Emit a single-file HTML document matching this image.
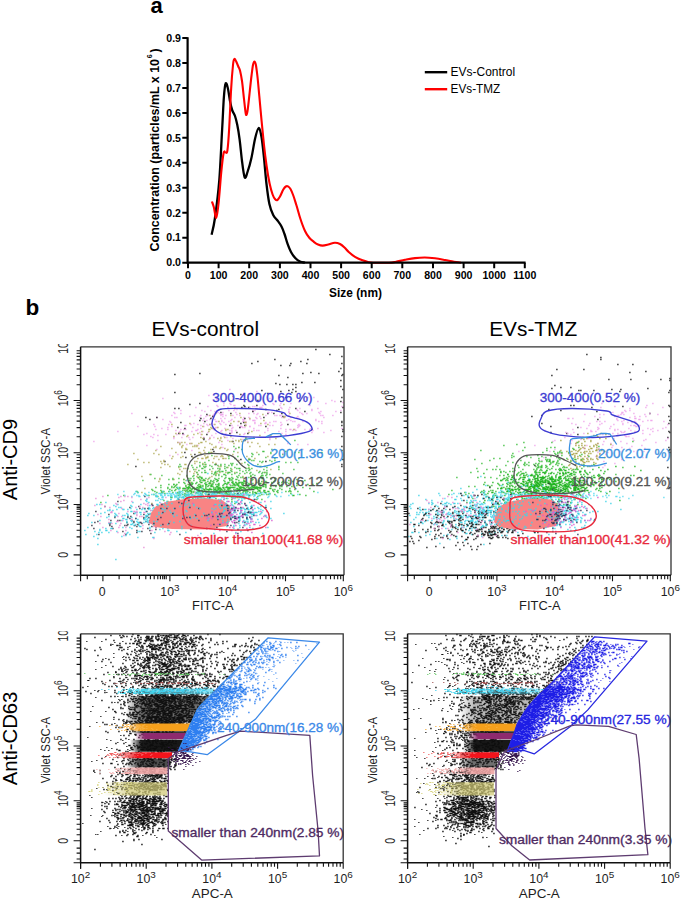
<!DOCTYPE html><html><head><meta charset="utf-8"><style>html,body{margin:0;padding:0;background:#fff;}svg{display:block;font-family:"Liberation Sans", sans-serif;}</style></head><body>
<svg width="685" height="905" viewBox="0 0 685 905">
<defs><clipPath id="ctop"><rect x="0" y="344.0" width="685" height="60"/></clipPath><clipPath id="cbot"><rect x="0" y="631.3" width="685" height="60"/></clipPath></defs>
<rect width="100%" height="100%" fill="#fff"/>
<path d="M211.6 234.7 C212.1 232.1 213.5 228.1 214.8 219.0 C216.1 209.9 218.1 194.8 219.3 180.0 C220.5 165.2 221.3 143.8 222.1 130.0 C222.9 116.2 223.3 104.8 223.9 97.0 C224.5 89.2 224.9 85.0 225.6 83.5 C226.2 82.0 227.0 84.9 227.8 88.0 C228.6 91.1 229.4 98.2 230.2 102.0 C230.9 105.8 231.5 108.2 232.3 110.5 C233.1 112.8 234.2 113.6 235.0 116.0 C235.8 118.4 236.5 121.1 237.3 125.0 C238.1 128.9 238.8 133.3 239.6 139.3 C240.4 145.3 241.2 154.6 242.0 161.0 C242.8 167.4 243.8 175.7 244.7 177.5 C245.6 179.3 246.4 175.2 247.5 172.0 C248.6 168.8 250.1 164.0 251.3 158.5 C252.6 153.0 253.8 144.1 255.0 139.0 C256.2 133.9 257.5 128.3 258.6 128.0 C259.7 127.7 260.6 132.0 261.5 137.0 C262.4 142.0 263.2 150.2 264.0 158.0 C264.8 165.8 265.6 176.3 266.5 184.0 C267.4 191.7 268.3 198.8 269.4 204.0 C270.5 209.2 271.8 212.2 273.2 215.0 C274.6 217.8 276.1 218.6 277.5 220.5 C278.9 222.4 280.3 224.2 281.5 226.5 C282.7 228.8 283.5 231.2 284.5 234.0 C285.5 236.8 286.4 240.6 287.5 243.6 C288.6 246.6 289.7 249.6 291.0 252.0 C292.3 254.4 294.0 256.7 295.5 258.3 C297.0 259.9 298.4 260.8 300.0 261.5 C301.6 262.2 304.2 262.5 305.0 262.7" fill="none" stroke="#000" stroke-width="2.3" stroke-linejoin="round"/>
<path d="M211.9 201.5 C212.2 202.4 213.1 204.3 213.8 207.0 C214.5 209.7 215.4 218.5 216.2 217.8 C217.0 217.1 217.8 210.5 218.6 203.0 C219.4 195.5 220.4 181.3 221.2 173.0 C222.0 164.7 222.9 156.4 223.6 153.0 C224.3 149.6 225.0 152.7 225.6 152.3 C226.2 151.9 226.8 154.6 227.4 150.5 C228.0 146.4 228.6 138.4 229.2 128.0 C229.8 117.6 230.5 98.7 231.2 88.0 C231.8 77.3 232.6 68.8 233.1 64.0 C233.6 59.2 233.9 59.4 234.4 59.0 C234.9 58.6 235.5 60.2 236.2 61.5 C236.8 62.8 237.7 65.0 238.3 66.5 C238.9 68.0 239.4 68.1 240.0 70.5 C240.6 72.9 241.3 76.2 242.0 81.0 C242.7 85.8 243.4 93.8 244.0 99.0 C244.6 104.2 245.1 109.4 245.5 112.0 C245.9 114.6 246.1 115.3 246.5 114.8 C246.9 114.3 247.3 112.6 247.8 109.0 C248.3 105.4 249.0 98.7 249.6 93.0 C250.2 87.3 251.0 79.8 251.6 75.0 C252.2 70.2 252.6 66.8 253.1 64.5 C253.6 62.2 253.9 61.5 254.4 61.5 C254.9 61.5 255.3 62.1 255.8 64.5 C256.3 66.9 256.8 70.8 257.4 76.0 C258.0 81.2 258.6 88.5 259.3 96.0 C260.0 103.5 260.8 112.8 261.6 121.0 C262.4 129.2 263.2 137.5 264.0 145.0 C264.8 152.5 265.7 159.6 266.6 166.0 C267.5 172.4 268.6 178.8 269.6 183.5 C270.6 188.2 271.7 191.9 272.6 194.5 C273.5 197.1 274.4 198.4 275.2 199.3 C276.0 200.2 276.6 200.5 277.4 200.0 C278.2 199.5 279.0 198.2 280.0 196.5 C281.0 194.8 282.3 191.2 283.3 189.5 C284.3 187.8 285.0 187.0 285.8 186.5 C286.6 186.0 287.2 186.0 288.0 186.4 C288.8 186.8 289.6 187.5 290.5 189.0 C291.4 190.5 292.3 192.8 293.3 195.5 C294.3 198.2 295.3 201.7 296.5 205.5 C297.7 209.3 298.9 214.2 300.3 218.5 C301.7 222.8 303.5 227.8 305.0 231.0 C306.5 234.2 308.0 236.2 309.5 238.0 C311.0 239.8 312.4 240.7 313.8 241.8 C315.2 242.9 316.5 243.9 318.0 244.5 C319.5 245.1 320.9 245.6 322.6 245.6 C324.3 245.6 326.3 245.0 328.3 244.5 C330.3 244.0 332.9 242.8 334.8 242.7 C336.8 242.6 338.4 243.2 340.0 244.0 C341.6 244.8 343.0 246.1 344.5 247.5 C346.0 248.9 347.2 250.8 349.0 252.3 C350.8 253.9 352.8 255.5 355.0 256.8 C357.2 258.1 360.3 259.5 362.5 260.3 C364.7 261.1 366.2 261.5 368.0 261.9 C369.8 262.3 369.5 262.6 373.0 262.7 C376.5 262.8 385.2 262.8 389.0 262.7 C392.8 262.6 393.3 262.3 396.0 261.8 C398.7 261.3 401.8 260.4 405.0 259.8 C408.2 259.2 411.7 258.5 415.0 258.1 C418.3 257.7 421.4 257.5 424.7 257.5 C428.0 257.5 431.6 257.9 435.0 258.3 C438.4 258.7 441.8 259.4 445.0 260.0 C448.2 260.6 451.3 261.4 454.0 261.8 C456.7 262.2 459.8 262.6 461.0 262.7" fill="none" stroke="#ff0000" stroke-width="2.1" stroke-linejoin="round"/>
<path d="M187.6 37.2 V262.7 H525.6" fill="none" stroke="#000" stroke-width="2.2"/>
<path d="M182.3 262.7H187.6M182.3 237.7H187.6M182.3 212.8H187.6M182.3 187.8H187.6M182.3 162.8H187.6M182.3 137.8H187.6M182.3 112.9H187.6M182.3 87.9H187.6M182.3 62.9H187.6M182.3 38.0H187.6M188.0 262.7V268.2M218.6 262.7V268.2M249.2 262.7V268.2M279.9 262.7V268.2M310.5 262.7V268.2M341.1 262.7V268.2M371.7 262.7V268.2M402.3 262.7V268.2M433.0 262.7V268.2M463.6 262.7V268.2M494.2 262.7V268.2M524.8 262.7V268.2" fill="none" stroke="#000" stroke-width="2"/>
<text x="181.0" y="266.4" font-size="10.60" text-anchor="end" font-weight="bold">0.0</text>
<text x="181.0" y="241.4" font-size="10.60" text-anchor="end" font-weight="bold">0.1</text>
<text x="181.0" y="216.5" font-size="10.60" text-anchor="end" font-weight="bold">0.2</text>
<text x="181.0" y="191.5" font-size="10.60" text-anchor="end" font-weight="bold">0.3</text>
<text x="181.0" y="166.5" font-size="10.60" text-anchor="end" font-weight="bold">0.4</text>
<text x="181.0" y="141.5" font-size="10.60" text-anchor="end" font-weight="bold">0.5</text>
<text x="181.0" y="116.6" font-size="10.60" text-anchor="end" font-weight="bold">0.6</text>
<text x="181.0" y="91.6" font-size="10.60" text-anchor="end" font-weight="bold">0.7</text>
<text x="181.0" y="66.6" font-size="10.60" text-anchor="end" font-weight="bold">0.8</text>
<text x="181.0" y="41.7" font-size="10.60" text-anchor="end" font-weight="bold">0.9</text>
<text x="188.0" y="279.2" font-size="10.60" text-anchor="middle" font-weight="bold">0</text>
<text x="218.6" y="279.2" font-size="10.60" text-anchor="middle" font-weight="bold">100</text>
<text x="249.2" y="279.2" font-size="10.60" text-anchor="middle" font-weight="bold">200</text>
<text x="279.9" y="279.2" font-size="10.60" text-anchor="middle" font-weight="bold">300</text>
<text x="310.5" y="279.2" font-size="10.60" text-anchor="middle" font-weight="bold">400</text>
<text x="341.1" y="279.2" font-size="10.60" text-anchor="middle" font-weight="bold">500</text>
<text x="371.7" y="279.2" font-size="10.60" text-anchor="middle" font-weight="bold">600</text>
<text x="402.3" y="279.2" font-size="10.60" text-anchor="middle" font-weight="bold">700</text>
<text x="433.0" y="279.2" font-size="10.60" text-anchor="middle" font-weight="bold">800</text>
<text x="463.6" y="279.2" font-size="10.60" text-anchor="middle" font-weight="bold">900</text>
<text x="494.2" y="279.2" font-size="10.60" text-anchor="middle" font-weight="bold">1000</text>
<text x="524.8" y="279.2" font-size="10.60" text-anchor="middle" font-weight="bold">1100</text>
<text x="355.5" y="296.6" font-size="11.90" text-anchor="middle" font-weight="bold">Size (nm)</text>
<text x="159.0" y="251.4" font-size="12" font-weight="bold" textLength="192.4" lengthAdjust="spacingAndGlyphs" transform="rotate(-90 159.0 251.4)">Concentration (particles/mL x 10</text>
<text x="151.6" y="58.3" font-size="7.2" font-weight="bold" transform="rotate(-90 151.6 58.3)">6</text>
<text x="159.0" y="52.4" font-size="12" font-weight="bold" transform="rotate(-90 159.0 52.4)">)</text>
<path d="M424.8 72.2H447.2" stroke="#000" stroke-width="2.4"/>
<path d="M424.8 89.2H447.2" stroke="#ff0000" stroke-width="2.4"/>
<text x="450.6" y="76.1" font-size="12.00" textLength="64.5" lengthAdjust="spacingAndGlyphs">EVs-Control</text>
<text x="450.6" y="93.2" font-size="12.00" textLength="49.6" lengthAdjust="spacingAndGlyphs">EVs-TMZ</text>
<text x="150.6" y="12.6" font-size="22.00" font-weight="bold">a</text>
<g transform="translate(0.25 0.5)" fill="none"><path stroke="#1a1a1a" stroke-width="1.3" d="M315 349h1.3M329 354h1.3M274 359h1.3m31.7 0h1.3M257 361h1.3m41.7 0h1.3M251 363h1.3m37.7 0h1.3m14.7 0h1.3M280 365h1.3m7.7 0h1.3M340 368h1.3M338 371h1.3M310 372h1.3M302 373h1.3m14.7 0h1.3M278 375h1.3M287 377h1.3M301 382h1.3m11.7 0h1.3M275 383h1.3M279 384h1.3m5.7 0h1.3m4.7 0h1.3m1.7 0h1.3M295 387h1.3M292 389h1.3M261 390h1.3m25.7 0h1.3M280 391h1.3m13.7 0h1.3M291 392h1.3M267 393h1.3M240 394h1.3M285 397h1.3M257 400h1.3m40.7 0h1.3M243 405h1.3m11.7 0h1.3M244 406h1.3M241 407h1.3m5.7 0h1.3M234 408h1.3m59.7 0h1.3M265 409h1.3m11.7 0h1.3M276 410h1.3M304 411h1.3M220 412h1.3M267 413h1.3m4.7 0h1.3m6.7 0h1.3M282 416h1.3M263 417h1.3M240 423h1.3M287 424h1.3M229 425h1.3M265 426h1.3M311 429h1.3M213 451h1.3"/>
<path stroke="#1a1a1a" stroke-width="1.3" d="M341 356h1.3M341 363h1.3M342 374h1.3M341 375h1.3M340 380h1.3M340 386h1.3M342 389h1.3M341 397h1.3M340 401h1.3M342 407h1.3M340 412h1.3M341 421h1.3M341 422h1.3M341 425h1.3M342 429h1.3M342 431h1.3M341 436h1.3M341 446h1.3M341 450h1.3M342 459h1.3M341 464h1.3M341 466h1.3"/>
<path stroke="#f0a8ec" stroke-width="1.3" d="M229 389h1.3M256 391h1.3M208 395h1.3m69.7 0h1.3M278 397h1.3m2.7 0h1.3M162 398h1.3M216 399h1.3m20.7 0h1.3M220 401h1.3m26.7 0h1.3M223 403h1.3m4.7 0h1.3m41.7 0h1.3m6.7 0h1.3M230 404h1.3m41.7 0h1.3M216 405h1.3m5.7 0h1.3m8.7 0h1.3m-0.3 0h1.3m26.7 0h1.3m15.7 0h1.3M207 406h1.3m8.7 0h1.3m33.7 0h1.3m0.7 0h1.3M195 407h1.3m30.7 0h1.3m20.7 0h1.3m8.7 0h1.3m-0.3 0h1.3m18.7 0h1.3M245 408h1.3m9.7 0h1.3m23.7 0h1.3M236 409h1.3m73.7 0h1.3M180 410h1.3m19.7 0h1.3m7.7 0h1.3m16.7 0h1.3m3.7 0h1.3m17.7 0h1.3m0.7 0h1.3M204 411h1.3m8.7 0h1.3m0.7 0h1.3m34.7 0h1.3M173 412h1.3m42.7 0h1.3m3.7 0h1.3m11.7 0h1.3m30.7 0h1.3m-0.3 0h1.3m29.7 0h1.3M131 413h1.3m41.7 0h1.3m4.7 0h1.3m32.7 0h1.3m3.7 0h1.3m36.7 0h1.3m25.7 0h1.3M213 414h1.3m5.7 0h1.3m-0.3 0h1.3m-0.3 0h1.3m12.7 0h1.3m18.7 0h1.3m44.7 0h1.3M171 415h1.3m21.7 0h1.3m4.7 0h1.3m5.7 0h1.3m3.7 0h1.3m-0.3 0h1.3m5.7 0h1.3m3.7 0h1.3m5.7 0h1.3m5.7 0h1.3m24.7 0h1.3m7.7 0h1.3m3.7 0h1.3M189 416h1.3m14.7 0h1.3m15.7 0h1.3m35.7 0h1.3m23.7 0h1.3M156 417h1.3m16.7 0h1.3m0.7 0h1.3m21.7 0h1.3m10.7 0h1.3m21.7 0h1.3m7.7 0h1.3m3.7 0h1.3m5.7 0h1.3m33.7 0h1.3m4.7 0h1.3m25.7 0h1.3M203 418h1.3m15.7 0h1.3m2.7 0h1.3m30.7 0h1.3m2.7 0h1.3M162 419h1.3m45.7 0h1.3m3.7 0h1.3m15.7 0h1.3m9.7 0h1.3m-0.3 0h1.3m4.7 0h1.3M202 420h1.3m2.7 0h1.3m13.7 0h1.3m7.7 0h1.3m11.7 0h1.3m7.7 0h1.3m-0.3 0h1.3M169 421h1.3m44.7 0h1.3m-0.3 0h1.3m3.7 0h1.3m5.7 0h1.3m7.7 0h1.3m3.7 0h1.3m29.7 0h1.3m0.7 0h1.3M170 422h1.3m51.7 0h1.3m20.7 0h1.3m7.7 0h1.3m9.7 0h1.3m2.7 0h1.3M193 423h1.3m8.7 0h1.3m6.7 0h1.3m6.7 0h1.3m43.7 0h1.3m-0.3 0h1.3M153 424h1.3m13.7 0h1.3m20.7 0h1.3m5.7 0h1.3m7.7 0h1.3m1.7 0h1.3m2.7 0h1.3m5.7 0h1.3m3.7 0h1.3m18.7 0h1.3M184 425h1.3m-0.3 0h1.3m13.7 0h1.3m5.7 0h1.3m22.7 0h1.3m25.7 0h1.3m0.7 0h1.3M137 426h1.3m15.7 0h1.3m15.7 0h1.3m30.7 0h1.3m35.7 0h1.3m7.7 0h1.3m47.7 0h1.3M167 427h1.3m23.7 0h1.3m21.7 0h1.3m-0.3 0h1.3m14.7 0h1.3m8.7 0h1.3m0.7 0h1.3M161 428h1.3m37.7 0h1.3m10.7 0h1.3m0.7 0h1.3m8.7 0h1.3m5.7 0h1.3M155 429h1.3m10.7 0h1.3m11.7 0h1.3m1.7 0h1.3m0.7 0h1.3m10.7 0h1.3m14.7 0h1.3m89.7 0h1.3M175 430h1.3m18.7 0h1.3m-0.3 0h1.3m23.7 0h1.3m6.7 0h1.3m0.7 0h1.3m2.7 0h1.3m11.7 0h1.3m6.7 0h1.3m0.7 0h1.3m7.7 0h1.3M117 431h1.3m60.7 0h1.3m10.7 0h1.3m9.7 0h1.3m16.7 0h1.3m9.7 0h1.3M178 432h1.3m19.7 0h1.3m6.7 0h1.3m22.7 0h1.3m31.7 0h1.3M146 433h1.3m67.7 0h1.3m8.7 0h1.3m3.7 0h1.3m12.7 0h1.3M143 434h1.3m8.7 0h1.3m10.7 0h1.3m9.7 0h1.3m4.7 0h1.3m-0.3 0h1.3m15.7 0h1.3m41.7 0h1.3m40.7 0h1.3M157 435h1.3m52.7 0h1.3M150 436h1.3m71.7 0h1.3M152 437h1.3m19.7 0h1.3m6.7 0h1.3m5.7 0h1.3m2.7 0h1.3m9.7 0h1.3m4.7 0h1.3m2.7 0h1.3m11.7 0h1.3M173 438h1.3M189 439h1.3m17.7 0h1.3m32.7 0h1.3m25.7 0h1.3M157 440h1.3m68.7 0h1.3M93 441h1.3m152.7 0h1.3M177 442h1.3m0.7 0h1.3m37.7 0h1.3M190 443h1.3M186 444h1.3m33.7 0h1.3M146 445h1.3m49.7 0h1.3M222 447h1.3M156 449h1.3m76.7 0h1.3M191 450h1.3M177 454h1.3M169 455h1.3"/>
<path stroke="#f0a8ec" stroke-width="1.3" d="M286 397h1.3m19.7 0h1.3m4.7 0h1.3M269 398h1.3M331 400h1.3M317 401h1.3m15.7 0h1.3M342 402h1.3M290 403h1.3m33.7 0h1.3M309 405h1.3M341 406h1.3M261 407h1.3m26.7 0h1.3M299 408h1.3m16.7 0h1.3M288 409h1.3m6.7 0h1.3M297 410h1.3m12.7 0h1.3m27.7 0h1.3M288 411h1.3m30.7 0h1.3m13.7 0h1.3M271 412h1.3m15.7 0h1.3m28.7 0h1.3M248 413h1.3m3.7 0h1.3m46.7 0h1.3m3.7 0h1.3m11.7 0h1.3M276 415h1.3m2.7 0h1.3m6.7 0h1.3m30.7 0h1.3m0.7 0h1.3m8.7 0h1.3M297 416h1.3M281 417h1.3m1.7 0h1.3M298 418h1.3M288 419h1.3m25.7 0h1.3M254 420h1.3m30.7 0h1.3m2.7 0h1.3m23.7 0h1.3M245 421h1.3m45.7 0h1.3m0.7 0h1.3m6.7 0h1.3m14.7 0h1.3m1.7 0h1.3M280 422h1.3M254 423h1.3m65.7 0h1.3M281 424h1.3m15.7 0h1.3M237 425h1.3m30.7 0h1.3m1.7 0h1.3m6.7 0h1.3m15.7 0h1.3m0.7 0h1.3M240 426h1.3m-0.3 0h1.3m6.7 0h1.3M239 427h1.3m56.7 0h1.3M253 428h1.3m12.7 0h1.3m11.7 0h1.3m28.7 0h1.3m5.7 0h1.3m22.7 0h1.3M285 429h1.3m2.7 0h1.3m-0.3 0h1.3m2.7 0h1.3m13.7 0h1.3M253 430h1.3m37.7 0h1.3m1.7 0h1.3m15.7 0h1.3m16.7 0h1.3M278 431h1.3m5.7 0h1.3M311 432h1.3m10.7 0h1.3M281 433h1.3M232 438h1.3m35.7 0h1.3M287 441h1.3M287 443h1.3M297 444h1.3m8.7 0h1.3M302 449h1.3M282 453h1.3"/>
<path stroke="#1a1a1a" stroke-width="1.3" d="M199 373h1.3M174 374h1.3M174 392h1.3M199 403h1.3M189 404h1.3M174 408h1.3m2.7 0h1.3M252 411h1.3M230 413h1.3M206 414h1.3M212 416h1.3M145 417h1.3m9.7 0h1.3M200 418h1.3m8.7 0h1.3m32.7 0h1.3M149 419h1.3M199 420h1.3M204 421h1.3M180 422h1.3m61.7 0h1.3M244 425h1.3M177 427h1.3m60.7 0h1.3M184 428h1.3M236 432h1.3M178 433h1.3m2.7 0h1.3m45.7 0h1.3m16.7 0h1.3M206 434h1.3M203 438h1.3M203 439h1.3M244 440h1.3M232 441h1.3M212 449h1.3M184 452h1.3M194 454h1.3M191 456h1.3M185 457h1.3M240 459h1.3M164 461h1.3m99.7 0h1.3M215 464h1.3M135 466h1.3"/>
<path stroke="#b4b060" stroke-width="1.3" d="M232 396h1.3M233 400h1.3M283 404h1.3M215 413h1.3m22.7 0h1.3m48.7 0h1.3M262 414h1.3M209 415h1.3m19.7 0h1.3M284 416h1.3M240 417h1.3m41.7 0h1.3M249 418h1.3M263 420h1.3M218 421h1.3m13.7 0h1.3m3.7 0h1.3M244 422h1.3m-0.3 0h1.3M189 423h1.3m39.7 0h1.3m28.7 0h1.3M171 424h1.3m36.7 0h1.3m3.7 0h1.3m51.7 0h1.3M245 425h1.3M202 426h1.3M210 427h1.3m5.7 0h1.3M211 428h1.3M208 429h1.3m-0.3 0h1.3m3.7 0h1.3m9.7 0h1.3m0.7 0h1.3m64.7 0h1.3M225 430h1.3M201 431h1.3m5.7 0h1.3m41.7 0h1.3M248 432h1.3M175 433h1.3m2.7 0h1.3m16.7 0h1.3m22.7 0h1.3M193 434h1.3m6.7 0h1.3m36.7 0h1.3M187 435h1.3m70.7 0h1.3m9.7 0h1.3m8.7 0h1.3M173 436h1.3m11.7 0h1.3m42.7 0h1.3m49.7 0h1.3M200 437h1.3m18.7 0h1.3m2.7 0h1.3m19.7 0h1.3m6.7 0h1.3M202 438h1.3m5.7 0h1.3m6.7 0h1.3m1.7 0h1.3m53.7 0h1.3M240 439h1.3m2.7 0h1.3m0.7 0h1.3M219 440h1.3m14.7 0h1.3m1.7 0h1.3m3.7 0h1.3M205 441h1.3m14.7 0h1.3m6.7 0h1.3m0.7 0h1.3m5.7 0h1.3m1.7 0h1.3M177 442h1.3m2.7 0h1.3m1.7 0h1.3m14.7 0h1.3m-0.3 0h1.3m44.7 0h1.3m2.7 0h1.3M179 443h1.3m8.7 0h1.3m0.7 0h1.3m5.7 0h1.3m9.7 0h1.3m22.7 0h1.3m22.7 0h1.3M179 444h1.3m30.7 0h1.3m55.7 0h1.3m4.7 0h1.3M182 445h1.3m10.7 0h1.3m0.7 0h1.3M160 446h1.3m19.7 0h1.3m9.7 0h1.3m0.7 0h1.3m0.7 0h1.3m17.7 0h1.3m32.7 0h1.3m8.7 0h1.3M181 447h1.3m21.7 0h1.3m7.7 0h1.3m0.7 0h1.3m3.7 0h1.3m16.7 0h1.3M171 448h1.3m12.7 0h1.3m11.7 0h1.3m19.7 0h1.3m3.7 0h1.3M185 449h1.3m-0.3 0h1.3m22.7 0h1.3m15.7 0h1.3M155 450h1.3m46.7 0h1.3m21.7 0h1.3M175 452h1.3m4.7 0h1.3m15.7 0h1.3m-0.3 0h1.3m3.7 0h1.3m4.7 0h1.3m-0.3 0h1.3m24.7 0h1.3m17.7 0h1.3M133 453h1.3m18.7 0h1.3m45.7 0h1.3m6.7 0h1.3M158 454h1.3m30.7 0h1.3m40.7 0h1.3M204 455h1.3m15.7 0h1.3m4.7 0h1.3M172 456h1.3m8.7 0h1.3m23.7 0h1.3m5.7 0h1.3m0.7 0h1.3m2.7 0h1.3m0.7 0h1.3m22.7 0h1.3m19.7 0h1.3M180 457h1.3m10.7 0h1.3m11.7 0h1.3m-0.3 0h1.3m-0.3 0h1.3M171 458h1.3m24.7 0h1.3m2.7 0h1.3m-0.3 0h1.3m1.7 0h1.3m6.7 0h1.3m7.7 0h1.3m-0.3 0h1.3m0.7 0h1.3m21.7 0h1.3m4.7 0h1.3M137 459h1.3m79.7 0h1.3m29.7 0h1.3M163 460h1.3m73.7 0h1.3m7.7 0h1.3M160 461h1.3m1.7 0h1.3m29.7 0h1.3m0.7 0h1.3M143 462h1.3m3.7 0h1.3m62.7 0h1.3M161 463h1.3m31.7 0h1.3m6.7 0h1.3m11.7 0h1.3m24.7 0h1.3M127 464h1.3m35.7 0h1.3m1.7 0h1.3m15.7 0h1.3m-0.3 0h1.3m17.7 0h1.3M169 466h1.3m47.7 0h1.3m0.7 0h1.3M160 467h1.3m16.7 0h1.3m47.7 0h1.3m19.7 0h1.3M183 468h1.3m0.7 0h1.3M179 469h1.3m14.7 0h1.3m34.7 0h1.3m37.7 0h1.3M218 470h1.3m36.7 0h1.3M181 471h1.3m6.7 0h1.3m3.7 0h1.3m15.7 0h1.3M196 472h1.3m21.7 0h1.3m4.7 0h1.3m7.7 0h1.3m28.7 0h1.3M177 473h1.3m14.7 0h1.3m21.7 0h1.3M149 474h1.3m28.7 0h1.3m16.7 0h1.3m16.7 0h1.3M141 476h1.3m43.7 0h1.3m8.7 0h1.3m13.7 0h1.3m29.7 0h1.3m6.7 0h1.3M209 477h1.3M159 478h1.3m37.7 0h1.3M159 479h1.3m12.7 0h1.3m8.7 0h1.3m22.7 0h1.3M185 480h1.3m2.7 0h1.3m13.7 0h1.3M158 481h1.3M190 482h1.3M210 483h1.3m25.7 0h1.3M187 484h1.3m10.7 0h1.3M144 488h1.3m83.7 0h1.3M216 491h1.3M141 492h1.3m19.7 0h1.3M155 495h1.3M203 499h1.3M151 503h1.3"/>
<path stroke="#48c048" stroke-width="1.3" d="M245 438h1.3M294 440h1.3M233 446h1.3M238 447h1.3M235 448h1.3M241 449h1.3m28.7 0h1.3M233 451h1.3m27.7 0h1.3m-0.3 0h1.3m20.7 0h1.3M208 452h1.3m60.7 0h1.3m22.7 0h1.3m2.7 0h1.3m21.7 0h1.3M251 453h1.3m17.7 0h1.3M252 454h1.3m4.7 0h1.3m22.7 0h1.3M211 455h1.3M228 456h1.3m7.7 0h1.3m12.7 0h1.3M265 457h1.3M228 458h1.3m4.7 0h1.3m38.7 0h1.3m22.7 0h1.3M248 459h1.3m-0.3 0h1.3M208 460h1.3m41.7 0h1.3m0.7 0h1.3m14.7 0h1.3m3.7 0h1.3M259 461h1.3m1.7 0h1.3m7.7 0h1.3M199 462h1.3m3.7 0h1.3m38.7 0h1.3m15.7 0h1.3m22.7 0h1.3m3.7 0h1.3m5.7 0h1.3M230 463h1.3m0.7 0h1.3M179 464h1.3m21.7 0h1.3m1.7 0h1.3m7.7 0h1.3m4.7 0h1.3m2.7 0h1.3m5.7 0h1.3m3.7 0h1.3m9.7 0h1.3m8.7 0h1.3M191 465h1.3m6.7 0h1.3m8.7 0h1.3m6.7 0h1.3m1.7 0h1.3m6.7 0h1.3m1.7 0h1.3m15.7 0h1.3M178 466h1.3m0.7 0h1.3m17.7 0h1.3m2.7 0h1.3m0.7 0h1.3m4.7 0h1.3m11.7 0h1.3m33.7 0h1.3m-0.3 0h1.3m2.7 0h1.3m12.7 0h1.3M192 467h1.3m2.7 0h1.3m6.7 0h1.3m20.7 0h1.3m6.7 0h1.3m30.7 0h1.3m10.7 0h1.3M187 468h1.3m12.7 0h1.3m-0.3 0h1.3m8.7 0h1.3m3.7 0h1.3m0.7 0h1.3m3.7 0h1.3m4.7 0h1.3m4.7 0h1.3m0.7 0h1.3m-0.3 0h1.3m5.7 0h1.3m0.7 0h1.3m1.7 0h1.3M193 469h1.3m14.7 0h1.3m8.7 0h1.3m28.7 0h1.3m12.7 0h1.3m13.7 0h1.3m13.7 0h1.3M198 470h1.3m4.7 0h1.3m19.7 0h1.3m3.7 0h1.3m7.7 0h1.3m4.7 0h1.3m1.7 0h1.3m16.7 0h1.3M215 471h1.3m0.7 0h1.3m0.7 0h1.3m0.7 0h1.3m-0.3 0h1.3m7.7 0h1.3m9.7 0h1.3m15.7 0h1.3M196 472h1.3m3.7 0h1.3m1.7 0h1.3m-0.3 0h1.3m7.7 0h1.3m-0.3 0h1.3m10.7 0h1.3m-0.3 0h1.3m-0.3 0h1.3m5.7 0h1.3m8.7 0h1.3m2.7 0h1.3m6.7 0h1.3m2.7 0h1.3m0.7 0h1.3m0.7 0h1.3M211 473h1.3m1.7 0h1.3m11.7 0h1.3m5.7 0h1.3m3.7 0h1.3m3.7 0h1.3m3.7 0h1.3m10.7 0h1.3m3.7 0h1.3m14.7 0h1.3M150 474h1.3m45.7 0h1.3m14.7 0h1.3m3.7 0h1.3m3.7 0h1.3m-0.3 0h1.3m5.7 0h1.3m19.7 0h1.3m12.7 0h1.3m1.7 0h1.3M161 475h1.3m23.7 0h1.3m5.7 0h1.3m20.7 0h1.3m1.7 0h1.3m5.7 0h1.3m11.7 0h1.3m10.7 0h1.3m2.7 0h1.3m6.7 0h1.3M192 476h1.3m5.7 0h1.3m20.7 0h1.3m13.7 0h1.3M197 477h1.3m-0.3 0h1.3m0.7 0h1.3m-0.3 0h1.3m22.7 0h1.3m4.7 0h1.3m4.7 0h1.3m1.7 0h1.3m0.7 0h1.3m4.7 0h1.3m12.7 0h1.3m2.7 0h1.3M154 478h1.3m16.7 0h1.3m4.7 0h1.3m8.7 0h1.3m0.7 0h1.3m1.7 0h1.3m6.7 0h1.3m2.7 0h1.3m1.7 0h1.3m4.7 0h1.3m2.7 0h1.3m4.7 0h1.3m24.7 0h1.3m23.7 0h1.3M168 479h1.3m2.7 0h1.3m9.7 0h1.3m18.7 0h1.3m10.7 0h1.3m-0.3 0h1.3m11.7 0h1.3m0.7 0h1.3m2.7 0h1.3m-0.3 0h1.3m58.7 0h1.3M142 480h1.3m45.7 0h1.3m2.7 0h1.3m5.7 0h1.3m0.7 0h1.3m9.7 0h1.3m2.7 0h1.3m4.7 0h1.3m6.7 0h1.3m18.7 0h1.3m5.7 0h1.3M199 481h1.3m9.7 0h1.3m31.7 0h1.3m-0.3 0h1.3M191 482h1.3m12.7 0h1.3m6.7 0h1.3m20.7 0h1.3m3.7 0h1.3m14.7 0h1.3m8.7 0h1.3m18.7 0h1.3M191 483h1.3m-0.3 0h1.3m14.7 0h1.3m-0.3 0h1.3m1.7 0h1.3m19.7 0h1.3m6.7 0h1.3m15.7 0h1.3M173 484h1.3m16.7 0h1.3m12.7 0h1.3m5.7 0h1.3m4.7 0h1.3m21.7 0h1.3m-0.3 0h1.3m19.7 0h1.3M197 485h1.3m36.7 0h1.3m8.7 0h1.3m28.7 0h1.3M185 486h1.3m25.7 0h1.3m2.7 0h1.3m38.7 0h1.3M160 487h1.3m31.7 0h1.3m5.7 0h1.3m11.7 0h1.3m2.7 0h1.3m-0.3 0h1.3m14.7 0h1.3m3.7 0h1.3m14.7 0h1.3m3.7 0h1.3M183 488h1.3m7.7 0h1.3m0.7 0h1.3m48.7 0h1.3M196 489h1.3m12.7 0h1.3m-0.3 0h1.3m15.7 0h1.3m5.7 0h1.3m15.7 0h1.3m18.7 0h1.3M189 490h1.3m10.7 0h1.3m33.7 0h1.3M161 491h1.3m25.7 0h1.3m16.7 0h1.3m11.7 0h1.3m36.7 0h1.3M245 493h1.3M186 494h1.3m11.7 0h1.3m12.7 0h1.3m13.7 0h1.3M202 495h1.3m33.7 0h1.3M157 496h1.3m26.7 0h1.3m15.7 0h1.3m25.7 0h1.3M170 497h1.3m9.7 0h1.3M177 498h1.3m9.7 0h1.3m14.7 0h1.3m20.7 0h1.3M201 499h1.3m8.7 0h1.3M163 500h1.3m30.7 0h1.3M167 501h1.3m62.7 0h1.3M177 502h1.3M162 504h1.3m26.7 0h1.3m34.7 0h1.3M168 507h1.3"/>
<path stroke="#34bc34" stroke-width="1.3" d="M261 475h1.3m2.7 0h1.3M250 476h1.3m8.7 0h1.3M201 478h1.3m25.7 0h1.3m-0.3 0h1.3m1.7 0h1.3m27.7 0h1.3m-0.3 0h1.3m6.7 0h1.3m2.7 0h1.3M199 479h1.3m51.7 0h1.3M188 480h1.3m13.7 0h1.3m-0.3 0h1.3m4.7 0h1.3m5.7 0h1.3m10.7 0h1.3m7.7 0h1.3m3.7 0h1.3m29.7 0h1.3m12.7 0h1.3m14.7 0h1.3m14.7 0h1.3M207 481h1.3m3.7 0h1.3m2.7 0h1.3m6.7 0h1.3m6.7 0h1.3m10.7 0h1.3m12.7 0h1.3m1.7 0h1.3m2.7 0h1.3m6.7 0h1.3m7.7 0h1.3m8.7 0h1.3m8.7 0h1.3M178 482h1.3m3.7 0h1.3m11.7 0h1.3m2.7 0h1.3m-0.3 0h1.3m6.7 0h1.3m16.7 0h1.3m-0.3 0h1.3m1.7 0h1.3m-0.3 0h1.3m1.7 0h1.3m1.7 0h1.3m-0.3 0h1.3m0.7 0h1.3m-0.3 0h1.3m2.7 0h1.3m16.7 0h1.3m5.7 0h1.3m5.7 0h1.3m1.7 0h1.3m1.7 0h1.3M184 483h1.3m3.7 0h1.3m4.7 0h1.3m7.7 0h1.3m3.7 0h1.3m7.7 0h1.3m4.7 0h1.3m-0.3 0h1.3m0.7 0h1.3m3.7 0h1.3m2.7 0h1.3m0.7 0h1.3m3.7 0h1.3m0.7 0h1.3m1.7 0h1.3m2.7 0h1.3m5.7 0h1.3m-0.3 0h1.3m9.7 0h1.3m4.7 0h1.3m9.7 0h1.3m6.7 0h1.3m18.7 0h1.3M168 484h1.3m3.7 0h1.3m1.7 0h1.3m10.7 0h1.3m-0.3 0h1.3m0.7 0h1.3m5.7 0h1.3m5.7 0h1.3m-0.3 0h1.3m3.7 0h1.3m2.7 0h1.3m0.7 0h1.3m4.7 0h1.3m1.7 0h1.3m5.7 0h1.3m-0.3 0h1.3m0.7 0h1.3m-0.3 0h1.3m3.7 0h1.3m2.7 0h1.3m0.7 0h1.3m-0.3 0h1.3m-0.3 0h1.3m6.7 0h1.3m2.7 0h1.3m-0.3 0h1.3m-0.3 0h1.3m-0.3 0h1.3m14.7 0h1.3m24.7 0h1.3m3.7 0h1.3M160 485h1.3m13.7 0h1.3m8.7 0h1.3m2.7 0h1.3m9.7 0h1.3m0.7 0h1.3m1.7 0h1.3m1.7 0h1.3m0.7 0h1.3m-0.3 0h1.3m5.7 0h1.3m2.7 0h1.3m6.7 0h1.3m0.7 0h1.3m0.7 0h1.3m1.7 0h1.3m-0.3 0h1.3m2.7 0h1.3m1.7 0h1.3m0.7 0h1.3m4.7 0h1.3m-0.3 0h1.3m3.7 0h1.3m4.7 0h1.3m6.7 0h1.3m4.7 0h1.3m15.7 0h1.3M171 486h1.3m1.7 0h1.3m12.7 0h1.3m8.7 0h1.3m-0.3 0h1.3m-0.3 0h1.3m0.7 0h1.3m1.7 0h1.3m0.7 0h1.3m1.7 0h1.3m-0.3 0h1.3m3.7 0h1.3m-0.3 0h1.3m7.7 0h1.3m10.7 0h1.3m0.7 0h1.3m5.7 0h1.3m2.7 0h1.3m-0.3 0h1.3m0.7 0h1.3m6.7 0h1.3m-0.3 0h1.3m0.7 0h1.3m3.7 0h1.3m3.7 0h1.3m2.7 0h1.3m0.7 0h1.3m3.7 0h1.3m3.7 0h1.3M155 487h1.3m10.7 0h1.3m2.7 0h1.3m0.7 0h1.3m1.7 0h1.3m1.7 0h1.3m5.7 0h1.3m-0.3 0h1.3m-0.3 0h1.3m-0.3 0h1.3m5.7 0h1.3m-0.3 0h1.3m0.7 0h1.3m-0.3 0h1.3m3.7 0h1.3m8.7 0h1.3m2.7 0h1.3m1.7 0h1.3m-0.3 0h1.3m0.7 0h1.3m-0.3 0h1.3m-0.3 0h1.3m-0.3 0h1.3m-0.3 0h1.3m-0.3 0h1.3m-0.3 0h1.3m-0.3 0h1.3m-0.3 0h1.3m4.7 0h1.3m-0.3 0h1.3m-0.3 0h1.3m-0.3 0h1.3m-0.3 0h1.3m1.7 0h1.3m0.7 0h1.3m0.7 0h1.3m0.7 0h1.3m-0.3 0h1.3m-0.3 0h1.3m-0.3 0h1.3m-0.3 0h1.3m-0.3 0h1.3m-0.3 0h1.3m-0.3 0h1.3m-0.3 0h1.3m3.7 0h1.3m35.7 0h1.3M167 488h1.3m8.7 0h1.3m0.7 0h1.3m1.7 0h1.3m-0.3 0h1.3m-0.3 0h1.3m-0.3 0h1.3m0.7 0h1.3m-0.3 0h1.3m0.7 0h1.3m0.7 0h1.3m0.7 0h1.3m0.7 0h1.3m0.7 0h1.3m2.7 0h1.3m1.7 0h1.3m2.7 0h1.3m2.7 0h1.3m0.7 0h1.3m0.7 0h1.3m-0.3 0h1.3m-0.3 0h1.3m-0.3 0h1.3m1.7 0h1.3m2.7 0h1.3m-0.3 0h1.3m-0.3 0h1.3m5.7 0h1.3m-0.3 0h1.3m0.7 0h1.3m-0.3 0h1.3m1.7 0h1.3m-0.3 0h1.3m2.7 0h1.3m-0.3 0h1.3m0.7 0h1.3m1.7 0h1.3m-0.3 0h1.3m-0.3 0h1.3m-0.3 0h1.3m0.7 0h1.3m-0.3 0h1.3m7.7 0h1.3m-0.3 0h1.3m7.7 0h1.3m8.7 0h1.3m18.7 0h1.3M151 489h1.3m16.7 0h1.3m4.7 0h1.3m8.7 0h1.3m0.7 0h1.3m2.7 0h1.3m1.7 0h1.3m0.7 0h1.3m0.7 0h1.3m3.7 0h1.3m-0.3 0h1.3m0.7 0h1.3m-0.3 0h1.3m-0.3 0h1.3m-0.3 0h1.3m-0.3 0h1.3m1.7 0h1.3m-0.3 0h1.3m-0.3 0h1.3m0.7 0h1.3m-0.3 0h1.3m0.7 0h1.3m-0.3 0h1.3m1.7 0h1.3m1.7 0h1.3m4.7 0h1.3m2.7 0h1.3m-0.3 0h1.3m-0.3 0h1.3m0.7 0h1.3m2.7 0h1.3m0.7 0h1.3m0.7 0h1.3m-0.3 0h1.3m1.7 0h1.3m2.7 0h1.3m15.7 0h1.3m5.7 0h1.3m11.7 0h1.3m36.7 0h1.3M152 490h1.3m6.7 0h1.3m9.7 0h1.3m1.7 0h1.3m6.7 0h1.3m0.7 0h1.3m0.7 0h1.3m1.7 0h1.3m-0.3 0h1.3m5.7 0h1.3m-0.3 0h1.3m-0.3 0h1.3m0.7 0h1.3m1.7 0h1.3m2.7 0h1.3m3.7 0h1.3m0.7 0h1.3m-0.3 0h1.3m-0.3 0h1.3m0.7 0h1.3m-0.3 0h1.3m0.7 0h1.3m0.7 0h1.3m0.7 0h1.3m0.7 0h1.3m0.7 0h1.3m2.7 0h1.3m0.7 0h1.3m-0.3 0h1.3m-0.3 0h1.3m2.7 0h1.3m-0.3 0h1.3m-0.3 0h1.3m-0.3 0h1.3m-0.3 0h1.3m10.7 0h1.3m-0.3 0h1.3m2.7 0h1.3m-0.3 0h1.3m6.7 0h1.3m3.7 0h1.3m10.7 0h1.3M136 491h1.3m16.7 0h1.3m7.7 0h1.3m3.7 0h1.3m9.7 0h1.3m4.7 0h1.3m0.7 0h1.3m1.7 0h1.3m-0.3 0h1.3m0.7 0h1.3m2.7 0h1.3m-0.3 0h1.3m-0.3 0h1.3m1.7 0h1.3m-0.3 0h1.3m-0.3 0h1.3m-0.3 0h1.3m-0.3 0h1.3m3.7 0h1.3m0.7 0h1.3m-0.3 0h1.3m-0.3 0h1.3m-0.3 0h1.3m1.7 0h1.3m-0.3 0h1.3m1.7 0h1.3m3.7 0h1.3m0.7 0h1.3m4.7 0h1.3m1.7 0h1.3m2.7 0h1.3m0.7 0h1.3m0.7 0h1.3m3.7 0h1.3m5.7 0h1.3m2.7 0h1.3m2.7 0h1.3m-0.3 0h1.3m3.7 0h1.3m1.7 0h1.3m7.7 0h1.3m1.7 0h1.3m0.7 0h1.3m5.7 0h1.3m14.7 0h1.3M137 492h1.3m17.7 0h1.3m3.7 0h1.3m9.7 0h1.3m3.7 0h1.3m0.7 0h1.3m6.7 0h1.3m2.7 0h1.3m0.7 0h1.3m0.7 0h1.3m-0.3 0h1.3m-0.3 0h1.3m3.7 0h1.3m1.7 0h1.3m-0.3 0h1.3m0.7 0h1.3m0.7 0h1.3m-0.3 0h1.3m0.7 0h1.3m2.7 0h1.3m-0.3 0h1.3m5.7 0h1.3m-0.3 0h1.3m-0.3 0h1.3m-0.3 0h1.3m0.7 0h1.3m10.7 0h1.3m1.7 0h1.3m-0.3 0h1.3m1.7 0h1.3m1.7 0h1.3m0.7 0h1.3m-0.3 0h1.3m3.7 0h1.3m2.7 0h1.3m-0.3 0h1.3m10.7 0h1.3M160 493h1.3m2.7 0h1.3m10.7 0h1.3m0.7 0h1.3m4.7 0h1.3m4.7 0h1.3m3.7 0h1.3m0.7 0h1.3m1.7 0h1.3m-0.3 0h1.3m9.7 0h1.3m-0.3 0h1.3m-0.3 0h1.3m0.7 0h1.3m-0.3 0h1.3m0.7 0h1.3m-0.3 0h1.3m-0.3 0h1.3m1.7 0h1.3m0.7 0h1.3m1.7 0h1.3m3.7 0h1.3m4.7 0h1.3m3.7 0h1.3m5.7 0h1.3m1.7 0h1.3m-0.3 0h1.3m11.7 0h1.3m19.7 0h1.3M153 494h1.3m24.7 0h1.3m1.7 0h1.3m0.7 0h1.3m-0.3 0h1.3m1.7 0h1.3m1.7 0h1.3m6.7 0h1.3m0.7 0h1.3m2.7 0h1.3m0.7 0h1.3m-0.3 0h1.3m1.7 0h1.3m0.7 0h1.3m-0.3 0h1.3m9.7 0h1.3m0.7 0h1.3m0.7 0h1.3m1.7 0h1.3m-0.3 0h1.3m1.7 0h1.3m0.7 0h1.3m7.7 0h1.3m3.7 0h1.3m7.7 0h1.3m3.7 0h1.3m0.7 0h1.3m4.7 0h1.3m23.7 0h1.3M107 495h1.3m14.7 0h1.3m23.7 0h1.3m27.7 0h1.3m-0.3 0h1.3m4.7 0h1.3m7.7 0h1.3m4.7 0h1.3m10.7 0h1.3m10.7 0h1.3m1.7 0h1.3m1.7 0h1.3m3.7 0h1.3m6.7 0h1.3m4.7 0h1.3m-0.3 0h1.3m8.7 0h1.3m31.7 0h1.3m-0.3 0h1.3m10.7 0h1.3M170 496h1.3m3.7 0h1.3m17.7 0h1.3m1.7 0h1.3m1.7 0h1.3m-0.3 0h1.3m-0.3 0h1.3m19.7 0h1.3m7.7 0h1.3m6.7 0h1.3m0.7 0h1.3m13.7 0h1.3M171 497h1.3m26.7 0h1.3m-0.3 0h1.3m5.7 0h1.3m22.7 0h1.3m-0.3 0h1.3m1.7 0h1.3m0.7 0h1.3m0.7 0h1.3M187 498h1.3m3.7 0h1.3m3.7 0h1.3m16.7 0h1.3m27.7 0h1.3M188 499h1.3m41.7 0h1.3m23.7 0h1.3m3.7 0h1.3M176 500h1.3m4.7 0h1.3m14.7 0h1.3m9.7 0h1.3M210 501h1.3M100 502h1.3M234 503h1.3"/>
<path stroke="#60dcf0" stroke-width="1.3" d="M196 490h1.3m37.7 0h1.3M123 491h1.3m53.7 0h1.3m0.7 0h1.3m-0.3 0h1.3m34.7 0h1.3M148 492h1.3m25.7 0h1.3m5.7 0h1.3m2.7 0h1.3m0.7 0h1.3m5.7 0h1.3m0.7 0h1.3m1.7 0h1.3m3.7 0h1.3m4.7 0h1.3m-0.3 0h1.3m1.7 0h1.3m10.7 0h1.3m1.7 0h1.3m1.7 0h1.3m3.7 0h1.3m6.7 0h1.3m14.7 0h1.3m17.7 0h1.3m34.7 0h1.3M155 493h1.3m1.7 0h1.3m-0.3 0h1.3m0.7 0h1.3m-0.3 0h1.3m2.7 0h1.3m-0.3 0h1.3m2.7 0h1.3m-0.3 0h1.3m1.7 0h1.3m-0.3 0h1.3m0.7 0h1.3m1.7 0h1.3m5.7 0h1.3m5.7 0h1.3m0.7 0h1.3m2.7 0h1.3m1.7 0h1.3m-0.3 0h1.3m2.7 0h1.3m0.7 0h1.3m0.7 0h1.3m1.7 0h1.3m2.7 0h1.3m-0.3 0h1.3m0.7 0h1.3m4.7 0h1.3m0.7 0h1.3m3.7 0h1.3m3.7 0h1.3m-0.3 0h1.3m-0.3 0h1.3m0.7 0h1.3m10.7 0h1.3m-0.3 0h1.3m-0.3 0h1.3m-0.3 0h1.3m6.7 0h1.3M117 494h1.3m14.7 0h1.3m18.7 0h1.3m5.7 0h1.3m2.7 0h1.3m4.7 0h1.3m1.7 0h1.3m4.7 0h1.3m-0.3 0h1.3m1.7 0h1.3m0.7 0h1.3m1.7 0h1.3m0.7 0h1.3m-0.3 0h1.3m5.7 0h1.3m-0.3 0h1.3m-0.3 0h1.3m3.7 0h1.3m1.7 0h1.3m-0.3 0h1.3m0.7 0h1.3m-0.3 0h1.3m-0.3 0h1.3m-0.3 0h1.3m-0.3 0h1.3m5.7 0h1.3m-0.3 0h1.3m0.7 0h1.3m3.7 0h1.3m-0.3 0h1.3m0.7 0h1.3m1.7 0h1.3m0.7 0h1.3m0.7 0h1.3m-0.3 0h1.3m3.7 0h1.3m-0.3 0h1.3m-0.3 0h1.3m0.7 0h1.3m0.7 0h1.3m9.7 0h1.3m4.7 0h1.3m20.7 0h1.3m4.7 0h1.3M124 495h1.3m10.7 0h1.3m0.7 0h1.3m6.7 0h1.3m-0.3 0h1.3m6.7 0h1.3m-0.3 0h1.3m3.7 0h1.3m4.7 0h1.3m-0.3 0h1.3m0.7 0h1.3m-0.3 0h1.3m1.7 0h1.3m0.7 0h1.3m-0.3 0h1.3m0.7 0h1.3m-0.3 0h1.3m3.7 0h1.3m-0.3 0h1.3m-0.3 0h1.3m2.7 0h1.3m-0.3 0h1.3m-0.3 0h1.3m0.7 0h1.3m0.7 0h1.3m-0.3 0h1.3m-0.3 0h1.3m-0.3 0h1.3m-0.3 0h1.3m-0.3 0h1.3m3.7 0h1.3m1.7 0h1.3m2.7 0h1.3m-0.3 0h1.3m-0.3 0h1.3m0.7 0h1.3m-0.3 0h1.3m0.7 0h1.3m1.7 0h1.3m0.7 0h1.3m-0.3 0h1.3m-0.3 0h1.3m0.7 0h1.3m2.7 0h1.3m-0.3 0h1.3m0.7 0h1.3m2.7 0h1.3m1.7 0h1.3m0.7 0h1.3m2.7 0h1.3m6.7 0h1.3m15.7 0h1.3m11.7 0h1.3M131 496h1.3m5.7 0h1.3m-0.3 0h1.3m15.7 0h1.3m4.7 0h1.3m6.7 0h1.3m-0.3 0h1.3m2.7 0h1.3m2.7 0h1.3m1.7 0h1.3m2.7 0h1.3m0.7 0h1.3m-0.3 0h1.3m-0.3 0h1.3m1.7 0h1.3m5.7 0h1.3m-0.3 0h1.3m4.7 0h1.3m1.7 0h1.3m-0.3 0h1.3m-0.3 0h1.3m-0.3 0h1.3m1.7 0h1.3m4.7 0h1.3m2.7 0h1.3m2.7 0h1.3m0.7 0h1.3m-0.3 0h1.3m-0.3 0h1.3m3.7 0h1.3m-0.3 0h1.3m-0.3 0h1.3m1.7 0h1.3m2.7 0h1.3m3.7 0h1.3m13.7 0h1.3m6.7 0h1.3m2.7 0h1.3M161 497h1.3m11.7 0h1.3m0.7 0h1.3m0.7 0h1.3m1.7 0h1.3m5.7 0h1.3m5.7 0h1.3m0.7 0h1.3m0.7 0h1.3m2.7 0h1.3m7.7 0h1.3m-0.3 0h1.3m-0.3 0h1.3m5.7 0h1.3m0.7 0h1.3m7.7 0h1.3m8.7 0h1.3m23.7 0h1.3M177 498h1.3m22.7 0h1.3m0.7 0h1.3m4.7 0h1.3m13.7 0h1.3m1.7 0h1.3M248 499h1.3"/>
<path stroke="#303040" stroke-width="1.3" d="M208 494h1.3M178 499h1.3M117 501h1.3M165 503h1.3m12.7 0h1.3M151 504h1.3M104 506h1.3m32.7 0h1.3m53.7 0h1.3M129 507h1.3M139 508h1.3m3.7 0h1.3m19.7 0h1.3m3.7 0h1.3M154 509h1.3m51.7 0h1.3M95 511h1.3m71.7 0h1.3M158 512h1.3M133 513h1.3M108 514h1.3m33.7 0h1.3m3.7 0h1.3m8.7 0h1.3m18.7 0h1.3M161 515h1.3M114 516h1.3m11.7 0h1.3m1.7 0h1.3m14.7 0h1.3M114 517h1.3m11.7 0h1.3m14.7 0h1.3m3.7 0h1.3m22.7 0h1.3M143 518h1.3M150 519h1.3m6.7 0h1.3m2.7 0h1.3M110 520h1.3m5.7 0h1.3m0.7 0h1.3m10.7 0h1.3m16.7 0h1.3m18.7 0h1.3M97 521h1.3m34.7 0h1.3m10.7 0h1.3m9.7 0h1.3m14.7 0h1.3m27.7 0h1.3M94 522h1.3m30.7 0h1.3m5.7 0h1.3m4.7 0h1.3m8.7 0h1.3m9.7 0h1.3M109 523h1.3m30.7 0h1.3m33.7 0h1.3M109 524h1.3m16.7 0h1.3m8.7 0h1.3m9.7 0h1.3m18.7 0h1.3M91 525h1.3m16.7 0h1.3m13.7 0h1.3m0.7 0h1.3m6.7 0h1.3M111 526h1.3m23.7 0h1.3m13.7 0h1.3M155 527h1.3M93 528h1.3m17.7 0h1.3m33.7 0h1.3M155 529h1.3M136 530h1.3m11.7 0h1.3M122 531h1.3m17.7 0h1.3M136 532h1.3M150 533h1.3M98 534h1.3m25.7 0h1.3m52.7 0h1.3"/>
<path stroke="#40d4e8" stroke-width="1.3" d="M207 473h1.3M186 480h1.3M177 487h1.3M201 488h1.3M135 491h1.3m25.7 0h1.3M137 492h1.3m40.7 0h1.3m18.7 0h1.3M134 493h1.3m8.7 0h1.3m23.7 0h1.3m50.7 0h1.3M145 494h1.3m4.7 0h1.3m34.7 0h1.3M143 495h1.3m15.7 0h1.3m24.7 0h1.3m12.7 0h1.3m-0.3 0h1.3m24.7 0h1.3m25.7 0h1.3M156 496h1.3m16.7 0h1.3m7.7 0h1.3m23.7 0h1.3M197 497h1.3m1.7 0h1.3m6.7 0h1.3m0.7 0h1.3m36.7 0h1.3M158 498h1.3m23.7 0h1.3m0.7 0h1.3m1.7 0h1.3m5.7 0h1.3m9.7 0h1.3m0.7 0h1.3M160 499h1.3m8.7 0h1.3m5.7 0h1.3m8.7 0h1.3m3.7 0h1.3m0.7 0h1.3m3.7 0h1.3m1.7 0h1.3m14.7 0h1.3m3.7 0h1.3m13.7 0h1.3M145 500h1.3m8.7 0h1.3m0.7 0h1.3m20.7 0h1.3m2.7 0h1.3m2.7 0h1.3m12.7 0h1.3m12.7 0h1.3m-0.3 0h1.3m2.7 0h1.3m19.7 0h1.3M146 501h1.3m39.7 0h1.3m20.7 0h1.3m15.7 0h1.3m8.7 0h1.3M105 502h1.3m25.7 0h1.3m25.7 0h1.3m38.7 0h1.3m59.7 0h1.3M174 503h1.3m-0.3 0h1.3m7.7 0h1.3m5.7 0h1.3m5.7 0h1.3m-0.3 0h1.3m4.7 0h1.3M96 504h1.3m1.7 0h1.3m16.7 0h1.3m21.7 0h1.3m14.7 0h1.3m-0.3 0h1.3m3.7 0h1.3m2.7 0h1.3m2.7 0h1.3m2.7 0h1.3m0.7 0h1.3m16.7 0h1.3m7.7 0h1.3m4.7 0h1.3m12.7 0h1.3M113 505h1.3m15.7 0h1.3m35.7 0h1.3m6.7 0h1.3m7.7 0h1.3m2.7 0h1.3m2.7 0h1.3m3.7 0h1.3m0.7 0h1.3m2.7 0h1.3m3.7 0h1.3m-0.3 0h1.3m3.7 0h1.3M115 506h1.3m14.7 0h1.3m41.7 0h1.3m26.7 0h1.3m8.7 0h1.3M118 507h1.3m0.7 0h1.3m26.7 0h1.3m3.7 0h1.3m6.7 0h1.3m0.7 0h1.3m15.7 0h1.3m3.7 0h1.3m6.7 0h1.3m0.7 0h1.3m3.7 0h1.3m7.7 0h1.3m22.7 0h1.3M100 508h1.3m28.7 0h1.3m10.7 0h1.3m4.7 0h1.3m-0.3 0h1.3m1.7 0h1.3m0.7 0h1.3m5.7 0h1.3m17.7 0h1.3m0.7 0h1.3m5.7 0h1.3m-0.3 0h1.3M109 509h1.3m5.7 0h1.3m4.7 0h1.3m3.7 0h1.3m7.7 0h1.3m3.7 0h1.3m1.7 0h1.3m9.7 0h1.3m5.7 0h1.3m-0.3 0h1.3m0.7 0h1.3m0.7 0h1.3m-0.3 0h1.3m3.7 0h1.3m3.7 0h1.3m0.7 0h1.3m7.7 0h1.3m-0.3 0h1.3m3.7 0h1.3m0.7 0h1.3m6.7 0h1.3m14.7 0h1.3m17.7 0h1.3M107 510h1.3m0.7 0h1.3m1.7 0h1.3m36.7 0h1.3m0.7 0h1.3m4.7 0h1.3m4.7 0h1.3m5.7 0h1.3m1.7 0h1.3m2.7 0h1.3m2.7 0h1.3m14.7 0h1.3m5.7 0h1.3m26.7 0h1.3M130 511h1.3m-0.3 0h1.3m12.7 0h1.3m6.7 0h1.3m-0.3 0h1.3m0.7 0h1.3m9.7 0h1.3m4.7 0h1.3m0.7 0h1.3m0.7 0h1.3m0.7 0h1.3m2.7 0h1.3m2.7 0h1.3m0.7 0h1.3m3.7 0h1.3m0.7 0h1.3m26.7 0h1.3M104 512h1.3m29.7 0h1.3m-0.3 0h1.3m1.7 0h1.3m-0.3 0h1.3m11.7 0h1.3m-0.3 0h1.3m0.7 0h1.3m-0.3 0h1.3m4.7 0h1.3m11.7 0h1.3m-0.3 0h1.3m-0.3 0h1.3m16.7 0h1.3m9.7 0h1.3m13.7 0h1.3m2.7 0h1.3m5.7 0h1.3m11.7 0h1.3M88 513h1.3m10.7 0h1.3m12.7 0h1.3m10.7 0h1.3m6.7 0h1.3m11.7 0h1.3m0.7 0h1.3m-0.3 0h1.3m8.7 0h1.3m7.7 0h1.3m16.7 0h1.3m8.7 0h1.3m40.7 0h1.3m1.7 0h1.3m9.7 0h1.3M115 514h1.3m10.7 0h1.3m11.7 0h1.3m8.7 0h1.3m-0.3 0h1.3m3.7 0h1.3m10.7 0h1.3m2.7 0h1.3m7.7 0h1.3m1.7 0h1.3m1.7 0h1.3m1.7 0h1.3m4.7 0h1.3m23.7 0h1.3m36.7 0h1.3M87 515h1.3m4.7 0h1.3m21.7 0h1.3m4.7 0h1.3m0.7 0h1.3m1.7 0h1.3m16.7 0h1.3m-0.3 0h1.3m11.7 0h1.3m5.7 0h1.3m12.7 0h1.3m5.7 0h1.3m8.7 0h1.3m4.7 0h1.3m2.7 0h1.3M108 516h1.3m4.7 0h1.3m29.7 0h1.3m7.7 0h1.3m3.7 0h1.3m2.7 0h1.3m-0.3 0h1.3m0.7 0h1.3m5.7 0h1.3m0.7 0h1.3m4.7 0h1.3m12.7 0h1.3m0.7 0h1.3m34.7 0h1.3m4.7 0h1.3M106 517h1.3m23.7 0h1.3m12.7 0h1.3m8.7 0h1.3m0.7 0h1.3m8.7 0h1.3m7.7 0h1.3m4.7 0h1.3m3.7 0h1.3m0.7 0h1.3m5.7 0h1.3m0.7 0h1.3M122 518h1.3m-0.3 0h1.3m22.7 0h1.3m0.7 0h1.3m13.7 0h1.3m5.7 0h1.3m10.7 0h1.3m4.7 0h1.3m14.7 0h1.3m44.7 0h1.3M125 519h1.3m-0.3 0h1.3m9.7 0h1.3m5.7 0h1.3m0.7 0h1.3m2.7 0h1.3m-0.3 0h1.3m-0.3 0h1.3m-0.3 0h1.3m-0.3 0h1.3m8.7 0h1.3m5.7 0h1.3m5.7 0h1.3m-0.3 0h1.3m-0.3 0h1.3m8.7 0h1.3m6.7 0h1.3m3.7 0h1.3m3.7 0h1.3m9.7 0h1.3m-0.3 0h1.3m1.7 0h1.3m32.7 0h1.3M99 520h1.3m20.7 0h1.3m7.7 0h1.3m-0.3 0h1.3m24.7 0h1.3m10.7 0h1.3m-0.3 0h1.3m0.7 0h1.3m6.7 0h1.3m2.7 0h1.3M126 521h1.3m3.7 0h1.3m3.7 0h1.3m7.7 0h1.3m0.7 0h1.3m3.7 0h1.3m8.7 0h1.3m5.7 0h1.3m1.7 0h1.3m2.7 0h1.3m1.7 0h1.3m42.7 0h1.3m3.7 0h1.3M91 522h1.3m17.7 0h1.3m14.7 0h1.3m9.7 0h1.3m-0.3 0h1.3m3.7 0h1.3m6.7 0h1.3m14.7 0h1.3m0.7 0h1.3m-0.3 0h1.3m-0.3 0h1.3m11.7 0h1.3m7.7 0h1.3m18.7 0h1.3m1.7 0h1.3m24.7 0h1.3M108 523h1.3m5.7 0h1.3m15.7 0h1.3m4.7 0h1.3m13.7 0h1.3m14.7 0h1.3m13.7 0h1.3m9.7 0h1.3m16.7 0h1.3m23.7 0h1.3M130 524h1.3m-0.3 0h1.3m2.7 0h1.3m16.7 0h1.3m2.7 0h1.3m2.7 0h1.3m13.7 0h1.3m1.7 0h1.3M133 525h1.3m3.7 0h1.3m28.7 0h1.3m22.7 0h1.3M139 526h1.3m-0.3 0h1.3m19.7 0h1.3m13.7 0h1.3m36.7 0h1.3M87 527h1.3m33.7 0h1.3m5.7 0h1.3m18.7 0h1.3m27.7 0h1.3M105 528h1.3m3.7 0h1.3m-0.3 0h1.3m18.7 0h1.3m16.7 0h1.3m11.7 0h1.3m3.7 0h1.3m20.7 0h1.3M99 529h1.3m58.7 0h1.3m53.7 0h1.3M84 530h1.3m13.7 0h1.3m4.7 0h1.3m-0.3 0h1.3m60.7 0h1.3M94 531h1.3m20.7 0h1.3m19.7 0h1.3m0.7 0h1.3M98 532h1.3m1.7 0h1.3m5.7 0h1.3m17.7 0h1.3m25.7 0h1.3m29.7 0h1.3M126 533h1.3m72.7 0h1.3M85 534h1.3m9.7 0h1.3m31.7 0h1.3M125 535h1.3m110.7 0h1.3M93 536h1.3m26.7 0h1.3M137 537h1.3m13.7 0h1.3m-0.3 0h1.3M97 538h1.3M97 544h1.3M115 559h1.3"/>
<path stroke="#e890d8" stroke-width="1.3" d="M185 489h1.3M194 492h1.3M102 496h1.3m16.7 0h1.3m2.7 0h1.3m1.7 0h1.3M118 497h1.3m11.7 0h1.3m15.7 0h1.3m15.7 0h1.3M95 498h1.3m49.7 0h1.3M140 499h1.3m48.7 0h1.3M123 500h1.3M120 501h1.3m9.7 0h1.3m45.7 0h1.3M164 502h1.3m19.7 0h1.3M115 503h1.3m26.7 0h1.3m2.7 0h1.3m11.7 0h1.3m57.7 0h1.3m9.7 0h1.3M101 504h1.3m13.7 0h1.3m27.7 0h1.3M94 505h1.3m51.7 0h1.3m2.7 0h1.3m14.7 0h1.3m33.7 0h1.3M104 506h1.3m33.7 0h1.3m16.7 0h1.3m8.7 0h1.3m6.7 0h1.3M109 507h1.3m24.7 0h1.3m5.7 0h1.3M121 508h1.3m49.7 0h1.3M160 509h1.3m15.7 0h1.3m1.7 0h1.3m9.7 0h1.3M150 510h1.3m1.7 0h1.3m14.7 0h1.3m22.7 0h1.3m-0.3 0h1.3m10.7 0h1.3M111 511h1.3m14.7 0h1.3m4.7 0h1.3m-0.3 0h1.3m0.7 0h1.3m20.7 0h1.3m5.7 0h1.3m7.7 0h1.3m4.7 0h1.3M110 512h1.3m-0.3 0h1.3m23.7 0h1.3m5.7 0h1.3m-0.3 0h1.3m14.7 0h1.3m41.7 0h1.3M118 513h1.3m41.7 0h1.3m6.7 0h1.3M97 514h1.3m37.7 0h1.3m15.7 0h1.3m15.7 0h1.3m6.7 0h1.3m39.7 0h1.3m6.7 0h1.3M136 515h1.3m55.7 0h1.3m-0.3 0h1.3m2.7 0h1.3m11.7 0h1.3M100 516h1.3m15.7 0h1.3m2.7 0h1.3m16.7 0h1.3m0.7 0h1.3m18.7 0h1.3m34.7 0h1.3m-0.3 0h1.3m10.7 0h1.3m-0.3 0h1.3M153 517h1.3m12.7 0h1.3m15.7 0h1.3m12.7 0h1.3M180 518h1.3M108 519h1.3m21.7 0h1.3m20.7 0h1.3m32.7 0h1.3M122 520h1.3m36.7 0h1.3m1.7 0h1.3m6.7 0h1.3m28.7 0h1.3M116 521h1.3m-0.3 0h1.3M108 522h1.3m38.7 0h1.3m9.7 0h1.3m8.7 0h1.3m2.7 0h1.3M99 523h1.3m10.7 0h1.3m7.7 0h1.3m28.7 0h1.3m3.7 0h1.3m11.7 0h1.3m39.7 0h1.3M162 524h1.3M119 525h1.3m21.7 0h1.3m38.7 0h1.3M153 526h1.3m54.7 0h1.3M102 527h1.3m14.7 0h1.3m5.7 0h1.3m28.7 0h1.3m17.7 0h1.3M142 528h1.3m62.7 0h1.3M110 530h1.3m13.7 0h1.3m24.7 0h1.3M164 531h1.3M117 532h1.3m51.7 0h1.3M124 533h1.3M169 534h1.3M123 535h1.3m72.7 0h1.3M153 538h1.3M143 547h1.3"/></g>
<path d="M149.0 522.0 L151.0 513.0 L156.0 506.0 L168.0 501.5 L185.0 499.0 L205.0 498.5 L222.0 500.0 L230.0 506.0 L232.0 516.0 L227.0 526.0 L205.0 529.5 L172.0 529.0 L155.0 527.0Z" fill="#f88484"/>
<g transform="translate(0.25 0.5)" fill="none"><path stroke="#40d4e8" stroke-width="1.3" d="M214 491h1.3M197 492h1.3m9.7 0h1.3M212 493h1.3m51.7 0h1.3M233 494h1.3m19.7 0h1.3M232 495h1.3m5.7 0h1.3M223 496h1.3m13.7 0h1.3m0.7 0h1.3M234 497h1.3m20.7 0h1.3M234 498h1.3m5.7 0h1.3m0.7 0h1.3m12.7 0h1.3M253 499h1.3M241 500h1.3m8.7 0h1.3m-0.3 0h1.3M219 501h1.3m13.7 0h1.3m34.7 0h1.3M231 502h1.3m2.7 0h1.3m-0.3 0h1.3m11.7 0h1.3M225 503h1.3m14.7 0h1.3M214 504h1.3m-0.3 0h1.3m2.7 0h1.3m0.7 0h1.3m8.7 0h1.3M218 505h1.3m6.7 0h1.3m1.7 0h1.3m1.7 0h1.3m12.7 0h1.3m3.7 0h1.3m12.7 0h1.3M225 506h1.3m23.7 0h1.3m-0.3 0h1.3m7.7 0h1.3M219 507h1.3m2.7 0h1.3m-0.3 0h1.3m0.7 0h1.3m3.7 0h1.3m1.7 0h1.3m11.7 0h1.3m8.7 0h1.3m5.7 0h1.3m-0.3 0h1.3M211 508h1.3m2.7 0h1.3m3.7 0h1.3m4.7 0h1.3m0.7 0h1.3m3.7 0h1.3m0.7 0h1.3m3.7 0h1.3m-0.3 0h1.3m0.7 0h1.3m2.7 0h1.3m5.7 0h1.3m2.7 0h1.3m10.7 0h1.3M213 509h1.3m17.7 0h1.3m0.7 0h1.3m8.7 0h1.3m-0.3 0h1.3m0.7 0h1.3m-0.3 0h1.3m10.7 0h1.3M223 510h1.3m-0.3 0h1.3m4.7 0h1.3m20.7 0h1.3m8.7 0h1.3M223 511h1.3m9.7 0h1.3m4.7 0h1.3m2.7 0h1.3m4.7 0h1.3m6.7 0h1.3M222 512h1.3m9.7 0h1.3m0.7 0h1.3m3.7 0h1.3m2.7 0h1.3m2.7 0h1.3m0.7 0h1.3m0.7 0h1.3m0.7 0h1.3m-0.3 0h1.3m-0.3 0h1.3m3.7 0h1.3M203 513h1.3m13.7 0h1.3m11.7 0h1.3m6.7 0h1.3m1.7 0h1.3m-0.3 0h1.3m-0.3 0h1.3m3.7 0h1.3m-0.3 0h1.3m8.7 0h1.3m21.7 0h1.3M228 514h1.3m13.7 0h1.3m0.7 0h1.3m-0.3 0h1.3m3.7 0h1.3m-0.3 0h1.3m-0.3 0h1.3M207 515h1.3m7.7 0h1.3m3.7 0h1.3m6.7 0h1.3m-0.3 0h1.3m13.7 0h1.3m0.7 0h1.3m7.7 0h1.3m6.7 0h1.3M223 516h1.3m-0.3 0h1.3m6.7 0h1.3m0.7 0h1.3m-0.3 0h1.3m1.7 0h1.3m0.7 0h1.3m9.7 0h1.3m12.7 0h1.3M221 517h1.3m0.7 0h1.3m5.7 0h1.3m2.7 0h1.3m1.7 0h1.3m-0.3 0h1.3m6.7 0h1.3m18.7 0h1.3M208 518h1.3m27.7 0h1.3m0.7 0h1.3m5.7 0h1.3m2.7 0h1.3m18.7 0h1.3M227 519h1.3m1.7 0h1.3m7.7 0h1.3m5.7 0h1.3m-0.3 0h1.3m1.7 0h1.3M222 520h1.3m14.7 0h1.3m-0.3 0h1.3m2.7 0h1.3M227 521h1.3m14.7 0h1.3m0.7 0h1.3m0.7 0h1.3M222 522h1.3m23.7 0h1.3m1.7 0h1.3m3.7 0h1.3m1.7 0h1.3M219 524h1.3m23.7 0h1.3m0.7 0h1.3M233 525h1.3m4.7 0h1.3m3.7 0h1.3M226 526h1.3m5.7 0h1.3M239 527h1.3m8.7 0h1.3m10.7 0h1.3m4.7 0h1.3M233 528h1.3m17.7 0h1.3M238 529h1.3M240 531h1.3M235 532h1.3M213 533h1.3m47.7 0h1.3"/>
<path stroke="#d860d0" stroke-width="1.3" d="M229 484h1.3M243 494h1.3M232 498h1.3M223 499h1.3M237 500h1.3m14.7 0h1.3M227 501h1.3m-0.3 0h1.3m10.7 0h1.3m22.7 0h1.3M221 502h1.3m17.7 0h1.3m16.7 0h1.3M192 503h1.3M224 504h1.3m11.7 0h1.3m0.7 0h1.3m3.7 0h1.3M213 505h1.3m15.7 0h1.3m21.7 0h1.3M233 506h1.3M242 507h1.3M232 508h1.3m-0.3 0h1.3m0.7 0h1.3m0.7 0h1.3m-0.3 0h1.3M230 509h1.3m-0.3 0h1.3m19.7 0h1.3M227 510h1.3m3.7 0h1.3m6.7 0h1.3m-0.3 0h1.3M211 511h1.3m15.7 0h1.3m0.7 0h1.3m28.7 0h1.3m4.7 0h1.3M215 512h1.3m17.7 0h1.3m4.7 0h1.3m10.7 0h1.3M211 513h1.3m9.7 0h1.3m4.7 0h1.3m14.7 0h1.3M212 514h1.3m15.7 0h1.3m-0.3 0h1.3m0.7 0h1.3m2.7 0h1.3m4.7 0h1.3M225 515h1.3m3.7 0h1.3m-0.3 0h1.3m8.7 0h1.3m12.7 0h1.3m8.7 0h1.3M210 516h1.3m5.7 0h1.3m-0.3 0h1.3m0.7 0h1.3m6.7 0h1.3m4.7 0h1.3m4.7 0h1.3m0.7 0h1.3m5.7 0h1.3m12.7 0h1.3M207 517h1.3m7.7 0h1.3m16.7 0h1.3m0.7 0h1.3m-0.3 0h1.3M206 518h1.3m3.7 0h1.3m23.7 0h1.3m12.7 0h1.3m9.7 0h1.3M219 519h1.3m15.7 0h1.3m13.7 0h1.3M208 520h1.3m23.7 0h1.3m-0.3 0h1.3m35.7 0h1.3M231 521h1.3m9.7 0h1.3m6.7 0h1.3m0.7 0h1.3M224 522h1.3m6.7 0h1.3M221 523h1.3m4.7 0h1.3m5.7 0h1.3m10.7 0h1.3m0.7 0h1.3M217 524h1.3m34.7 0h1.3m-0.3 0h1.3M210 525h1.3m23.7 0h1.3m6.7 0h1.3m4.7 0h1.3m8.7 0h1.3M229 527h1.3m1.7 0h1.3m31.7 0h1.3M246 528h1.3M219 530h1.3m10.7 0h1.3M251 532h1.3M235 533h1.3"/>
<path stroke="#2c3458" stroke-width="1.3" d="M237 493h1.3M209 497h1.3M254 499h1.3M238 503h1.3m4.7 0h1.3M221 505h1.3m3.7 0h1.3m-0.3 0h1.3m16.7 0h1.3M235 507h1.3m3.7 0h1.3m9.7 0h1.3m12.7 0h1.3M198 508h1.3m27.7 0h1.3m2.7 0h1.3m13.7 0h1.3m2.7 0h1.3M227 510h1.3m5.7 0h1.3m1.7 0h1.3M248 511h1.3M229 512h1.3m16.7 0h1.3m-0.3 0h1.3m0.7 0h1.3M219 513h1.3m0.7 0h1.3m5.7 0h1.3M208 514h1.3m9.7 0h1.3m21.7 0h1.3m0.7 0h1.3M206 515h1.3m18.7 0h1.3m25.7 0h1.3M212 516h1.3m3.7 0h1.3m1.7 0h1.3m12.7 0h1.3M232 517h1.3m4.7 0h1.3m2.7 0h1.3m2.7 0h1.3m1.7 0h1.3M230 518h1.3m2.7 0h1.3m-0.3 0h1.3m9.7 0h1.3M217 519h1.3m11.7 0h1.3M238 521h1.3M234 522h1.3m0.7 0h1.3m6.7 0h1.3M213 524h1.3m4.7 0h1.3M227 525h1.3m1.7 0h1.3M216 527h1.3m24.7 0h1.3M206 528h1.3M237 529h1.3M247 530h1.3M226 531h1.3M237 533h1.3M258 539h1.3"/>
<path stroke="#40d4e8" stroke-width="1.3" d="M178 489h1.3M169 491h1.3M164 495h1.3m22.7 0h1.3M155 496h1.3M162 497h1.3m15.7 0h1.3m1.7 0h1.3m-0.3 0h1.3M146 499h1.3m14.7 0h1.3m6.7 0h1.3m48.7 0h1.3M166 501h1.3m17.7 0h1.3M148 502h1.3M166 503h1.3m3.7 0h1.3m8.7 0h1.3m1.7 0h1.3m2.7 0h1.3M163 504h1.3m21.7 0h1.3m5.7 0h1.3M149 505h1.3m6.7 0h1.3m25.7 0h1.3m3.7 0h1.3m2.7 0h1.3M164 506h1.3m1.7 0h1.3m10.7 0h1.3m1.7 0h1.3M188 507h1.3m6.7 0h1.3M161 508h1.3m10.7 0h1.3m24.7 0h1.3m22.7 0h1.3M123 509h1.3m23.7 0h1.3m12.7 0h1.3m0.7 0h1.3M169 510h1.3m14.7 0h1.3M164 511h1.3m20.7 0h1.3M158 512h1.3m10.7 0h1.3m1.7 0h1.3m8.7 0h1.3m26.7 0h1.3M161 513h1.3M158 514h1.3m12.7 0h1.3m20.7 0h1.3M147 515h1.3m27.7 0h1.3m6.7 0h1.3M156 516h1.3m15.7 0h1.3m7.7 0h1.3m-0.3 0h1.3m4.7 0h1.3m10.7 0h1.3M193 517h1.3M135 518h1.3m7.7 0h1.3m44.7 0h1.3m4.7 0h1.3m19.7 0h1.3M143 519h1.3M147 520h1.3m58.7 0h1.3M153 521h1.3m1.7 0h1.3m11.7 0h1.3m8.7 0h1.3M147 522h1.3m24.7 0h1.3m11.7 0h1.3m38.7 0h1.3M153 524h1.3m12.7 0h1.3M160 525h1.3m28.7 0h1.3M181 526h1.3M181 528h1.3M167 530h1.3M176 531h1.3"/>
<path stroke="#2c3458" stroke-width="1.3" d="M144 496h1.3M188 500h1.3M178 502h1.3M181 503h1.3M161 504h1.3M152 505h1.3M189 507h1.3M147 508h1.3m11.7 0h1.3m4.7 0h1.3m6.7 0h1.3M146 511h1.3M162 512h1.3M172 513h1.3M195 515h1.3m7.7 0h1.3M160 517h1.3m24.7 0h1.3m1.7 0h1.3M129 518h1.3m4.7 0h1.3m45.7 0h1.3M157 519h1.3M198 520h1.3M140 522h1.3M153 523h1.3m13.7 0h1.3M162 524h1.3M190 529h1.3M220 541h1.3"/></g>
<g transform="translate(0.25 0.5)" fill="none"><path stroke="#1a1a1a" stroke-width="1.3" d="M586 354h1.3M600 357h1.3M600 359h1.3M617 364h1.3m13.7 0h1.3M556 369h1.3m25.7 0h1.3M645 371h1.3M629 372h1.3M551 375h1.3M608 379h1.3m20.7 0h1.3m28.7 0h1.3M554 385h1.3M560 387h1.3m8.7 0h1.3M551 388h1.3m94.7 0h1.3M611 389h1.3m7.7 0h1.3M578 390h1.3m0.7 0h1.3m11.7 0h1.3M619 391h1.3M560 395h1.3M570 405h1.3m1.7 0h1.3M622 406h1.3M591 407h1.3M548 409h1.3M560 410h1.3M596 411h1.3M649 413h1.3M541 415h1.3M531 416h1.3M597 419h1.3M541 423h1.3M550 426h1.3M577 427h1.3M550 432h1.3M566 433h1.3M577 434h1.3M557 455h1.3M534 465h1.3"/>
<path stroke="#1a1a1a" stroke-width="1.3" d="M669 378h1.3M669 380h1.3M669 390h1.3M668 392h1.3M668 405h1.3M669 406h1.3M668 416h1.3M669 420h1.3M668 423h1.3M668 431h1.3M669 432h1.3M667 437h1.3M668 447h1.3M669 449h1.3M668 450h1.3M669 452h1.3M667 467h1.3M667 478h1.3m-0.3 0h1.3M669 487h1.3M668 488h1.3"/>
<path stroke="#f0a8ec" stroke-width="1.3" d="M608 400h1.3M601 403h1.3m49.7 0h1.3M646 405h1.3M614 406h1.3M600 407h1.3m43.7 0h1.3m15.7 0h1.3M629 408h1.3M624 410h1.3m3.7 0h1.3M625 411h1.3M609 412h1.3m1.7 0h1.3m7.7 0h1.3m-0.3 0h1.3M621 413h1.3m10.7 0h1.3m14.7 0h1.3M584 414h1.3m13.7 0h1.3m2.7 0h1.3m15.7 0h1.3m1.7 0h1.3m19.7 0h1.3m11.7 0h1.3M617 415h1.3m-0.3 0h1.3M594 416h1.3m18.7 0h1.3m18.7 0h1.3m3.7 0h1.3m4.7 0h1.3M599 417h1.3m28.7 0h1.3M567 418h1.3m-0.3 0h1.3m2.7 0h1.3m42.7 0h1.3m16.7 0h1.3m-0.3 0h1.3M616 419h1.3m20.7 0h1.3m-0.3 0h1.3M617 420h1.3m4.7 0h1.3m22.7 0h1.3m1.7 0h1.3m-0.3 0h1.3M583 421h1.3m11.7 0h1.3m1.7 0h1.3m3.7 0h1.3m15.7 0h1.3m11.7 0h1.3m6.7 0h1.3m19.7 0h1.3M627 422h1.3m2.7 0h1.3m2.7 0h1.3M571 423h1.3m16.7 0h1.3m10.7 0h1.3m19.7 0h1.3M575 424h1.3m22.7 0h1.3m12.7 0h1.3m7.7 0h1.3m43.7 0h1.3M588 425h1.3m40.7 0h1.3m1.7 0h1.3m-0.3 0h1.3m3.7 0h1.3M610 426h1.3m23.7 0h1.3m-0.3 0h1.3M580 427h1.3m15.7 0h1.3m66.7 0h1.3M586 428h1.3m10.7 0h1.3m9.7 0h1.3m17.7 0h1.3m17.7 0h1.3m3.7 0h1.3m8.7 0h1.3M572 429h1.3m23.7 0h1.3m15.7 0h1.3m1.7 0h1.3m31.7 0h1.3M544 430h1.3m44.7 0h1.3m22.7 0h1.3m14.7 0h1.3m10.7 0h1.3m13.7 0h1.3M590 431h1.3m-0.3 0h1.3m2.7 0h1.3m23.7 0h1.3m2.7 0h1.3m8.7 0h1.3m16.7 0h1.3M565 432h1.3m6.7 0h1.3m46.7 0h1.3m0.7 0h1.3M567 433h1.3m14.7 0h1.3m27.7 0h1.3m3.7 0h1.3m23.7 0h1.3M570 434h1.3m27.7 0h1.3m1.7 0h1.3m4.7 0h1.3m39.7 0h1.3M617 435h1.3m5.7 0h1.3M625 436h1.3m-0.3 0h1.3m0.7 0h1.3M564 437h1.3m20.7 0h1.3M587 438h1.3m-0.3 0h1.3m22.7 0h1.3m-0.3 0h1.3m17.7 0h1.3m33.7 0h1.3M580 439h1.3m30.7 0h1.3m31.7 0h1.3M554 440h1.3m15.7 0h1.3m40.7 0h1.3m18.7 0h1.3m8.7 0h1.3m20.7 0h1.3M552 441h1.3m49.7 0h1.3m15.7 0h1.3M655 442h1.3M570 443h1.3m3.7 0h1.3m20.7 0h1.3m11.7 0h1.3m14.7 0h1.3M602 444h1.3M534 445h1.3m50.7 0h1.3m24.7 0h1.3m27.7 0h1.3M631 446h1.3M583 447h1.3m26.7 0h1.3m8.7 0h1.3M583 448h1.3m13.7 0h1.3m29.7 0h1.3m13.7 0h1.3M554 449h1.3M518 451h1.3m29.7 0h1.3m68.7 0h1.3m12.7 0h1.3m8.7 0h1.3M597 452h1.3m8.7 0h1.3M559 453h1.3M605 454h1.3M547 455h1.3M595 456h1.3M543 457h1.3m42.7 0h1.3m53.7 0h1.3M621 459h1.3M541 460h1.3M603 461h1.3M614 463h1.3M604 465h1.3M602 467h1.3"/>
<path stroke="#a8a448" stroke-width="1.3" d="M587 433h1.3m11.7 0h1.3M605 434h1.3M593 435h1.3m1.7 0h1.3M597 436h1.3M582 437h1.3M581 438h1.3m3.7 0h1.3m11.7 0h1.3m4.7 0h1.3M583 439h1.3M560 440h1.3m28.7 0h1.3m21.7 0h1.3M578 441h1.3m4.7 0h1.3m4.7 0h1.3M576 442h1.3M575 443h1.3m4.7 0h1.3m14.7 0h1.3M595 444h1.3m13.7 0h1.3M575 445h1.3m1.7 0h1.3m1.7 0h1.3m1.7 0h1.3m7.7 0h1.3m1.7 0h1.3M589 446h1.3m2.7 0h1.3M582 447h1.3m12.7 0h1.3M580 448h1.3m2.7 0h1.3m4.7 0h1.3m-0.3 0h1.3M573 449h1.3m4.7 0h1.3m7.7 0h1.3m6.7 0h1.3m0.7 0h1.3M560 450h1.3m13.7 0h1.3m1.7 0h1.3m15.7 0h1.3m-0.3 0h1.3m3.7 0h1.3M566 451h1.3m1.7 0h1.3m0.7 0h1.3m4.7 0h1.3m5.7 0h1.3m0.7 0h1.3m1.7 0h1.3m1.7 0h1.3m10.7 0h1.3M569 452h1.3m9.7 0h1.3m1.7 0h1.3M561 453h1.3m5.7 0h1.3m3.7 0h1.3m0.7 0h1.3m-0.3 0h1.3m6.7 0h1.3m2.7 0h1.3m0.7 0h1.3m7.7 0h1.3M571 454h1.3m-0.3 0h1.3m25.7 0h1.3M569 455h1.3m3.7 0h1.3m11.7 0h1.3m7.7 0h1.3M574 456h1.3m1.7 0h1.3m1.7 0h1.3m2.7 0h1.3m10.7 0h1.3M574 457h1.3m28.7 0h1.3M577 458h1.3m3.7 0h1.3m2.7 0h1.3m2.7 0h1.3m4.7 0h1.3M563 459h1.3m2.7 0h1.3m11.7 0h1.3m1.7 0h1.3m2.7 0h1.3m1.7 0h1.3m0.7 0h1.3m3.7 0h1.3M570 460h1.3m0.7 0h1.3m6.7 0h1.3m-0.3 0h1.3M575 461h1.3m5.7 0h1.3m2.7 0h1.3m0.7 0h1.3M583 462h1.3m-0.3 0h1.3m7.7 0h1.3M595 463h1.3M569 464h1.3m4.7 0h1.3m4.7 0h1.3M568 465h1.3m24.7 0h1.3M576 466h1.3m1.7 0h1.3m8.7 0h1.3M576 467h1.3M570 468h1.3M572 469h1.3M559 473h1.3"/>
<path stroke="#3cbf3c" stroke-width="1.3" d="M632 441h1.3M523 442h1.3m26.7 0h1.3m24.7 0h1.3M516 444h1.3M503 445h1.3M598 446h1.3M524 447h1.3m24.7 0h1.3m2.7 0h1.3m22.7 0h1.3M546 448h1.3m24.7 0h1.3M573 449h1.3M480 450h1.3m40.7 0h1.3m22.7 0h1.3M553 451h1.3m4.7 0h1.3M542 452h1.3m13.7 0h1.3m0.7 0h1.3m0.7 0h1.3m5.7 0h1.3M512 453h1.3m40.7 0h1.3m1.7 0h1.3M555 454h1.3m24.7 0h1.3M511 455h1.3m24.7 0h1.3m22.7 0h1.3m16.7 0h1.3M513 456h1.3m11.7 0h1.3m13.7 0h1.3m7.7 0h1.3m36.7 0h1.3M511 457h1.3m17.7 0h1.3m13.7 0h1.3m9.7 0h1.3M493 458h1.3m4.7 0h1.3m37.7 0h1.3m18.7 0h1.3m6.7 0h1.3M474 459h1.3m69.7 0h1.3m0.7 0h1.3m0.7 0h1.3m8.7 0h1.3m13.7 0h1.3m-0.3 0h1.3m4.7 0h1.3M489 460h1.3m29.7 0h1.3m16.7 0h1.3m17.7 0h1.3M507 461h1.3m30.7 0h1.3m0.7 0h1.3m3.7 0h1.3m0.7 0h1.3m-0.3 0h1.3m1.7 0h1.3m-0.3 0h1.3m2.7 0h1.3m11.7 0h1.3M512 462h1.3m10.7 0h1.3m2.7 0h1.3m20.7 0h1.3m0.7 0h1.3m2.7 0h1.3M481 463h1.3m41.7 0h1.3m9.7 0h1.3m1.7 0h1.3m10.7 0h1.3m4.7 0h1.3m0.7 0h1.3m18.7 0h1.3M523 464h1.3m1.7 0h1.3m5.7 0h1.3m2.7 0h1.3m16.7 0h1.3m4.7 0h1.3m20.7 0h1.3M505 465h1.3m10.7 0h1.3m5.7 0h1.3m2.7 0h1.3m7.7 0h1.3m2.7 0h1.3m2.7 0h1.3m10.7 0h1.3m32.7 0h1.3M496 466h1.3m37.7 0h1.3m1.7 0h1.3m0.7 0h1.3m-0.3 0h1.3m9.7 0h1.3m9.7 0h1.3m18.7 0h1.3m2.7 0h1.3M518 467h1.3m18.7 0h1.3m0.7 0h1.3m-0.3 0h1.3m2.7 0h1.3m15.7 0h1.3m58.7 0h1.3M476 468h1.3m34.7 0h1.3m22.7 0h1.3m9.7 0h1.3m27.7 0h1.3m3.7 0h1.3M486 469h1.3m4.7 0h1.3m1.7 0h1.3m2.7 0h1.3m21.7 0h1.3m9.7 0h1.3m1.7 0h1.3m2.7 0h1.3m7.7 0h1.3m4.7 0h1.3m1.7 0h1.3m0.7 0h1.3m1.7 0h1.3m3.7 0h1.3m3.7 0h1.3M514 470h1.3m19.7 0h1.3m2.7 0h1.3m0.7 0h1.3m3.7 0h1.3m11.7 0h1.3m10.7 0h1.3M477 471h1.3m21.7 0h1.3m1.7 0h1.3m4.7 0h1.3m1.7 0h1.3m6.7 0h1.3m12.7 0h1.3m-0.3 0h1.3m8.7 0h1.3m32.7 0h1.3m3.7 0h1.3M470 472h1.3m33.7 0h1.3m11.7 0h1.3m5.7 0h1.3m7.7 0h1.3m-0.3 0h1.3m1.7 0h1.3m4.7 0h1.3m11.7 0h1.3m14.7 0h1.3m10.7 0h1.3M517 473h1.3m2.7 0h1.3m-0.3 0h1.3m11.7 0h1.3m7.7 0h1.3m2.7 0h1.3m0.7 0h1.3m7.7 0h1.3m4.7 0h1.3M507 474h1.3m11.7 0h1.3m4.7 0h1.3m7.7 0h1.3m19.7 0h1.3m12.7 0h1.3m1.7 0h1.3m40.7 0h1.3M499 475h1.3m10.7 0h1.3m3.7 0h1.3m1.7 0h1.3m2.7 0h1.3m0.7 0h1.3m3.7 0h1.3m0.7 0h1.3m0.7 0h1.3m1.7 0h1.3m16.7 0h1.3M508 476h1.3m17.7 0h1.3m4.7 0h1.3m2.7 0h1.3m8.7 0h1.3m26.7 0h1.3m14.7 0h1.3M456 477h1.3m26.7 0h1.3m4.7 0h1.3m14.7 0h1.3m14.7 0h1.3m0.7 0h1.3m23.7 0h1.3m0.7 0h1.3m5.7 0h1.3m13.7 0h1.3m26.7 0h1.3M496 478h1.3m5.7 0h1.3m2.7 0h1.3m33.7 0h1.3m7.7 0h1.3m5.7 0h1.3m0.7 0h1.3M506 479h1.3m32.7 0h1.3m15.7 0h1.3m15.7 0h1.3m25.7 0h1.3M500 480h1.3m-0.3 0h1.3m34.7 0h1.3m1.7 0h1.3m4.7 0h1.3m6.7 0h1.3M512 481h1.3m1.7 0h1.3m8.7 0h1.3m9.7 0h1.3m4.7 0h1.3m4.7 0h1.3m9.7 0h1.3M484 482h1.3m22.7 0h1.3m8.7 0h1.3m16.7 0h1.3m9.7 0h1.3m-0.3 0h1.3M509 483h1.3m15.7 0h1.3m9.7 0h1.3m18.7 0h1.3m13.7 0h1.3M498 484h1.3m71.7 0h1.3m20.7 0h1.3m6.7 0h1.3M491 485h1.3m6.7 0h1.3m8.7 0h1.3m12.7 0h1.3m14.7 0h1.3m18.7 0h1.3m5.7 0h1.3m25.7 0h1.3M468 486h1.3m4.7 0h1.3m39.7 0h1.3m2.7 0h1.3m14.7 0h1.3m16.7 0h1.3m3.7 0h1.3M501 487h1.3m41.7 0h1.3m4.7 0h1.3m-0.3 0h1.3m10.7 0h1.3M500 488h1.3m5.7 0h1.3M511 489h1.3m3.7 0h1.3m59.7 0h1.3m16.7 0h1.3M451 490h1.3m37.7 0h1.3m15.7 0h1.3m3.7 0h1.3m34.7 0h1.3M495 491h1.3m33.7 0h1.3m22.7 0h1.3M464 492h1.3m53.7 0h1.3m4.7 0h1.3M468 493h1.3m41.7 0h1.3m0.7 0h1.3m12.7 0h1.3m3.7 0h1.3m2.7 0h1.3m7.7 0h1.3M448 494h1.3m15.7 0h1.3m18.7 0h1.3m42.7 0h1.3m20.7 0h1.3M519 495h1.3m7.7 0h1.3M508 497h1.3M472 498h1.3m14.7 0h1.3m2.7 0h1.3m43.7 0h1.3M524 499h1.3m16.7 0h1.3M508 502h1.3m35.7 0h1.3M546 504h1.3M532 508h1.3"/>
<path stroke="#22b422" stroke-width="1.3" d="M572 458h1.3M546 460h1.3m1.7 0h1.3M549 464h1.3m42.7 0h1.3M546 466h1.3m67.7 0h1.3m17.7 0h1.3M537 467h1.3m25.7 0h1.3m0.7 0h1.3m30.7 0h1.3M551 468h1.3m6.7 0h1.3M560 469h1.3m13.7 0h1.3m0.7 0h1.3m13.7 0h1.3m13.7 0h1.3M546 470h1.3m11.7 0h1.3m0.7 0h1.3m1.7 0h1.3m-0.3 0h1.3m17.7 0h1.3m14.7 0h1.3m38.7 0h1.3M573 471h1.3m4.7 0h1.3m-0.3 0h1.3m22.7 0h1.3M500 472h1.3m34.7 0h1.3m1.7 0h1.3m1.7 0h1.3m-0.3 0h1.3m0.7 0h1.3m4.7 0h1.3m9.7 0h1.3m1.7 0h1.3m0.7 0h1.3m-0.3 0h1.3m5.7 0h1.3m2.7 0h1.3m8.7 0h1.3M483 473h1.3m38.7 0h1.3m19.7 0h1.3m4.7 0h1.3m1.7 0h1.3m4.7 0h1.3m1.7 0h1.3m-0.3 0h1.3m0.7 0h1.3m3.7 0h1.3m-0.3 0h1.3m13.7 0h1.3m15.7 0h1.3M507 474h1.3m7.7 0h1.3m13.7 0h1.3m3.7 0h1.3m1.7 0h1.3m22.7 0h1.3m4.7 0h1.3m3.7 0h1.3m4.7 0h1.3m1.7 0h1.3m2.7 0h1.3m9.7 0h1.3M503 475h1.3m8.7 0h1.3m8.7 0h1.3m5.7 0h1.3m-0.3 0h1.3m4.7 0h1.3m9.7 0h1.3m12.7 0h1.3m3.7 0h1.3m2.7 0h1.3m20.7 0h1.3m2.7 0h1.3m0.7 0h1.3m29.7 0h1.3m1.7 0h1.3M512 476h1.3m20.7 0h1.3m1.7 0h1.3m3.7 0h1.3m1.7 0h1.3m4.7 0h1.3m2.7 0h1.3m2.7 0h1.3m-0.3 0h1.3m3.7 0h1.3m0.7 0h1.3m0.7 0h1.3m10.7 0h1.3m1.7 0h1.3m12.7 0h1.3M477 477h1.3m32.7 0h1.3m-0.3 0h1.3m6.7 0h1.3m1.7 0h1.3m-0.3 0h1.3m7.7 0h1.3m2.7 0h1.3m0.7 0h1.3m-0.3 0h1.3m-0.3 0h1.3m-0.3 0h1.3m-0.3 0h1.3m-0.3 0h1.3m5.7 0h1.3m2.7 0h1.3m1.7 0h1.3m-0.3 0h1.3m3.7 0h1.3m8.7 0h1.3m10.7 0h1.3m-0.3 0h1.3m4.7 0h1.3m-0.3 0h1.3m4.7 0h1.3m-0.3 0h1.3M504 478h1.3m7.7 0h1.3m4.7 0h1.3m13.7 0h1.3m-0.3 0h1.3m-0.3 0h1.3m-0.3 0h1.3m2.7 0h1.3m-0.3 0h1.3m-0.3 0h1.3m2.7 0h1.3m0.7 0h1.3m-0.3 0h1.3m0.7 0h1.3m5.7 0h1.3m-0.3 0h1.3m1.7 0h1.3m0.7 0h1.3m1.7 0h1.3m0.7 0h1.3m2.7 0h1.3m-0.3 0h1.3m0.7 0h1.3m12.7 0h1.3m10.7 0h1.3m1.7 0h1.3m-0.3 0h1.3m4.7 0h1.3M502 479h1.3m6.7 0h1.3m-0.3 0h1.3m2.7 0h1.3m1.7 0h1.3m2.7 0h1.3m-0.3 0h1.3m3.7 0h1.3m-0.3 0h1.3m1.7 0h1.3m0.7 0h1.3m1.7 0h1.3m1.7 0h1.3m-0.3 0h1.3m2.7 0h1.3m2.7 0h1.3m-0.3 0h1.3m-0.3 0h1.3m-0.3 0h1.3m-0.3 0h1.3m0.7 0h1.3m2.7 0h1.3m4.7 0h1.3m0.7 0h1.3m2.7 0h1.3m0.7 0h1.3m-0.3 0h1.3m25.7 0h1.3m6.7 0h1.3m7.7 0h1.3M500 480h1.3m3.7 0h1.3m0.7 0h1.3m4.7 0h1.3m12.7 0h1.3m-0.3 0h1.3m-0.3 0h1.3m4.7 0h1.3m0.7 0h1.3m-0.3 0h1.3m2.7 0h1.3m0.7 0h1.3m-0.3 0h1.3m0.7 0h1.3m2.7 0h1.3m1.7 0h1.3m-0.3 0h1.3m0.7 0h1.3m-0.3 0h1.3m1.7 0h1.3m2.7 0h1.3m-0.3 0h1.3m-0.3 0h1.3m-0.3 0h1.3m2.7 0h1.3m2.7 0h1.3m1.7 0h1.3m-0.3 0h1.3m0.7 0h1.3m-0.3 0h1.3m7.7 0h1.3M514 481h1.3m6.7 0h1.3m-0.3 0h1.3m4.7 0h1.3m0.7 0h1.3m1.7 0h1.3m-0.3 0h1.3m2.7 0h1.3m-0.3 0h1.3m-0.3 0h1.3m-0.3 0h1.3m0.7 0h1.3m-0.3 0h1.3m0.7 0h1.3m-0.3 0h1.3m1.7 0h1.3m-0.3 0h1.3m-0.3 0h1.3m-0.3 0h1.3m-0.3 0h1.3m4.7 0h1.3m6.7 0h1.3m-0.3 0h1.3m-0.3 0h1.3m0.7 0h1.3m2.7 0h1.3m-0.3 0h1.3m-0.3 0h1.3m5.7 0h1.3m6.7 0h1.3m2.7 0h1.3m1.7 0h1.3m12.7 0h1.3M492 482h1.3m16.7 0h1.3m0.7 0h1.3m0.7 0h1.3m1.7 0h1.3m4.7 0h1.3m1.7 0h1.3m0.7 0h1.3m0.7 0h1.3m2.7 0h1.3m0.7 0h1.3m-0.3 0h1.3m0.7 0h1.3m-0.3 0h1.3m0.7 0h1.3m-0.3 0h1.3m-0.3 0h1.3m-0.3 0h1.3m2.7 0h1.3m1.7 0h1.3m4.7 0h1.3m-0.3 0h1.3m-0.3 0h1.3m2.7 0h1.3m2.7 0h1.3m-0.3 0h1.3m-0.3 0h1.3m0.7 0h1.3m0.7 0h1.3m2.7 0h1.3m-0.3 0h1.3m0.7 0h1.3m7.7 0h1.3m8.7 0h1.3M497 483h1.3m7.7 0h1.3m2.7 0h1.3m2.7 0h1.3m0.7 0h1.3m2.7 0h1.3m-0.3 0h1.3m2.7 0h1.3m0.7 0h1.3m2.7 0h1.3m2.7 0h1.3m0.7 0h1.3m-0.3 0h1.3m0.7 0h1.3m5.7 0h1.3m0.7 0h1.3m-0.3 0h1.3m0.7 0h1.3m-0.3 0h1.3m-0.3 0h1.3m0.7 0h1.3m0.7 0h1.3m2.7 0h1.3m2.7 0h1.3m0.7 0h1.3m3.7 0h1.3m0.7 0h1.3m6.7 0h1.3m5.7 0h1.3m3.7 0h1.3M483 484h1.3m17.7 0h1.3m3.7 0h1.3m13.7 0h1.3m-0.3 0h1.3m2.7 0h1.3m1.7 0h1.3m-0.3 0h1.3m0.7 0h1.3m0.7 0h1.3m-0.3 0h1.3m0.7 0h1.3m-0.3 0h1.3m0.7 0h1.3m-0.3 0h1.3m1.7 0h1.3m2.7 0h1.3m-0.3 0h1.3m-0.3 0h1.3m-0.3 0h1.3m-0.3 0h1.3m-0.3 0h1.3m-0.3 0h1.3m2.7 0h1.3m-0.3 0h1.3m2.7 0h1.3m-0.3 0h1.3m0.7 0h1.3m0.7 0h1.3m0.7 0h1.3m0.7 0h1.3m-0.3 0h1.3m0.7 0h1.3m-0.3 0h1.3m2.7 0h1.3m1.7 0h1.3m-0.3 0h1.3m0.7 0h1.3m3.7 0h1.3m10.7 0h1.3M487 485h1.3m22.7 0h1.3m4.7 0h1.3m-0.3 0h1.3m3.7 0h1.3m0.7 0h1.3m-0.3 0h1.3m-0.3 0h1.3m2.7 0h1.3m0.7 0h1.3m-0.3 0h1.3m-0.3 0h1.3m-0.3 0h1.3m-0.3 0h1.3m0.7 0h1.3m0.7 0h1.3m7.7 0h1.3m-0.3 0h1.3m2.7 0h1.3m-0.3 0h1.3m3.7 0h1.3m0.7 0h1.3m-0.3 0h1.3m-0.3 0h1.3m1.7 0h1.3m2.7 0h1.3m1.7 0h1.3m-0.3 0h1.3m-0.3 0h1.3m0.7 0h1.3m1.7 0h1.3m-0.3 0h1.3m23.7 0h1.3M489 486h1.3m15.7 0h1.3m1.7 0h1.3m1.7 0h1.3m6.7 0h1.3m3.7 0h1.3m0.7 0h1.3m0.7 0h1.3m-0.3 0h1.3m-0.3 0h1.3m-0.3 0h1.3m-0.3 0h1.3m-0.3 0h1.3m0.7 0h1.3m-0.3 0h1.3m-0.3 0h1.3m1.7 0h1.3m2.7 0h1.3m-0.3 0h1.3m0.7 0h1.3m0.7 0h1.3m-0.3 0h1.3m3.7 0h1.3m0.7 0h1.3m2.7 0h1.3m0.7 0h1.3m-0.3 0h1.3m-0.3 0h1.3m-0.3 0h1.3m-0.3 0h1.3m4.7 0h1.3m-0.3 0h1.3m1.7 0h1.3m0.7 0h1.3m8.7 0h1.3m7.7 0h1.3M503 487h1.3m9.7 0h1.3m2.7 0h1.3m8.7 0h1.3m-0.3 0h1.3m1.7 0h1.3m-0.3 0h1.3m-0.3 0h1.3m1.7 0h1.3m3.7 0h1.3m-0.3 0h1.3m1.7 0h1.3m-0.3 0h1.3m-0.3 0h1.3m2.7 0h1.3m-0.3 0h1.3m-0.3 0h1.3m-0.3 0h1.3m-0.3 0h1.3m2.7 0h1.3m3.7 0h1.3m0.7 0h1.3m0.7 0h1.3m2.7 0h1.3m-0.3 0h1.3m-0.3 0h1.3m-0.3 0h1.3m3.7 0h1.3m-0.3 0h1.3m-0.3 0h1.3m1.7 0h1.3m13.7 0h1.3M497 488h1.3m1.7 0h1.3m-0.3 0h1.3m2.7 0h1.3m1.7 0h1.3m-0.3 0h1.3m6.7 0h1.3m2.7 0h1.3m5.7 0h1.3m0.7 0h1.3m1.7 0h1.3m-0.3 0h1.3m2.7 0h1.3m-0.3 0h1.3m1.7 0h1.3m-0.3 0h1.3m-0.3 0h1.3m-0.3 0h1.3m0.7 0h1.3m0.7 0h1.3m-0.3 0h1.3m-0.3 0h1.3m-0.3 0h1.3m-0.3 0h1.3m-0.3 0h1.3m2.7 0h1.3m2.7 0h1.3m-0.3 0h1.3m0.7 0h1.3m-0.3 0h1.3m2.7 0h1.3m1.7 0h1.3m-0.3 0h1.3m-0.3 0h1.3m0.7 0h1.3m-0.3 0h1.3m0.7 0h1.3m2.7 0h1.3m-0.3 0h1.3m9.7 0h1.3m1.7 0h1.3m17.7 0h1.3M505 489h1.3m2.7 0h1.3m0.7 0h1.3m-0.3 0h1.3m0.7 0h1.3m-0.3 0h1.3m1.7 0h1.3m-0.3 0h1.3m3.7 0h1.3m-0.3 0h1.3m-0.3 0h1.3m-0.3 0h1.3m-0.3 0h1.3m-0.3 0h1.3m2.7 0h1.3m0.7 0h1.3m-0.3 0h1.3m2.7 0h1.3m0.7 0h1.3m-0.3 0h1.3m-0.3 0h1.3m-0.3 0h1.3m-0.3 0h1.3m-0.3 0h1.3m0.7 0h1.3m-0.3 0h1.3m-0.3 0h1.3m1.7 0h1.3m-0.3 0h1.3m-0.3 0h1.3m0.7 0h1.3m0.7 0h1.3m1.7 0h1.3m-0.3 0h1.3m-0.3 0h1.3m0.7 0h1.3m4.7 0h1.3m-0.3 0h1.3m-0.3 0h1.3m0.7 0h1.3m-0.3 0h1.3M483 490h1.3m7.7 0h1.3m16.7 0h1.3m0.7 0h1.3m4.7 0h1.3m4.7 0h1.3m-0.3 0h1.3m-0.3 0h1.3m-0.3 0h1.3m1.7 0h1.3m1.7 0h1.3m-0.3 0h1.3m0.7 0h1.3m-0.3 0h1.3m-0.3 0h1.3m5.7 0h1.3m1.7 0h1.3m0.7 0h1.3m0.7 0h1.3m-0.3 0h1.3m-0.3 0h1.3m1.7 0h1.3m-0.3 0h1.3m1.7 0h1.3m-0.3 0h1.3m1.7 0h1.3m0.7 0h1.3m4.7 0h1.3m-0.3 0h1.3m-0.3 0h1.3m2.7 0h1.3m0.7 0h1.3m-0.3 0h1.3m0.7 0h1.3m0.7 0h1.3m-0.3 0h1.3m9.7 0h1.3M481 491h1.3m5.7 0h1.3m11.7 0h1.3m3.7 0h1.3m-0.3 0h1.3m-0.3 0h1.3m-0.3 0h1.3m4.7 0h1.3m6.7 0h1.3m1.7 0h1.3m-0.3 0h1.3m1.7 0h1.3m1.7 0h1.3m0.7 0h1.3m-0.3 0h1.3m0.7 0h1.3m1.7 0h1.3m-0.3 0h1.3m-0.3 0h1.3m0.7 0h1.3m8.7 0h1.3m-0.3 0h1.3m-0.3 0h1.3m0.7 0h1.3m-0.3 0h1.3m2.7 0h1.3m-0.3 0h1.3m0.7 0h1.3m-0.3 0h1.3m1.7 0h1.3m11.7 0h1.3m14.7 0h1.3m7.7 0h1.3M480 492h1.3m1.7 0h1.3m6.7 0h1.3m-0.3 0h1.3m7.7 0h1.3m0.7 0h1.3m5.7 0h1.3m5.7 0h1.3m0.7 0h1.3m-0.3 0h1.3m0.7 0h1.3m2.7 0h1.3m6.7 0h1.3m8.7 0h1.3m-0.3 0h1.3m-0.3 0h1.3m-0.3 0h1.3m0.7 0h1.3m-0.3 0h1.3m2.7 0h1.3m2.7 0h1.3m-0.3 0h1.3m1.7 0h1.3m-0.3 0h1.3m3.7 0h1.3m0.7 0h1.3m0.7 0h1.3m-0.3 0h1.3m3.7 0h1.3m8.7 0h1.3M487 493h1.3m5.7 0h1.3m9.7 0h1.3m4.7 0h1.3m0.7 0h1.3m3.7 0h1.3m4.7 0h1.3m2.7 0h1.3m0.7 0h1.3m-0.3 0h1.3m1.7 0h1.3m-0.3 0h1.3m2.7 0h1.3m-0.3 0h1.3m2.7 0h1.3m2.7 0h1.3m2.7 0h1.3m0.7 0h1.3m1.7 0h1.3m-0.3 0h1.3m-0.3 0h1.3m0.7 0h1.3m0.7 0h1.3m1.7 0h1.3m3.7 0h1.3m5.7 0h1.3m26.7 0h1.3M510 494h1.3m8.7 0h1.3m2.7 0h1.3m2.7 0h1.3m-0.3 0h1.3m0.7 0h1.3m-0.3 0h1.3m1.7 0h1.3m2.7 0h1.3m-0.3 0h1.3m0.7 0h1.3m1.7 0h1.3m-0.3 0h1.3m0.7 0h1.3m-0.3 0h1.3m3.7 0h1.3m8.7 0h1.3m10.7 0h1.3m1.7 0h1.3M493 495h1.3m0.7 0h1.3m7.7 0h1.3m12.7 0h1.3m1.7 0h1.3m4.7 0h1.3m3.7 0h1.3m2.7 0h1.3m1.7 0h1.3m5.7 0h1.3m3.7 0h1.3m-0.3 0h1.3m2.7 0h1.3m3.7 0h1.3m3.7 0h1.3m12.7 0h1.3M486 496h1.3m4.7 0h1.3m20.7 0h1.3m19.7 0h1.3m0.7 0h1.3m-0.3 0h1.3m1.7 0h1.3m-0.3 0h1.3m5.7 0h1.3m2.7 0h1.3m2.7 0h1.3m16.7 0h1.3M492 497h1.3m27.7 0h1.3m7.7 0h1.3m1.7 0h1.3m4.7 0h1.3m-0.3 0h1.3m2.7 0h1.3m0.7 0h1.3m10.7 0h1.3m0.7 0h1.3m-0.3 0h1.3m11.7 0h1.3m6.7 0h1.3M488 498h1.3m21.7 0h1.3m9.7 0h1.3m0.7 0h1.3m0.7 0h1.3m2.7 0h1.3m0.7 0h1.3m0.7 0h1.3m-0.3 0h1.3m-0.3 0h1.3m-0.3 0h1.3m3.7 0h1.3m-0.3 0h1.3m1.7 0h1.3m22.7 0h1.3m13.7 0h1.3M507 499h1.3m7.7 0h1.3m3.7 0h1.3m8.7 0h1.3m0.7 0h1.3m0.7 0h1.3m14.7 0h1.3m5.7 0h1.3m14.7 0h1.3M484 500h1.3m6.7 0h1.3m9.7 0h1.3m2.7 0h1.3m8.7 0h1.3m27.7 0h1.3m1.7 0h1.3m68.7 0h1.3M520 501h1.3m10.7 0h1.3m6.7 0h1.3m-0.3 0h1.3m16.7 0h1.3M466 502h1.3m4.7 0h1.3m9.7 0h1.3m12.7 0h1.3m5.7 0h1.3m0.7 0h1.3m5.7 0h1.3m4.7 0h1.3m9.7 0h1.3m35.7 0h1.3m1.7 0h1.3M514 503h1.3m26.7 0h1.3m12.7 0h1.3M492 504h1.3m4.7 0h1.3m3.7 0h1.3m7.7 0h1.3m-0.3 0h1.3m48.7 0h1.3m12.7 0h1.3M503 505h1.3m64.7 0h1.3M493 506h1.3M471 507h1.3m25.7 0h1.3m13.7 0h1.3M520 508h1.3M508 512h1.3"/>
<path stroke="#60dcf0" stroke-width="1.3" d="M590 491h1.3M481 492h1.3m16.7 0h1.3m-0.3 0h1.3m10.7 0h1.3m30.7 0h1.3m4.7 0h1.3m1.7 0h1.3m18.7 0h1.3m30.7 0h1.3m11.7 0h1.3M458 493h1.3m0.7 0h1.3m33.7 0h1.3m7.7 0h1.3m1.7 0h1.3m10.7 0h1.3m13.7 0h1.3m4.7 0h1.3m1.7 0h1.3m8.7 0h1.3m3.7 0h1.3m4.7 0h1.3m17.7 0h1.3m3.7 0h1.3m3.7 0h1.3M451 494h1.3m40.7 0h1.3m5.7 0h1.3m3.7 0h1.3m4.7 0h1.3m-0.3 0h1.3m1.7 0h1.3m-0.3 0h1.3m3.7 0h1.3m3.7 0h1.3m-0.3 0h1.3m0.7 0h1.3m1.7 0h1.3m-0.3 0h1.3m0.7 0h1.3m4.7 0h1.3m2.7 0h1.3m10.7 0h1.3m1.7 0h1.3m1.7 0h1.3m5.7 0h1.3m-0.3 0h1.3m4.7 0h1.3m3.7 0h1.3M439 495h1.3m26.7 0h1.3m4.7 0h1.3m8.7 0h1.3m11.7 0h1.3m2.7 0h1.3m0.7 0h1.3m4.7 0h1.3m1.7 0h1.3m4.7 0h1.3m0.7 0h1.3m1.7 0h1.3m1.7 0h1.3m1.7 0h1.3m2.7 0h1.3m1.7 0h1.3m2.7 0h1.3m1.7 0h1.3m-0.3 0h1.3m-0.3 0h1.3m-0.3 0h1.3m0.7 0h1.3m1.7 0h1.3m3.7 0h1.3m3.7 0h1.3m-0.3 0h1.3m-0.3 0h1.3m-0.3 0h1.3m0.7 0h1.3m6.7 0h1.3m0.7 0h1.3m1.7 0h1.3m2.7 0h1.3m1.7 0h1.3m2.7 0h1.3m2.7 0h1.3m1.7 0h1.3m7.7 0h1.3m1.7 0h1.3m22.7 0h1.3M477 496h1.3m8.7 0h1.3m4.7 0h1.3m1.7 0h1.3m1.7 0h1.3m0.7 0h1.3m5.7 0h1.3m1.7 0h1.3m1.7 0h1.3m3.7 0h1.3m-0.3 0h1.3m1.7 0h1.3m-0.3 0h1.3m-0.3 0h1.3m3.7 0h1.3m2.7 0h1.3m0.7 0h1.3m-0.3 0h1.3m4.7 0h1.3m1.7 0h1.3m0.7 0h1.3m3.7 0h1.3m2.7 0h1.3m6.7 0h1.3m-0.3 0h1.3m3.7 0h1.3m1.7 0h1.3m-0.3 0h1.3m4.7 0h1.3m3.7 0h1.3m14.7 0h1.3m11.7 0h1.3m-0.3 0h1.3m4.7 0h1.3M467 497h1.3m16.7 0h1.3m5.7 0h1.3m5.7 0h1.3m6.7 0h1.3m-0.3 0h1.3m16.7 0h1.3m0.7 0h1.3m0.7 0h1.3m-0.3 0h1.3m-0.3 0h1.3m5.7 0h1.3m1.7 0h1.3m-0.3 0h1.3m4.7 0h1.3m-0.3 0h1.3m-0.3 0h1.3m2.7 0h1.3m0.7 0h1.3m-0.3 0h1.3m3.7 0h1.3m0.7 0h1.3m0.7 0h1.3m0.7 0h1.3m-0.3 0h1.3m5.7 0h1.3m1.7 0h1.3m0.7 0h1.3m0.7 0h1.3m1.7 0h1.3m17.7 0h1.3m11.7 0h1.3m42.7 0h1.3M444 498h1.3m36.7 0h1.3m22.7 0h1.3m19.7 0h1.3m1.7 0h1.3m3.7 0h1.3m1.7 0h1.3m4.7 0h1.3m0.7 0h1.3m-0.3 0h1.3m1.7 0h1.3m11.7 0h1.3m2.7 0h1.3m1.7 0h1.3m1.7 0h1.3m2.7 0h1.3m11.7 0h1.3m36.7 0h1.3M509 499h1.3m6.7 0h1.3m2.7 0h1.3m15.7 0h1.3"/>
<path stroke="#40d4e8" stroke-width="1.3" d="M528 475h1.3M480 476h1.3M528 478h1.3M513 479h1.3M485 485h1.3m14.7 0h1.3m22.7 0h1.3m5.7 0h1.3M521 486h1.3M536 488h1.3M476 489h1.3m29.7 0h1.3M500 490h1.3m6.7 0h1.3m14.7 0h1.3M484 491h1.3m16.7 0h1.3m4.7 0h1.3M465 492h1.3m5.7 0h1.3m24.7 0h1.3m23.7 0h1.3m20.7 0h1.3M438 493h1.3m13.7 0h1.3m28.7 0h1.3m60.7 0h1.3M484 494h1.3m22.7 0h1.3m11.7 0h1.3m1.7 0h1.3M418 495h1.3m43.7 0h1.3m5.7 0h1.3m20.7 0h1.3m29.7 0h1.3M456 496h1.3m9.7 0h1.3m2.7 0h1.3m24.7 0h1.3m11.7 0h1.3M471 497h1.3m3.7 0h1.3m15.7 0h1.3m2.7 0h1.3m29.7 0h1.3m5.7 0h1.3m10.7 0h1.3M460 498h1.3m20.7 0h1.3m5.7 0h1.3m0.7 0h1.3m15.7 0h1.3m19.7 0h1.3m2.7 0h1.3m6.7 0h1.3m1.7 0h1.3M425 499h1.3m27.7 0h1.3m-0.3 0h1.3m47.7 0h1.3m11.7 0h1.3m36.7 0h1.3m16.7 0h1.3M431 500h1.3m28.7 0h1.3m7.7 0h1.3m1.7 0h1.3m0.7 0h1.3m10.7 0h1.3m0.7 0h1.3m-0.3 0h1.3m0.7 0h1.3m27.7 0h1.3m2.7 0h1.3m14.7 0h1.3m15.7 0h1.3m11.7 0h1.3M441 501h1.3m28.7 0h1.3m26.7 0h1.3m16.7 0h1.3m2.7 0h1.3m3.7 0h1.3M431 502h1.3m13.7 0h1.3m21.7 0h1.3m-0.3 0h1.3m19.7 0h1.3m2.7 0h1.3m15.7 0h1.3m12.7 0h1.3m-0.3 0h1.3m16.7 0h1.3m0.7 0h1.3m9.7 0h1.3m1.7 0h1.3M412 503h1.3m14.7 0h1.3m2.7 0h1.3m10.7 0h1.3m-0.3 0h1.3m1.7 0h1.3m3.7 0h1.3m-0.3 0h1.3m1.7 0h1.3m10.7 0h1.3m6.7 0h1.3m2.7 0h1.3m8.7 0h1.3m0.7 0h1.3m0.7 0h1.3m0.7 0h1.3m1.7 0h1.3m2.7 0h1.3m1.7 0h1.3m-0.3 0h1.3m100.7 0h1.3M410 504h1.3m19.7 0h1.3m9.7 0h1.3m6.7 0h1.3m22.7 0h1.3m0.7 0h1.3m2.7 0h1.3m0.7 0h1.3m10.7 0h1.3m0.7 0h1.3m5.7 0h1.3m17.7 0h1.3m2.7 0h1.3m2.7 0h1.3M435 505h1.3m7.7 0h1.3m0.7 0h1.3m22.7 0h1.3m2.7 0h1.3m0.7 0h1.3m27.7 0h1.3m4.7 0h1.3m-0.3 0h1.3m15.7 0h1.3M409 506h1.3m26.7 0h1.3m5.7 0h1.3m17.7 0h1.3m0.7 0h1.3m2.7 0h1.3m-0.3 0h1.3m3.7 0h1.3m8.7 0h1.3m0.7 0h1.3m6.7 0h1.3m1.7 0h1.3m-0.3 0h1.3m9.7 0h1.3m4.7 0h1.3m3.7 0h1.3M419 507h1.3m32.7 0h1.3m2.7 0h1.3m5.7 0h1.3m11.7 0h1.3m0.7 0h1.3m-0.3 0h1.3m1.7 0h1.3m0.7 0h1.3m0.7 0h1.3m-0.3 0h1.3m0.7 0h1.3m-0.3 0h1.3m6.7 0h1.3m-0.3 0h1.3m4.7 0h1.3m3.7 0h1.3m1.7 0h1.3m3.7 0h1.3m-0.3 0h1.3m-0.3 0h1.3m1.7 0h1.3m1.7 0h1.3m14.7 0h1.3M410 508h1.3m21.7 0h1.3m23.7 0h1.3m8.7 0h1.3m1.7 0h1.3m0.7 0h1.3m-0.3 0h1.3m4.7 0h1.3m0.7 0h1.3m12.7 0h1.3m2.7 0h1.3m-0.3 0h1.3m2.7 0h1.3m-0.3 0h1.3m-0.3 0h1.3m20.7 0h1.3m34.7 0h1.3M419 509h1.3m3.7 0h1.3m-0.3 0h1.3m1.7 0h1.3m15.7 0h1.3m14.7 0h1.3m-0.3 0h1.3m-0.3 0h1.3m10.7 0h1.3m2.7 0h1.3m1.7 0h1.3m-0.3 0h1.3m13.7 0h1.3m17.7 0h1.3m5.7 0h1.3m5.7 0h1.3m87.7 0h1.3M420 510h1.3m8.7 0h1.3m5.7 0h1.3m3.7 0h1.3m10.7 0h1.3m12.7 0h1.3m-0.3 0h1.3m5.7 0h1.3m0.7 0h1.3m1.7 0h1.3m4.7 0h1.3m-0.3 0h1.3m-0.3 0h1.3m-0.3 0h1.3m3.7 0h1.3m0.7 0h1.3m7.7 0h1.3m0.7 0h1.3m5.7 0h1.3m-0.3 0h1.3m1.7 0h1.3m-0.3 0h1.3m1.7 0h1.3m5.7 0h1.3m0.7 0h1.3M428 511h1.3m5.7 0h1.3m2.7 0h1.3m1.7 0h1.3m-0.3 0h1.3m9.7 0h1.3m0.7 0h1.3m2.7 0h1.3m1.7 0h1.3m1.7 0h1.3m-0.3 0h1.3m1.7 0h1.3m2.7 0h1.3m4.7 0h1.3m0.7 0h1.3m0.7 0h1.3m15.7 0h1.3m-0.3 0h1.3m7.7 0h1.3m6.7 0h1.3m15.7 0h1.3m1.7 0h1.3m3.7 0h1.3m29.7 0h1.3M416 512h1.3m1.7 0h1.3m1.7 0h1.3m1.7 0h1.3m-0.3 0h1.3m9.7 0h1.3m3.7 0h1.3m-0.3 0h1.3m3.7 0h1.3m4.7 0h1.3m2.7 0h1.3m3.7 0h1.3m12.7 0h1.3m0.7 0h1.3m-0.3 0h1.3m0.7 0h1.3m1.7 0h1.3m-0.3 0h1.3m0.7 0h1.3m13.7 0h1.3m-0.3 0h1.3m5.7 0h1.3m-0.3 0h1.3m11.7 0h1.3m0.7 0h1.3m7.7 0h1.3m3.7 0h1.3m3.7 0h1.3m3.7 0h1.3M425 513h1.3m10.7 0h1.3m11.7 0h1.3m4.7 0h1.3m0.7 0h1.3m10.7 0h1.3m7.7 0h1.3m6.7 0h1.3m7.7 0h1.3m3.7 0h1.3m-0.3 0h1.3m1.7 0h1.3m0.7 0h1.3m7.7 0h1.3m8.7 0h1.3m-0.3 0h1.3m16.7 0h1.3m16.7 0h1.3M416 514h1.3m0.7 0h1.3m3.7 0h1.3m4.7 0h1.3m4.7 0h1.3m0.7 0h1.3m0.7 0h1.3m1.7 0h1.3m2.7 0h1.3m0.7 0h1.3m-0.3 0h1.3m7.7 0h1.3m15.7 0h1.3m1.7 0h1.3m-0.3 0h1.3m0.7 0h1.3m-0.3 0h1.3m9.7 0h1.3m6.7 0h1.3m9.7 0h1.3m7.7 0h1.3m6.7 0h1.3M409 515h1.3m15.7 0h1.3m0.7 0h1.3m21.7 0h1.3m0.7 0h1.3m5.7 0h1.3m1.7 0h1.3m0.7 0h1.3m1.7 0h1.3m3.7 0h1.3m-0.3 0h1.3m-0.3 0h1.3m1.7 0h1.3m12.7 0h1.3m9.7 0h1.3m0.7 0h1.3m4.7 0h1.3m3.7 0h1.3m4.7 0h1.3m20.7 0h1.3m7.7 0h1.3M433 516h1.3m17.7 0h1.3m4.7 0h1.3m0.7 0h1.3m-0.3 0h1.3m3.7 0h1.3m0.7 0h1.3m-0.3 0h1.3m4.7 0h1.3m0.7 0h1.3m-0.3 0h1.3m3.7 0h1.3m5.7 0h1.3m0.7 0h1.3m0.7 0h1.3m0.7 0h1.3m2.7 0h1.3m32.7 0h1.3m1.7 0h1.3m0.7 0h1.3M415 517h1.3m11.7 0h1.3m5.7 0h1.3m9.7 0h1.3m2.7 0h1.3m6.7 0h1.3m2.7 0h1.3m2.7 0h1.3m-0.3 0h1.3m1.7 0h1.3m3.7 0h1.3m3.7 0h1.3m0.7 0h1.3m0.7 0h1.3m5.7 0h1.3m0.7 0h1.3m12.7 0h1.3m3.7 0h1.3m2.7 0h1.3m10.7 0h1.3m4.7 0h1.3M433 518h1.3m3.7 0h1.3m13.7 0h1.3m5.7 0h1.3m9.7 0h1.3m2.7 0h1.3m16.7 0h1.3m23.7 0h1.3m4.7 0h1.3m28.7 0h1.3M413 519h1.3m21.7 0h1.3m18.7 0h1.3m14.7 0h1.3m5.7 0h1.3m12.7 0h1.3m1.7 0h1.3m2.7 0h1.3m0.7 0h1.3m15.7 0h1.3m54.7 0h1.3M427 520h1.3m2.7 0h1.3m10.7 0h1.3m2.7 0h1.3m5.7 0h1.3m9.7 0h1.3m0.7 0h1.3m1.7 0h1.3m-0.3 0h1.3m-0.3 0h1.3m3.7 0h1.3m11.7 0h1.3m-0.3 0h1.3m3.7 0h1.3m1.7 0h1.3m3.7 0h1.3m23.7 0h1.3m9.7 0h1.3m0.7 0h1.3m0.7 0h1.3M420 521h1.3m2.7 0h1.3m17.7 0h1.3m3.7 0h1.3m-0.3 0h1.3m8.7 0h1.3m3.7 0h1.3m3.7 0h1.3m-0.3 0h1.3m0.7 0h1.3m1.7 0h1.3m0.7 0h1.3m-0.3 0h1.3m4.7 0h1.3m10.7 0h1.3m2.7 0h1.3m15.7 0h1.3m4.7 0h1.3M410 522h1.3m9.7 0h1.3m19.7 0h1.3m16.7 0h1.3m-0.3 0h1.3m8.7 0h1.3m1.7 0h1.3m-0.3 0h1.3m7.7 0h1.3m18.7 0h1.3m42.7 0h1.3M418 523h1.3m2.7 0h1.3m10.7 0h1.3m6.7 0h1.3m20.7 0h1.3m3.7 0h1.3m5.7 0h1.3m7.7 0h1.3m4.7 0h1.3m11.7 0h1.3m20.7 0h1.3m10.7 0h1.3M433 524h1.3m1.7 0h1.3m7.7 0h1.3m8.7 0h1.3m10.7 0h1.3m3.7 0h1.3m-0.3 0h1.3m15.7 0h1.3m19.7 0h1.3M461 525h1.3m4.7 0h1.3m13.7 0h1.3m1.7 0h1.3m-0.3 0h1.3m29.7 0h1.3m16.7 0h1.3M413 526h1.3m28.7 0h1.3m10.7 0h1.3m9.7 0h1.3m4.7 0h1.3m7.7 0h1.3m0.7 0h1.3m22.7 0h1.3m51.7 0h1.3M457 527h1.3m2.7 0h1.3m0.7 0h1.3m10.7 0h1.3m3.7 0h1.3m0.7 0h1.3m17.7 0h1.3m18.7 0h1.3m5.7 0h1.3m44.7 0h1.3M445 528h1.3m22.7 0h1.3m0.7 0h1.3m1.7 0h1.3m5.7 0h1.3M451 529h1.3m12.7 0h1.3m9.7 0h1.3m19.7 0h1.3M468 530h1.3m1.7 0h1.3m3.7 0h1.3m10.7 0h1.3M425 531h1.3m3.7 0h1.3m30.7 0h1.3m35.7 0h1.3m20.7 0h1.3M411 532h1.3m-0.3 0h1.3m4.7 0h1.3m74.7 0h1.3m21.7 0h1.3m15.7 0h1.3M465 533h1.3m-0.3 0h1.3m13.7 0h1.3m6.7 0h1.3M429 534h1.3m16.7 0h1.3m22.7 0h1.3m18.7 0h1.3M425 535h1.3m16.7 0h1.3m56.7 0h1.3M408 536h1.3m46.7 0h1.3m23.7 0h1.3m44.7 0h1.3M436 538h1.3m18.7 0h1.3M449 539h1.3m78.7 0h1.3M464 540h1.3M439 543h1.3M483 544h1.3"/>
<path stroke="#1a1a1a" stroke-width="1.3" d="M548 483h1.3M489 487h1.3M460 493h1.3M481 494h1.3m27.7 0h1.3M461 495h1.3m10.7 0h1.3m-0.3 0h1.3m1.7 0h1.3M550 496h1.3M468 497h1.3m18.7 0h1.3m6.7 0h1.3m2.7 0h1.3M483 498h1.3m18.7 0h1.3m5.7 0h1.3M491 499h1.3m9.7 0h1.3M463 500h1.3M495 501h1.3M440 503h1.3m55.7 0h1.3M492 504h1.3M460 505h1.3m10.7 0h1.3m44.7 0h1.3M434 506h1.3m10.7 0h1.3m6.7 0h1.3m35.7 0h1.3M452 507h1.3m12.7 0h1.3m10.7 0h1.3m6.7 0h1.3m1.7 0h1.3m15.7 0h1.3M417 508h1.3m19.7 0h1.3m3.7 0h1.3m24.7 0h1.3m30.7 0h1.3m10.7 0h1.3M422 509h1.3m8.7 0h1.3m15.7 0h1.3m21.7 0h1.3m23.7 0h1.3m13.7 0h1.3M430 510h1.3m4.7 0h1.3m3.7 0h1.3m31.7 0h1.3m10.7 0h1.3m26.7 0h1.3M458 511h1.3m1.7 0h1.3m11.7 0h1.3m2.7 0h1.3m5.7 0h1.3m6.7 0h1.3m28.7 0h1.3M441 512h1.3m9.7 0h1.3m20.7 0h1.3m5.7 0h1.3m7.7 0h1.3m1.7 0h1.3m0.7 0h1.3m17.7 0h1.3M408 513h1.3m15.7 0h1.3m1.7 0h1.3m22.7 0h1.3m8.7 0h1.3m14.7 0h1.3m1.7 0h1.3m0.7 0h1.3m1.7 0h1.3m12.7 0h1.3m-0.3 0h1.3M424 514h1.3m9.7 0h1.3m4.7 0h1.3m42.7 0h1.3m9.7 0h1.3M423 515h1.3m12.7 0h1.3m2.7 0h1.3m13.7 0h1.3m-0.3 0h1.3m-0.3 0h1.3m-0.3 0h1.3m4.7 0h1.3m17.7 0h1.3m15.7 0h1.3m9.7 0h1.3m17.7 0h1.3M443 516h1.3m2.7 0h1.3m4.7 0h1.3m15.7 0h1.3m0.7 0h1.3m51.7 0h1.3M436 517h1.3m2.7 0h1.3m18.7 0h1.3m13.7 0h1.3m-0.3 0h1.3m0.7 0h1.3m2.7 0h1.3m0.7 0h1.3m-0.3 0h1.3m18.7 0h1.3M422 518h1.3m35.7 0h1.3m10.7 0h1.3m3.7 0h1.3m-0.3 0h1.3m78.7 0h1.3M421 519h1.3m35.7 0h1.3m2.7 0h1.3m35.7 0h1.3m-0.3 0h1.3m0.7 0h1.3m1.7 0h1.3m4.7 0h1.3m4.7 0h1.3M425 520h1.3m26.7 0h1.3m-0.3 0h1.3m2.7 0h1.3m0.7 0h1.3m19.7 0h1.3m6.7 0h1.3m56.7 0h1.3M436 521h1.3m9.7 0h1.3m0.7 0h1.3m0.7 0h1.3m15.7 0h1.3m8.7 0h1.3m4.7 0h1.3m3.7 0h1.3M420 522h1.3m8.7 0h1.3m3.7 0h1.3m0.7 0h1.3m-0.3 0h1.3m0.7 0h1.3m6.7 0h1.3m1.7 0h1.3m18.7 0h1.3m7.7 0h1.3m2.7 0h1.3m5.7 0h1.3M431 523h1.3m16.7 0h1.3m7.7 0h1.3m9.7 0h1.3m0.7 0h1.3m25.7 0h1.3M413 524h1.3m-0.3 0h1.3m26.7 0h1.3m7.7 0h1.3m6.7 0h1.3m0.7 0h1.3m3.7 0h1.3m4.7 0h1.3m1.7 0h1.3m-0.3 0h1.3m0.7 0h1.3m16.7 0h1.3m16.7 0h1.3m10.7 0h1.3M418 525h1.3m21.7 0h1.3m-0.3 0h1.3m7.7 0h1.3m5.7 0h1.3m3.7 0h1.3m2.7 0h1.3m2.7 0h1.3m38.7 0h1.3M430 526h1.3m5.7 0h1.3m-0.3 0h1.3m10.7 0h1.3m0.7 0h1.3m16.7 0h1.3m-0.3 0h1.3M430 527h1.3m20.7 0h1.3m0.7 0h1.3m17.7 0h1.3m19.7 0h1.3m5.7 0h1.3m23.7 0h1.3M434 528h1.3m19.7 0h1.3m3.7 0h1.3m7.7 0h1.3m10.7 0h1.3m9.7 0h1.3m22.7 0h1.3M414 529h1.3m6.7 0h1.3m3.7 0h1.3m9.7 0h1.3m17.7 0h1.3m1.7 0h1.3m3.7 0h1.3m12.7 0h1.3m0.7 0h1.3m20.7 0h1.3m9.7 0h1.3M434 530h1.3m1.7 0h1.3m9.7 0h1.3m11.7 0h1.3m-0.3 0h1.3m11.7 0h1.3m-0.3 0h1.3m-0.3 0h1.3m29.7 0h1.3M414 531h1.3m11.7 0h1.3m21.7 0h1.3m4.7 0h1.3m18.7 0h1.3m3.7 0h1.3m6.7 0h1.3m42.7 0h1.3M425 532h1.3m22.7 0h1.3m19.7 0h1.3m15.7 0h1.3m2.7 0h1.3m8.7 0h1.3m31.7 0h1.3m1.7 0h1.3M440 533h1.3m27.7 0h1.3m11.7 0h1.3M435 534h1.3m14.7 0h1.3m19.7 0h1.3M438 535h1.3m6.7 0h1.3m5.7 0h1.3m28.7 0h1.3M410 536h1.3m7.7 0h1.3m13.7 0h1.3m10.7 0h1.3m7.7 0h1.3m20.7 0h1.3M420 537h1.3m18.7 0h1.3m0.7 0h1.3m23.7 0h1.3m20.7 0h1.3m6.7 0h1.3m6.7 0h1.3M411 538h1.3m21.7 0h1.3m11.7 0h1.3M431 539h1.3M418 540h1.3M409 541h1.3m1.7 0h1.3M457 542h1.3m3.7 0h1.3M413 543h1.3m52.7 0h1.3M480 544h1.3M455 545h1.3M435 546h1.3m33.7 0h1.3m5.7 0h1.3M426 547h1.3m15.7 0h1.3M459 549h1.3m10.7 0h1.3m3.7 0h1.3"/>
<path stroke="#1a1a1a" stroke-width="1.3" d="M516 520h1.3m5.7 0h1.3M499 521h1.3M523 522h1.3M486 524h1.3m15.7 0h1.3m3.7 0h1.3m2.7 0h1.3M497 525h1.3m12.7 0h1.3m9.7 0h1.3m0.7 0h1.3M490 526h1.3m0.7 0h1.3m-0.3 0h1.3m0.7 0h1.3m6.7 0h1.3M475 527h1.3m6.7 0h1.3m0.7 0h1.3m4.7 0h1.3m0.7 0h1.3m4.7 0h1.3m13.7 0h1.3m1.7 0h1.3m0.7 0h1.3m14.7 0h1.3M490 528h1.3m2.7 0h1.3m0.7 0h1.3m0.7 0h1.3m1.7 0h1.3m3.7 0h1.3m-0.3 0h1.3m7.7 0h1.3m1.7 0h1.3M477 529h1.3m0.7 0h1.3m7.7 0h1.3m7.7 0h1.3m4.7 0h1.3m4.7 0h1.3m2.7 0h1.3M493 530h1.3m4.7 0h1.3m11.7 0h1.3m0.7 0h1.3M478 531h1.3m4.7 0h1.3m-0.3 0h1.3m1.7 0h1.3m-0.3 0h1.3m0.7 0h1.3m-0.3 0h1.3m0.7 0h1.3m5.7 0h1.3m-0.3 0h1.3m3.7 0h1.3m3.7 0h1.3M464 532h1.3m19.7 0h1.3m2.7 0h1.3m6.7 0h1.3m1.7 0h1.3m5.7 0h1.3m2.7 0h1.3m-0.3 0h1.3M474 533h1.3m11.7 0h1.3m5.7 0h1.3m26.7 0h1.3M481 534h1.3m0.7 0h1.3m-0.3 0h1.3m1.7 0h1.3m1.7 0h1.3m0.7 0h1.3m-0.3 0h1.3m-0.3 0h1.3m-0.3 0h1.3M477 535h1.3m8.7 0h1.3m-0.3 0h1.3m0.7 0h1.3m-0.3 0h1.3m4.7 0h1.3m5.7 0h1.3m11.7 0h1.3m-0.3 0h1.3M461 536h1.3m13.7 0h1.3m18.7 0h1.3M467 537h1.3m19.7 0h1.3m2.7 0h1.3m4.7 0h1.3m2.7 0h1.3M475 538h1.3m13.7 0h1.3m-0.3 0h1.3m14.7 0h1.3M465 539h1.3m-0.3 0h1.3m5.7 0h1.3M489 543h1.3M463 545h1.3"/>
<path stroke="#e890d8" stroke-width="1.3" d="M473 495h1.3m35.7 0h1.3M447 496h1.3M451 497h1.3M442 498h1.3m30.7 0h1.3m27.7 0h1.3M426 500h1.3M472 501h1.3m23.7 0h1.3M428 502h1.3m7.7 0h1.3m13.7 0h1.3m22.7 0h1.3M459 503h1.3m5.7 0h1.3m25.7 0h1.3m5.7 0h1.3m7.7 0h1.3M514 504h1.3M475 505h1.3M444 506h1.3m34.7 0h1.3m54.7 0h1.3M430 507h1.3m12.7 0h1.3m35.7 0h1.3m34.7 0h1.3M452 508h1.3m1.7 0h1.3m0.7 0h1.3m4.7 0h1.3m11.7 0h1.3m4.7 0h1.3m36.7 0h1.3M428 509h1.3m33.7 0h1.3m69.7 0h1.3M460 510h1.3m2.7 0h1.3M438 511h1.3m0.7 0h1.3m0.7 0h1.3m17.7 0h1.3m11.7 0h1.3m4.7 0h1.3m33.7 0h1.3m21.7 0h1.3M440 512h1.3m64.7 0h1.3M446 513h1.3m18.7 0h1.3m16.7 0h1.3m25.7 0h1.3M429 514h1.3m-0.3 0h1.3m10.7 0h1.3m1.7 0h1.3m28.7 0h1.3m70.7 0h1.3M450 515h1.3m3.7 0h1.3m11.7 0h1.3m0.7 0h1.3m35.7 0h1.3m2.7 0h1.3m27.7 0h1.3M453 516h1.3m38.7 0h1.3m13.7 0h1.3M443 517h1.3m20.7 0h1.3m10.7 0h1.3m19.7 0h1.3m6.7 0h1.3M431 518h1.3m11.7 0h1.3m9.7 0h1.3m16.7 0h1.3M436 519h1.3m1.7 0h1.3m107.7 0h1.3M420 520h1.3m0.7 0h1.3m17.7 0h1.3m35.7 0h1.3m14.7 0h1.3M438 521h1.3m41.7 0h1.3m1.7 0h1.3m3.7 0h1.3M492 522h1.3m25.7 0h1.3m39.7 0h1.3M489 523h1.3M409 524h1.3m23.7 0h1.3m14.7 0h1.3m28.7 0h1.3m20.7 0h1.3m6.7 0h1.3M491 525h1.3m13.7 0h1.3M438 526h1.3m10.7 0h1.3M462 527h1.3m56.7 0h1.3M433 528h1.3m6.7 0h1.3m4.7 0h1.3m33.7 0h1.3M476 529h1.3m18.7 0h1.3m15.7 0h1.3M522 530h1.3M515 531h1.3M457 532h1.3M450 535h1.3m25.7 0h1.3m16.7 0h1.3M482 537h1.3M442 538h1.3"/></g>
<path d="M494.0 522.0 L496.0 513.0 L500.0 506.0 L510.0 501.5 L525.0 499.0 L542.0 498.5 L553.0 500.0 L559.0 506.0 L561.0 516.0 L556.0 526.0 L538.0 529.5 L512.0 529.0 L499.0 527.0Z" fill="#f88484"/>
<g transform="translate(0.25 0.5)" fill="none"><path stroke="#40d4e8" stroke-width="1.3" d="M542 485h1.3m26.7 0h1.3M543 490h1.3M562 495h1.3M554 496h1.3M574 497h1.3M577 498h1.3M566 499h1.3M539 500h1.3m11.7 0h1.3m5.7 0h1.3m-0.3 0h1.3M605 501h1.3M554 502h1.3m9.7 0h1.3m4.7 0h1.3m4.7 0h1.3m2.7 0h1.3M544 503h1.3m24.7 0h1.3M565 504h1.3m14.7 0h1.3m5.7 0h1.3M557 505h1.3m1.7 0h1.3m-0.3 0h1.3m0.7 0h1.3m0.7 0h1.3m-0.3 0h1.3m0.7 0h1.3m4.7 0h1.3M552 506h1.3m4.7 0h1.3m2.7 0h1.3m3.7 0h1.3m15.7 0h1.3M558 507h1.3m9.7 0h1.3m5.7 0h1.3m1.7 0h1.3M570 508h1.3m1.7 0h1.3m-0.3 0h1.3m9.7 0h1.3M542 509h1.3m6.7 0h1.3m2.7 0h1.3m17.7 0h1.3m-0.3 0h1.3M549 510h1.3m-0.3 0h1.3m5.7 0h1.3m3.7 0h1.3m0.7 0h1.3m-0.3 0h1.3m0.7 0h1.3m1.7 0h1.3M532 511h1.3m12.7 0h1.3m11.7 0h1.3m1.7 0h1.3m0.7 0h1.3m0.7 0h1.3m0.7 0h1.3m0.7 0h1.3m5.7 0h1.3m13.7 0h1.3m3.7 0h1.3M541 512h1.3m7.7 0h1.3m0.7 0h1.3m0.7 0h1.3m-0.3 0h1.3m2.7 0h1.3m21.7 0h1.3m5.7 0h1.3M563 513h1.3m0.7 0h1.3m10.7 0h1.3m-0.3 0h1.3M548 514h1.3m10.7 0h1.3m1.7 0h1.3m0.7 0h1.3m3.7 0h1.3m0.7 0h1.3m4.7 0h1.3m4.7 0h1.3m-0.3 0h1.3M553 515h1.3m4.7 0h1.3m0.7 0h1.3m2.7 0h1.3m2.7 0h1.3m5.7 0h1.3M537 516h1.3m9.7 0h1.3m8.7 0h1.3m1.7 0h1.3m6.7 0h1.3m2.7 0h1.3m1.7 0h1.3M549 517h1.3m0.7 0h1.3m2.7 0h1.3m0.7 0h1.3m6.7 0h1.3m2.7 0h1.3m0.7 0h1.3m1.7 0h1.3m-0.3 0h1.3m-0.3 0h1.3m2.7 0h1.3M553 518h1.3m4.7 0h1.3m6.7 0h1.3m2.7 0h1.3m-0.3 0h1.3m7.7 0h1.3M536 519h1.3m17.7 0h1.3m0.7 0h1.3m4.7 0h1.3m-0.3 0h1.3m0.7 0h1.3m0.7 0h1.3m6.7 0h1.3m-0.3 0h1.3m11.7 0h1.3M546 520h1.3m10.7 0h1.3m11.7 0h1.3m2.7 0h1.3m3.7 0h1.3m2.7 0h1.3m7.7 0h1.3M561 521h1.3m0.7 0h1.3m3.7 0h1.3m1.7 0h1.3m-0.3 0h1.3m2.7 0h1.3m2.7 0h1.3M555 522h1.3m-0.3 0h1.3m1.7 0h1.3m-0.3 0h1.3m0.7 0h1.3m8.7 0h1.3m6.7 0h1.3m3.7 0h1.3M557 524h1.3m6.7 0h1.3m2.7 0h1.3M556 525h1.3m1.7 0h1.3m23.7 0h1.3M545 527h1.3m5.7 0h1.3m27.7 0h1.3m0.7 0h1.3M554 528h1.3m28.7 0h1.3M567 529h1.3m6.7 0h1.3M570 530h1.3M574 531h1.3M548 534h1.3M539 535h1.3"/>
<path stroke="#d860d0" stroke-width="1.3" d="M572 494h1.3m14.7 0h1.3M562 496h1.3m18.7 0h1.3M530 497h1.3m32.7 0h1.3m31.7 0h1.3M568 498h1.3M561 499h1.3m1.7 0h1.3M579 500h1.3M568 501h1.3m9.7 0h1.3M551 502h1.3m8.7 0h1.3m0.7 0h1.3m0.7 0h1.3M558 503h1.3M546 504h1.3M540 505h1.3m34.7 0h1.3M550 506h1.3m6.7 0h1.3m14.7 0h1.3m-0.3 0h1.3m4.7 0h1.3M554 507h1.3m4.7 0h1.3m1.7 0h1.3m-0.3 0h1.3m1.7 0h1.3m14.7 0h1.3M576 508h1.3m8.7 0h1.3M541 509h1.3m13.7 0h1.3m0.7 0h1.3m2.7 0h1.3m6.7 0h1.3m1.7 0h1.3M531 510h1.3m0.7 0h1.3m27.7 0h1.3m8.7 0h1.3m0.7 0h1.3m2.7 0h1.3M525 511h1.3m26.7 0h1.3m2.7 0h1.3m16.7 0h1.3M552 512h1.3m-0.3 0h1.3m4.7 0h1.3m4.7 0h1.3m2.7 0h1.3m-0.3 0h1.3M552 513h1.3m14.7 0h1.3M535 514h1.3m11.7 0h1.3m0.7 0h1.3m0.7 0h1.3m12.7 0h1.3M542 515h1.3m14.7 0h1.3m4.7 0h1.3m16.7 0h1.3m0.7 0h1.3M545 516h1.3m2.7 0h1.3m13.7 0h1.3m6.7 0h1.3M564 517h1.3m11.7 0h1.3M546 518h1.3m4.7 0h1.3m5.7 0h1.3m7.7 0h1.3m20.7 0h1.3M546 519h1.3m3.7 0h1.3m4.7 0h1.3m4.7 0h1.3m0.7 0h1.3m7.7 0h1.3M548 520h1.3m0.7 0h1.3m5.7 0h1.3m4.7 0h1.3m19.7 0h1.3m1.7 0h1.3m0.7 0h1.3M560 521h1.3m9.7 0h1.3M545 522h1.3m23.7 0h1.3M542 523h1.3m15.7 0h1.3M548 524h1.3m23.7 0h1.3M554 525h1.3m15.7 0h1.3M547 526h1.3M560 527h1.3m7.7 0h1.3M555 531h1.3M545 538h1.3"/>
<path stroke="#2c3458" stroke-width="1.3" d="M552 489h1.3M560 490h1.3M556 493h1.3M547 495h1.3M548 496h1.3M557 501h1.3m2.7 0h1.3m4.7 0h1.3M532 502h1.3m18.7 0h1.3m-0.3 0h1.3M552 504h1.3m5.7 0h1.3m5.7 0h1.3m-0.3 0h1.3M555 505h1.3m-0.3 0h1.3m0.7 0h1.3m6.7 0h1.3M562 507h1.3m3.7 0h1.3m-0.3 0h1.3m0.7 0h1.3M543 508h1.3m-0.3 0h1.3m7.7 0h1.3m12.7 0h1.3m6.7 0h1.3M545 509h1.3m3.7 0h1.3m6.7 0h1.3m0.7 0h1.3m7.7 0h1.3M550 510h1.3m14.7 0h1.3m3.7 0h1.3m7.7 0h1.3m4.7 0h1.3M539 511h1.3m4.7 0h1.3m13.7 0h1.3m-0.3 0h1.3M556 512h1.3m0.7 0h1.3M535 513h1.3m2.7 0h1.3m14.7 0h1.3m0.7 0h1.3m2.7 0h1.3M549 514h1.3m-0.3 0h1.3m2.7 0h1.3m0.7 0h1.3m2.7 0h1.3m3.7 0h1.3m4.7 0h1.3M547 515h1.3m8.7 0h1.3m-0.3 0h1.3m2.7 0h1.3m-0.3 0h1.3m-0.3 0h1.3m6.7 0h1.3M546 516h1.3m3.7 0h1.3m3.7 0h1.3m0.7 0h1.3m1.7 0h1.3M557 518h1.3m0.7 0h1.3m8.7 0h1.3M536 519h1.3m-0.3 0h1.3m6.7 0h1.3m4.7 0h1.3m2.7 0h1.3m-0.3 0h1.3m5.7 0h1.3m8.7 0h1.3m19.7 0h1.3M542 520h1.3m0.7 0h1.3m8.7 0h1.3m-0.3 0h1.3m8.7 0h1.3m3.7 0h1.3M551 522h1.3m0.7 0h1.3m1.7 0h1.3m18.7 0h1.3M552 523h1.3m-0.3 0h1.3m1.7 0h1.3M559 524h1.3M539 526h1.3M543 528h1.3m7.7 0h1.3M552 531h1.3M546 532h1.3M555 533h1.3M577 534h1.3"/>
<path stroke="#40d4e8" stroke-width="1.3" d="M507 482h1.3M460 488h1.3M522 492h1.3M538 493h1.3M514 494h1.3M518 495h1.3M485 496h1.3m24.7 0h1.3M515 497h1.3M488 498h1.3m15.7 0h1.3M496 499h1.3m-0.3 0h1.3m7.7 0h1.3m17.7 0h1.3M466 500h1.3m31.7 0h1.3m6.7 0h1.3m-0.3 0h1.3M479 501h1.3m24.7 0h1.3m6.7 0h1.3m7.7 0h1.3M505 502h1.3m12.7 0h1.3m7.7 0h1.3M484 503h1.3m9.7 0h1.3m4.7 0h1.3m1.7 0h1.3m-0.3 0h1.3M479 504h1.3m33.7 0h1.3m1.7 0h1.3m10.7 0h1.3m6.7 0h1.3M510 505h1.3m7.7 0h1.3m0.7 0h1.3M487 506h1.3m2.7 0h1.3m5.7 0h1.3m-0.3 0h1.3m-0.3 0h1.3m8.7 0h1.3M472 507h1.3m21.7 0h1.3m11.7 0h1.3m3.7 0h1.3m3.7 0h1.3M487 508h1.3m5.7 0h1.3m5.7 0h1.3m5.7 0h1.3m1.7 0h1.3m0.7 0h1.3m20.7 0h1.3M501 509h1.3m25.7 0h1.3m0.7 0h1.3M483 510h1.3m-0.3 0h1.3m1.7 0h1.3m2.7 0h1.3m2.7 0h1.3m8.7 0h1.3m1.7 0h1.3m24.7 0h1.3M479 511h1.3m2.7 0h1.3m5.7 0h1.3m13.7 0h1.3m5.7 0h1.3m1.7 0h1.3m1.7 0h1.3m3.7 0h1.3M483 512h1.3m5.7 0h1.3m1.7 0h1.3m-0.3 0h1.3m2.7 0h1.3m0.7 0h1.3m5.7 0h1.3m0.7 0h1.3m36.7 0h1.3M447 513h1.3m47.7 0h1.3m19.7 0h1.3m7.7 0h1.3m29.7 0h1.3M480 514h1.3m8.7 0h1.3m32.7 0h1.3m4.7 0h1.3M481 515h1.3m4.7 0h1.3m5.7 0h1.3m0.7 0h1.3m21.7 0h1.3m4.7 0h1.3m-0.3 0h1.3M499 516h1.3m2.7 0h1.3m10.7 0h1.3m5.7 0h1.3m15.7 0h1.3M509 517h1.3m-0.3 0h1.3M473 518h1.3m29.7 0h1.3m9.7 0h1.3m4.7 0h1.3M482 519h1.3m9.7 0h1.3m3.7 0h1.3m-0.3 0h1.3m12.7 0h1.3m4.7 0h1.3M488 520h1.3m13.7 0h1.3m1.7 0h1.3m-0.3 0h1.3m-0.3 0h1.3M484 521h1.3m11.7 0h1.3m6.7 0h1.3m4.7 0h1.3m-0.3 0h1.3M501 522h1.3m9.7 0h1.3m17.7 0h1.3m11.7 0h1.3M496 523h1.3m20.7 0h1.3M485 524h1.3m7.7 0h1.3m3.7 0h1.3M516 525h1.3m12.7 0h1.3M524 526h1.3M501 527h1.3m22.7 0h1.3M523 528h1.3M497 529h1.3m12.7 0h1.3M506 531h1.3M506 535h1.3"/></g>
<g transform="translate(0.25 0.5)" fill="none"><path stroke="#111" stroke-width="1.4" d="M132 634h1.4m23.6 0h1.4m-0.4 0h1.4m9.6 0h1.4m0.6 0h1.4m0.6 0h1.4m3.6 0h1.4m2.6 0h1.4m23.6 0h1.4M119 635h1.4m16.6 0h1.4m-0.4 0h1.4m17.6 0h1.4m1.6 0h1.4m0.6 0h1.4m-0.4 0h1.4m0.6 0h1.4m-0.4 0h1.4m0.6 0h1.4m0.6 0h1.4m2.6 0h1.4m0.6 0h1.4m-0.4 0h1.4m3.6 0h1.4m-0.4 0h1.4m-0.4 0h1.4m1.6 0h1.4m4.6 0h1.4M123 636h1.4m1.6 0h1.4m3.6 0h1.4m13.6 0h1.4m0.6 0h1.4m1.6 0h1.4m4.6 0h1.4m-0.4 0h1.4m5.6 0h1.4m0.6 0h1.4m-0.4 0h1.4m4.6 0h1.4m0.6 0h1.4m3.6 0h1.4m16.6 0h1.4M121 637h1.4m17.6 0h1.4m3.6 0h1.4m0.6 0h1.4m-0.4 0h1.4m1.6 0h1.4m2.6 0h1.4m4.6 0h1.4m1.6 0h1.4m0.6 0h1.4m1.6 0h1.4m0.6 0h1.4m0.6 0h1.4m-0.4 0h1.4m-0.4 0h1.4m-0.4 0h1.4m0.6 0h1.4m3.6 0h1.4m5.6 0h1.4m3.6 0h1.4m2.6 0h1.4M146 638h1.4m-0.4 0h1.4m-0.4 0h1.4m0.6 0h1.4m-0.4 0h1.4m2.6 0h1.4m1.6 0h1.4m3.6 0h1.4m-0.4 0h1.4m0.6 0h1.4m8.6 0h1.4m1.6 0h1.4m1.6 0h1.4m1.6 0h1.4m3.6 0h1.4m1.6 0h1.4m3.6 0h1.4m1.6 0h1.4m2.6 0h1.4m3.6 0h1.4M105 639h1.4m23.6 0h1.4m6.6 0h1.4m0.6 0h1.4m4.6 0h1.4m0.6 0h1.4m-0.4 0h1.4m5.6 0h1.4m-0.4 0h1.4m-0.4 0h1.4m3.6 0h1.4m1.6 0h1.4m0.6 0h1.4m3.6 0h1.4m-0.4 0h1.4m4.6 0h1.4m0.6 0h1.4m0.6 0h1.4m-0.4 0h1.4m2.6 0h1.4m8.6 0h1.4m1.6 0h1.4m6.6 0h1.4M113 640h1.4m20.6 0h1.4m1.6 0h1.4m4.6 0h1.4m2.6 0h1.4m1.6 0h1.4m-0.4 0h1.4m3.6 0h1.4m1.6 0h1.4m-0.4 0h1.4m0.6 0h1.4m2.6 0h1.4m1.6 0h1.4m14.6 0h1.4m2.6 0h1.4m0.6 0h1.4m16.6 0h1.4M137 641h1.4m6.6 0h1.4m3.6 0h1.4m0.6 0h1.4m10.6 0h1.4m-0.4 0h1.4m-0.4 0h1.4m0.6 0h1.4m2.6 0h1.4m3.6 0h1.4m1.6 0h1.4m0.6 0h1.4m7.6 0h1.4m2.6 0h1.4m25.6 0h1.4M139 642h1.4m-0.4 0h1.4m21.6 0h1.4m0.6 0h1.4m0.6 0h1.4m2.6 0h1.4m3.6 0h1.4m6.6 0h1.4m0.6 0h1.4m-0.4 0h1.4m-0.4 0h1.4m1.6 0h1.4m0.6 0h1.4m3.6 0h1.4m16.6 0h1.4M119 643h1.4m4.6 0h1.4m2.6 0h1.4m1.6 0h1.4m-0.4 0h1.4m2.6 0h1.4m0.6 0h1.4m2.6 0h1.4m-0.4 0h1.4m15.6 0h1.4m0.6 0h1.4m0.6 0h1.4m5.6 0h1.4m-0.4 0h1.4m0.6 0h1.4m-0.4 0h1.4m1.6 0h1.4m-0.4 0h1.4m2.6 0h1.4m-0.4 0h1.4m2.6 0h1.4m-0.4 0h1.4M136 644h1.4m12.6 0h1.4m1.6 0h1.4m2.6 0h1.4m1.6 0h1.4m-0.4 0h1.4m3.6 0h1.4m0.6 0h1.4m2.6 0h1.4m0.6 0h1.4m3.6 0h1.4m-0.4 0h1.4m1.6 0h1.4m0.6 0h1.4m2.6 0h1.4m1.6 0h1.4m-0.4 0h1.4m-0.4 0h1.4m6.6 0h1.4m10.6 0h1.4M116 645h1.4m-0.4 0h1.4m19.6 0h1.4m1.6 0h1.4m5.6 0h1.4m2.6 0h1.4m1.6 0h1.4m-0.4 0h1.4m0.6 0h1.4m-0.4 0h1.4m0.6 0h1.4m1.6 0h1.4m-0.4 0h1.4m10.6 0h1.4M142 646h1.4m5.6 0h1.4m-0.4 0h1.4m-0.4 0h1.4m1.6 0h1.4m9.6 0h1.4m1.6 0h1.4m-0.4 0h1.4m1.6 0h1.4m3.6 0h1.4m2.6 0h1.4m5.6 0h1.4m1.6 0h1.4m-0.4 0h1.4m0.6 0h1.4M119 647h1.4m0.6 0h1.4m4.6 0h1.4m11.6 0h1.4m7.6 0h1.4m-0.4 0h1.4m0.6 0h1.4m0.6 0h1.4m2.6 0h1.4m-0.4 0h1.4m-0.4 0h1.4m3.6 0h1.4m2.6 0h1.4m1.6 0h1.4m-0.4 0h1.4m0.6 0h1.4m-0.4 0h1.4m13.6 0h1.4m16.6 0h1.4M142 648h1.4m7.6 0h1.4m-0.4 0h1.4m-0.4 0h1.4m0.6 0h1.4m-0.4 0h1.4m1.6 0h1.4m2.6 0h1.4m0.6 0h1.4m5.6 0h1.4m-0.4 0h1.4m4.6 0h1.4m-0.4 0h1.4m2.6 0h1.4m9.6 0h1.4m5.6 0h1.4M100 649h1.4m16.6 0h1.4m3.6 0h1.4m9.6 0h1.4m4.6 0h1.4m4.6 0h1.4m3.6 0h1.4m-0.4 0h1.4m-0.4 0h1.4m-0.4 0h1.4m-0.4 0h1.4m0.6 0h1.4m-0.4 0h1.4m2.6 0h1.4m3.6 0h1.4m2.6 0h1.4m8.6 0h1.4m18.6 0h1.4M94 650h1.4m25.6 0h1.4m11.6 0h1.4m3.6 0h1.4m1.6 0h1.4m0.6 0h1.4m12.6 0h1.4m0.6 0h1.4m7.6 0h1.4m6.6 0h1.4m6.6 0h1.4m0.6 0h1.4m-0.4 0h1.4m-0.4 0h1.4m0.6 0h1.4m-0.4 0h1.4m0.6 0h1.4m2.6 0h1.4M131 651h1.4m3.6 0h1.4m2.6 0h1.4m0.6 0h1.4m3.6 0h1.4m-0.4 0h1.4m1.6 0h1.4m2.6 0h1.4m9.6 0h1.4m2.6 0h1.4m-0.4 0h1.4m0.6 0h1.4m-0.4 0h1.4m2.6 0h1.4m-0.4 0h1.4m2.6 0h1.4m1.6 0h1.4m0.6 0h1.4m8.6 0h1.4m2.6 0h1.4M149 652h1.4m4.6 0h1.4m4.6 0h1.4m-0.4 0h1.4m1.6 0h1.4m0.6 0h1.4m2.6 0h1.4m2.6 0h1.4m11.6 0h1.4m4.6 0h1.4m4.6 0h1.4m-0.4 0h1.4m3.6 0h1.4M126 653h1.4m12.6 0h1.4m4.6 0h1.4m3.6 0h1.4m12.6 0h1.4m3.6 0h1.4m6.6 0h1.4m3.6 0h1.4m2.6 0h1.4m-0.4 0h1.4m4.6 0h1.4m7.6 0h1.4m-0.4 0h1.4m2.6 0h1.4M127 654h1.4m1.6 0h1.4m14.6 0h1.4m1.6 0h1.4m0.6 0h1.4m0.6 0h1.4m4.6 0h1.4m-0.4 0h1.4m-0.4 0h1.4m0.6 0h1.4m2.6 0h1.4m2.6 0h1.4m1.6 0h1.4m-0.4 0h1.4m-0.4 0h1.4m-0.4 0h1.4m1.6 0h1.4m-0.4 0h1.4m0.6 0h1.4m3.6 0h1.4m3.6 0h1.4m8.6 0h1.4m6.6 0h1.4m1.6 0h1.4M135 655h1.4m12.6 0h1.4m0.6 0h1.4m0.6 0h1.4m1.6 0h1.4m-0.4 0h1.4m0.6 0h1.4m0.6 0h1.4m0.6 0h1.4m-0.4 0h1.4m10.6 0h1.4m5.6 0h1.4m0.6 0h1.4m2.6 0h1.4m6.6 0h1.4m5.6 0h1.4M152 656h1.4m-0.4 0h1.4m2.6 0h1.4m3.6 0h1.4m2.6 0h1.4m-0.4 0h1.4m0.6 0h1.4m3.6 0h1.4m-0.4 0h1.4m0.6 0h1.4m0.6 0h1.4m29.6 0h1.4M125 657h1.4m1.6 0h1.4m3.6 0h1.4m4.6 0h1.4m1.6 0h1.4m2.6 0h1.4m-0.4 0h1.4m-0.4 0h1.4m0.6 0h1.4m-0.4 0h1.4m-0.4 0h1.4m0.6 0h1.4m-0.4 0h1.4m0.6 0h1.4m1.6 0h1.4m4.6 0h1.4m-0.4 0h1.4m1.6 0h1.4m13.6 0h1.4m15.6 0h1.4m12.6 0h1.4M134 658h1.4m0.6 0h1.4m1.6 0h1.4m3.6 0h1.4m1.6 0h1.4m-0.4 0h1.4m-0.4 0h1.4m1.6 0h1.4m2.6 0h1.4m5.6 0h1.4m3.6 0h1.4m3.6 0h1.4m3.6 0h1.4m-0.4 0h1.4m2.6 0h1.4m0.6 0h1.4m1.6 0h1.4m0.6 0h1.4m3.6 0h1.4m3.6 0h1.4m-0.4 0h1.4m-0.4 0h1.4m5.6 0h1.4M102 659h1.4m4.6 0h1.4m19.6 0h1.4m13.6 0h1.4m1.6 0h1.4m-0.4 0h1.4m-0.4 0h1.4m7.6 0h1.4m1.6 0h1.4m1.6 0h1.4m2.6 0h1.4m0.6 0h1.4m0.6 0h1.4m0.6 0h1.4m7.6 0h1.4m-0.4 0h1.4m-0.4 0h1.4m1.6 0h1.4m2.6 0h1.4m1.6 0h1.4m2.6 0h1.4M125 660h1.4m5.6 0h1.4m-0.4 0h1.4m1.6 0h1.4m-0.4 0h1.4m4.6 0h1.4m0.6 0h1.4m-0.4 0h1.4m0.6 0h1.4m-0.4 0h1.4m4.6 0h1.4m4.6 0h1.4m9.6 0h1.4m3.6 0h1.4m2.6 0h1.4M101 661h1.4m41.6 0h1.4m1.6 0h1.4m6.6 0h1.4m0.6 0h1.4m8.6 0h1.4m0.6 0h1.4m2.6 0h1.4m0.6 0h1.4m1.6 0h1.4m-0.4 0h1.4m1.6 0h1.4m5.6 0h1.4m1.6 0h1.4m-0.4 0h1.4m15.6 0h1.4m3.6 0h1.4M110 662h1.4m22.6 0h1.4m6.6 0h1.4m-0.4 0h1.4m4.6 0h1.4m2.6 0h1.4m3.6 0h1.4m0.6 0h1.4m-0.4 0h1.4m1.6 0h1.4m3.6 0h1.4m-0.4 0h1.4m-0.4 0h1.4m0.6 0h1.4m1.6 0h1.4m24.6 0h1.4M122 663h1.4m8.6 0h1.4m3.6 0h1.4m1.6 0h1.4m4.6 0h1.4m-0.4 0h1.4m12.6 0h1.4m-0.4 0h1.4m-0.4 0h1.4m-0.4 0h1.4m1.6 0h1.4m1.6 0h1.4m2.6 0h1.4m0.6 0h1.4m0.6 0h1.4m0.6 0h1.4m10.6 0h1.4M137 664h1.4m1.6 0h1.4m3.6 0h1.4m10.6 0h1.4m2.6 0h1.4m-0.4 0h1.4m-0.4 0h1.4m-0.4 0h1.4m-0.4 0h1.4m-0.4 0h1.4m2.6 0h1.4m0.6 0h1.4m5.6 0h1.4m-0.4 0h1.4m12.6 0h1.4m27.6 0h1.4M130 665h1.4m7.6 0h1.4m0.6 0h1.4m3.6 0h1.4m0.6 0h1.4m2.6 0h1.4m4.6 0h1.4m-0.4 0h1.4m2.6 0h1.4m0.6 0h1.4m2.6 0h1.4m-0.4 0h1.4m1.6 0h1.4m3.6 0h1.4m-0.4 0h1.4m0.6 0h1.4m0.6 0h1.4m0.6 0h1.4m0.6 0h1.4m-0.4 0h1.4m8.6 0h1.4m0.6 0h1.4m14.6 0h1.4m12.6 0h1.4M124 666h1.4m7.6 0h1.4m8.6 0h1.4m2.6 0h1.4m10.6 0h1.4m1.6 0h1.4m-0.4 0h1.4m1.6 0h1.4m1.6 0h1.4m2.6 0h1.4m0.6 0h1.4m4.6 0h1.4m1.6 0h1.4m-0.4 0h1.4m0.6 0h1.4m-0.4 0h1.4M120 667h1.4m3.6 0h1.4m4.6 0h1.4m-0.4 0h1.4m8.6 0h1.4m-0.4 0h1.4m-0.4 0h1.4m2.6 0h1.4m-0.4 0h1.4m7.6 0h1.4m1.6 0h1.4m3.6 0h1.4m-0.4 0h1.4m8.6 0h1.4m-0.4 0h1.4m22.6 0h1.4M120 668h1.4m1.6 0h1.4m14.6 0h1.4m2.6 0h1.4m10.6 0h1.4m2.6 0h1.4m4.6 0h1.4m-0.4 0h1.4m3.6 0h1.4m-0.4 0h1.4m-0.4 0h1.4m-0.4 0h1.4m0.6 0h1.4m0.6 0h1.4m1.6 0h1.4m3.6 0h1.4m1.6 0h1.4m-0.4 0h1.4m2.6 0h1.4m10.6 0h1.4m16.6 0h1.4M118 669h1.4m1.6 0h1.4m4.6 0h1.4m5.6 0h1.4m19.6 0h1.4m-0.4 0h1.4m1.6 0h1.4m0.6 0h1.4m-0.4 0h1.4m-0.4 0h1.4m2.6 0h1.4m-0.4 0h1.4m-0.4 0h1.4m-0.4 0h1.4m0.6 0h1.4m-0.4 0h1.4m6.6 0h1.4m2.6 0h1.4m-0.4 0h1.4m-0.4 0h1.4m0.6 0h1.4m11.6 0h1.4M131 670h1.4m1.6 0h1.4m-0.4 0h1.4m6.6 0h1.4m0.6 0h1.4m8.6 0h1.4m9.6 0h1.4m1.6 0h1.4m-0.4 0h1.4m-0.4 0h1.4m9.6 0h1.4m-0.4 0h1.4m20.6 0h1.4M122 671h1.4m2.6 0h1.4m12.6 0h1.4m-0.4 0h1.4m0.6 0h1.4m3.6 0h1.4m-0.4 0h1.4m3.6 0h1.4m4.6 0h1.4m3.6 0h1.4m-0.4 0h1.4m-0.4 0h1.4m0.6 0h1.4m5.6 0h1.4m0.6 0h1.4m0.6 0h1.4m9.6 0h1.4m0.6 0h1.4m0.6 0h1.4m20.6 0h1.4M107 672h1.4m6.6 0h1.4m8.6 0h1.4m5.6 0h1.4m2.6 0h1.4m7.6 0h1.4m2.6 0h1.4m-0.4 0h1.4m0.6 0h1.4m-0.4 0h1.4m3.6 0h1.4m-0.4 0h1.4m0.6 0h1.4m-0.4 0h1.4m0.6 0h1.4m-0.4 0h1.4m1.6 0h1.4m2.6 0h1.4m2.6 0h1.4m-0.4 0h1.4m2.6 0h1.4m-0.4 0h1.4m4.6 0h1.4m0.6 0h1.4m5.6 0h1.4M136 673h1.4m6.6 0h1.4m8.6 0h1.4m4.6 0h1.4m1.6 0h1.4m3.6 0h1.4m-0.4 0h1.4m1.6 0h1.4m-0.4 0h1.4m2.6 0h1.4m1.6 0h1.4m2.6 0h1.4m0.6 0h1.4m-0.4 0h1.4m20.6 0h1.4M118 674h1.4m1.6 0h1.4m4.6 0h1.4m6.6 0h1.4m14.6 0h1.4m2.6 0h1.4m5.6 0h1.4m1.6 0h1.4m0.6 0h1.4m3.6 0h1.4m9.6 0h1.4m2.6 0h1.4m-0.4 0h1.4m7.6 0h1.4m2.6 0h1.4m1.6 0h1.4m0.6 0h1.4m1.6 0h1.4m0.6 0h1.4M129 675h1.4m3.6 0h1.4m-0.4 0h1.4m0.6 0h1.4m-0.4 0h1.4m-0.4 0h1.4m9.6 0h1.4m2.6 0h1.4m4.6 0h1.4m2.6 0h1.4m-0.4 0h1.4m-0.4 0h1.4m-0.4 0h1.4m7.6 0h1.4m7.6 0h1.4m0.6 0h1.4m10.6 0h1.4m5.6 0h1.4M134 676h1.4m5.6 0h1.4m1.6 0h1.4m-0.4 0h1.4m0.6 0h1.4m20.6 0h1.4m2.6 0h1.4m0.6 0h1.4m0.6 0h1.4m2.6 0h1.4m-0.4 0h1.4m-0.4 0h1.4m1.6 0h1.4m4.6 0h1.4M113 677h1.4m10.6 0h1.4m12.6 0h1.4m2.6 0h1.4m1.6 0h1.4m1.6 0h1.4m0.6 0h1.4m3.6 0h1.4m2.6 0h1.4m0.6 0h1.4m2.6 0h1.4m0.6 0h1.4m-0.4 0h1.4m-0.4 0h1.4m3.6 0h1.4m0.6 0h1.4m0.6 0h1.4m1.6 0h1.4m2.6 0h1.4m17.6 0h1.4M95 678h1.4m22.6 0h1.4m10.6 0h1.4m2.6 0h1.4m-0.4 0h1.4m9.6 0h1.4m3.6 0h1.4m9.6 0h1.4m1.6 0h1.4m2.6 0h1.4m0.6 0h1.4m1.6 0h1.4m14.6 0h1.4m29.6 0h1.4M123 679h1.4m2.6 0h1.4m13.6 0h1.4m2.6 0h1.4m2.6 0h1.4m6.6 0h1.4m0.6 0h1.4m-0.4 0h1.4m-0.4 0h1.4m-0.4 0h1.4m-0.4 0h1.4m0.6 0h1.4m0.6 0h1.4m0.6 0h1.4m0.6 0h1.4m-0.4 0h1.4m6.6 0h1.4m4.6 0h1.4m2.6 0h1.4m-0.4 0h1.4M134 680h1.4m4.6 0h1.4m12.6 0h1.4m0.6 0h1.4m1.6 0h1.4m-0.4 0h1.4m-0.4 0h1.4m0.6 0h1.4m0.6 0h1.4m0.6 0h1.4m4.6 0h1.4m0.6 0h1.4m2.6 0h1.4m3.6 0h1.4m6.6 0h1.4m-0.4 0h1.4m13.6 0h1.4m3.6 0h1.4M101 681h1.4m16.6 0h1.4m17.6 0h1.4m-0.4 0h1.4m5.6 0h1.4m0.6 0h1.4m4.6 0h1.4m2.6 0h1.4m-0.4 0h1.4m8.6 0h1.4m2.6 0h1.4m0.6 0h1.4m6.6 0h1.4m3.6 0h1.4m4.6 0h1.4m9.6 0h1.4m-0.4 0h1.4m2.6 0h1.4m5.6 0h1.4M122 682h1.4m11.6 0h1.4m0.6 0h1.4m17.6 0h1.4m0.6 0h1.4m-0.4 0h1.4m-0.4 0h1.4m1.6 0h1.4m3.6 0h1.4m1.6 0h1.4m0.6 0h1.4m3.6 0h1.4m2.6 0h1.4m0.6 0h1.4m-0.4 0h1.4m-0.4 0h1.4m0.6 0h1.4m1.6 0h1.4m3.6 0h1.4m1.6 0h1.4M113 683h1.4m10.6 0h1.4m3.6 0h1.4m8.6 0h1.4m1.6 0h1.4m5.6 0h1.4m-0.4 0h1.4m2.6 0h1.4m9.6 0h1.4m-0.4 0h1.4m5.6 0h1.4m2.6 0h1.4m0.6 0h1.4m9.6 0h1.4m1.6 0h1.4m-0.4 0h1.4m2.6 0h1.4m6.6 0h1.4M104 684h1.4m34.6 0h1.4m6.6 0h1.4m2.6 0h1.4m2.6 0h1.4m0.6 0h1.4m-0.4 0h1.4m1.6 0h1.4m8.6 0h1.4m6.6 0h1.4m2.6 0h1.4m0.6 0h1.4m2.6 0h1.4m4.6 0h1.4m9.6 0h1.4M138 685h1.4m3.6 0h1.4m0.6 0h1.4m8.6 0h1.4m7.6 0h1.4m-0.4 0h1.4m0.6 0h1.4m1.6 0h1.4m4.6 0h1.4m-0.4 0h1.4m3.6 0h1.4m2.6 0h1.4m17.6 0h1.4m-0.4 0h1.4m0.6 0h1.4m2.6 0h1.4M142 686h1.4m7.6 0h1.4m1.6 0h1.4m0.6 0h1.4m-0.4 0h1.4m-0.4 0h1.4m0.6 0h1.4m-0.4 0h1.4m-0.4 0h1.4m0.6 0h1.4m0.6 0h1.4m-0.4 0h1.4m0.6 0h1.4m-0.4 0h1.4m-0.4 0h1.4m3.6 0h1.4m10.6 0h1.4m1.6 0h1.4M123 687h1.4m7.6 0h1.4m7.6 0h1.4m0.6 0h1.4m-0.4 0h1.4m10.6 0h1.4m0.6 0h1.4m3.6 0h1.4m1.6 0h1.4m1.6 0h1.4m0.6 0h1.4m13.6 0h1.4m1.6 0h1.4m10.6 0h1.4M145 688h1.4m0.6 0h1.4m2.6 0h1.4m0.6 0h1.4m0.6 0h1.4m-0.4 0h1.4m-0.4 0h1.4m1.6 0h1.4m0.6 0h1.4m9.6 0h1.4m-0.4 0h1.4m-0.4 0h1.4m2.6 0h1.4m3.6 0h1.4m4.6 0h1.4m3.6 0h1.4m1.6 0h1.4m2.6 0h1.4m0.6 0h1.4m0.6 0h1.4M144 689h1.4m0.6 0h1.4m4.6 0h1.4m4.6 0h1.4m-0.4 0h1.4m-0.4 0h1.4m-0.4 0h1.4m6.6 0h1.4m1.6 0h1.4m-0.4 0h1.4m2.6 0h1.4m-0.4 0h1.4m4.6 0h1.4m-0.4 0h1.4m4.6 0h1.4m12.6 0h1.4M129 690h1.4m10.6 0h1.4m0.6 0h1.4m9.6 0h1.4m-0.4 0h1.4m3.6 0h1.4m0.6 0h1.4m-0.4 0h1.4m1.6 0h1.4m4.6 0h1.4m2.6 0h1.4m-0.4 0h1.4m0.6 0h1.4m3.6 0h1.4m1.6 0h1.4M85 691h1.4m41.6 0h1.4m0.6 0h1.4m4.6 0h1.4m4.6 0h1.4m5.6 0h1.4m-0.4 0h1.4m-0.4 0h1.4m12.6 0h1.4m2.6 0h1.4m0.6 0h1.4m-0.4 0h1.4m8.6 0h1.4m6.6 0h1.4m0.6 0h1.4M114 692h1.4m6.6 0h1.4m7.6 0h1.4m9.6 0h1.4m-0.4 0h1.4m0.6 0h1.4m1.6 0h1.4m10.6 0h1.4m-0.4 0h1.4m0.6 0h1.4m1.6 0h1.4m-0.4 0h1.4m2.6 0h1.4m1.6 0h1.4m0.6 0h1.4m5.6 0h1.4m-0.4 0h1.4m12.6 0h1.4m1.6 0h1.4m9.6 0h1.4M129 693h1.4m14.6 0h1.4m5.6 0h1.4m0.6 0h1.4m4.6 0h1.4m0.6 0h1.4m1.6 0h1.4m2.6 0h1.4m1.6 0h1.4m2.6 0h1.4m3.6 0h1.4m4.6 0h1.4m8.6 0h1.4m2.6 0h1.4m2.6 0h1.4"/>
<path stroke="#111" stroke-width="1.4" d="M219 634h1.4M110 635h1.4m10.6 0h1.4m13.6 0h1.4M146 636h1.4m-0.4 0h1.4m3.6 0h1.4m1.6 0h1.4m28.6 0h1.4m13.6 0h1.4M94 637h1.4m24.6 0h1.4m15.6 0h1.4m35.6 0h1.4m20.6 0h1.4m2.6 0h1.4M134 638h1.4m59.6 0h1.4M166 639h1.4m13.6 0h1.4m8.6 0h1.4M145 640h1.4m-0.4 0h1.4m2.6 0h1.4m8.6 0h1.4m17.6 0h1.4m4.6 0h1.4M134 641h1.4m2.6 0h1.4m51.6 0h1.4m33.6 0h1.4M165 642h1.4m-0.4 0h1.4m19.6 0h1.4m19.6 0h1.4M136 643h1.4m11.6 0h1.4m10.6 0h1.4m59.6 0h1.4M110 644h1.4m24.6 0h1.4m13.6 0h1.4m8.6 0h1.4m16.6 0h1.4m36.6 0h1.4M119 645h1.4m27.6 0h1.4m24.6 0h1.4m20.6 0h1.4m3.6 0h1.4M141 646h1.4m3.6 0h1.4m8.6 0h1.4m76.6 0h1.4M99 647h1.4m19.6 0h1.4M84 648h1.4m76.6 0h1.4M86 649h1.4m63.6 0h1.4m13.6 0h1.4m13.6 0h1.4m3.6 0h1.4M138 650h1.4M181 651h1.4m38.6 0h1.4m22.6 0h1.4m2.6 0h1.4M216 652h1.4m1.6 0h1.4M160 653h1.4m16.6 0h1.4M138 654h1.4m12.6 0h1.4m1.6 0h1.4m59.6 0h1.4M97 655h1.4m37.6 0h1.4m18.6 0h1.4m52.6 0h1.4M146 656h1.4m33.6 0h1.4M147 658h1.4m5.6 0h1.4m38.6 0h1.4m5.6 0h1.4m1.6 0h1.4m18.6 0h1.4m11.6 0h1.4M159 659h1.4m7.6 0h1.4m0.6 0h1.4m6.6 0h1.4m5.6 0h1.4m46.6 0h1.4M165 660h1.4m2.6 0h1.4m22.6 0h1.4m0.6 0h1.4m0.6 0h1.4m3.6 0h1.4M172 661h1.4m28.6 0h1.4m23.6 0h1.4M176 662h1.4m55.6 0h1.4M148 663h1.4m9.6 0h1.4m35.6 0h1.4m-0.4 0h1.4m12.6 0h1.4M155 664h1.4m8.6 0h1.4m17.6 0h1.4m6.6 0h1.4m12.6 0h1.4m14.6 0h1.4M144 665h1.4m8.6 0h1.4m8.6 0h1.4m2.6 0h1.4m27.6 0h1.4m37.6 0h1.4M112 666h1.4m26.6 0h1.4m6.6 0h1.4m15.6 0h1.4m0.6 0h1.4m-0.4 0h1.4m25.6 0h1.4m4.6 0h1.4m0.6 0h1.4m5.6 0h1.4m19.6 0h1.4M142 667h1.4m-0.4 0h1.4m1.6 0h1.4m0.6 0h1.4M148 668h1.4m2.6 0h1.4m18.6 0h1.4m0.6 0h1.4m19.6 0h1.4M125 669h1.4m8.6 0h1.4m24.6 0h1.4M121 670h1.4m68.6 0h1.4m9.6 0h1.4M155 671h1.4m3.6 0h1.4m4.6 0h1.4m12.6 0h1.4m1.6 0h1.4m17.6 0h1.4M218 672h1.4M168 673h1.4m15.6 0h1.4m17.6 0h1.4M103 674h1.4m12.6 0h1.4m79.6 0h1.4m0.6 0h1.4M136 676h1.4m8.6 0h1.4m35.6 0h1.4m19.6 0h1.4M170 677h1.4m11.6 0h1.4m7.6 0h1.4m25.6 0h1.4M89 678h1.4m42.6 0h1.4m4.6 0h1.4m10.6 0h1.4m9.6 0h1.4m38.6 0h1.4m3.6 0h1.4M151 679h1.4m7.6 0h1.4m1.6 0h1.4m5.6 0h1.4M109 680h1.4m11.6 0h1.4m36.6 0h1.4m45.6 0h1.4m3.6 0h1.4M120 681h1.4m17.6 0h1.4m19.6 0h1.4m1.6 0h1.4M166 682h1.4M102 683h1.4m10.6 0h1.4m4.6 0h1.4m13.6 0h1.4m30.6 0h1.4m22.6 0h1.4m1.6 0h1.4m15.6 0h1.4M180 684h1.4m1.6 0h1.4m10.6 0h1.4m0.6 0h1.4M125 685h1.4m42.6 0h1.4m7.6 0h1.4m12.6 0h1.4m0.6 0h1.4m3.6 0h1.4M108 686h1.4m1.6 0h1.4m3.6 0h1.4m3.6 0h1.4m9.6 0h1.4M82 687h1.4m68.6 0h1.4M172 689h1.4M114 690h1.4m14.6 0h1.4m53.6 0h1.4m26.6 0h1.4M97 691h1.4m40.6 0h1.4m3.6 0h1.4m4.6 0h1.4m10.6 0h1.4m20.6 0h1.4M127 692h1.4m2.6 0h1.4m4.6 0h1.4m0.6 0h1.4M90 693h1.4m63.6 0h1.4m35.6 0h1.4m13.6 0h1.4"/>
<path stroke="#111" stroke-width="1.4" d="M104 692h1.4m16.6 0h1.4m5.6 0h1.4m-0.4 0h1.4m7.6 0h1.4m2.6 0h1.4m-0.4 0h1.4m-0.4 0h1.4m-0.4 0h1.4m-0.4 0h1.4m-0.4 0h1.4m3.6 0h1.4m-0.4 0h1.4m1.6 0h1.4m-0.4 0h1.4m-0.4 0h1.4m2.6 0h1.4m-0.4 0h1.4m-0.4 0h1.4m-0.4 0h1.4m-0.4 0h1.4m-0.4 0h1.4m1.6 0h1.4m0.6 0h1.4m-0.4 0h1.4m0.6 0h1.4m-0.4 0h1.4m-0.4 0h1.4m-0.4 0h1.4m-0.4 0h1.4m-0.4 0h1.4m0.6 0h1.4m0.6 0h1.4m0.6 0h1.4m0.6 0h1.4m-0.4 0h1.4m0.6 0h1.4m1.6 0h1.4m1.6 0h1.4m7.6 0h1.4M116 693h1.4m11.6 0h1.4m4.6 0h1.4m1.6 0h1.4m-0.4 0h1.4m4.6 0h1.4m1.6 0h1.4m-0.4 0h1.4m-0.4 0h1.4m-0.4 0h1.4m-0.4 0h1.4m0.6 0h1.4m-0.4 0h1.4m-0.4 0h1.4m-0.4 0h1.4m-0.4 0h1.4m-0.4 0h1.4m-0.4 0h1.4m0.6 0h1.4m-0.4 0h1.4m-0.4 0h1.4m-0.4 0h1.4m0.6 0h1.4m1.6 0h1.4m0.6 0h1.4m-0.4 0h1.4m-0.4 0h1.4m1.6 0h1.4m0.6 0h1.4m1.6 0h1.4m0.6 0h1.4m-0.4 0h1.4m-0.4 0h1.4m1.6 0h1.4m4.6 0h1.4m-0.4 0h1.4m0.6 0h1.4m2.6 0h1.4M125 694h1.4m4.6 0h1.4m6.6 0h1.4m0.6 0h1.4m2.6 0h1.4m0.6 0h1.4m2.6 0h1.4m2.6 0h1.4m0.6 0h1.4m-0.4 0h1.4m0.6 0h1.4m-0.4 0h1.4m-0.4 0h1.4m0.6 0h1.4m-0.4 0h1.4m0.6 0h1.4m1.6 0h1.4m-0.4 0h1.4m-0.4 0h1.4m-0.4 0h1.4m-0.4 0h1.4m-0.4 0h1.4m0.6 0h1.4m-0.4 0h1.4m-0.4 0h1.4m0.6 0h1.4m0.6 0h1.4m0.6 0h1.4m3.6 0h1.4m-0.4 0h1.4m-0.4 0h1.4m-0.4 0h1.4m1.6 0h1.4M128 695h1.4m7.6 0h1.4m6.6 0h1.4m-0.4 0h1.4m2.6 0h1.4m-0.4 0h1.4m-0.4 0h1.4m0.6 0h1.4m-0.4 0h1.4m-0.4 0h1.4m-0.4 0h1.4m0.6 0h1.4m-0.4 0h1.4m0.6 0h1.4m-0.4 0h1.4m-0.4 0h1.4m-0.4 0h1.4m0.6 0h1.4m2.6 0h1.4m-0.4 0h1.4m-0.4 0h1.4m0.6 0h1.4m0.6 0h1.4m0.6 0h1.4m-0.4 0h1.4m4.6 0h1.4m0.6 0h1.4m-0.4 0h1.4m0.6 0h1.4m0.6 0h1.4m0.6 0h1.4m0.6 0h1.4M110 696h1.4m2.6 0h1.4m6.6 0h1.4m1.6 0h1.4m6.6 0h1.4m4.6 0h1.4m0.6 0h1.4m-0.4 0h1.4m2.6 0h1.4m0.6 0h1.4m-0.4 0h1.4m-0.4 0h1.4m-0.4 0h1.4m-0.4 0h1.4m-0.4 0h1.4m-0.4 0h1.4m0.6 0h1.4m-0.4 0h1.4m-0.4 0h1.4m1.6 0h1.4m-0.4 0h1.4m-0.4 0h1.4m-0.4 0h1.4m-0.4 0h1.4m0.6 0h1.4m1.6 0h1.4m-0.4 0h1.4m-0.4 0h1.4m0.6 0h1.4m1.6 0h1.4m1.6 0h1.4m1.6 0h1.4m-0.4 0h1.4m0.6 0h1.4m1.6 0h1.4m0.6 0h1.4m-0.4 0h1.4m0.6 0h1.4m0.6 0h1.4m1.6 0h1.4m-0.4 0h1.4M141 697h1.4m-0.4 0h1.4m-0.4 0h1.4m0.6 0h1.4m6.6 0h1.4m-0.4 0h1.4m0.6 0h1.4m-0.4 0h1.4m-0.4 0h1.4m-0.4 0h1.4m1.6 0h1.4m1.6 0h1.4m-0.4 0h1.4m-0.4 0h1.4m-0.4 0h1.4m-0.4 0h1.4m0.6 0h1.4m-0.4 0h1.4m-0.4 0h1.4m-0.4 0h1.4m-0.4 0h1.4m2.6 0h1.4m2.6 0h1.4m0.6 0h1.4m-0.4 0h1.4m-0.4 0h1.4m-0.4 0h1.4m-0.4 0h1.4m-0.4 0h1.4m1.6 0h1.4m-0.4 0h1.4m0.6 0h1.4M130 698h1.4m1.6 0h1.4m0.6 0h1.4m1.6 0h1.4m3.6 0h1.4m-0.4 0h1.4m-0.4 0h1.4m0.6 0h1.4m-0.4 0h1.4m0.6 0h1.4m2.6 0h1.4m-0.4 0h1.4m-0.4 0h1.4m0.6 0h1.4m-0.4 0h1.4m2.6 0h1.4m1.6 0h1.4m-0.4 0h1.4m-0.4 0h1.4m-0.4 0h1.4m-0.4 0h1.4m-0.4 0h1.4m-0.4 0h1.4m-0.4 0h1.4m-0.4 0h1.4m-0.4 0h1.4m-0.4 0h1.4m-0.4 0h1.4m0.6 0h1.4m2.6 0h1.4m0.6 0h1.4m0.6 0h1.4m0.6 0h1.4m2.6 0h1.4m-0.4 0h1.4m-0.4 0h1.4m1.6 0h1.4m2.6 0h1.4M127 699h1.4m2.6 0h1.4m-0.4 0h1.4m3.6 0h1.4m0.6 0h1.4m-0.4 0h1.4m0.6 0h1.4m-0.4 0h1.4m-0.4 0h1.4m1.6 0h1.4m0.6 0h1.4m1.6 0h1.4m1.6 0h1.4m-0.4 0h1.4m-0.4 0h1.4m1.6 0h1.4m-0.4 0h1.4m-0.4 0h1.4m-0.4 0h1.4m0.6 0h1.4m1.6 0h1.4m1.6 0h1.4m-0.4 0h1.4m-0.4 0h1.4m-0.4 0h1.4m1.6 0h1.4m-0.4 0h1.4m0.6 0h1.4m0.6 0h1.4m2.6 0h1.4m-0.4 0h1.4m-0.4 0h1.4m-0.4 0h1.4m1.6 0h1.4m-0.4 0h1.4m-0.4 0h1.4m0.6 0h1.4m1.6 0h1.4m3.6 0h1.4M101 700h1.4m16.6 0h1.4m6.6 0h1.4m6.6 0h1.4m-0.4 0h1.4m2.6 0h1.4m-0.4 0h1.4m2.6 0h1.4m1.6 0h1.4m-0.4 0h1.4m0.6 0h1.4m-0.4 0h1.4m0.6 0h1.4m0.6 0h1.4m-0.4 0h1.4m-0.4 0h1.4m-0.4 0h1.4m-0.4 0h1.4m-0.4 0h1.4m0.6 0h1.4m-0.4 0h1.4m-0.4 0h1.4m-0.4 0h1.4m-0.4 0h1.4m-0.4 0h1.4m-0.4 0h1.4m0.6 0h1.4m0.6 0h1.4m-0.4 0h1.4m3.6 0h1.4m-0.4 0h1.4m0.6 0h1.4m0.6 0h1.4m0.6 0h1.4m2.6 0h1.4m2.6 0h1.4m1.6 0h1.4m1.6 0h1.4m2.6 0h1.4M123 701h1.4m4.6 0h1.4m1.6 0h1.4m-0.4 0h1.4m3.6 0h1.4m0.6 0h1.4m1.6 0h1.4m1.6 0h1.4m0.6 0h1.4m-0.4 0h1.4m0.6 0h1.4m-0.4 0h1.4m0.6 0h1.4m0.6 0h1.4m-0.4 0h1.4m0.6 0h1.4m-0.4 0h1.4m-0.4 0h1.4m-0.4 0h1.4m-0.4 0h1.4m0.6 0h1.4m1.6 0h1.4m-0.4 0h1.4m-0.4 0h1.4m-0.4 0h1.4m-0.4 0h1.4m0.6 0h1.4m-0.4 0h1.4m0.6 0h1.4m0.6 0h1.4m0.6 0h1.4m-0.4 0h1.4m0.6 0h1.4m0.6 0h1.4m-0.4 0h1.4m-0.4 0h1.4m-0.4 0h1.4m1.6 0h1.4m0.6 0h1.4M111 702h1.4m4.6 0h1.4m5.6 0h1.4m1.6 0h1.4m5.6 0h1.4m1.6 0h1.4m3.6 0h1.4m-0.4 0h1.4m1.6 0h1.4m1.6 0h1.4m-0.4 0h1.4m0.6 0h1.4m-0.4 0h1.4m3.6 0h1.4m-0.4 0h1.4m-0.4 0h1.4m-0.4 0h1.4m-0.4 0h1.4m0.6 0h1.4m-0.4 0h1.4m-0.4 0h1.4m0.6 0h1.4m0.6 0h1.4m-0.4 0h1.4m1.6 0h1.4m-0.4 0h1.4m1.6 0h1.4m0.6 0h1.4m1.6 0h1.4m1.6 0h1.4m1.6 0h1.4m-0.4 0h1.4m-0.4 0h1.4m1.6 0h1.4m0.6 0h1.4m1.6 0h1.4m-0.4 0h1.4m0.6 0h1.4M123 703h1.4m11.6 0h1.4m1.6 0h1.4m0.6 0h1.4m-0.4 0h1.4m-0.4 0h1.4m-0.4 0h1.4m0.6 0h1.4m0.6 0h1.4m-0.4 0h1.4m3.6 0h1.4m-0.4 0h1.4m-0.4 0h1.4m3.6 0h1.4m-0.4 0h1.4m-0.4 0h1.4m-0.4 0h1.4m-0.4 0h1.4m1.6 0h1.4m0.6 0h1.4m1.6 0h1.4m-0.4 0h1.4m2.6 0h1.4m-0.4 0h1.4m0.6 0h1.4m5.6 0h1.4m0.6 0h1.4m0.6 0h1.4m0.6 0h1.4m0.6 0h1.4m0.6 0h1.4m0.6 0h1.4M120 704h1.4m1.6 0h1.4m9.6 0h1.4m5.6 0h1.4m1.6 0h1.4m-0.4 0h1.4m-0.4 0h1.4m-0.4 0h1.4m-0.4 0h1.4m1.6 0h1.4m0.6 0h1.4m-0.4 0h1.4m-0.4 0h1.4m-0.4 0h1.4m-0.4 0h1.4m0.6 0h1.4m-0.4 0h1.4m1.6 0h1.4m-0.4 0h1.4m-0.4 0h1.4m-0.4 0h1.4m1.6 0h1.4m3.6 0h1.4m-0.4 0h1.4m2.6 0h1.4m-0.4 0h1.4m2.6 0h1.4m-0.4 0h1.4m-0.4 0h1.4m1.6 0h1.4m0.6 0h1.4m-0.4 0h1.4m5.6 0h1.4M124 705h1.4m8.6 0h1.4m0.6 0h1.4m-0.4 0h1.4m5.6 0h1.4m-0.4 0h1.4m2.6 0h1.4m-0.4 0h1.4m-0.4 0h1.4m1.6 0h1.4m0.6 0h1.4m-0.4 0h1.4m-0.4 0h1.4m2.6 0h1.4m-0.4 0h1.4m0.6 0h1.4m-0.4 0h1.4m0.6 0h1.4m-0.4 0h1.4m-0.4 0h1.4m-0.4 0h1.4m-0.4 0h1.4m1.6 0h1.4m-0.4 0h1.4m-0.4 0h1.4m-0.4 0h1.4m-0.4 0h1.4m-0.4 0h1.4m-0.4 0h1.4m-0.4 0h1.4m-0.4 0h1.4m0.6 0h1.4m0.6 0h1.4m-0.4 0h1.4m1.6 0h1.4m-0.4 0h1.4M128 706h1.4m5.6 0h1.4m-0.4 0h1.4m0.6 0h1.4m0.6 0h1.4m3.6 0h1.4m0.6 0h1.4m0.6 0h1.4m0.6 0h1.4m2.6 0h1.4m-0.4 0h1.4m-0.4 0h1.4m-0.4 0h1.4m-0.4 0h1.4m-0.4 0h1.4m-0.4 0h1.4m-0.4 0h1.4m-0.4 0h1.4m-0.4 0h1.4m3.6 0h1.4m-0.4 0h1.4m-0.4 0h1.4m0.6 0h1.4m-0.4 0h1.4m-0.4 0h1.4m0.6 0h1.4m-0.4 0h1.4m-0.4 0h1.4m-0.4 0h1.4m2.6 0h1.4m-0.4 0h1.4m1.6 0h1.4m0.6 0h1.4m-0.4 0h1.4m0.6 0h1.4m2.6 0h1.4M108 707h1.4m10.6 0h1.4m8.6 0h1.4m0.6 0h1.4m0.6 0h1.4m0.6 0h1.4m2.6 0h1.4m5.6 0h1.4m0.6 0h1.4m6.6 0h1.4m-0.4 0h1.4m0.6 0h1.4m0.6 0h1.4m-0.4 0h1.4m1.6 0h1.4m-0.4 0h1.4m-0.4 0h1.4m1.6 0h1.4m-0.4 0h1.4m-0.4 0h1.4m0.6 0h1.4m-0.4 0h1.4m-0.4 0h1.4m1.6 0h1.4m3.6 0h1.4m2.6 0h1.4m0.6 0h1.4m-0.4 0h1.4m-0.4 0h1.4m2.6 0h1.4M120 708h1.4m0.6 0h1.4m4.6 0h1.4m4.6 0h1.4m5.6 0h1.4m-0.4 0h1.4m-0.4 0h1.4m-0.4 0h1.4m0.6 0h1.4m0.6 0h1.4m0.6 0h1.4m-0.4 0h1.4m0.6 0h1.4m-0.4 0h1.4m0.6 0h1.4m-0.4 0h1.4m-0.4 0h1.4m0.6 0h1.4m-0.4 0h1.4m-0.4 0h1.4m-0.4 0h1.4m0.6 0h1.4m-0.4 0h1.4m0.6 0h1.4m-0.4 0h1.4m-0.4 0h1.4m-0.4 0h1.4m-0.4 0h1.4m-0.4 0h1.4m1.6 0h1.4m-0.4 0h1.4m-0.4 0h1.4m-0.4 0h1.4m-0.4 0h1.4m-0.4 0h1.4m-0.4 0h1.4m-0.4 0h1.4m-0.4 0h1.4m-0.4 0h1.4m-0.4 0h1.4m-0.4 0h1.4M112 709h1.4m15.6 0h1.4m-0.4 0h1.4m-0.4 0h1.4m0.6 0h1.4m-0.4 0h1.4m7.6 0h1.4m3.6 0h1.4m0.6 0h1.4m0.6 0h1.4m-0.4 0h1.4m0.6 0h1.4m-0.4 0h1.4m0.6 0h1.4m0.6 0h1.4m0.6 0h1.4m-0.4 0h1.4m0.6 0h1.4m0.6 0h1.4m-0.4 0h1.4m2.6 0h1.4m0.6 0h1.4m-0.4 0h1.4m-0.4 0h1.4m0.6 0h1.4m2.6 0h1.4m0.6 0h1.4m3.6 0h1.4m0.6 0h1.4m0.6 0h1.4m-0.4 0h1.4m-0.4 0h1.4M134 710h1.4m5.6 0h1.4m-0.4 0h1.4m-0.4 0h1.4m-0.4 0h1.4m0.6 0h1.4m0.6 0h1.4m-0.4 0h1.4m-0.4 0h1.4m-0.4 0h1.4m-0.4 0h1.4m-0.4 0h1.4m-0.4 0h1.4m-0.4 0h1.4m-0.4 0h1.4m-0.4 0h1.4m2.6 0h1.4m-0.4 0h1.4m-0.4 0h1.4m-0.4 0h1.4m0.6 0h1.4m-0.4 0h1.4m-0.4 0h1.4m0.6 0h1.4m0.6 0h1.4m-0.4 0h1.4m-0.4 0h1.4m5.6 0h1.4m-0.4 0h1.4m-0.4 0h1.4m0.6 0h1.4m-0.4 0h1.4m0.6 0h1.4M114 711h1.4m19.6 0h1.4m2.6 0h1.4m1.6 0h1.4m-0.4 0h1.4m2.6 0h1.4m0.6 0h1.4m1.6 0h1.4m-0.4 0h1.4m-0.4 0h1.4m-0.4 0h1.4m0.6 0h1.4m-0.4 0h1.4m-0.4 0h1.4m-0.4 0h1.4m-0.4 0h1.4m-0.4 0h1.4m0.6 0h1.4m-0.4 0h1.4m1.6 0h1.4m-0.4 0h1.4m-0.4 0h1.4m-0.4 0h1.4m-0.4 0h1.4m1.6 0h1.4m0.6 0h1.4m-0.4 0h1.4m0.6 0h1.4m-0.4 0h1.4m-0.4 0h1.4m2.6 0h1.4m0.6 0h1.4m-0.4 0h1.4m0.6 0h1.4m-0.4 0h1.4m1.6 0h1.4M115 712h1.4m12.6 0h1.4m1.6 0h1.4m-0.4 0h1.4m1.6 0h1.4m-0.4 0h1.4m-0.4 0h1.4m1.6 0h1.4m2.6 0h1.4m-0.4 0h1.4m1.6 0h1.4m0.6 0h1.4m-0.4 0h1.4m0.6 0h1.4m0.6 0h1.4m-0.4 0h1.4m-0.4 0h1.4m-0.4 0h1.4m1.6 0h1.4m-0.4 0h1.4m-0.4 0h1.4m2.6 0h1.4m-0.4 0h1.4m-0.4 0h1.4m-0.4 0h1.4m0.6 0h1.4m-0.4 0h1.4m1.6 0h1.4m2.6 0h1.4m-0.4 0h1.4m1.6 0h1.4m1.6 0h1.4m4.6 0h1.4M121 713h1.4m6.6 0h1.4m1.6 0h1.4m3.6 0h1.4m6.6 0h1.4m-0.4 0h1.4m0.6 0h1.4m0.6 0h1.4m-0.4 0h1.4m0.6 0h1.4m-0.4 0h1.4m1.6 0h1.4m0.6 0h1.4m-0.4 0h1.4m0.6 0h1.4m-0.4 0h1.4m-0.4 0h1.4m-0.4 0h1.4m-0.4 0h1.4m-0.4 0h1.4m-0.4 0h1.4m-0.4 0h1.4m-0.4 0h1.4m-0.4 0h1.4m2.6 0h1.4m-0.4 0h1.4m1.6 0h1.4m2.6 0h1.4m0.6 0h1.4m0.6 0h1.4m-0.4 0h1.4m1.6 0h1.4m1.6 0h1.4M123 714h1.4m1.6 0h1.4m-0.4 0h1.4m0.6 0h1.4m0.6 0h1.4m-0.4 0h1.4m-0.4 0h1.4m0.6 0h1.4m-0.4 0h1.4m1.6 0h1.4m2.6 0h1.4m2.6 0h1.4m0.6 0h1.4m1.6 0h1.4m2.6 0h1.4m-0.4 0h1.4m-0.4 0h1.4m-0.4 0h1.4m1.6 0h1.4m-0.4 0h1.4m-0.4 0h1.4m-0.4 0h1.4m0.6 0h1.4m1.6 0h1.4m-0.4 0h1.4m1.6 0h1.4m-0.4 0h1.4m1.6 0h1.4m-0.4 0h1.4m-0.4 0h1.4m-0.4 0h1.4m3.6 0h1.4m-0.4 0h1.4m5.6 0h1.4M127 715h1.4m1.6 0h1.4m0.6 0h1.4m7.6 0h1.4m-0.4 0h1.4m3.6 0h1.4m-0.4 0h1.4m1.6 0h1.4m3.6 0h1.4m1.6 0h1.4m1.6 0h1.4m-0.4 0h1.4m1.6 0h1.4m-0.4 0h1.4m-0.4 0h1.4m-0.4 0h1.4m-0.4 0h1.4m-0.4 0h1.4m3.6 0h1.4m-0.4 0h1.4m-0.4 0h1.4m-0.4 0h1.4m0.6 0h1.4m0.6 0h1.4m-0.4 0h1.4m-0.4 0h1.4m-0.4 0h1.4m0.6 0h1.4m-0.4 0h1.4m-0.4 0h1.4M128 716h1.4m3.6 0h1.4m-0.4 0h1.4m-0.4 0h1.4m-0.4 0h1.4m3.6 0h1.4m-0.4 0h1.4m-0.4 0h1.4m-0.4 0h1.4m0.6 0h1.4m0.6 0h1.4m-0.4 0h1.4m0.6 0h1.4m-0.4 0h1.4m-0.4 0h1.4m-0.4 0h1.4m-0.4 0h1.4m-0.4 0h1.4m-0.4 0h1.4m-0.4 0h1.4m0.6 0h1.4m-0.4 0h1.4m0.6 0h1.4m0.6 0h1.4m1.6 0h1.4m-0.4 0h1.4m-0.4 0h1.4m2.6 0h1.4m2.6 0h1.4m0.6 0h1.4m0.6 0h1.4m-0.4 0h1.4m-0.4 0h1.4m-0.4 0h1.4m1.6 0h1.4m1.6 0h1.4m-0.4 0h1.4M113 717h1.4m15.6 0h1.4m6.6 0h1.4m-0.4 0h1.4m2.6 0h1.4m1.6 0h1.4m-0.4 0h1.4m-0.4 0h1.4m-0.4 0h1.4m-0.4 0h1.4m-0.4 0h1.4m-0.4 0h1.4m-0.4 0h1.4m-0.4 0h1.4m-0.4 0h1.4m-0.4 0h1.4m-0.4 0h1.4m-0.4 0h1.4m1.6 0h1.4m-0.4 0h1.4m-0.4 0h1.4m-0.4 0h1.4m-0.4 0h1.4m-0.4 0h1.4m0.6 0h1.4m-0.4 0h1.4m0.6 0h1.4m-0.4 0h1.4m-0.4 0h1.4m-0.4 0h1.4m0.6 0h1.4m-0.4 0h1.4m-0.4 0h1.4m-0.4 0h1.4m-0.4 0h1.4m-0.4 0h1.4m-0.4 0h1.4m2.6 0h1.4m-0.4 0h1.4m-0.4 0h1.4m-0.4 0h1.4m-0.4 0h1.4m-0.4 0h1.4m-0.4 0h1.4M132 718h1.4m0.6 0h1.4m-0.4 0h1.4m2.6 0h1.4m1.6 0h1.4m2.6 0h1.4m-0.4 0h1.4m-0.4 0h1.4m-0.4 0h1.4m-0.4 0h1.4m-0.4 0h1.4m1.6 0h1.4m-0.4 0h1.4m-0.4 0h1.4m0.6 0h1.4m-0.4 0h1.4m-0.4 0h1.4m-0.4 0h1.4m1.6 0h1.4m0.6 0h1.4m-0.4 0h1.4m0.6 0h1.4m-0.4 0h1.4m0.6 0h1.4m-0.4 0h1.4m-0.4 0h1.4m0.6 0h1.4m-0.4 0h1.4m-0.4 0h1.4m-0.4 0h1.4m-0.4 0h1.4m-0.4 0h1.4m-0.4 0h1.4m2.6 0h1.4M118 719h1.4m18.6 0h1.4m-0.4 0h1.4m4.6 0h1.4m0.6 0h1.4m1.6 0h1.4m-0.4 0h1.4m1.6 0h1.4m-0.4 0h1.4m-0.4 0h1.4m0.6 0h1.4m-0.4 0h1.4m-0.4 0h1.4m-0.4 0h1.4m0.6 0h1.4m-0.4 0h1.4m-0.4 0h1.4m-0.4 0h1.4m0.6 0h1.4m-0.4 0h1.4m-0.4 0h1.4m0.6 0h1.4m-0.4 0h1.4m0.6 0h1.4m-0.4 0h1.4m-0.4 0h1.4m-0.4 0h1.4m-0.4 0h1.4m0.6 0h1.4m-0.4 0h1.4m-0.4 0h1.4m3.6 0h1.4m0.6 0h1.4m-0.4 0h1.4m-0.4 0h1.4M122 720h1.4m2.6 0h1.4m9.6 0h1.4m2.6 0h1.4m1.6 0h1.4m-0.4 0h1.4m-0.4 0h1.4m-0.4 0h1.4m-0.4 0h1.4m0.6 0h1.4m-0.4 0h1.4m-0.4 0h1.4m-0.4 0h1.4m-0.4 0h1.4m-0.4 0h1.4m0.6 0h1.4m-0.4 0h1.4m-0.4 0h1.4m-0.4 0h1.4m-0.4 0h1.4m-0.4 0h1.4m1.6 0h1.4m-0.4 0h1.4m-0.4 0h1.4m-0.4 0h1.4m1.6 0h1.4m0.6 0h1.4m-0.4 0h1.4m-0.4 0h1.4m1.6 0h1.4m-0.4 0h1.4m0.6 0h1.4m-0.4 0h1.4m2.6 0h1.4m1.6 0h1.4m0.6 0h1.4M123 721h1.4m1.6 0h1.4m0.6 0h1.4m0.6 0h1.4m-0.4 0h1.4m1.6 0h1.4m2.6 0h1.4m2.6 0h1.4m1.6 0h1.4m-0.4 0h1.4m1.6 0h1.4m-0.4 0h1.4m-0.4 0h1.4m0.6 0h1.4m-0.4 0h1.4m-0.4 0h1.4m-0.4 0h1.4m-0.4 0h1.4m-0.4 0h1.4m-0.4 0h1.4m0.6 0h1.4m0.6 0h1.4m-0.4 0h1.4m-0.4 0h1.4m-0.4 0h1.4m0.6 0h1.4m-0.4 0h1.4m-0.4 0h1.4m-0.4 0h1.4m-0.4 0h1.4m-0.4 0h1.4m0.6 0h1.4m0.6 0h1.4m1.6 0h1.4m1.6 0h1.4m-0.4 0h1.4m-0.4 0h1.4m1.6 0h1.4m-0.4 0h1.4m-0.4 0h1.4M125 722h1.4m8.6 0h1.4m2.6 0h1.4m-0.4 0h1.4m4.6 0h1.4m-0.4 0h1.4m0.6 0h1.4m2.6 0h1.4m0.6 0h1.4m-0.4 0h1.4m0.6 0h1.4m2.6 0h1.4m0.6 0h1.4m-0.4 0h1.4m-0.4 0h1.4m-0.4 0h1.4m0.6 0h1.4m-0.4 0h1.4m-0.4 0h1.4m-0.4 0h1.4m-0.4 0h1.4m-0.4 0h1.4m0.6 0h1.4m0.6 0h1.4m-0.4 0h1.4m-0.4 0h1.4m-0.4 0h1.4m0.6 0h1.4m3.6 0h1.4M130 723h1.4m4.6 0h1.4m0.6 0h1.4m-0.4 0h1.4m-0.4 0h1.4m0.6 0h1.4m0.6 0h1.4m-0.4 0h1.4m-0.4 0h1.4m-0.4 0h1.4m-0.4 0h1.4m-0.4 0h1.4m-0.4 0h1.4m-0.4 0h1.4m-0.4 0h1.4m5.6 0h1.4m-0.4 0h1.4m-0.4 0h1.4m0.6 0h1.4m-0.4 0h1.4m-0.4 0h1.4m-0.4 0h1.4m-0.4 0h1.4m0.6 0h1.4m1.6 0h1.4m0.6 0h1.4m2.6 0h1.4m-0.4 0h1.4m-0.4 0h1.4m0.6 0h1.4m2.6 0h1.4m2.6 0h1.4"/>
<path stroke="#111" stroke-width="1.4" d="M102 722h1.4m22.6 0h1.4m1.6 0h1.4m5.6 0h1.4m3.6 0h1.4m2.6 0h1.4m1.6 0h1.4m0.6 0h1.4m3.6 0h1.4m-0.4 0h1.4m2.6 0h1.4m-0.4 0h1.4m2.6 0h1.4m0.6 0h1.4m1.6 0h1.4M123 723h1.4m0.6 0h1.4m5.6 0h1.4m-0.4 0h1.4m-0.4 0h1.4m1.6 0h1.4m0.6 0h1.4m0.6 0h1.4m-0.4 0h1.4m-0.4 0h1.4m2.6 0h1.4m0.6 0h1.4m0.6 0h1.4m0.6 0h1.4m0.6 0h1.4m3.6 0h1.4m0.6 0h1.4m4.6 0h1.4m0.6 0h1.4M104 724h1.4m0.6 0h1.4m3.6 0h1.4m18.6 0h1.4m11.6 0h1.4m5.6 0h1.4m1.6 0h1.4m1.6 0h1.4m7.6 0h1.4m1.6 0h1.4m-0.4 0h1.4m0.6 0h1.4M116 725h1.4m4.6 0h1.4m10.6 0h1.4m6.6 0h1.4m-0.4 0h1.4m0.6 0h1.4m-0.4 0h1.4m-0.4 0h1.4m-0.4 0h1.4m5.6 0h1.4m3.6 0h1.4m5.6 0h1.4m0.6 0h1.4m4.6 0h1.4M140 726h1.4m3.6 0h1.4m2.6 0h1.4m2.6 0h1.4m7.6 0h1.4m2.6 0h1.4m1.6 0h1.4m-0.4 0h1.4m2.6 0h1.4M115 727h1.4m1.6 0h1.4m-0.4 0h1.4m0.6 0h1.4m9.6 0h1.4m8.6 0h1.4m0.6 0h1.4m0.6 0h1.4m4.6 0h1.4m1.6 0h1.4m-0.4 0h1.4m-0.4 0h1.4m5.6 0h1.4m3.6 0h1.4m0.6 0h1.4M131 728h1.4m6.6 0h1.4m1.6 0h1.4m-0.4 0h1.4m0.6 0h1.4m0.6 0h1.4m3.6 0h1.4m-0.4 0h1.4m-0.4 0h1.4m1.6 0h1.4m-0.4 0h1.4m2.6 0h1.4m0.6 0h1.4m-0.4 0h1.4m3.6 0h1.4m0.6 0h1.4M126 729h1.4m-0.4 0h1.4m2.6 0h1.4m12.6 0h1.4m2.6 0h1.4m4.6 0h1.4m0.6 0h1.4m0.6 0h1.4m1.6 0h1.4m-0.4 0h1.4m-0.4 0h1.4m0.6 0h1.4m5.6 0h1.4M132 730h1.4m4.6 0h1.4m1.6 0h1.4m3.6 0h1.4m1.6 0h1.4m0.6 0h1.4m13.6 0h1.4m5.6 0h1.4M105 731h1.4m11.6 0h1.4m6.6 0h1.4m1.6 0h1.4m1.6 0h1.4m0.6 0h1.4m4.6 0h1.4m2.6 0h1.4m1.6 0h1.4m-0.4 0h1.4m6.6 0h1.4m-0.4 0h1.4m-0.4 0h1.4m2.6 0h1.4m1.6 0h1.4m2.6 0h1.4m1.6 0h1.4M107 732h1.4m33.6 0h1.4m3.6 0h1.4m2.6 0h1.4m1.6 0h1.4m0.6 0h1.4m0.6 0h1.4m2.6 0h1.4m2.6 0h1.4m3.6 0h1.4M129 733h1.4m-0.4 0h1.4m11.6 0h1.4m0.6 0h1.4m4.6 0h1.4m3.6 0h1.4m0.6 0h1.4m2.6 0h1.4m0.6 0h1.4m-0.4 0h1.4m1.6 0h1.4m-0.4 0h1.4m0.6 0h1.4M134 734h1.4m-0.4 0h1.4m4.6 0h1.4m0.6 0h1.4m0.6 0h1.4m-0.4 0h1.4m-0.4 0h1.4m3.6 0h1.4m5.6 0h1.4m-0.4 0h1.4m10.6 0h1.4M123 735h1.4m3.6 0h1.4m9.6 0h1.4m2.6 0h1.4m3.6 0h1.4m7.6 0h1.4m1.6 0h1.4m6.6 0h1.4m1.6 0h1.4m-0.4 0h1.4m0.6 0h1.4M145 736h1.4m1.6 0h1.4m0.6 0h1.4m5.6 0h1.4m2.6 0h1.4m0.6 0h1.4m-0.4 0h1.4m0.6 0h1.4m2.6 0h1.4M138 737h1.4m2.6 0h1.4m9.6 0h1.4m0.6 0h1.4m-0.4 0h1.4m2.6 0h1.4m0.6 0h1.4m2.6 0h1.4m-0.4 0h1.4m4.6 0h1.4M125 738h1.4m20.6 0h1.4m0.6 0h1.4m2.6 0h1.4m1.6 0h1.4m2.6 0h1.4m1.6 0h1.4m1.6 0h1.4m-0.4 0h1.4m2.6 0h1.4m1.6 0h1.4m-0.4 0h1.4M120 739h1.4m11.6 0h1.4m9.6 0h1.4m1.6 0h1.4m-0.4 0h1.4m5.6 0h1.4m0.6 0h1.4M140 740h1.4m4.6 0h1.4m0.6 0h1.4m2.6 0h1.4m-0.4 0h1.4m-0.4 0h1.4m1.6 0h1.4m1.6 0h1.4m-0.4 0h1.4m2.6 0h1.4m2.6 0h1.4m1.6 0h1.4M146 741h1.4m0.6 0h1.4m2.6 0h1.4m1.6 0h1.4m11.6 0h1.4m2.6 0h1.4m1.6 0h1.4M139 742h1.4m8.6 0h1.4m1.6 0h1.4m1.6 0h1.4m4.6 0h1.4m0.6 0h1.4m0.6 0h1.4m1.6 0h1.4m-0.4 0h1.4m0.6 0h1.4M115 743h1.4m6.6 0h1.4m8.6 0h1.4m6.6 0h1.4m1.6 0h1.4m0.6 0h1.4m4.6 0h1.4m2.6 0h1.4m1.6 0h1.4m0.6 0h1.4m-0.4 0h1.4m3.6 0h1.4m4.6 0h1.4m0.6 0h1.4M140 744h1.4m8.6 0h1.4m-0.4 0h1.4m7.6 0h1.4m-0.4 0h1.4m-0.4 0h1.4m1.6 0h1.4m-0.4 0h1.4m2.6 0h1.4M128 745h1.4m-0.4 0h1.4m5.6 0h1.4m3.6 0h1.4m6.6 0h1.4m-0.4 0h1.4m-0.4 0h1.4m-0.4 0h1.4m8.6 0h1.4m-0.4 0h1.4m1.6 0h1.4m0.6 0h1.4m1.6 0h1.4M134 746h1.4m1.6 0h1.4m0.6 0h1.4m6.6 0h1.4m0.6 0h1.4m4.6 0h1.4m-0.4 0h1.4m0.6 0h1.4m0.6 0h1.4m0.6 0h1.4m0.6 0h1.4M130 747h1.4m-0.4 0h1.4m4.6 0h1.4m-0.4 0h1.4m-0.4 0h1.4m2.6 0h1.4m-0.4 0h1.4m1.6 0h1.4m7.6 0h1.4m3.6 0h1.4M130 748h1.4m5.6 0h1.4m11.6 0h1.4m0.6 0h1.4m-0.4 0h1.4m-0.4 0h1.4m-0.4 0h1.4m7.6 0h1.4m0.6 0h1.4m-0.4 0h1.4m-0.4 0h1.4m1.6 0h1.4m-0.4 0h1.4m-0.4 0h1.4m-0.4 0h1.4M116 749h1.4m13.6 0h1.4m-0.4 0h1.4m6.6 0h1.4m-0.4 0h1.4m-0.4 0h1.4m4.6 0h1.4m-0.4 0h1.4m3.6 0h1.4m8.6 0h1.4m3.6 0h1.4m3.6 0h1.4M118 750h1.4m-0.4 0h1.4m26.6 0h1.4m1.6 0h1.4m1.6 0h1.4m2.6 0h1.4m0.6 0h1.4m-0.4 0h1.4m1.6 0h1.4m1.6 0h1.4m0.6 0h1.4m0.6 0h1.4M125 751h1.4m0.6 0h1.4m9.6 0h1.4m17.6 0h1.4m1.6 0h1.4m1.6 0h1.4M135 752h1.4m0.6 0h1.4m1.6 0h1.4m9.6 0h1.4m0.6 0h1.4m3.6 0h1.4m0.6 0h1.4m-0.4 0h1.4m8.6 0h1.4m2.6 0h1.4M123 753h1.4m5.6 0h1.4m-0.4 0h1.4m2.6 0h1.4m4.6 0h1.4m4.6 0h1.4m-0.4 0h1.4m1.6 0h1.4m-0.4 0h1.4m3.6 0h1.4m0.6 0h1.4m4.6 0h1.4m1.6 0h1.4m0.6 0h1.4m3.6 0h1.4M119 754h1.4m2.6 0h1.4m9.6 0h1.4m1.6 0h1.4m1.6 0h1.4m4.6 0h1.4m3.6 0h1.4m0.6 0h1.4m3.6 0h1.4m2.6 0h1.4m-0.4 0h1.4m1.6 0h1.4m0.6 0h1.4M121 755h1.4m17.6 0h1.4m0.6 0h1.4m0.6 0h1.4m0.6 0h1.4m14.6 0h1.4m4.6 0h1.4m-0.4 0h1.4m4.6 0h1.4M128 756h1.4m7.6 0h1.4m11.6 0h1.4m-0.4 0h1.4m-0.4 0h1.4m-0.4 0h1.4m1.6 0h1.4m-0.4 0h1.4m1.6 0h1.4m-0.4 0h1.4m-0.4 0h1.4m1.6 0h1.4m2.6 0h1.4m1.6 0h1.4m1.6 0h1.4M117 757h1.4m12.6 0h1.4m-0.4 0h1.4m14.6 0h1.4m3.6 0h1.4m-0.4 0h1.4m-0.4 0h1.4m6.6 0h1.4m2.6 0h1.4M101 758h1.4m20.6 0h1.4m4.6 0h1.4m6.6 0h1.4m4.6 0h1.4m-0.4 0h1.4m0.6 0h1.4m-0.4 0h1.4m-0.4 0h1.4m0.6 0h1.4m2.6 0h1.4m2.6 0h1.4m0.6 0h1.4m6.6 0h1.4m1.6 0h1.4m2.6 0h1.4M112 759h1.4m13.6 0h1.4m3.6 0h1.4m0.6 0h1.4m0.6 0h1.4m1.6 0h1.4m1.6 0h1.4m0.6 0h1.4m3.6 0h1.4m-0.4 0h1.4m-0.4 0h1.4m-0.4 0h1.4m4.6 0h1.4m0.6 0h1.4m8.6 0h1.4m-0.4 0h1.4m0.6 0h1.4m-0.4 0h1.4M123 760h1.4m7.6 0h1.4m10.6 0h1.4m1.6 0h1.4m2.6 0h1.4m9.6 0h1.4m-0.4 0h1.4m-0.4 0h1.4m5.6 0h1.4m2.6 0h1.4M121 761h1.4m7.6 0h1.4m0.6 0h1.4m7.6 0h1.4m0.6 0h1.4m1.6 0h1.4m0.6 0h1.4m3.6 0h1.4m8.6 0h1.4m4.6 0h1.4m2.6 0h1.4M129 762h1.4m9.6 0h1.4m0.6 0h1.4m7.6 0h1.4m-0.4 0h1.4m-0.4 0h1.4m0.6 0h1.4m2.6 0h1.4m6.6 0h1.4m0.6 0h1.4m-0.4 0h1.4M102 763h1.4m6.6 0h1.4m-0.4 0h1.4m9.6 0h1.4m2.6 0h1.4m0.6 0h1.4m0.6 0h1.4m2.6 0h1.4m1.6 0h1.4m3.6 0h1.4m1.6 0h1.4m2.6 0h1.4m1.6 0h1.4m1.6 0h1.4m12.6 0h1.4m4.6 0h1.4M117 764h1.4m6.6 0h1.4m1.6 0h1.4m1.6 0h1.4m4.6 0h1.4m1.6 0h1.4m0.6 0h1.4m2.6 0h1.4m2.6 0h1.4m6.6 0h1.4m2.6 0h1.4m-0.4 0h1.4m4.6 0h1.4m4.6 0h1.4M138 765h1.4m0.6 0h1.4m5.6 0h1.4m-0.4 0h1.4m1.6 0h1.4m-0.4 0h1.4m9.6 0h1.4m9.6 0h1.4m-0.4 0h1.4M123 766h1.4m14.6 0h1.4m2.6 0h1.4m0.6 0h1.4m0.6 0h1.4m0.6 0h1.4m-0.4 0h1.4m-0.4 0h1.4m4.6 0h1.4m0.6 0h1.4m-0.4 0h1.4m8.6 0h1.4m2.6 0h1.4M114 767h1.4m22.6 0h1.4m5.6 0h1.4m6.6 0h1.4m3.6 0h1.4m3.6 0h1.4m-0.4 0h1.4m7.6 0h1.4M120 768h1.4m14.6 0h1.4m2.6 0h1.4m2.6 0h1.4m0.6 0h1.4m1.6 0h1.4m-0.4 0h1.4m0.6 0h1.4m0.6 0h1.4m0.6 0h1.4m6.6 0h1.4m0.6 0h1.4m1.6 0h1.4M124 769h1.4m2.6 0h1.4m-0.4 0h1.4m5.6 0h1.4m0.6 0h1.4m0.6 0h1.4m0.6 0h1.4m1.6 0h1.4m2.6 0h1.4m-0.4 0h1.4m-0.4 0h1.4m-0.4 0h1.4m0.6 0h1.4m3.6 0h1.4m2.6 0h1.4m5.6 0h1.4m2.6 0h1.4"/>
<path stroke="#111" stroke-width="1.4" d="M126 773h1.4M142 775h1.4M132 778h1.4M135 780h1.4M144 781h1.4m0.6 0h1.4M147 782h1.4M145 783h1.4M116 784h1.4m6.6 0h1.4m14.6 0h1.4m11.6 0h1.4m0.6 0h1.4m4.6 0h1.4m0.6 0h1.4M107 785h1.4m20.6 0h1.4m0.6 0h1.4m5.6 0h1.4m0.6 0h1.4m0.6 0h1.4m13.6 0h1.4M117 786h1.4m20.6 0h1.4m3.6 0h1.4m11.6 0h1.4m6.6 0h1.4M125 787h1.4m7.6 0h1.4m2.6 0h1.4m3.6 0h1.4m-0.4 0h1.4m1.6 0h1.4m11.6 0h1.4M129 788h1.4m-0.4 0h1.4m2.6 0h1.4m0.6 0h1.4m2.6 0h1.4m13.6 0h1.4M125 789h1.4m11.6 0h1.4m2.6 0h1.4m2.6 0h1.4m0.6 0h1.4M112 790h1.4m13.6 0h1.4m7.6 0h1.4m0.6 0h1.4m9.6 0h1.4m-0.4 0h1.4m0.6 0h1.4m0.6 0h1.4m0.6 0h1.4m9.6 0h1.4M126 791h1.4m11.6 0h1.4m3.6 0h1.4m-0.4 0h1.4m1.6 0h1.4M126 792h1.4m3.6 0h1.4m-0.4 0h1.4m4.6 0h1.4m2.6 0h1.4m0.6 0h1.4m2.6 0h1.4m7.6 0h1.4m0.6 0h1.4M117 793h1.4m-0.4 0h1.4m5.6 0h1.4m1.6 0h1.4m1.6 0h1.4m1.6 0h1.4m0.6 0h1.4m7.6 0h1.4m6.6 0h1.4m0.6 0h1.4M122 794h1.4m5.6 0h1.4m1.6 0h1.4m-0.4 0h1.4m0.6 0h1.4m-0.4 0h1.4m4.6 0h1.4m3.6 0h1.4m8.6 0h1.4m0.6 0h1.4M125 795h1.4m3.6 0h1.4m2.6 0h1.4m1.6 0h1.4m-0.4 0h1.4m-0.4 0h1.4m-0.4 0h1.4m1.6 0h1.4m1.6 0h1.4m6.6 0h1.4m7.6 0h1.4M121 796h1.4m1.6 0h1.4m4.6 0h1.4m1.6 0h1.4m1.6 0h1.4m-0.4 0h1.4m-0.4 0h1.4m-0.4 0h1.4m1.6 0h1.4m2.6 0h1.4m1.6 0h1.4m1.6 0h1.4m0.6 0h1.4m3.6 0h1.4m4.6 0h1.4m-0.4 0h1.4M118 797h1.4m9.6 0h1.4m2.6 0h1.4m1.6 0h1.4m-0.4 0h1.4m3.6 0h1.4m1.6 0h1.4m5.6 0h1.4m-0.4 0h1.4m0.6 0h1.4m0.6 0h1.4m0.6 0h1.4M108 798h1.4m2.6 0h1.4m1.6 0h1.4m2.6 0h1.4m0.6 0h1.4m-0.4 0h1.4m1.6 0h1.4m1.6 0h1.4m0.6 0h1.4m0.6 0h1.4m1.6 0h1.4m-0.4 0h1.4m1.6 0h1.4m-0.4 0h1.4m0.6 0h1.4m-0.4 0h1.4m-0.4 0h1.4m-0.4 0h1.4m2.6 0h1.4m-0.4 0h1.4m1.6 0h1.4m-0.4 0h1.4m1.6 0h1.4m-0.4 0h1.4m-0.4 0h1.4m-0.4 0h1.4m1.6 0h1.4M119 799h1.4m10.6 0h1.4m-0.4 0h1.4m-0.4 0h1.4m-0.4 0h1.4m-0.4 0h1.4m-0.4 0h1.4m3.6 0h1.4m2.6 0h1.4m-0.4 0h1.4m-0.4 0h1.4m0.6 0h1.4m0.6 0h1.4m-0.4 0h1.4m-0.4 0h1.4m-0.4 0h1.4m-0.4 0h1.4m2.6 0h1.4M120 800h1.4m2.6 0h1.4m2.6 0h1.4m-0.4 0h1.4m-0.4 0h1.4m1.6 0h1.4m1.6 0h1.4m0.6 0h1.4m-0.4 0h1.4m0.6 0h1.4m4.6 0h1.4m-0.4 0h1.4m-0.4 0h1.4m1.6 0h1.4m-0.4 0h1.4m1.6 0h1.4m0.6 0h1.4m-0.4 0h1.4m-0.4 0h1.4m0.6 0h1.4M109 801h1.4m3.6 0h1.4m1.6 0h1.4m0.6 0h1.4m2.6 0h1.4m4.6 0h1.4m-0.4 0h1.4m0.6 0h1.4m-0.4 0h1.4m0.6 0h1.4m1.6 0h1.4m1.6 0h1.4m-0.4 0h1.4m-0.4 0h1.4m1.6 0h1.4m1.6 0h1.4m0.6 0h1.4m-0.4 0h1.4m-0.4 0h1.4m-0.4 0h1.4m-0.4 0h1.4m-0.4 0h1.4m-0.4 0h1.4m-0.4 0h1.4m1.6 0h1.4m-0.4 0h1.4M101 802h1.4m3.6 0h1.4m13.6 0h1.4m-0.4 0h1.4m-0.4 0h1.4m-0.4 0h1.4m0.6 0h1.4m-0.4 0h1.4m0.6 0h1.4m2.6 0h1.4m4.6 0h1.4m-0.4 0h1.4m-0.4 0h1.4m-0.4 0h1.4m-0.4 0h1.4m1.6 0h1.4m-0.4 0h1.4m0.6 0h1.4m1.6 0h1.4m0.6 0h1.4m4.6 0h1.4m2.6 0h1.4M104 803h1.4m20.6 0h1.4m0.6 0h1.4m0.6 0h1.4m-0.4 0h1.4m-0.4 0h1.4m-0.4 0h1.4m-0.4 0h1.4m0.6 0h1.4m-0.4 0h1.4m-0.4 0h1.4m-0.4 0h1.4m0.6 0h1.4m-0.4 0h1.4m-0.4 0h1.4m1.6 0h1.4m-0.4 0h1.4m-0.4 0h1.4m-0.4 0h1.4m0.6 0h1.4m-0.4 0h1.4m-0.4 0h1.4m-0.4 0h1.4m-0.4 0h1.4m-0.4 0h1.4m2.6 0h1.4m-0.4 0h1.4M114 804h1.4m0.6 0h1.4m-0.4 0h1.4m2.6 0h1.4m4.6 0h1.4m-0.4 0h1.4m1.6 0h1.4m-0.4 0h1.4m-0.4 0h1.4m2.6 0h1.4m-0.4 0h1.4m-0.4 0h1.4m-0.4 0h1.4m-0.4 0h1.4m-0.4 0h1.4m1.6 0h1.4m-0.4 0h1.4m2.6 0h1.4m0.6 0h1.4m-0.4 0h1.4m0.6 0h1.4m2.6 0h1.4m-0.4 0h1.4m-0.4 0h1.4m1.6 0h1.4m-0.4 0h1.4m-0.4 0h1.4M101 805h1.4m18.6 0h1.4m-0.4 0h1.4m-0.4 0h1.4m-0.4 0h1.4m-0.4 0h1.4m-0.4 0h1.4m1.6 0h1.4m0.6 0h1.4m-0.4 0h1.4m0.6 0h1.4m-0.4 0h1.4m-0.4 0h1.4m0.6 0h1.4m0.6 0h1.4m-0.4 0h1.4m-0.4 0h1.4m-0.4 0h1.4m-0.4 0h1.4m0.6 0h1.4m2.6 0h1.4m-0.4 0h1.4m-0.4 0h1.4m0.6 0h1.4m-0.4 0h1.4m6.6 0h1.4m1.6 0h1.4M104 806h1.4m0.6 0h1.4m10.6 0h1.4m1.6 0h1.4m1.6 0h1.4m3.6 0h1.4m-0.4 0h1.4m-0.4 0h1.4m-0.4 0h1.4m-0.4 0h1.4m-0.4 0h1.4m0.6 0h1.4m0.6 0h1.4m-0.4 0h1.4m-0.4 0h1.4m-0.4 0h1.4m-0.4 0h1.4m1.6 0h1.4m-0.4 0h1.4m2.6 0h1.4m7.6 0h1.4m-0.4 0h1.4m2.6 0h1.4m-0.4 0h1.4M120 807h1.4m1.6 0h1.4m-0.4 0h1.4m-0.4 0h1.4m1.6 0h1.4m0.6 0h1.4m-0.4 0h1.4m-0.4 0h1.4m-0.4 0h1.4m-0.4 0h1.4m-0.4 0h1.4m0.6 0h1.4m-0.4 0h1.4m-0.4 0h1.4m2.6 0h1.4m-0.4 0h1.4m-0.4 0h1.4m0.6 0h1.4m-0.4 0h1.4m-0.4 0h1.4m0.6 0h1.4m-0.4 0h1.4m-0.4 0h1.4m0.6 0h1.4m0.6 0h1.4m1.6 0h1.4m5.6 0h1.4M106 808h1.4m6.6 0h1.4m6.6 0h1.4m0.6 0h1.4m3.6 0h1.4m-0.4 0h1.4m2.6 0h1.4m3.6 0h1.4m0.6 0h1.4m-0.4 0h1.4m-0.4 0h1.4m1.6 0h1.4m-0.4 0h1.4m0.6 0h1.4m1.6 0h1.4m0.6 0h1.4m-0.4 0h1.4m-0.4 0h1.4m-0.4 0h1.4m-0.4 0h1.4m-0.4 0h1.4m-0.4 0h1.4m0.6 0h1.4m0.6 0h1.4m-0.4 0h1.4M101 809h1.4m12.6 0h1.4m0.6 0h1.4m0.6 0h1.4m6.6 0h1.4m0.6 0h1.4m-0.4 0h1.4m-0.4 0h1.4m-0.4 0h1.4m0.6 0h1.4m-0.4 0h1.4m-0.4 0h1.4m0.6 0h1.4m-0.4 0h1.4m-0.4 0h1.4m0.6 0h1.4m-0.4 0h1.4m0.6 0h1.4m-0.4 0h1.4m-0.4 0h1.4m0.6 0h1.4m-0.4 0h1.4m0.6 0h1.4m0.6 0h1.4m-0.4 0h1.4m0.6 0h1.4m-0.4 0h1.4m1.6 0h1.4m-0.4 0h1.4m-0.4 0h1.4M112 810h1.4m1.6 0h1.4m4.6 0h1.4m0.6 0h1.4m0.6 0h1.4m1.6 0h1.4m0.6 0h1.4m-0.4 0h1.4m0.6 0h1.4m-0.4 0h1.4m4.6 0h1.4m-0.4 0h1.4m-0.4 0h1.4m-0.4 0h1.4m-0.4 0h1.4m-0.4 0h1.4m-0.4 0h1.4m-0.4 0h1.4m-0.4 0h1.4m-0.4 0h1.4m-0.4 0h1.4m2.6 0h1.4m3.6 0h1.4m0.6 0h1.4m-0.4 0h1.4m0.6 0h1.4m1.6 0h1.4M103 811h1.4m14.6 0h1.4m2.6 0h1.4m0.6 0h1.4m-0.4 0h1.4m-0.4 0h1.4m1.6 0h1.4m0.6 0h1.4m-0.4 0h1.4m0.6 0h1.4m-0.4 0h1.4m3.6 0h1.4m0.6 0h1.4m0.6 0h1.4m-0.4 0h1.4m-0.4 0h1.4m-0.4 0h1.4m0.6 0h1.4m-0.4 0h1.4m-0.4 0h1.4m0.6 0h1.4m3.6 0h1.4m-0.4 0h1.4m5.6 0h1.4M104 812h1.4m11.6 0h1.4m4.6 0h1.4m0.6 0h1.4m-0.4 0h1.4m-0.4 0h1.4m0.6 0h1.4m1.6 0h1.4m1.6 0h1.4m0.6 0h1.4m0.6 0h1.4m0.6 0h1.4m-0.4 0h1.4m-0.4 0h1.4m-0.4 0h1.4m0.6 0h1.4m-0.4 0h1.4m2.6 0h1.4m1.6 0h1.4m4.6 0h1.4m0.6 0h1.4m2.6 0h1.4M114 813h1.4m-0.4 0h1.4m0.6 0h1.4m-0.4 0h1.4m5.6 0h1.4m2.6 0h1.4m-0.4 0h1.4m2.6 0h1.4m0.6 0h1.4m0.6 0h1.4m-0.4 0h1.4m0.6 0h1.4m-0.4 0h1.4m-0.4 0h1.4m-0.4 0h1.4m0.6 0h1.4m0.6 0h1.4m3.6 0h1.4m-0.4 0h1.4m1.6 0h1.4m-0.4 0h1.4m-0.4 0h1.4m-0.4 0h1.4m0.6 0h1.4m0.6 0h1.4m-0.4 0h1.4m-0.4 0h1.4m-0.4 0h1.4M114 814h1.4m4.6 0h1.4m-0.4 0h1.4m0.6 0h1.4m3.6 0h1.4m-0.4 0h1.4m0.6 0h1.4m-0.4 0h1.4m0.6 0h1.4m-0.4 0h1.4m-0.4 0h1.4m2.6 0h1.4m2.6 0h1.4m-0.4 0h1.4m-0.4 0h1.4m0.6 0h1.4m0.6 0h1.4m-0.4 0h1.4m-0.4 0h1.4m-0.4 0h1.4m-0.4 0h1.4m1.6 0h1.4m1.6 0h1.4m4.6 0h1.4M111 815h1.4m3.6 0h1.4m5.6 0h1.4m-0.4 0h1.4m0.6 0h1.4m0.6 0h1.4m3.6 0h1.4m2.6 0h1.4m2.6 0h1.4m0.6 0h1.4m-0.4 0h1.4m-0.4 0h1.4m-0.4 0h1.4m-0.4 0h1.4m6.6 0h1.4m-0.4 0h1.4m-0.4 0h1.4m-0.4 0h1.4m0.6 0h1.4m3.6 0h1.4m0.6 0h1.4M114 816h1.4m4.6 0h1.4m3.6 0h1.4m1.6 0h1.4m-0.4 0h1.4m0.6 0h1.4m1.6 0h1.4m-0.4 0h1.4m1.6 0h1.4m-0.4 0h1.4m1.6 0h1.4m-0.4 0h1.4m0.6 0h1.4m-0.4 0h1.4m0.6 0h1.4m-0.4 0h1.4m1.6 0h1.4m4.6 0h1.4M116 817h1.4m-0.4 0h1.4m4.6 0h1.4m5.6 0h1.4m-0.4 0h1.4m-0.4 0h1.4m3.6 0h1.4m-0.4 0h1.4m-0.4 0h1.4m-0.4 0h1.4m-0.4 0h1.4m0.6 0h1.4m2.6 0h1.4m0.6 0h1.4m0.6 0h1.4m0.6 0h1.4m1.6 0h1.4m0.6 0h1.4m0.6 0h1.4m2.6 0h1.4M106 818h1.4m9.6 0h1.4m-0.4 0h1.4m0.6 0h1.4m0.6 0h1.4m7.6 0h1.4m-0.4 0h1.4m0.6 0h1.4m1.6 0h1.4m-0.4 0h1.4m-0.4 0h1.4m-0.4 0h1.4m-0.4 0h1.4m0.6 0h1.4m-0.4 0h1.4m-0.4 0h1.4m-0.4 0h1.4m-0.4 0h1.4m0.6 0h1.4m-0.4 0h1.4m4.6 0h1.4m6.6 0h1.4m-0.4 0h1.4M117 819h1.4m8.6 0h1.4m0.6 0h1.4m0.6 0h1.4m2.6 0h1.4m-0.4 0h1.4m3.6 0h1.4m-0.4 0h1.4m2.6 0h1.4m-0.4 0h1.4m-0.4 0h1.4m2.6 0h1.4m-0.4 0h1.4m1.6 0h1.4m0.6 0h1.4m2.6 0h1.4m-0.4 0h1.4m0.6 0h1.4M108 820h1.4m10.6 0h1.4m-0.4 0h1.4m0.6 0h1.4m1.6 0h1.4m-0.4 0h1.4m2.6 0h1.4m1.6 0h1.4m-0.4 0h1.4m0.6 0h1.4m0.6 0h1.4m-0.4 0h1.4m-0.4 0h1.4m-0.4 0h1.4m-0.4 0h1.4m-0.4 0h1.4m0.6 0h1.4m0.6 0h1.4m4.6 0h1.4m-0.4 0h1.4m-0.4 0h1.4m4.6 0h1.4M99 821h1.4m15.6 0h1.4m6.6 0h1.4m2.6 0h1.4m0.6 0h1.4m2.6 0h1.4m-0.4 0h1.4m-0.4 0h1.4m0.6 0h1.4m0.6 0h1.4m1.6 0h1.4m2.6 0h1.4m-0.4 0h1.4m1.6 0h1.4m1.6 0h1.4m0.6 0h1.4m0.6 0h1.4m1.6 0h1.4m4.6 0h1.4M109 822h1.4m10.6 0h1.4m5.6 0h1.4m-0.4 0h1.4m-0.4 0h1.4m-0.4 0h1.4m0.6 0h1.4m3.6 0h1.4m0.6 0h1.4m0.6 0h1.4m-0.4 0h1.4m0.6 0h1.4m2.6 0h1.4m-0.4 0h1.4m-0.4 0h1.4m-0.4 0h1.4m3.6 0h1.4m1.6 0h1.4m0.6 0h1.4m0.6 0h1.4M124 823h1.4m5.6 0h1.4m2.6 0h1.4m0.6 0h1.4m1.6 0h1.4m-0.4 0h1.4m-0.4 0h1.4m-0.4 0h1.4m-0.4 0h1.4m1.6 0h1.4m3.6 0h1.4m7.6 0h1.4m-0.4 0h1.4M121 824h1.4m-0.4 0h1.4m5.6 0h1.4m-0.4 0h1.4m-0.4 0h1.4m-0.4 0h1.4m5.6 0h1.4m0.6 0h1.4m-0.4 0h1.4m-0.4 0h1.4m1.6 0h1.4m5.6 0h1.4m0.6 0h1.4M116 825h1.4m9.6 0h1.4m-0.4 0h1.4m-0.4 0h1.4m-0.4 0h1.4m-0.4 0h1.4m2.6 0h1.4m0.6 0h1.4m6.6 0h1.4m0.6 0h1.4m-0.4 0h1.4m3.6 0h1.4m-0.4 0h1.4m6.6 0h1.4M114 826h1.4m16.6 0h1.4m3.6 0h1.4m-0.4 0h1.4m2.6 0h1.4m3.6 0h1.4m3.6 0h1.4M129 827h1.4m12.6 0h1.4m-0.4 0h1.4m1.6 0h1.4m-0.4 0h1.4M109 828h1.4m16.6 0h1.4m1.6 0h1.4m3.6 0h1.4m6.6 0h1.4m-0.4 0h1.4m3.6 0h1.4m1.6 0h1.4m4.6 0h1.4m2.6 0h1.4m-0.4 0h1.4m2.6 0h1.4M132 829h1.4m4.6 0h1.4m3.6 0h1.4m2.6 0h1.4M122 830h1.4m1.6 0h1.4m5.6 0h1.4m7.6 0h1.4m9.6 0h1.4m3.6 0h1.4M119 831h1.4m11.6 0h1.4m18.6 0h1.4M119 832h1.4m2.6 0h1.4m-0.4 0h1.4m7.6 0h1.4m0.6 0h1.4m9.6 0h1.4m4.6 0h1.4M133 833h1.4m-0.4 0h1.4m9.6 0h1.4M127 834h1.4m3.6 0h1.4m16.6 0h1.4M115 835h1.4m9.6 0h1.4m9.6 0h1.4M136 836h1.4m-0.4 0h1.4M133 839h1.4m3.6 0h1.4m21.6 0h1.4M133 840h1.4M122 841h1.4M141 844h1.4M94 849h1.4"/>
<path stroke="#111" stroke-width="1.4" d="M93 770h1.4m4.6 0h1.4m16.6 0h1.4m8.6 0h1.4m0.6 0h1.4m0.6 0h1.4m0.6 0h1.4m0.6 0h1.4m0.6 0h1.4m7.6 0h1.4m1.6 0h1.4m0.6 0h1.4m-0.4 0h1.4m0.6 0h1.4m8.6 0h1.4m0.6 0h1.4M119 771h1.4m1.6 0h1.4m-0.4 0h1.4m8.6 0h1.4m-0.4 0h1.4m-0.4 0h1.4m-0.4 0h1.4m1.6 0h1.4m1.6 0h1.4m-0.4 0h1.4m0.6 0h1.4m-0.4 0h1.4m-0.4 0h1.4m0.6 0h1.4m0.6 0h1.4m-0.4 0h1.4m0.6 0h1.4m3.6 0h1.4m0.6 0h1.4M119 772h1.4m4.6 0h1.4m-0.4 0h1.4m1.6 0h1.4m4.6 0h1.4m-0.4 0h1.4m1.6 0h1.4m-0.4 0h1.4m0.6 0h1.4m-0.4 0h1.4m-0.4 0h1.4m4.6 0h1.4m0.6 0h1.4m-0.4 0h1.4m3.6 0h1.4m2.6 0h1.4M99 773h1.4m18.6 0h1.4m6.6 0h1.4m0.6 0h1.4m3.6 0h1.4m-0.4 0h1.4m-0.4 0h1.4m-0.4 0h1.4m-0.4 0h1.4m8.6 0h1.4m1.6 0h1.4m1.6 0h1.4m0.6 0h1.4m-0.4 0h1.4m1.6 0h1.4m1.6 0h1.4m1.6 0h1.4m-0.4 0h1.4M117 774h1.4m2.6 0h1.4m2.6 0h1.4m-0.4 0h1.4m-0.4 0h1.4m4.6 0h1.4m-0.4 0h1.4m0.6 0h1.4m6.6 0h1.4m0.6 0h1.4m1.6 0h1.4m0.6 0h1.4m2.6 0h1.4m-0.4 0h1.4m-0.4 0h1.4m-0.4 0h1.4m0.6 0h1.4m-0.4 0h1.4m1.6 0h1.4M111 775h1.4m9.6 0h1.4m6.6 0h1.4m2.6 0h1.4m1.6 0h1.4m0.6 0h1.4m4.6 0h1.4m0.6 0h1.4m-0.4 0h1.4m0.6 0h1.4m-0.4 0h1.4m-0.4 0h1.4m-0.4 0h1.4m0.6 0h1.4m-0.4 0h1.4m-0.4 0h1.4m0.6 0h1.4m-0.4 0h1.4m-0.4 0h1.4M110 776h1.4m3.6 0h1.4m4.6 0h1.4m6.6 0h1.4m2.6 0h1.4m-0.4 0h1.4m8.6 0h1.4m-0.4 0h1.4m0.6 0h1.4m0.6 0h1.4m-0.4 0h1.4m0.6 0h1.4m0.6 0h1.4m-0.4 0h1.4m0.6 0h1.4m0.6 0h1.4m-0.4 0h1.4m3.6 0h1.4m0.6 0h1.4M127 777h1.4m-0.4 0h1.4m8.6 0h1.4m1.6 0h1.4m0.6 0h1.4m2.6 0h1.4m3.6 0h1.4m0.6 0h1.4m0.6 0h1.4m0.6 0h1.4m-0.4 0h1.4m0.6 0h1.4M102 778h1.4m9.6 0h1.4m11.6 0h1.4m1.6 0h1.4m2.6 0h1.4m0.6 0h1.4m-0.4 0h1.4m-0.4 0h1.4m0.6 0h1.4m2.6 0h1.4m0.6 0h1.4m3.6 0h1.4m0.6 0h1.4m-0.4 0h1.4m1.6 0h1.4m-0.4 0h1.4m2.6 0h1.4m0.6 0h1.4m-0.4 0h1.4m-0.4 0h1.4M115 779h1.4m8.6 0h1.4m-0.4 0h1.4m-0.4 0h1.4m0.6 0h1.4m6.6 0h1.4m0.6 0h1.4m-0.4 0h1.4m0.6 0h1.4m1.6 0h1.4m2.6 0h1.4m0.6 0h1.4m-0.4 0h1.4m0.6 0h1.4M115 780h1.4m3.6 0h1.4m-0.4 0h1.4m6.6 0h1.4m-0.4 0h1.4m0.6 0h1.4m-0.4 0h1.4m0.6 0h1.4m0.6 0h1.4m3.6 0h1.4m1.6 0h1.4m0.6 0h1.4m-0.4 0h1.4m-0.4 0h1.4m2.6 0h1.4m4.6 0h1.4m3.6 0h1.4m0.6 0h1.4m-0.4 0h1.4M112 781h1.4m9.6 0h1.4m0.6 0h1.4m1.6 0h1.4m2.6 0h1.4m1.6 0h1.4m2.6 0h1.4m0.6 0h1.4m2.6 0h1.4m0.6 0h1.4m2.6 0h1.4m-0.4 0h1.4m-0.4 0h1.4m-0.4 0h1.4m-0.4 0h1.4m3.6 0h1.4m-0.4 0h1.4m0.6 0h1.4m-0.4 0h1.4m1.6 0h1.4M106 782h1.4m6.6 0h1.4m15.6 0h1.4m10.6 0h1.4m0.6 0h1.4m2.6 0h1.4m1.6 0h1.4m-0.4 0h1.4m1.6 0h1.4m-0.4 0h1.4m1.6 0h1.4m-0.4 0h1.4M112 783h1.4m2.6 0h1.4m8.6 0h1.4m1.6 0h1.4m1.6 0h1.4m4.6 0h1.4m-0.4 0h1.4m0.6 0h1.4m-0.4 0h1.4m4.6 0h1.4m0.6 0h1.4m-0.4 0h1.4m11.6 0h1.4m-0.4 0h1.4M123 784h1.4m1.6 0h1.4m6.6 0h1.4m0.6 0h1.4m3.6 0h1.4m-0.4 0h1.4m0.6 0h1.4m-0.4 0h1.4m-0.4 0h1.4m2.6 0h1.4m9.6 0h1.4m0.6 0h1.4m-0.4 0h1.4M128 785h1.4m0.6 0h1.4m-0.4 0h1.4m0.6 0h1.4m1.6 0h1.4m2.6 0h1.4m0.6 0h1.4m-0.4 0h1.4m1.6 0h1.4m0.6 0h1.4m2.6 0h1.4m0.6 0h1.4m-0.4 0h1.4m-0.4 0h1.4m1.6 0h1.4m1.6 0h1.4m0.6 0h1.4m-0.4 0h1.4M110 786h1.4m8.6 0h1.4m11.6 0h1.4m3.6 0h1.4m0.6 0h1.4m-0.4 0h1.4m1.6 0h1.4m0.6 0h1.4m0.6 0h1.4m0.6 0h1.4m-0.4 0h1.4m-0.4 0h1.4m-0.4 0h1.4m-0.4 0h1.4m-0.4 0h1.4m3.6 0h1.4m1.6 0h1.4m0.6 0h1.4M112 787h1.4m0.6 0h1.4m0.6 0h1.4m4.6 0h1.4m4.6 0h1.4m0.6 0h1.4m3.6 0h1.4m-0.4 0h1.4m5.6 0h1.4m-0.4 0h1.4m1.6 0h1.4m3.6 0h1.4m0.6 0h1.4m0.6 0h1.4m-0.4 0h1.4m-0.4 0h1.4m1.6 0h1.4M116 788h1.4m3.6 0h1.4m3.6 0h1.4m3.6 0h1.4m2.6 0h1.4m-0.4 0h1.4m1.6 0h1.4m0.6 0h1.4m2.6 0h1.4m-0.4 0h1.4m-0.4 0h1.4m-0.4 0h1.4m-0.4 0h1.4m2.6 0h1.4m2.6 0h1.4m1.6 0h1.4M103 789h1.4m10.6 0h1.4m4.6 0h1.4m1.6 0h1.4m0.6 0h1.4m6.6 0h1.4m7.6 0h1.4m0.6 0h1.4m2.6 0h1.4m-0.4 0h1.4m-0.4 0h1.4m-0.4 0h1.4m0.6 0h1.4m0.6 0h1.4m1.6 0h1.4m-0.4 0h1.4m-0.4 0h1.4m0.6 0h1.4m1.6 0h1.4"/>
<path stroke="#111" stroke-width="1.2" d="M86 641h1.2m13.8 0h1.2m19.8 0h1.2M114 642h1.2M112 644h1.2M110 645h1.2m36.8 0h1.2m4.8 0h1.2m37.8 0h1.2M129 646h1.2m8.8 0h1.2m6.8 0h1.2m5.8 0h1.2m29.8 0h1.2M136 647h1.2m4.8 0h1.2m42.8 0h1.2M127 649h1.2m75.8 0h1.2M139 651h1.2m5.8 0h1.2M134 652h1.2m9.8 0h1.2m76.8 0h1.2M113 653h1.2m20.8 0h1.2M123 656h1.2m12.8 0h1.2M113 657h1.2m7.8 0h1.2m31.8 0h1.2m18.8 0h1.2M105 658h1.2M123 659h1.2m16.8 0h1.2m11.8 0h1.2M146 660h1.2M95 661h1.2m62.8 0h1.2M148 662h1.2M163 663h1.2M138 664h1.2m29.8 0h1.2M105 665h1.2m27.8 0h1.2m53.8 0h1.2M144 666h1.2m18.8 0h1.2M101 667h1.2M95 669h1.2m41.8 0h1.2m9.8 0h1.2m27.8 0h1.2M124 670h1.2m6.8 0h1.2m3.8 0h1.2M115 671h1.2m4.8 0h1.2m41.8 0h1.2M115 672h1.2m36.8 0h1.2M123 673h1.2M116 674h1.2m18.8 0h1.2m53.8 0h1.2M125 675h1.2m13.8 0h1.2m-0.2 0h1.2m15.8 0h1.2M113 676h1.2m60.8 0h1.2M126 677h1.2M141 678h1.2m9.8 0h1.2M136 679h1.2m0.8 0h1.2m2.8 0h1.2m1.8 0h1.2m0.8 0h1.2m22.8 0h1.2M87 680h1.2m-0.2 0h1.2M118 681h1.2m6.8 0h1.2m58.8 0h1.2M133 682h1.2m14.8 0h1.2M115 685h1.2M87 686h1.2m32.8 0h1.2m58.8 0h1.2M130 687h1.2M137 688h1.2m14.8 0h1.2m20.8 0h1.2M123 689h1.2m1.8 0h1.2M94 690h1.2m2.8 0h1.2m4.8 0h1.2m17.8 0h1.2m43.8 0h1.2M106 692h1.2m12.8 0h1.2m57.8 0h1.2M156 694h1.2M129 695h1.2m20.8 0h1.2m35.8 0h1.2M117 696h1.2m2.8 0h1.2m8.8 0h1.2m1.8 0h1.2m40.8 0h1.2M95 697h1.2M135 698h1.2m27.8 0h1.2M118 699h1.2m1.8 0h1.2m17.8 0h1.2m15.8 0h1.2M142 700h1.2M114 702h1.2m71.8 0h1.2M150 703h1.2M134 704h1.2M136 705h1.2m10.8 0h1.2M92 706h1.2m56.8 0h1.2m17.8 0h1.2M171 708h1.2m6.8 0h1.2M185 709h1.2M146 710h1.2m6.8 0h1.2M90 711h1.2m13.8 0h1.2m7.8 0h1.2m48.8 0h1.2M124 712h1.2m7.8 0h1.2M144 713h1.2M167 714h1.2m25.8 0h1.2M165 715h1.2m12.8 0h1.2M100 716h1.2M138 718h1.2m23.8 0h1.2M113 719h1.2m8.8 0h1.2M140 720h1.2m42.8 0h1.2M135 721h1.2m42.8 0h1.2M96 722h1.2m27.8 0h1.2M114 723h1.2M177 724h1.2M171 725h1.2M89 726h1.2m83.8 0h1.2M143 728h1.2m16.8 0h1.2M184 731h1.2M146 733h1.2m11.8 0h1.2m5.8 0h1.2M142 734h1.2m5.8 0h1.2M120 735h1.2m13.8 0h1.2m24.8 0h1.2M87 737h1.2M157 738h1.2M106 739h1.2m20.8 0h1.2M110 740h1.2m10.8 0h1.2M157 741h1.2M117 742h1.2m6.8 0h1.2m34.8 0h1.2M145 744h1.2m16.8 0h1.2M133 745h1.2M126 746h1.2m26.8 0h1.2M106 747h1.2m33.8 0h1.2M111 748h1.2m33.8 0h1.2m5.8 0h1.2m6.8 0h1.2M100 749h1.2m25.8 0h1.2m13.8 0h1.2m2.8 0h1.2M104 750h1.2m2.8 0h1.2m19.8 0h1.2M145 753h1.2M145 754h1.2M118 755h1.2m16.8 0h1.2M105 756h1.2M135 757h1.2m2.8 0h1.2M140 759h1.2m6.8 0h1.2M96 760h1.2m24.8 0h1.2m4.8 0h1.2m5.8 0h1.2m10.8 0h1.2m3.8 0h1.2m10.8 0h1.2M91 761h1.2m23.8 0h1.2m14.8 0h1.2m15.8 0h1.2M135 762h1.2m24.8 0h1.2M163 763h1.2M167 765h1.2M135 767h1.2M121 768h1.2m7.8 0h1.2M161 769h1.2M93 771h1.2M94 772h1.2m20.8 0h1.2m34.8 0h1.2M161 773h1.2M154 775h1.2M159 776h1.2M120 779h1.2m32.8 0h1.2M116 780h1.2m11.8 0h1.2m16.8 0h1.2M157 783h1.2m8.8 0h1.2M112 784h1.2m7.8 0h1.2m14.8 0h1.2M111 786h1.2m31.8 0h1.2M102 787h1.2m46.8 0h1.2M96 788h1.2m33.8 0h1.2M106 789h1.2m46.8 0h1.2M107 790h1.2m46.8 0h1.2m10.8 0h1.2M116 792h1.2M113 794h1.2M89 795h1.2m29.8 0h1.2m10.8 0h1.2M146 796h1.2m8.8 0h1.2M91 797h1.2m33.8 0h1.2M126 798h1.2M142 799h1.2M105 801h1.2m42.8 0h1.2M102 802h1.2m21.8 0h1.2m9.8 0h1.2m23.8 0h1.2M108 803h1.2m6.8 0h1.2m45.8 0h1.2M108 804h1.2m6.8 0h1.2m23.8 0h1.2M91 808h1.2m50.8 0h1.2m11.8 0h1.2M151 809h1.2m6.8 0h1.2M131 810h1.2m29.8 0h1.2m-0.2 0h1.2M126 811h1.2m25.8 0h1.2m5.8 0h1.2m-0.2 0h1.2m-0.2 0h1.2M112 812h1.2m-0.2 0h1.2M154 813h1.2M90 815h1.2m10.8 0h1.2m9.8 0h1.2m2.8 0h1.2m11.8 0h1.2m29.8 0h1.2M101 816h1.2m64.8 0h1.2M122 817h1.2M127 818h1.2M132 819h1.2m21.8 0h1.2M119 821h1.2m14.8 0h1.2m6.8 0h1.2M82 823h1.2m33.8 0h1.2m29.8 0h1.2m3.8 0h1.2m-0.2 0h1.2M117 824h1.2m27.8 0h1.2m17.8 0h1.2M142 825h1.2M107 826h1.2m9.8 0h1.2M114 827h1.2m0.8 0h1.2m6.8 0h1.2m7.8 0h1.2m6.8 0h1.2M110 828h1.2m1.8 0h1.2m2.8 0h1.2m40.8 0h1.2M134 830h1.2M100 831h1.2m20.8 0h1.2m3.8 0h1.2M146 832h1.2M95 834h1.2m0.8 0h1.2M121 835h1.2m19.8 0h1.2m10.8 0h1.2M156 837h1.2"/>
<path stroke="#111" stroke-width="1.4" d="M252 637h1.4M248 638h1.4M251 640h1.4m5.6 0h1.4M250 641h1.4M245 643h1.4m7.6 0h1.4M234 644h1.4m-0.4 0h1.4m17.6 0h1.4m0.6 0h1.4M234 645h1.4m5.6 0h1.4m2.6 0h1.4m4.6 0h1.4m5.6 0h1.4M232 646h1.4m5.6 0h1.4m3.6 0h1.4m1.6 0h1.4m1.6 0h1.4M250 647h1.4m1.6 0h1.4M227 648h1.4M254 649h1.4m-0.4 0h1.4M239 650h1.4m5.6 0h1.4m5.6 0h1.4M243 652h1.4M232 653h1.4m16.6 0h1.4M242 654h1.4M231 655h1.4m1.6 0h1.4M240 656h1.4m-0.4 0h1.4M227 657h1.4m14.6 0h1.4m-0.4 0h1.4m0.6 0h1.4M243 658h1.4M224 659h1.4m3.6 0h1.4m1.6 0h1.4m3.6 0h1.4m2.6 0h1.4m0.6 0h1.4M231 660h1.4m3.6 0h1.4M231 661h1.4M217 662h1.4m14.6 0h1.4M241 663h1.4M216 664h1.4m8.6 0h1.4m3.6 0h1.4m1.6 0h1.4m3.6 0h1.4M233 665h1.4m-0.4 0h1.4M223 666h1.4M224 667h1.4m5.6 0h1.4M214 668h1.4m7.6 0h1.4m6.6 0h1.4M228 669h1.4m-0.4 0h1.4m0.6 0h1.4m-0.4 0h1.4M233 670h1.4M220 671h1.4m7.6 0h1.4m0.6 0h1.4M188 672h1.4M224 674h1.4M209 676h1.4m-0.4 0h1.4m2.6 0h1.4m9.6 0h1.4m-0.4 0h1.4m-0.4 0h1.4M223 677h1.4m3.6 0h1.4M214 678h1.4m10.6 0h1.4M193 679h1.4M208 680h1.4m-0.4 0h1.4m1.6 0h1.4m0.6 0h1.4m1.6 0h1.4M215 681h1.4m1.6 0h1.4M207 682h1.4m9.6 0h1.4M203 684h1.4m-0.4 0h1.4m8.6 0h1.4m5.6 0h1.4M220 685h1.4M206 686h1.4m5.6 0h1.4m-0.4 0h1.4m1.6 0h1.4M207 687h1.4m8.6 0h1.4M210 688h1.4M199 689h1.4m15.6 0h1.4M194 690h1.4M210 692h1.4M198 693h1.4M201 694h1.4m2.6 0h1.4M206 695h1.4m-0.4 0h1.4M195 696h1.4m1.6 0h1.4m4.6 0h1.4M183 697h1.4m11.6 0h1.4m5.6 0h1.4M177 699h1.4"/></g>
<linearGradient id="g0_0" x1="128.0" x2="146.0" y1="0" y2="0" gradientUnits="userSpaceOnUse"><stop offset="0" stop-color="#58d8f0" stop-opacity="0"/><stop offset="1" stop-color="#58d8f0" stop-opacity="0.70"/></linearGradient>
<path d="M128.0 688.6 L214.0 688.6 L211.8 694.2 L128.0 694.2Z" fill="url(#g0_0)"/>
<linearGradient id="g0_2" x1="126.0" x2="142.0" y1="0" y2="0" gradientUnits="userSpaceOnUse"><stop offset="0" stop-color="#111" stop-opacity="0"/><stop offset="1" stop-color="#111" stop-opacity="0.62"/></linearGradient>
<path d="M126.0 696.0 L210.0 696.0 L191.3 722.5 L126.0 722.5Z" fill="url(#g0_2)"/>
<linearGradient id="g0_4" x1="129.0" x2="141.0" y1="0" y2="0" gradientUnits="userSpaceOnUse"><stop offset="0" stop-color="#f5a01c" stop-opacity="0"/><stop offset="1" stop-color="#f5a01c" stop-opacity="1.00"/></linearGradient>
<path d="M129.0 723.6 L190.8 723.6 L187.4 731.2 L129.0 731.2Z" fill="url(#g0_4)"/>
<linearGradient id="g0_6" x1="132.0" x2="142.0" y1="0" y2="0" gradientUnits="userSpaceOnUse"><stop offset="0" stop-color="#111" stop-opacity="0"/><stop offset="1" stop-color="#111" stop-opacity="0.85"/></linearGradient>
<path d="M132.0 731.2 L187.4 731.2 L186.5 733.2 L132.0 733.2Z" fill="url(#g0_6)"/>
<linearGradient id="g0_8" x1="135.0" x2="145.0" y1="0" y2="0" gradientUnits="userSpaceOnUse"><stop offset="0" stop-color="#8e2a6e" stop-opacity="0"/><stop offset="1" stop-color="#8e2a6e" stop-opacity="1.00"/></linearGradient>
<path d="M135.0 733.0 L186.6 733.0 L183.7 739.3 L135.0 739.3Z" fill="url(#g0_8)"/>
<linearGradient id="g0_10" x1="130.0" x2="142.0" y1="0" y2="0" gradientUnits="userSpaceOnUse"><stop offset="0" stop-color="#0c0c0c" stop-opacity="0"/><stop offset="1" stop-color="#0c0c0c" stop-opacity="0.95"/></linearGradient>
<path d="M130.0 739.8 L183.5 739.8 L178.6 751.8 L130.0 751.8Z" fill="url(#g0_10)"/>
<linearGradient id="g0_12" x1="118.0" x2="138.0" y1="0" y2="0" gradientUnits="userSpaceOnUse"><stop offset="0" stop-color="#f2141c" stop-opacity="0"/><stop offset="1" stop-color="#f2141c" stop-opacity="1.00"/></linearGradient>
<path d="M118.0 752.2 L172.0 752.2 L172.0 758.2 L118.0 758.2Z" fill="url(#g0_12)"/>
<linearGradient id="g0_14" x1="126.0" x2="138.0" y1="0" y2="0" gradientUnits="userSpaceOnUse"><stop offset="0" stop-color="#111" stop-opacity="0"/><stop offset="1" stop-color="#111" stop-opacity="0.75"/></linearGradient>
<path d="M126.0 758.4 L170.0 758.4 L170.0 767.4 L126.0 767.4Z" fill="url(#g0_14)"/>
<linearGradient id="g0_16" x1="120.0" x2="140.0" y1="0" y2="0" gradientUnits="userSpaceOnUse"><stop offset="0" stop-color="#eea4a4" stop-opacity="0"/><stop offset="1" stop-color="#eea4a4" stop-opacity="0.90"/></linearGradient>
<path d="M120.0 767.6 L167.5 767.6 L167.5 774.2 L120.0 774.2Z" fill="url(#g0_16)"/>
<linearGradient id="g0_18" x1="104.0" x2="130.0" y1="0" y2="0" gradientUnits="userSpaceOnUse"><stop offset="0" stop-color="#cfc874" stop-opacity="0"/><stop offset="1" stop-color="#cfc874" stop-opacity="0.72"/></linearGradient>
<path d="M104.0 782.2 L167.0 782.2 L167.0 795.6 L104.0 795.6Z" fill="url(#g0_18)"/>
<path d="M178.6 750.6 L180.0 747.5 L181.4 744.4 L182.8 741.4 L184.2 738.3 L185.6 735.2 L187.0 732.1 L188.4 729.1 L189.8 726.0 L191.2 722.9 L192.6 719.8 L194.0 716.8 L195.3 713.7 L196.8 710.6 L196.8 711.1 L198.0 714.2 L198.7 717.3 L199.0 720.3 L198.7 723.4 L198.1 726.5 L197.0 729.6 L195.6 732.6 L194.0 735.7 L192.0 738.8 L189.9 741.9 L187.6 744.9 L185.1 748.0 L182.6 751.1Z" fill="#2e7ff0"/>
<g transform="translate(0.25 0.5)" fill="none"><path stroke="#60c860" stroke-width="1.1" d="M84 673h1.1m45.9 0h1.1m0.9 0h1.1m3.9 0h1.1m3.9 0h1.1m9.9 0h1.1m-0.1 0h1.1m-0.1 0h1.1m-0.1 0h1.1m-0.1 0h1.1m0.9 0h1.1m0.9 0h1.1m1.9 0h1.1m0.9 0h1.1m0.9 0h1.1m14.9 0h1.1m0.9 0h1.1m12.9 0h1.1m0.9 0h1.1m28.9 0h1.1M108 674h1.1m-0.1 0h1.1m2.9 0h1.1m2.9 0h1.1m3.9 0h1.1m0.9 0h1.1m2.9 0h1.1m0.9 0h1.1m2.9 0h1.1m0.9 0h1.1m4.9 0h1.1m1.9 0h1.1m-0.1 0h1.1m0.9 0h1.1m-0.1 0h1.1m5.9 0h1.1m-0.1 0h1.1m0.9 0h1.1m-0.1 0h1.1m1.9 0h1.1m0.9 0h1.1m4.9 0h1.1m3.9 0h1.1m1.9 0h1.1m-0.1 0h1.1m-0.1 0h1.1m-0.1 0h1.1m-0.1 0h1.1m1.9 0h1.1m-0.1 0h1.1m-0.1 0h1.1m5.9 0h1.1m0.9 0h1.1m4.9 0h1.1m14.9 0h1.1m2.9 0h1.1M129 675h1.1m10.9 0h1.1m-0.1 0h1.1m5.9 0h1.1m4.9 0h1.1m22.9 0h1.1"/>
<path stroke="#a05050" stroke-width="1.1" d="M136 681h1.1M105 682h1.1m17.9 0h1.1m18.9 0h1.1m5.9 0h1.1m-0.1 0h1.1m6.9 0h1.1m-0.1 0h1.1m-0.1 0h1.1m4.9 0h1.1m-0.1 0h1.1m6.9 0h1.1m-0.1 0h1.1m0.9 0h1.1m1.9 0h1.1m6.9 0h1.1m3.9 0h1.1m5.9 0h1.1m-0.1 0h1.1m22.9 0h1.1M114 683h1.1m0.9 0h1.1m3.9 0h1.1m14.9 0h1.1m1.9 0h1.1m-0.1 0h1.1m3.9 0h1.1m-0.1 0h1.1m-0.1 0h1.1m-0.1 0h1.1m4.9 0h1.1m-0.1 0h1.1m1.9 0h1.1m1.9 0h1.1m3.9 0h1.1m-0.1 0h1.1m1.9 0h1.1m-0.1 0h1.1m0.9 0h1.1m1.9 0h1.1m-0.1 0h1.1m-0.1 0h1.1m2.9 0h1.1m-0.1 0h1.1m0.9 0h1.1m-0.1 0h1.1m-0.1 0h1.1m9.9 0h1.1m-0.1 0h1.1m6.9 0h1.1m-0.1 0h1.1m0.9 0h1.1m-0.1 0h1.1m1.9 0h1.1m16.9 0h1.1m1.9 0h1.1M131 684h1.1m23.9 0h1.1"/>
<path stroke="#40d0f0" stroke-width="1.2" d="M190 683h1.2M116 687h1.2m42.8 0h1.2m0.8 0h1.2m18.8 0h1.2m2.8 0h1.2m16.8 0h1.2m0.8 0h1.2M129 688h1.2m1.8 0h1.2m14.8 0h1.2m6.8 0h1.2m8.8 0h1.2m-0.2 0h1.2m0.8 0h1.2m-0.2 0h1.2m4.8 0h1.2m0.8 0h1.2m16.8 0h1.2m1.8 0h1.2M101 689h1.2m27.8 0h1.2m9.8 0h1.2m2.8 0h1.2m6.8 0h1.2m0.8 0h1.2m-0.2 0h1.2m-0.2 0h1.2m-0.2 0h1.2m3.8 0h1.2m0.8 0h1.2m-0.2 0h1.2m3.8 0h1.2m1.8 0h1.2m2.8 0h1.2m1.8 0h1.2m0.8 0h1.2m-0.2 0h1.2m-0.2 0h1.2m0.8 0h1.2m4.8 0h1.2m1.8 0h1.2m-0.2 0h1.2m0.8 0h1.2m-0.2 0h1.2M128 690h1.2m2.8 0h1.2m1.8 0h1.2m0.8 0h1.2m7.8 0h1.2m6.8 0h1.2m0.8 0h1.2m1.8 0h1.2m0.8 0h1.2m0.8 0h1.2m-0.2 0h1.2m0.8 0h1.2m0.8 0h1.2m-0.2 0h1.2m0.8 0h1.2m-0.2 0h1.2m-0.2 0h1.2m1.8 0h1.2m0.8 0h1.2m0.8 0h1.2m-0.2 0h1.2m-0.2 0h1.2m-0.2 0h1.2m2.8 0h1.2m2.8 0h1.2m4.8 0h1.2m3.8 0h1.2m-0.2 0h1.2m-0.2 0h1.2M129 691h1.2m14.8 0h1.2m2.8 0h1.2m2.8 0h1.2m-0.2 0h1.2m-0.2 0h1.2m1.8 0h1.2m-0.2 0h1.2m0.8 0h1.2m-0.2 0h1.2m-0.2 0h1.2m-0.2 0h1.2m5.8 0h1.2m-0.2 0h1.2m2.8 0h1.2m-0.2 0h1.2m-0.2 0h1.2m1.8 0h1.2m0.8 0h1.2m12.8 0h1.2m2.8 0h1.2m3.8 0h1.2m4.8 0h1.2M133 692h1.2m1.8 0h1.2m4.8 0h1.2m6.8 0h1.2m1.8 0h1.2m4.8 0h1.2m7.8 0h1.2m-0.2 0h1.2m11.8 0h1.2m1.8 0h1.2m10.8 0h1.2m0.8 0h1.2M124 693h1.2m19.8 0h1.2m0.8 0h1.2m2.8 0h1.2m4.8 0h1.2m2.8 0h1.2m3.8 0h1.2m0.8 0h1.2m3.8 0h1.2m-0.2 0h1.2m-0.2 0h1.2m2.8 0h1.2m8.8 0h1.2M174 694h1.2"/>
<path stroke="#40d8f0" stroke-width="1.2" d="M108 689h1.2m12.8 0h1.2m0.8 0h1.2m1.8 0h1.2m0.8 0h1.2m2.8 0h1.2m1.8 0h1.2m0.8 0h1.2m2.8 0h1.2m-0.2 0h1.2m-0.2 0h1.2m-0.2 0h1.2m-0.2 0h1.2m5.8 0h1.2M121 690h1.2m7.8 0h1.2m3.8 0h1.2m0.8 0h1.2m2.8 0h1.2m-0.2 0h1.2m-0.2 0h1.2m-0.2 0h1.2m6.8 0h1.2m9.8 0h1.2M118 691h1.2m0.8 0h1.2m4.8 0h1.2m0.8 0h1.2m1.8 0h1.2m1.8 0h1.2m2.8 0h1.2m0.8 0h1.2m-0.2 0h1.2m2.8 0h1.2m-0.2 0h1.2m0.8 0h1.2m1.8 0h1.2m-0.2 0h1.2m-0.2 0h1.2m4.8 0h1.2M118 692h1.2m4.8 0h1.2m1.8 0h1.2m0.8 0h1.2m-0.2 0h1.2m1.8 0h1.2m1.8 0h1.2m0.8 0h1.2m2.8 0h1.2m8.8 0h1.2m4.8 0h1.2M117 693h1.2m1.8 0h1.2m0.8 0h1.2m-0.2 0h1.2m-0.2 0h1.2m7.8 0h1.2m-0.2 0h1.2m-0.2 0h1.2m1.8 0h1.2m0.8 0h1.2m-0.2 0h1.2m-0.2 0h1.2m-0.2 0h1.2m0.8 0h1.2m-0.2 0h1.2m-0.2 0h1.2m1.8 0h1.2m0.8 0h1.2m4.8 0h1.2"/>
<path stroke="#f7b040" stroke-width="1.2" d="M122 724h1.2m1.8 0h1.2m0.8 0h1.2m-0.2 0h1.2m3.8 0h1.2m1.8 0h1.2m6.8 0h1.2m4.8 0h1.2M109 725h1.2m4.8 0h1.2m5.8 0h1.2m2.8 0h1.2m2.8 0h1.2m2.8 0h1.2m0.8 0h1.2m-0.2 0h1.2m0.8 0h1.2m1.8 0h1.2m-0.2 0h1.2M99 726h1.2m23.8 0h1.2m-0.2 0h1.2m0.8 0h1.2m-0.2 0h1.2m0.8 0h1.2m0.8 0h1.2m2.8 0h1.2m0.8 0h1.2m-0.2 0h1.2m-0.2 0h1.2m0.8 0h1.2m2.8 0h1.2M119 727h1.2m-0.2 0h1.2m1.8 0h1.2m1.8 0h1.2m1.8 0h1.2m0.8 0h1.2m3.8 0h1.2m-0.2 0h1.2m0.8 0h1.2m0.8 0h1.2m-0.2 0h1.2M129 728h1.2m-0.2 0h1.2m0.8 0h1.2m1.8 0h1.2m-0.2 0h1.2m1.8 0h1.2m-0.2 0h1.2m0.8 0h1.2m-0.2 0h1.2m-0.2 0h1.2m0.8 0h1.2m3.8 0h1.2M110 729h1.2m5.8 0h1.2m6.8 0h1.2m3.8 0h1.2m0.8 0h1.2m0.8 0h1.2m-0.2 0h1.2m3.8 0h1.2m0.8 0h1.2m8.8 0h1.2m2.8 0h1.2M121 730h1.2m1.8 0h1.2m0.8 0h1.2m12.8 0h1.2m1.8 0h1.2m1.8 0h1.2m0.8 0h1.2"/>
<path stroke="#f06060" stroke-width="1.2" d="M114 752h1.2m-0.2 0h1.2m5.8 0h1.2m0.8 0h1.2m2.8 0h1.2m1.8 0h1.2m0.8 0h1.2m-0.2 0h1.2M109 753h1.2m-0.2 0h1.2m-0.2 0h1.2m-0.2 0h1.2m3.8 0h1.2m1.8 0h1.2m0.8 0h1.2m1.8 0h1.2m0.8 0h1.2m3.8 0h1.2m-0.2 0h1.2m-0.2 0h1.2m-0.2 0h1.2m0.8 0h1.2m-0.2 0h1.2m0.8 0h1.2m3.8 0h1.2M107 754h1.2m1.8 0h1.2m-0.2 0h1.2m0.8 0h1.2m-0.2 0h1.2m0.8 0h1.2m-0.2 0h1.2m0.8 0h1.2m-0.2 0h1.2m2.8 0h1.2m-0.2 0h1.2m5.8 0h1.2m7.8 0h1.2m-0.2 0h1.2m7.8 0h1.2M98 755h1.2m6.8 0h1.2m0.8 0h1.2m1.8 0h1.2m2.8 0h1.2m1.8 0h1.2m0.8 0h1.2m0.8 0h1.2m1.8 0h1.2m0.8 0h1.2m0.8 0h1.2m6.8 0h1.2m2.8 0h1.2m7.8 0h1.2M116 756h1.2m7.8 0h1.2m-0.2 0h1.2m0.8 0h1.2m-0.2 0h1.2m0.8 0h1.2M104 757h1.2m3.8 0h1.2m2.8 0h1.2m0.8 0h1.2m1.8 0h1.2m2.8 0h1.2m-0.2 0h1.2m-0.2 0h1.2m2.8 0h1.2m0.8 0h1.2m-0.2 0h1.2m19.8 0h1.2"/>
<path stroke="#f4b0b0" stroke-width="1.2" d="M116 768h1.2m0.8 0h1.2m1.8 0h1.2m-0.2 0h1.2m0.8 0h1.2m1.8 0h1.2m2.8 0h1.2m-0.2 0h1.2m1.8 0h1.2m21.8 0h1.2M96 769h1.2m10.8 0h1.2m5.8 0h1.2m-0.2 0h1.2m1.8 0h1.2m4.8 0h1.2m8.8 0h1.2m-0.2 0h1.2m2.8 0h1.2M99 770h1.2m16.8 0h1.2m3.8 0h1.2m3.8 0h1.2m0.8 0h1.2m0.8 0h1.2m7.8 0h1.2m10.8 0h1.2M115 771h1.2m-0.2 0h1.2m0.8 0h1.2m-0.2 0h1.2m3.8 0h1.2m5.8 0h1.2m1.8 0h1.2m10.8 0h1.2m-0.2 0h1.2m7.8 0h1.2M109 772h1.2m1.8 0h1.2m11.8 0h1.2m-0.2 0h1.2m-0.2 0h1.2m-0.2 0h1.2m-0.2 0h1.2m9.8 0h1.2m0.8 0h1.2m13.8 0h1.2M99 773h1.2m9.8 0h1.2m-0.2 0h1.2m0.8 0h1.2m2.8 0h1.2m2.8 0h1.2m-0.2 0h1.2m0.8 0h1.2m-0.2 0h1.2m-0.2 0h1.2m-0.2 0h1.2m-0.2 0h1.2m0.8 0h1.2m-0.2 0h1.2m-0.2 0h1.2m1.8 0h1.2m-0.2 0h1.2m0.8 0h1.2m1.8 0h1.2m2.8 0h1.2"/>
<path stroke="#d8d480" stroke-width="1.2" d="M98 782h1.2m14.8 0h1.2m1.8 0h1.2m2.8 0h1.2m1.8 0h1.2m1.8 0h1.2m0.8 0h1.2m0.8 0h1.2m1.8 0h1.2M106 783h1.2m8.8 0h1.2M97 784h1.2m8.8 0h1.2m7.8 0h1.2m0.8 0h1.2m-0.2 0h1.2m5.8 0h1.2m0.8 0h1.2m0.8 0h1.2M97 785h1.2m16.8 0h1.2m0.8 0h1.2m5.8 0h1.2m9.8 0h1.2m1.8 0h1.2M108 786h1.2m2.8 0h1.2m9.8 0h1.2m0.8 0h1.2m3.8 0h1.2M98 787h1.2m2.8 0h1.2m3.8 0h1.2m1.8 0h1.2m2.8 0h1.2m0.8 0h1.2M107 788h1.2m-0.2 0h1.2m-0.2 0h1.2m17.8 0h1.2m-0.2 0h1.2m4.8 0h1.2M91 789h1.2m15.8 0h1.2m-0.2 0h1.2m4.8 0h1.2m1.8 0h1.2M91 790h1.2m13.8 0h1.2m0.8 0h1.2m0.8 0h1.2m2.8 0h1.2m-0.2 0h1.2m8.8 0h1.2m-0.2 0h1.2m9.8 0h1.2M88 791h1.2m-0.2 0h1.2m0.8 0h1.2m6.8 0h1.2m11.8 0h1.2m-0.2 0h1.2m35.8 0h1.2M104 792h1.2m2.8 0h1.2m0.8 0h1.2m2.8 0h1.2m3.8 0h1.2m5.8 0h1.2M101 793h1.2m10.8 0h1.2M98 794h1.2m15.8 0h1.2m1.8 0h1.2m2.8 0h1.2"/>
<path stroke="#2e7ff0" stroke-width="1.3" d="M266 641h1.3m7.7 0h1.3M263 642h1.3m4.7 0h1.3m9.7 0h1.3m8.7 0h1.3m4.7 0h1.3M270 643h1.3M269 644h1.3m8.7 0h1.3M262 645h1.3m8.7 0h1.3m-0.3 0h1.3m5.7 0h1.3m23.7 0h1.3M260 646h1.3m5.7 0h1.3m1.7 0h1.3m1.7 0h1.3m20.7 0h1.3m1.7 0h1.3M260 647h1.3m-0.3 0h1.3m7.7 0h1.3m-0.3 0h1.3m-0.3 0h1.3m12.7 0h1.3M257 648h1.3m4.7 0h1.3m0.7 0h1.3m0.7 0h1.3m1.7 0h1.3m3.7 0h1.3m-0.3 0h1.3m3.7 0h1.3m12.7 0h1.3M260 649h1.3m2.7 0h1.3m2.7 0h1.3m-0.3 0h1.3m1.7 0h1.3M261 650h1.3m1.7 0h1.3m8.7 0h1.3M261 651h1.3m2.7 0h1.3m-0.3 0h1.3m9.7 0h1.3M262 652h1.3M256 653h1.3m0.7 0h1.3m2.7 0h1.3m1.7 0h1.3M257 654h1.3m14.7 0h1.3m6.7 0h1.3m2.7 0h1.3M264 655h1.3m1.7 0h1.3m0.7 0h1.3m9.7 0h1.3m3.7 0h1.3m10.7 0h1.3M253 656h1.3m1.7 0h1.3m2.7 0h1.3m3.7 0h1.3m2.7 0h1.3m11.7 0h1.3M249 657h1.3m-0.3 0h1.3m19.7 0h1.3m-0.3 0h1.3m5.7 0h1.3M255 658h1.3m4.7 0h1.3m9.7 0h1.3M246 659h1.3m1.7 0h1.3m0.7 0h1.3m2.7 0h1.3m2.7 0h1.3m-0.3 0h1.3m4.7 0h1.3m0.7 0h1.3m-0.3 0h1.3M250 660h1.3m-0.3 0h1.3m2.7 0h1.3m6.7 0h1.3m4.7 0h1.3m6.7 0h1.3m18.7 0h1.3M249 661h1.3m2.7 0h1.3m18.7 0h1.3M243 662h1.3m-0.3 0h1.3m1.7 0h1.3m3.7 0h1.3m1.7 0h1.3m1.7 0h1.3m1.7 0h1.3m0.7 0h1.3m8.7 0h1.3m4.7 0h1.3M258 663h1.3m2.7 0h1.3M246 664h1.3m-0.3 0h1.3m1.7 0h1.3m1.7 0h1.3m-0.3 0h1.3m10.7 0h1.3M251 665h1.3M241 666h1.3m13.7 0h1.3m1.7 0h1.3m12.7 0h1.3M247 667h1.3m9.7 0h1.3m0.7 0h1.3m0.7 0h1.3M238 668h1.3m1.7 0h1.3m5.7 0h1.3m5.7 0h1.3M249 669h1.3m18.7 0h1.3M235 670h1.3m-0.3 0h1.3m3.7 0h1.3m5.7 0h1.3m0.7 0h1.3m2.7 0h1.3m12.7 0h1.3M240 671h1.3m5.7 0h1.3m-0.3 0h1.3M244 672h1.3m7.7 0h1.3m10.7 0h1.3M233 673h1.3m10.7 0h1.3m8.7 0h1.3M232 674h1.3m5.7 0h1.3m7.7 0h1.3m1.7 0h1.3M231 675h1.3m1.7 0h1.3m2.7 0h1.3m-0.3 0h1.3m3.7 0h1.3m0.7 0h1.3m2.7 0h1.3m1.7 0h1.3M231 676h1.3m3.7 0h1.3m14.7 0h1.3m3.7 0h1.3M230 677h1.3m7.7 0h1.3m8.7 0h1.3m2.7 0h1.3M228 678h1.3m-0.3 0h1.3m7.7 0h1.3m11.7 0h1.3M233 679h1.3m3.7 0h1.3m-0.3 0h1.3m-0.3 0h1.3m8.7 0h1.3m3.7 0h1.3M230 680h1.3m1.7 0h1.3M228 681h1.3m3.7 0h1.3m0.7 0h1.3m9.7 0h1.3M223 682h1.3m1.7 0h1.3m0.7 0h1.3m0.7 0h1.3m-0.3 0h1.3m0.7 0h1.3m8.7 0h1.3m19.7 0h1.3M222 683h1.3m6.7 0h1.3m2.7 0h1.3m-0.3 0h1.3m-0.3 0h1.3m19.7 0h1.3M222 684h1.3m-0.3 0h1.3m6.7 0h1.3m1.7 0h1.3m-0.3 0h1.3m2.7 0h1.3m-0.3 0h1.3m-0.3 0h1.3M220 685h1.3m5.7 0h1.3m10.7 0h1.3m11.7 0h1.3m9.7 0h1.3m8.7 0h1.3M219 686h1.3m-0.3 0h1.3m0.7 0h1.3m-0.3 0h1.3m-0.3 0h1.3m2.7 0h1.3m-0.3 0h1.3m-0.3 0h1.3m2.7 0h1.3m-0.3 0h1.3m2.7 0h1.3m-0.3 0h1.3M218 687h1.3m-0.3 0h1.3m2.7 0h1.3m0.7 0h1.3m-0.3 0h1.3m1.7 0h1.3m-0.3 0h1.3m3.7 0h1.3m-0.3 0h1.3m0.7 0h1.3m-0.3 0h1.3m-0.3 0h1.3m-0.3 0h1.3m3.7 0h1.3m0.7 0h1.3m2.7 0h1.3m19.7 0h1.3M217 688h1.3m-0.3 0h1.3m-0.3 0h1.3m-0.3 0h1.3m-0.3 0h1.3m-0.3 0h1.3m-0.3 0h1.3m-0.3 0h1.3m-0.3 0h1.3m-0.3 0h1.3m0.7 0h1.3m-0.3 0h1.3m-0.3 0h1.3m0.7 0h1.3m-0.3 0h1.3m-0.3 0h1.3m-0.3 0h1.3m-0.3 0h1.3m1.7 0h1.3m1.7 0h1.3m1.7 0h1.3m10.7 0h1.3m8.7 0h1.3m6.7 0h1.3M216 689h1.3m-0.3 0h1.3m0.7 0h1.3m-0.3 0h1.3m-0.3 0h1.3m-0.3 0h1.3m-0.3 0h1.3m-0.3 0h1.3m-0.3 0h1.3m-0.3 0h1.3m-0.3 0h1.3m-0.3 0h1.3m-0.3 0h1.3m-0.3 0h1.3m0.7 0h1.3m0.7 0h1.3m2.7 0h1.3m0.7 0h1.3m1.7 0h1.3m-0.3 0h1.3m-0.3 0h1.3m7.7 0h1.3m-0.3 0h1.3m1.7 0h1.3M215 690h1.3m0.7 0h1.3m-0.3 0h1.3m0.7 0h1.3m1.7 0h1.3m-0.3 0h1.3m-0.3 0h1.3m-0.3 0h1.3m-0.3 0h1.3m-0.3 0h1.3m-0.3 0h1.3m0.7 0h1.3m1.7 0h1.3m-0.3 0h1.3m-0.3 0h1.3m-0.3 0h1.3m-0.3 0h1.3m0.7 0h1.3m0.7 0h1.3m-0.3 0h1.3m5.7 0h1.3m-0.3 0h1.3m0.7 0h1.3m7.7 0h1.3M215 691h1.3m-0.3 0h1.3m0.7 0h1.3m-0.3 0h1.3m-0.3 0h1.3m-0.3 0h1.3m0.7 0h1.3m-0.3 0h1.3m0.7 0h1.3m-0.3 0h1.3m-0.3 0h1.3m-0.3 0h1.3m-0.3 0h1.3m-0.3 0h1.3m-0.3 0h1.3m-0.3 0h1.3m-0.3 0h1.3m-0.3 0h1.3m3.7 0h1.3m-0.3 0h1.3m-0.3 0h1.3m-0.3 0h1.3m-0.3 0h1.3m1.7 0h1.3m15.7 0h1.3M214 692h1.3m0.7 0h1.3m1.7 0h1.3m-0.3 0h1.3m-0.3 0h1.3m0.7 0h1.3m-0.3 0h1.3m0.7 0h1.3m-0.3 0h1.3m0.7 0h1.3m-0.3 0h1.3m-0.3 0h1.3m-0.3 0h1.3m1.7 0h1.3m4.7 0h1.3m-0.3 0h1.3m-0.3 0h1.3m0.7 0h1.3m6.7 0h1.3m0.7 0h1.3m5.7 0h1.3M212 693h1.3m0.7 0h1.3m0.7 0h1.3m-0.3 0h1.3m-0.3 0h1.3m0.7 0h1.3m-0.3 0h1.3m2.7 0h1.3m-0.3 0h1.3m-0.3 0h1.3m-0.3 0h1.3m1.7 0h1.3m0.7 0h1.3m-0.3 0h1.3m1.7 0h1.3m0.7 0h1.3m2.7 0h1.3m0.7 0h1.3m11.7 0h1.3M212 694h1.3m-0.3 0h1.3m-0.3 0h1.3m-0.3 0h1.3m-0.3 0h1.3m-0.3 0h1.3m-0.3 0h1.3m0.7 0h1.3m-0.3 0h1.3m-0.3 0h1.3m-0.3 0h1.3m0.7 0h1.3m0.7 0h1.3m0.7 0h1.3m2.7 0h1.3m1.7 0h1.3m-0.3 0h1.3m1.7 0h1.3m2.7 0h1.3m-0.3 0h1.3m10.7 0h1.3M210 695h1.3m-0.3 0h1.3m-0.3 0h1.3m-0.3 0h1.3m-0.3 0h1.3m-0.3 0h1.3m-0.3 0h1.3m-0.3 0h1.3m1.7 0h1.3m1.7 0h1.3m-0.3 0h1.3m0.7 0h1.3m1.7 0h1.3m1.7 0h1.3m-0.3 0h1.3m1.7 0h1.3m-0.3 0h1.3m19.7 0h1.3M209 696h1.3m-0.3 0h1.3m-0.3 0h1.3m-0.3 0h1.3m-0.3 0h1.3m-0.3 0h1.3m-0.3 0h1.3m-0.3 0h1.3m0.7 0h1.3m-0.3 0h1.3m0.7 0h1.3m2.7 0h1.3m-0.3 0h1.3m-0.3 0h1.3m0.7 0h1.3m-0.3 0h1.3m-0.3 0h1.3m3.7 0h1.3m0.7 0h1.3m-0.3 0h1.3m-0.3 0h1.3m-0.3 0h1.3m13.7 0h1.3M210 697h1.3m-0.3 0h1.3m3.7 0h1.3m-0.3 0h1.3m-0.3 0h1.3m-0.3 0h1.3m1.7 0h1.3m0.7 0h1.3m-0.3 0h1.3m3.7 0h1.3m-0.3 0h1.3m-0.3 0h1.3m0.7 0h1.3m-0.3 0h1.3m2.7 0h1.3m21.7 0h1.3M209 698h1.3m-0.3 0h1.3m-0.3 0h1.3m-0.3 0h1.3m0.7 0h1.3m0.7 0h1.3m-0.3 0h1.3m-0.3 0h1.3m-0.3 0h1.3m-0.3 0h1.3m0.7 0h1.3m1.7 0h1.3m1.7 0h1.3m-0.3 0h1.3m-0.3 0h1.3m-0.3 0h1.3m-0.3 0h1.3m3.7 0h1.3m-0.3 0h1.3m19.7 0h1.3M206 699h1.3m-0.3 0h1.3m-0.3 0h1.3m-0.3 0h1.3m-0.3 0h1.3m-0.3 0h1.3m-0.3 0h1.3m-0.3 0h1.3m-0.3 0h1.3m-0.3 0h1.3m-0.3 0h1.3m1.7 0h1.3m1.7 0h1.3m1.7 0h1.3m2.7 0h1.3m0.7 0h1.3m7.7 0h1.3m0.7 0h1.3m0.7 0h1.3m-0.3 0h1.3m2.7 0h1.3m4.7 0h1.3m2.7 0h1.3M205 700h1.3m-0.3 0h1.3m-0.3 0h1.3m3.7 0h1.3m-0.3 0h1.3m1.7 0h1.3m0.7 0h1.3m-0.3 0h1.3m-0.3 0h1.3m-0.3 0h1.3m1.7 0h1.3m1.7 0h1.3m2.7 0h1.3m16.7 0h1.3M205 701h1.3m-0.3 0h1.3m-0.3 0h1.3m-0.3 0h1.3m-0.3 0h1.3m0.7 0h1.3m-0.3 0h1.3m0.7 0h1.3m-0.3 0h1.3m0.7 0h1.3m-0.3 0h1.3m0.7 0h1.3m0.7 0h1.3m6.7 0h1.3m2.7 0h1.3m0.7 0h1.3m3.7 0h1.3m11.7 0h1.3M203 702h1.3m0.7 0h1.3m-0.3 0h1.3m-0.3 0h1.3m0.7 0h1.3m1.7 0h1.3m-0.3 0h1.3m0.7 0h1.3m-0.3 0h1.3m0.7 0h1.3m1.7 0h1.3m-0.3 0h1.3m0.7 0h1.3m0.7 0h1.3m4.7 0h1.3m0.7 0h1.3m4.7 0h1.3M204 703h1.3m-0.3 0h1.3m-0.3 0h1.3m-0.3 0h1.3m0.7 0h1.3m0.7 0h1.3m-0.3 0h1.3m0.7 0h1.3m-0.3 0h1.3m-0.3 0h1.3m0.7 0h1.3m1.7 0h1.3m0.7 0h1.3m-0.3 0h1.3m-0.3 0h1.3m0.7 0h1.3m1.7 0h1.3m1.7 0h1.3m19.7 0h1.3M201 704h1.3m-0.3 0h1.3m-0.3 0h1.3m-0.3 0h1.3m-0.3 0h1.3m1.7 0h1.3m-0.3 0h1.3m-0.3 0h1.3m1.7 0h1.3m-0.3 0h1.3m0.7 0h1.3m5.7 0h1.3m1.7 0h1.3m1.7 0h1.3M201 705h1.3m0.7 0h1.3m0.7 0h1.3m0.7 0h1.3m-0.3 0h1.3m-0.3 0h1.3m0.7 0h1.3m1.7 0h1.3m-0.3 0h1.3m-0.3 0h1.3m-0.3 0h1.3m-0.3 0h1.3m-0.3 0h1.3m1.7 0h1.3m1.7 0h1.3m-0.3 0h1.3m9.7 0h1.3m2.7 0h1.3M202 706h1.3m-0.3 0h1.3m0.7 0h1.3m-0.3 0h1.3m1.7 0h1.3m-0.3 0h1.3m-0.3 0h1.3m-0.3 0h1.3m-0.3 0h1.3m1.7 0h1.3m1.7 0h1.3m3.7 0h1.3m-0.3 0h1.3m-0.3 0h1.3m0.7 0h1.3m0.7 0h1.3m1.7 0h1.3m-0.3 0h1.3m6.7 0h1.3M199 707h1.3m-0.3 0h1.3m-0.3 0h1.3m3.7 0h1.3m-0.3 0h1.3m0.7 0h1.3m1.7 0h1.3m-0.3 0h1.3m-0.3 0h1.3m-0.3 0h1.3m1.7 0h1.3m-0.3 0h1.3m1.7 0h1.3m-0.3 0h1.3m7.7 0h1.3m2.7 0h1.3M201 708h1.3m0.7 0h1.3m-0.3 0h1.3m-0.3 0h1.3m0.7 0h1.3m0.7 0h1.3m-0.3 0h1.3m3.7 0h1.3m3.7 0h1.3m-0.3 0h1.3m0.7 0h1.3m2.7 0h1.3m1.7 0h1.3m1.7 0h1.3m0.7 0h1.3m0.7 0h1.3M198 709h1.3m-0.3 0h1.3m-0.3 0h1.3m-0.3 0h1.3m-0.3 0h1.3m-0.3 0h1.3m0.7 0h1.3m-0.3 0h1.3m-0.3 0h1.3m-0.3 0h1.3m-0.3 0h1.3m-0.3 0h1.3m6.7 0h1.3m-0.3 0h1.3m3.7 0h1.3m0.7 0h1.3m0.7 0h1.3m0.7 0h1.3M196 710h1.3m-0.3 0h1.3m-0.3 0h1.3m-0.3 0h1.3m-0.3 0h1.3m0.7 0h1.3m-0.3 0h1.3m-0.3 0h1.3m-0.3 0h1.3m1.7 0h1.3m-0.3 0h1.3m1.7 0h1.3m2.7 0h1.3m2.7 0h1.3m-0.3 0h1.3m1.7 0h1.3m1.7 0h1.3m1.7 0h1.3m1.7 0h1.3M198 711h1.3m0.7 0h1.3m-0.3 0h1.3m-0.3 0h1.3m0.7 0h1.3m-0.3 0h1.3m-0.3 0h1.3m-0.3 0h1.3m-0.3 0h1.3m0.7 0h1.3m2.7 0h1.3m0.7 0h1.3m3.7 0h1.3m-0.3 0h1.3M196 712h1.3m-0.3 0h1.3m-0.3 0h1.3m-0.3 0h1.3m-0.3 0h1.3m0.7 0h1.3m-0.3 0h1.3m1.7 0h1.3m-0.3 0h1.3m-0.3 0h1.3m3.7 0h1.3m0.7 0h1.3m0.7 0h1.3m9.7 0h1.3m3.7 0h1.3m13.7 0h1.3M196 713h1.3m-0.3 0h1.3m-0.3 0h1.3m-0.3 0h1.3m-0.3 0h1.3m-0.3 0h1.3m-0.3 0h1.3m0.7 0h1.3m-0.3 0h1.3m-0.3 0h1.3m-0.3 0h1.3m0.7 0h1.3m1.7 0h1.3m0.7 0h1.3m0.7 0h1.3m-0.3 0h1.3m-0.3 0h1.3m2.7 0h1.3M195 714h1.3m-0.3 0h1.3m-0.3 0h1.3m-0.3 0h1.3m-0.3 0h1.3m-0.3 0h1.3m-0.3 0h1.3m-0.3 0h1.3m-0.3 0h1.3m-0.3 0h1.3m-0.3 0h1.3m-0.3 0h1.3m-0.3 0h1.3m1.7 0h1.3m6.7 0h1.3m-0.3 0h1.3m11.7 0h1.3M194 715h1.3m-0.3 0h1.3m-0.3 0h1.3m-0.3 0h1.3m-0.3 0h1.3m0.7 0h1.3m-0.3 0h1.3m1.7 0h1.3m-0.3 0h1.3m1.7 0h1.3m1.7 0h1.3m3.7 0h1.3m-0.3 0h1.3m-0.3 0h1.3M195 716h1.3m0.7 0h1.3m0.7 0h1.3m0.7 0h1.3m-0.3 0h1.3m-0.3 0h1.3m-0.3 0h1.3m-0.3 0h1.3m-0.3 0h1.3m1.7 0h1.3m-0.3 0h1.3m-0.3 0h1.3m1.7 0h1.3m0.7 0h1.3m0.7 0h1.3m0.7 0h1.3m0.7 0h1.3m0.7 0h1.3m1.7 0h1.3m0.7 0h1.3m5.7 0h1.3M194 717h1.3m-0.3 0h1.3m-0.3 0h1.3m-0.3 0h1.3m-0.3 0h1.3m-0.3 0h1.3m-0.3 0h1.3m2.7 0h1.3m-0.3 0h1.3m0.7 0h1.3m2.7 0h1.3m-0.3 0h1.3m-0.3 0h1.3m-0.3 0h1.3m-0.3 0h1.3m-0.3 0h1.3m1.7 0h1.3M194 718h1.3m-0.3 0h1.3m-0.3 0h1.3m0.7 0h1.3m-0.3 0h1.3m1.7 0h1.3m-0.3 0h1.3m-0.3 0h1.3m-0.3 0h1.3m-0.3 0h1.3m-0.3 0h1.3m-0.3 0h1.3m2.7 0h1.3m0.7 0h1.3m2.7 0h1.3M192 719h1.3m-0.3 0h1.3m-0.3 0h1.3m-0.3 0h1.3m0.7 0h1.3m-0.3 0h1.3m-0.3 0h1.3m-0.3 0h1.3m0.7 0h1.3m-0.3 0h1.3m0.7 0h1.3m-0.3 0h1.3m0.7 0h1.3m-0.3 0h1.3m-0.3 0h1.3m13.7 0h1.3m0.7 0h1.3M192 720h1.3m-0.3 0h1.3m0.7 0h1.3m-0.3 0h1.3m-0.3 0h1.3m-0.3 0h1.3m-0.3 0h1.3m-0.3 0h1.3m-0.3 0h1.3m-0.3 0h1.3m-0.3 0h1.3m0.7 0h1.3m1.7 0h1.3m-0.3 0h1.3m-0.3 0h1.3m0.7 0h1.3m-0.3 0h1.3m0.7 0h1.3m-0.3 0h1.3m-0.3 0h1.3M192 721h1.3m1.7 0h1.3m-0.3 0h1.3m-0.3 0h1.3m0.7 0h1.3m-0.3 0h1.3m-0.3 0h1.3m-0.3 0h1.3m0.7 0h1.3m-0.3 0h1.3m0.7 0h1.3m0.7 0h1.3m-0.3 0h1.3m2.7 0h1.3m-0.3 0h1.3m2.7 0h1.3M192 722h1.3m-0.3 0h1.3m1.7 0h1.3m-0.3 0h1.3m-0.3 0h1.3m-0.3 0h1.3m-0.3 0h1.3m-0.3 0h1.3m0.7 0h1.3m0.7 0h1.3m-0.3 0h1.3m-0.3 0h1.3m5.7 0h1.3m4.7 0h1.3M191 723h1.3m-0.3 0h1.3m-0.3 0h1.3m0.7 0h1.3m-0.3 0h1.3m-0.3 0h1.3m1.7 0h1.3m-0.3 0h1.3m-0.3 0h1.3m-0.3 0h1.3m0.7 0h1.3m-0.3 0h1.3m1.7 0h1.3m3.7 0h1.3m4.7 0h1.3M191 724h1.3m1.7 0h1.3m-0.3 0h1.3m-0.3 0h1.3m-0.3 0h1.3m-0.3 0h1.3m-0.3 0h1.3m-0.3 0h1.3m1.7 0h1.3m-0.3 0h1.3m-0.3 0h1.3m-0.3 0h1.3m0.7 0h1.3m-0.3 0h1.3m-0.3 0h1.3m0.7 0h1.3m-0.3 0h1.3m-0.3 0h1.3M189 725h1.3m-0.3 0h1.3m-0.3 0h1.3m-0.3 0h1.3m-0.3 0h1.3m0.7 0h1.3m0.7 0h1.3m-0.3 0h1.3m3.7 0h1.3m1.7 0h1.3m2.7 0h1.3m1.7 0h1.3M189 726h1.3m1.7 0h1.3m-0.3 0h1.3m-0.3 0h1.3m-0.3 0h1.3m-0.3 0h1.3m-0.3 0h1.3m0.7 0h1.3m-0.3 0h1.3m-0.3 0h1.3m-0.3 0h1.3m-0.3 0h1.3m-0.3 0h1.3m1.7 0h1.3m-0.3 0h1.3m-0.3 0h1.3m0.7 0h1.3m3.7 0h1.3m2.7 0h1.3M189 727h1.3m-0.3 0h1.3m-0.3 0h1.3m-0.3 0h1.3m-0.3 0h1.3m-0.3 0h1.3m-0.3 0h1.3m-0.3 0h1.3m-0.3 0h1.3m-0.3 0h1.3m-0.3 0h1.3m-0.3 0h1.3m-0.3 0h1.3m0.7 0h1.3m-0.3 0h1.3m-0.3 0h1.3m-0.3 0h1.3m-0.3 0h1.3m-0.3 0h1.3m-0.3 0h1.3m-0.3 0h1.3m-0.3 0h1.3m0.7 0h1.3m-0.3 0h1.3m3.7 0h1.3M188 728h1.3m-0.3 0h1.3m-0.3 0h1.3m-0.3 0h1.3m-0.3 0h1.3m-0.3 0h1.3m-0.3 0h1.3m-0.3 0h1.3m-0.3 0h1.3m-0.3 0h1.3m-0.3 0h1.3m-0.3 0h1.3m-0.3 0h1.3m-0.3 0h1.3m-0.3 0h1.3m-0.3 0h1.3m-0.3 0h1.3m-0.3 0h1.3m3.7 0h1.3m1.7 0h1.3m3.7 0h1.3m3.7 0h1.3M188 729h1.3m-0.3 0h1.3m-0.3 0h1.3m-0.3 0h1.3m-0.3 0h1.3m-0.3 0h1.3m-0.3 0h1.3m-0.3 0h1.3m-0.3 0h1.3m-0.3 0h1.3m1.7 0h1.3m1.7 0h1.3m-0.3 0h1.3m-0.3 0h1.3m-0.3 0h1.3m0.7 0h1.3m-0.3 0h1.3m-0.3 0h1.3m1.7 0h1.3m5.7 0h1.3M188 730h1.3m-0.3 0h1.3m-0.3 0h1.3m0.7 0h1.3m-0.3 0h1.3m-0.3 0h1.3m-0.3 0h1.3m-0.3 0h1.3m-0.3 0h1.3m0.7 0h1.3m2.7 0h1.3m-0.3 0h1.3m0.7 0h1.3m-0.3 0h1.3m-0.3 0h1.3m-0.3 0h1.3m0.7 0h1.3m1.7 0h1.3M187 731h1.3m-0.3 0h1.3m-0.3 0h1.3m-0.3 0h1.3m-0.3 0h1.3m-0.3 0h1.3m-0.3 0h1.3m-0.3 0h1.3m-0.3 0h1.3m-0.3 0h1.3m-0.3 0h1.3m-0.3 0h1.3m-0.3 0h1.3m-0.3 0h1.3m0.7 0h1.3m-0.3 0h1.3m0.7 0h1.3m-0.3 0h1.3m0.7 0h1.3M186 732h1.3m-0.3 0h1.3m0.7 0h1.3m-0.3 0h1.3m-0.3 0h1.3m-0.3 0h1.3m-0.3 0h1.3m-0.3 0h1.3m-0.3 0h1.3m-0.3 0h1.3m-0.3 0h1.3m-0.3 0h1.3m-0.3 0h1.3m-0.3 0h1.3m-0.3 0h1.3m-0.3 0h1.3m-0.3 0h1.3m-0.3 0h1.3m2.7 0h1.3m2.7 0h1.3m-0.3 0h1.3m0.7 0h1.3M186 733h1.3m-0.3 0h1.3m-0.3 0h1.3m-0.3 0h1.3m-0.3 0h1.3m0.7 0h1.3m-0.3 0h1.3m-0.3 0h1.3m-0.3 0h1.3m-0.3 0h1.3m-0.3 0h1.3m-0.3 0h1.3m-0.3 0h1.3m0.7 0h1.3m-0.3 0h1.3m3.7 0h1.3m3.7 0h1.3M186 734h1.3m-0.3 0h1.3m-0.3 0h1.3m-0.3 0h1.3m-0.3 0h1.3m-0.3 0h1.3m-0.3 0h1.3m-0.3 0h1.3m-0.3 0h1.3m-0.3 0h1.3m-0.3 0h1.3m0.7 0h1.3m0.7 0h1.3m-0.3 0h1.3m1.7 0h1.3m-0.3 0h1.3M185 735h1.3m-0.3 0h1.3m-0.3 0h1.3m-0.3 0h1.3m-0.3 0h1.3m-0.3 0h1.3m-0.3 0h1.3m-0.3 0h1.3m-0.3 0h1.3m-0.3 0h1.3m0.7 0h1.3m0.7 0h1.3m-0.3 0h1.3m-0.3 0h1.3m-0.3 0h1.3m-0.3 0h1.3m0.7 0h1.3M185 736h1.3m-0.3 0h1.3m-0.3 0h1.3m0.7 0h1.3m0.7 0h1.3m-0.3 0h1.3m-0.3 0h1.3m-0.3 0h1.3m-0.3 0h1.3m0.7 0h1.3m-0.3 0h1.3m0.7 0h1.3m1.7 0h1.3m-0.3 0h1.3m-0.3 0h1.3m-0.3 0h1.3M184 737h1.3m-0.3 0h1.3m-0.3 0h1.3m-0.3 0h1.3m-0.3 0h1.3m-0.3 0h1.3m-0.3 0h1.3m-0.3 0h1.3m0.7 0h1.3m2.7 0h1.3m-0.3 0h1.3m-0.3 0h1.3m-0.3 0h1.3m0.7 0h1.3m4.7 0h1.3M184 738h1.3m-0.3 0h1.3m-0.3 0h1.3m-0.3 0h1.3m-0.3 0h1.3m-0.3 0h1.3m-0.3 0h1.3m0.7 0h1.3m-0.3 0h1.3m-0.3 0h1.3m-0.3 0h1.3m-0.3 0h1.3m1.7 0h1.3m-0.3 0h1.3m-0.3 0h1.3m2.7 0h1.3m-0.3 0h1.3M183 739h1.3m-0.3 0h1.3m-0.3 0h1.3m-0.3 0h1.3m-0.3 0h1.3m-0.3 0h1.3m-0.3 0h1.3m-0.3 0h1.3m-0.3 0h1.3m-0.3 0h1.3m-0.3 0h1.3m0.7 0h1.3m0.7 0h1.3m-0.3 0h1.3m-0.3 0h1.3m-0.3 0h1.3m1.7 0h1.3m0.7 0h1.3m10.7 0h1.3M183 740h1.3m-0.3 0h1.3m-0.3 0h1.3m-0.3 0h1.3m-0.3 0h1.3m-0.3 0h1.3m-0.3 0h1.3m-0.3 0h1.3m-0.3 0h1.3m-0.3 0h1.3m-0.3 0h1.3m-0.3 0h1.3m-0.3 0h1.3m-0.3 0h1.3m-0.3 0h1.3m-0.3 0h1.3m0.7 0h1.3m1.7 0h1.3m-0.3 0h1.3M182 741h1.3m-0.3 0h1.3m-0.3 0h1.3m-0.3 0h1.3m-0.3 0h1.3m-0.3 0h1.3m-0.3 0h1.3m-0.3 0h1.3m-0.3 0h1.3m-0.3 0h1.3m-0.3 0h1.3m-0.3 0h1.3m-0.3 0h1.3m-0.3 0h1.3m1.7 0h1.3m-0.3 0h1.3m5.7 0h1.3M182 742h1.3m-0.3 0h1.3m-0.3 0h1.3m-0.3 0h1.3m-0.3 0h1.3m-0.3 0h1.3m-0.3 0h1.3m-0.3 0h1.3m-0.3 0h1.3m-0.3 0h1.3m-0.3 0h1.3m-0.3 0h1.3m-0.3 0h1.3m0.7 0h1.3m-0.3 0h1.3m-0.3 0h1.3M183 743h1.3m-0.3 0h1.3m-0.3 0h1.3m-0.3 0h1.3m-0.3 0h1.3m-0.3 0h1.3m-0.3 0h1.3m-0.3 0h1.3m-0.3 0h1.3m0.7 0h1.3m0.7 0h1.3m0.7 0h1.3m5.7 0h1.3M181 744h1.3m-0.3 0h1.3m-0.3 0h1.3m-0.3 0h1.3m-0.3 0h1.3m-0.3 0h1.3m-0.3 0h1.3m-0.3 0h1.3m0.7 0h1.3m-0.3 0h1.3m-0.3 0h1.3m-0.3 0h1.3m0.7 0h1.3m-0.3 0h1.3M181 745h1.3m-0.3 0h1.3m-0.3 0h1.3m-0.3 0h1.3m-0.3 0h1.3m-0.3 0h1.3m-0.3 0h1.3m-0.3 0h1.3m-0.3 0h1.3m-0.3 0h1.3m-0.3 0h1.3m-0.3 0h1.3m-0.3 0h1.3m-0.3 0h1.3M180 746h1.3m-0.3 0h1.3m-0.3 0h1.3m-0.3 0h1.3m-0.3 0h1.3m-0.3 0h1.3m-0.3 0h1.3m-0.3 0h1.3m-0.3 0h1.3m-0.3 0h1.3m2.7 0h1.3m-0.3 0h1.3m2.7 0h1.3m0.7 0h1.3M180 747h1.3m-0.3 0h1.3m-0.3 0h1.3m-0.3 0h1.3m-0.3 0h1.3m-0.3 0h1.3m-0.3 0h1.3m-0.3 0h1.3m0.7 0h1.3m-0.3 0h1.3m-0.3 0h1.3m-0.3 0h1.3m0.7 0h1.3m1.7 0h1.3M179 748h1.3m-0.3 0h1.3m-0.3 0h1.3m-0.3 0h1.3m-0.3 0h1.3m-0.3 0h1.3m-0.3 0h1.3m-0.3 0h1.3m-0.3 0h1.3m-0.3 0h1.3m-0.3 0h1.3m1.7 0h1.3M179 749h1.3m-0.3 0h1.3m-0.3 0h1.3m-0.3 0h1.3m0.7 0h1.3m-0.3 0h1.3m-0.3 0h1.3m4.7 0h1.3M178 750h1.3m-0.3 0h1.3m-0.3 0h1.3m-0.3 0h1.3m-0.3 0h1.3m-0.3 0h1.3m-0.3 0h1.3m-0.3 0h1.3m-0.3 0h1.3m-0.3 0h1.3m-0.3 0h1.3m0.7 0h1.3"/>
<path stroke="#8ab8f6" stroke-width="1.2" d="M279 641h1.2M274 642h1.2m8.8 0h1.2m1.8 0h1.2M263 643h1.2m8.8 0h1.2m41.8 0h1.2M266 644h1.2m1.8 0h1.2m6.8 0h1.2M263 645h1.2M267 647h1.2m9.8 0h1.2m6.8 0h1.2m2.8 0h1.2m5.8 0h1.2M260 648h1.2m2.8 0h1.2m25.8 0h1.2m4.8 0h1.2M308 649h1.2M257 650h1.2m11.8 0h1.2m20.8 0h1.2m1.8 0h1.2M258 651h1.2m3.8 0h1.2m1.8 0h1.2m-0.2 0h1.2m9.8 0h1.2m-0.2 0h1.2m12.8 0h1.2M261 652h1.2M264 653h1.2m1.8 0h1.2m32.8 0h1.2M278 654h1.2M262 656h1.2m0.8 0h1.2m1.8 0h1.2m8.8 0h1.2M266 657h1.2m-0.2 0h1.2m0.8 0h1.2m14.8 0h1.2m15.8 0h1.2M268 658h1.2m2.8 0h1.2m1.8 0h1.2M254 660h1.2m0.8 0h1.2m5.8 0h1.2m11.8 0h1.2m5.8 0h1.2m8.8 0h1.2M266 661h1.2M248 662h1.2m14.8 0h1.2m2.8 0h1.2M257 663h1.2m36.8 0h1.2M267 664h1.2m4.8 0h1.2M241 665h1.2m31.8 0h1.2M243 666h1.2m27.8 0h1.2M244 667h1.2m1.8 0h1.2m-0.2 0h1.2m15.8 0h1.2m1.8 0h1.2M237 668h1.2m5.8 0h1.2M237 669h1.2m6.8 0h1.2m-0.2 0h1.2m5.8 0h1.2m7.8 0h1.2m7.8 0h1.2M246 670h1.2M239 671h1.2m5.8 0h1.2m23.8 0h1.2M235 672h1.2m38.8 0h1.2M233 673h1.2m14.8 0h1.2m5.8 0h1.2m17.8 0h1.2M247 674h1.2m24.8 0h1.2M233 675h1.2m23.8 0h1.2M229 676h1.2m32.8 0h1.2M237 677h1.2m7.8 0h1.2m4.8 0h1.2M240 678h1.2m1.8 0h1.2m1.8 0h1.2m7.8 0h1.2m0.8 0h1.2m17.8 0h1.2M230 679h1.2m24.8 0h1.2m10.8 0h1.2M235 680h1.2m-0.2 0h1.2m19.8 0h1.2M227 681h1.2m10.8 0h1.2m8.8 0h1.2m21.8 0h1.2M258 682h1.2M233 683h1.2M224 684h1.2m1.8 0h1.2m2.8 0h1.2M226 685h1.2m16.8 0h1.2M221 686h1.2M233 687h1.2M225 688h1.2m-0.2 0h1.2m9.8 0h1.2m10.8 0h1.2m1.8 0h1.2M223 689h1.2M231 690h1.2m2.8 0h1.2m2.8 0h1.2M223 691h1.2m2.8 0h1.2m15.8 0h1.2M221 692h1.2m-0.2 0h1.2m0.8 0h1.2m17.8 0h1.2M236 693h1.2M233 694h1.2m2.8 0h1.2M212 695h1.2m9.8 0h1.2M223 696h1.2m-0.2 0h1.2M216 697h1.2m2.8 0h1.2m5.8 0h1.2M238 698h1.2M230 699h1.2m9.8 0h1.2M206 700h1.2m26.8 0h1.2m3.8 0h1.2m18.8 0h1.2M228 701h1.2m12.8 0h1.2m10.8 0h1.2M204 702h1.2m31.8 0h1.2M212 703h1.2M207 704h1.2m3.8 0h1.2m2.8 0h1.2M202 705h1.2m3.8 0h1.2m2.8 0h1.2m15.8 0h1.2m5.8 0h1.2M210 706h1.2m2.8 0h1.2M200 707h1.2m21.8 0h1.2M210 708h1.2m0.8 0h1.2m3.8 0h1.2m0.8 0h1.2M206 709h1.2M197 710h1.2m2.8 0h1.2m-0.2 0h1.2m-0.2 0h1.2m1.8 0h1.2m-0.2 0h1.2m9.8 0h1.2m-0.2 0h1.2m0.8 0h1.2M197 711h1.2m1.8 0h1.2M207 712h1.2M198 713h1.2m5.8 0h1.2m-0.2 0h1.2m10.8 0h1.2m6.8 0h1.2M206 714h1.2m2.8 0h1.2M202 715h1.2m17.8 0h1.2m-0.2 0h1.2M198 716h1.2M195 717h1.2m1.8 0h1.2m4.8 0h1.2m1.8 0h1.2m12.8 0h1.2M193 718h1.2m5.8 0h1.2m8.8 0h1.2M215 719h1.2M193 721h1.2m9.8 0h1.2M195 722h1.2m-0.2 0h1.2m20.8 0h1.2M204 723h1.2m-0.2 0h1.2m0.8 0h1.2M193 724h1.2m14.8 0h1.2M190 725h1.2M200 726h1.2m10.8 0h1.2M189 727h1.2m12.8 0h1.2M199 728h1.2M189 729h1.2m6.8 0h1.2m16.8 0h1.2M188 730h1.2m1.8 0h1.2M192 731h1.2M186 732h1.2m3.8 0h1.2M186 733h1.2m4.8 0h1.2m-0.2 0h1.2m8.8 0h1.2m10.8 0h1.2M205 734h1.2M189 735h1.2m1.8 0h1.2m4.8 0h1.2M185 736h1.2m16.8 0h1.2M188 737h1.2m3.8 0h1.2M194 738h1.2M186 739h1.2m2.8 0h1.2m5.8 0h1.2M189 740h1.2"/>
<path stroke="#3a1a50" stroke-width="1.2" d="M183 743h1.2m0.8 0h1.2M186 746h1.2M168 747h1.2m7.8 0h1.2m1.8 0h1.2m11.8 0h1.2M181 748h1.2m3.8 0h1.2M171 749h1.2m-0.2 0h1.2m3.8 0h1.2m4.8 0h1.2m2.8 0h1.2m-0.2 0h1.2m0.8 0h1.2M179 750h1.2m2.8 0h1.2m1.8 0h1.2m-0.2 0h1.2M171 751h1.2m2.8 0h1.2m-0.2 0h1.2m0.8 0h1.2m1.8 0h1.2m2.8 0h1.2m-0.2 0h1.2M173 752h1.2m-0.2 0h1.2m0.8 0h1.2m2.8 0h1.2m-0.2 0h1.2m-0.2 0h1.2m-0.2 0h1.2m0.8 0h1.2M174 753h1.2m0.8 0h1.2m0.8 0h1.2m0.8 0h1.2m0.8 0h1.2m-0.2 0h1.2m-0.2 0h1.2m-0.2 0h1.2m5.8 0h1.2M176 754h1.2m3.8 0h1.2m0.8 0h1.2m1.8 0h1.2m-0.2 0h1.2m2.8 0h1.2M175 755h1.2m-0.2 0h1.2m0.8 0h1.2m-0.2 0h1.2m-0.2 0h1.2m-0.2 0h1.2m0.8 0h1.2m-0.2 0h1.2m-0.2 0h1.2m-0.2 0h1.2m-0.2 0h1.2m-0.2 0h1.2m2.8 0h1.2M176 756h1.2m1.8 0h1.2m-0.2 0h1.2m1.8 0h1.2m-0.2 0h1.2m0.8 0h1.2m-0.2 0h1.2m-0.2 0h1.2m-0.2 0h1.2m-0.2 0h1.2m4.8 0h1.2M176 757h1.2m-0.2 0h1.2m3.8 0h1.2m-0.2 0h1.2m-0.2 0h1.2m3.8 0h1.2M174 758h1.2m-0.2 0h1.2m1.8 0h1.2m-0.2 0h1.2m0.8 0h1.2m-0.2 0h1.2m-0.2 0h1.2m-0.2 0h1.2m-0.2 0h1.2m0.8 0h1.2m-0.2 0h1.2m-0.2 0h1.2m-0.2 0h1.2m0.8 0h1.2m1.8 0h1.2M166 759h1.2m5.8 0h1.2m0.8 0h1.2m-0.2 0h1.2m-0.2 0h1.2m-0.2 0h1.2m7.8 0h1.2m4.8 0h1.2M171 760h1.2m4.8 0h1.2m1.8 0h1.2m-0.2 0h1.2m-0.2 0h1.2m2.8 0h1.2m1.8 0h1.2m0.8 0h1.2M174 761h1.2m0.8 0h1.2m-0.2 0h1.2m3.8 0h1.2m1.8 0h1.2m1.8 0h1.2m-0.2 0h1.2m8.8 0h1.2M175 762h1.2m6.8 0h1.2m-0.2 0h1.2m-0.2 0h1.2m3.8 0h1.2m3.8 0h1.2M178 763h1.2m0.8 0h1.2m0.8 0h1.2m3.8 0h1.2M174 764h1.2m2.8 0h1.2m0.8 0h1.2m3.8 0h1.2m1.8 0h1.2M192 765h1.2M170 766h1.2m13.8 0h1.2M183 769h1.2"/></g>
<g transform="translate(0.25 0.5)" fill="none"><path stroke="#111" stroke-width="1.4" d="M471 634h1.4m7.6 0h1.4m49.6 0h1.4m3.6 0h1.4M459 635h1.4m-0.4 0h1.4m6.6 0h1.4m21.6 0h1.4m-0.4 0h1.4m-0.4 0h1.4m8.6 0h1.4m1.6 0h1.4M470 636h1.4m7.6 0h1.4m1.6 0h1.4m-0.4 0h1.4m-0.4 0h1.4m1.6 0h1.4m-0.4 0h1.4m13.6 0h1.4m3.6 0h1.4m5.6 0h1.4m19.6 0h1.4m1.6 0h1.4m9.6 0h1.4M472 637h1.4m5.6 0h1.4m6.6 0h1.4m14.6 0h1.4m-0.4 0h1.4m37.6 0h1.4M452 638h1.4m27.6 0h1.4m3.6 0h1.4m8.6 0h1.4m16.6 0h1.4M464 639h1.4m11.6 0h1.4m9.6 0h1.4m-0.4 0h1.4m12.6 0h1.4m9.6 0h1.4m2.6 0h1.4m10.6 0h1.4m2.6 0h1.4M451 640h1.4m0.6 0h1.4m8.6 0h1.4m7.6 0h1.4m8.6 0h1.4m5.6 0h1.4m1.6 0h1.4m9.6 0h1.4m8.6 0h1.4m5.6 0h1.4m-0.4 0h1.4M460 641h1.4m9.6 0h1.4m2.6 0h1.4m-0.4 0h1.4m24.6 0h1.4m3.6 0h1.4m5.6 0h1.4m0.6 0h1.4m14.6 0h1.4m0.6 0h1.4M489 642h1.4m11.6 0h1.4m2.6 0h1.4m-0.4 0h1.4m0.6 0h1.4M470 643h1.4m1.6 0h1.4m3.6 0h1.4m3.6 0h1.4m1.6 0h1.4m5.6 0h1.4m7.6 0h1.4m10.6 0h1.4m1.6 0h1.4M459 644h1.4m11.6 0h1.4m0.6 0h1.4m8.6 0h1.4m3.6 0h1.4m5.6 0h1.4m17.6 0h1.4m0.6 0h1.4M453 645h1.4m5.6 0h1.4m7.6 0h1.4m4.6 0h1.4m3.6 0h1.4m2.6 0h1.4m0.6 0h1.4m40.6 0h1.4m11.6 0h1.4M471 646h1.4m10.6 0h1.4m0.6 0h1.4m0.6 0h1.4m3.6 0h1.4m14.6 0h1.4m14.6 0h1.4m19.6 0h1.4M452 647h1.4m22.6 0h1.4m6.6 0h1.4m12.6 0h1.4m5.6 0h1.4m5.6 0h1.4m-0.4 0h1.4m2.6 0h1.4m4.6 0h1.4m21.6 0h1.4m-0.4 0h1.4m1.6 0h1.4m5.6 0h1.4M483 648h1.4m12.6 0h1.4m15.6 0h1.4m6.6 0h1.4m7.6 0h1.4M454 649h1.4m4.6 0h1.4m4.6 0h1.4m3.6 0h1.4m1.6 0h1.4m4.6 0h1.4m8.6 0h1.4m2.6 0h1.4m0.6 0h1.4m6.6 0h1.4m0.6 0h1.4m3.6 0h1.4m6.6 0h1.4m1.6 0h1.4m12.6 0h1.4M462 650h1.4m10.6 0h1.4m4.6 0h1.4m4.6 0h1.4m3.6 0h1.4m8.6 0h1.4m6.6 0h1.4m7.6 0h1.4m19.6 0h1.4M472 651h1.4m8.6 0h1.4m6.6 0h1.4m-0.4 0h1.4m3.6 0h1.4m-0.4 0h1.4m0.6 0h1.4m3.6 0h1.4m-0.4 0h1.4m1.6 0h1.4m25.6 0h1.4M450 652h1.4m30.6 0h1.4m-0.4 0h1.4m7.6 0h1.4m0.6 0h1.4m1.6 0h1.4m1.6 0h1.4m-0.4 0h1.4m3.6 0h1.4m7.6 0h1.4m3.6 0h1.4M481 653h1.4m16.6 0h1.4m10.6 0h1.4m1.6 0h1.4m1.6 0h1.4m3.6 0h1.4m13.6 0h1.4M466 654h1.4m-0.4 0h1.4m10.6 0h1.4m8.6 0h1.4m5.6 0h1.4m0.6 0h1.4m-0.4 0h1.4m1.6 0h1.4m13.6 0h1.4m5.6 0h1.4M452 655h1.4m7.6 0h1.4m15.6 0h1.4m5.6 0h1.4m4.6 0h1.4m7.6 0h1.4m3.6 0h1.4m2.6 0h1.4m11.6 0h1.4m4.6 0h1.4m2.6 0h1.4M470 656h1.4m9.6 0h1.4m2.6 0h1.4m10.6 0h1.4m-0.4 0h1.4m14.6 0h1.4m7.6 0h1.4m2.6 0h1.4m6.6 0h1.4M503 657h1.4m21.6 0h1.4m1.6 0h1.4m7.6 0h1.4M463 658h1.4m5.6 0h1.4m28.6 0h1.4m13.6 0h1.4m1.6 0h1.4m9.6 0h1.4m4.6 0h1.4m9.6 0h1.4M449 659h1.4m17.6 0h1.4m7.6 0h1.4m2.6 0h1.4m8.6 0h1.4m0.6 0h1.4m7.6 0h1.4m3.6 0h1.4m1.6 0h1.4m24.6 0h1.4M449 660h1.4m31.6 0h1.4m8.6 0h1.4m-0.4 0h1.4m1.6 0h1.4m1.6 0h1.4m9.6 0h1.4m8.6 0h1.4M466 661h1.4m1.6 0h1.4m18.6 0h1.4m-0.4 0h1.4m8.6 0h1.4m0.6 0h1.4m12.6 0h1.4m0.6 0h1.4m4.6 0h1.4M469 662h1.4m1.6 0h1.4m-0.4 0h1.4m18.6 0h1.4m24.6 0h1.4m1.6 0h1.4m21.6 0h1.4M483 663h1.4m-0.4 0h1.4m3.6 0h1.4m3.6 0h1.4m0.6 0h1.4m0.6 0h1.4m1.6 0h1.4m12.6 0h1.4m-0.4 0h1.4m2.6 0h1.4m11.6 0h1.4M430 664h1.4m22.6 0h1.4m18.6 0h1.4m8.6 0h1.4m3.6 0h1.4m-0.4 0h1.4m1.6 0h1.4m-0.4 0h1.4m1.6 0h1.4m-0.4 0h1.4m1.6 0h1.4m1.6 0h1.4m1.6 0h1.4m3.6 0h1.4m15.6 0h1.4M446 665h1.4m9.6 0h1.4m21.6 0h1.4m10.6 0h1.4m6.6 0h1.4m1.6 0h1.4m2.6 0h1.4m23.6 0h1.4m2.6 0h1.4M484 666h1.4m5.6 0h1.4m6.6 0h1.4M453 667h1.4m18.6 0h1.4m7.6 0h1.4m6.6 0h1.4m-0.4 0h1.4M457 668h1.4m8.6 0h1.4m10.6 0h1.4m10.6 0h1.4m4.6 0h1.4m3.6 0h1.4m6.6 0h1.4m0.6 0h1.4m4.6 0h1.4m2.6 0h1.4m7.6 0h1.4m4.6 0h1.4M469 669h1.4m11.6 0h1.4m0.6 0h1.4m9.6 0h1.4m15.6 0h1.4M483 670h1.4m3.6 0h1.4m17.6 0h1.4m14.6 0h1.4M476 671h1.4m11.6 0h1.4m3.6 0h1.4m-0.4 0h1.4m-0.4 0h1.4m3.6 0h1.4m3.6 0h1.4m2.6 0h1.4m-0.4 0h1.4m12.6 0h1.4M466 672h1.4m-0.4 0h1.4m15.6 0h1.4m6.6 0h1.4m25.6 0h1.4m4.6 0h1.4m16.6 0h1.4M456 673h1.4m13.6 0h1.4m-0.4 0h1.4m9.6 0h1.4m1.6 0h1.4m-0.4 0h1.4m3.6 0h1.4m-0.4 0h1.4m14.6 0h1.4m26.6 0h1.4M465 674h1.4m4.6 0h1.4m4.6 0h1.4m9.6 0h1.4m-0.4 0h1.4m0.6 0h1.4m15.6 0h1.4m0.6 0h1.4m23.6 0h1.4m15.6 0h1.4M457 675h1.4m-0.4 0h1.4m12.6 0h1.4m12.6 0h1.4m3.6 0h1.4m-0.4 0h1.4m11.6 0h1.4m16.6 0h1.4m-0.4 0h1.4m4.6 0h1.4M456 676h1.4m18.6 0h1.4m0.6 0h1.4m6.6 0h1.4m-0.4 0h1.4m4.6 0h1.4m-0.4 0h1.4m3.6 0h1.4m1.6 0h1.4m6.6 0h1.4m-0.4 0h1.4m11.6 0h1.4m18.6 0h1.4M452 677h1.4m1.6 0h1.4m14.6 0h1.4m4.6 0h1.4m3.6 0h1.4m4.6 0h1.4m2.6 0h1.4m5.6 0h1.4m-0.4 0h1.4m6.6 0h1.4m2.6 0h1.4m12.6 0h1.4m2.6 0h1.4M453 678h1.4m18.6 0h1.4m15.6 0h1.4m3.6 0h1.4m8.6 0h1.4m1.6 0h1.4m7.6 0h1.4m4.6 0h1.4m-0.4 0h1.4m1.6 0h1.4M492 679h1.4m16.6 0h1.4m-0.4 0h1.4m4.6 0h1.4m5.6 0h1.4m-0.4 0h1.4M447 680h1.4m8.6 0h1.4m24.6 0h1.4m20.6 0h1.4M466 681h1.4m3.6 0h1.4m6.6 0h1.4m-0.4 0h1.4m8.6 0h1.4m0.6 0h1.4m-0.4 0h1.4m13.6 0h1.4m11.6 0h1.4m4.6 0h1.4m1.6 0h1.4m2.6 0h1.4m0.6 0h1.4M466 682h1.4m5.6 0h1.4m11.6 0h1.4m6.6 0h1.4m-0.4 0h1.4m-0.4 0h1.4m5.6 0h1.4m2.6 0h1.4m5.6 0h1.4m-0.4 0h1.4m0.6 0h1.4m11.6 0h1.4m-0.4 0h1.4m1.6 0h1.4M472 683h1.4m3.6 0h1.4m9.6 0h1.4m13.6 0h1.4m5.6 0h1.4m13.6 0h1.4M464 684h1.4m5.6 0h1.4m3.6 0h1.4m-0.4 0h1.4m6.6 0h1.4m4.6 0h1.4m19.6 0h1.4m7.6 0h1.4m25.6 0h1.4M473 685h1.4m5.6 0h1.4m0.6 0h1.4m8.6 0h1.4m-0.4 0h1.4m2.6 0h1.4m8.6 0h1.4m1.6 0h1.4m13.6 0h1.4M448 686h1.4m18.6 0h1.4m11.6 0h1.4m15.6 0h1.4m0.6 0h1.4m11.6 0h1.4m16.6 0h1.4m13.6 0h1.4M476 687h1.4m-0.4 0h1.4m0.6 0h1.4m5.6 0h1.4m2.6 0h1.4m0.6 0h1.4m2.6 0h1.4m3.6 0h1.4m17.6 0h1.4m10.6 0h1.4M457 688h1.4m6.6 0h1.4m14.6 0h1.4m13.6 0h1.4m-0.4 0h1.4m13.6 0h1.4m2.6 0h1.4M473 689h1.4m5.6 0h1.4m4.6 0h1.4m-0.4 0h1.4m24.6 0h1.4m7.6 0h1.4m0.6 0h1.4M481 690h1.4m7.6 0h1.4m-0.4 0h1.4m0.6 0h1.4m0.6 0h1.4m7.6 0h1.4m0.6 0h1.4m0.6 0h1.4m1.6 0h1.4m18.6 0h1.4M466 691h1.4m10.6 0h1.4m-0.4 0h1.4m0.6 0h1.4m4.6 0h1.4m4.6 0h1.4m0.6 0h1.4m-0.4 0h1.4m5.6 0h1.4m4.6 0h1.4M477 692h1.4m1.6 0h1.4m8.6 0h1.4m15.6 0h1.4m3.6 0h1.4m0.6 0h1.4m-0.4 0h1.4m2.6 0h1.4m-0.4 0h1.4m0.6 0h1.4m0.6 0h1.4M444 693h1.4m13.6 0h1.4m2.6 0h1.4m8.6 0h1.4m13.6 0h1.4m12.6 0h1.4m4.6 0h1.4m18.6 0h1.4"/>
<path stroke="#111" stroke-width="1.4" d="M456 634h1.4M445 635h1.4m92.6 0h1.4M481 636h1.4m102.6 0h1.4M499 637h1.4m31.6 0h1.4m20.6 0h1.4M465 638h1.4m78.6 0h1.4M446 639h1.4m31.6 0h1.4m12.6 0h1.4m40.6 0h1.4m9.6 0h1.4M503 640h1.4M504 641h1.4M547 642h1.4M440 643h1.4m34.6 0h1.4M438 644h1.4m51.6 0h1.4M454 645h1.4m27.6 0h1.4m34.6 0h1.4m18.6 0h1.4M475 646h1.4m88.6 0h1.4M445 647h1.4m52.6 0h1.4m6.6 0h1.4m22.6 0h1.4m29.6 0h1.4M443 648h1.4M436 649h1.4m43.6 0h1.4M425 650h1.4m18.6 0h1.4M474 652h1.4m17.6 0h1.4m22.6 0h1.4M457 653h1.4m28.6 0h1.4m34.6 0h1.4M477 654h1.4m26.6 0h1.4M524 655h1.4M469 658h1.4m25.6 0h1.4m-0.4 0h1.4m10.6 0h1.4m46.6 0h1.4m-0.4 0h1.4M446 659h1.4m-0.4 0h1.4M481 660h1.4M528 661h1.4m7.6 0h1.4M454 662h1.4m87.6 0h1.4M494 663h1.4M418 665h1.4M534 666h1.4m3.6 0h1.4m19.6 0h1.4M487 667h1.4m5.6 0h1.4M448 668h1.4m55.6 0h1.4m43.6 0h1.4M487 669h1.4m74.6 0h1.4M527 670h1.4M449 671h1.4m43.6 0h1.4M478 674h1.4m21.6 0h1.4M467 675h1.4m1.6 0h1.4m0.6 0h1.4M534 676h1.4M520 678h1.4m9.6 0h1.4m7.6 0h1.4m8.6 0h1.4M456 679h1.4m11.6 0h1.4m35.6 0h1.4m10.6 0h1.4M516 680h1.4m1.6 0h1.4M411 682h1.4M480 683h1.4M499 684h1.4M449 685h1.4M426 686h1.4m72.6 0h1.4m25.6 0h1.4M435 687h1.4m43.6 0h1.4M511 688h1.4m4.6 0h1.4m24.6 0h1.4M522 689h1.4M461 690h1.4m33.6 0h1.4m3.6 0h1.4m28.6 0h1.4M542 691h1.4M522 692h1.4"/>
<path stroke="#111" stroke-width="1.4" d="M462 692h1.4m-0.4 0h1.4m0.6 0h1.4m5.6 0h1.4m1.6 0h1.4m1.6 0h1.4m-0.4 0h1.4m-0.4 0h1.4m5.6 0h1.4m0.6 0h1.4m-0.4 0h1.4m0.6 0h1.4m0.6 0h1.4m0.6 0h1.4m-0.4 0h1.4m-0.4 0h1.4m-0.4 0h1.4m-0.4 0h1.4m0.6 0h1.4m0.6 0h1.4m-0.4 0h1.4m-0.4 0h1.4m0.6 0h1.4m-0.4 0h1.4m-0.4 0h1.4m-0.4 0h1.4m-0.4 0h1.4m0.6 0h1.4m3.6 0h1.4m-0.4 0h1.4m3.6 0h1.4M457 693h1.4m9.6 0h1.4m2.6 0h1.4m5.6 0h1.4m0.6 0h1.4m0.6 0h1.4m-0.4 0h1.4m1.6 0h1.4m-0.4 0h1.4m3.6 0h1.4m-0.4 0h1.4m5.6 0h1.4m-0.4 0h1.4m-0.4 0h1.4m0.6 0h1.4m0.6 0h1.4m1.6 0h1.4m1.6 0h1.4m0.6 0h1.4m-0.4 0h1.4m3.6 0h1.4m-0.4 0h1.4m-0.4 0h1.4m-0.4 0h1.4m1.6 0h1.4m-0.4 0h1.4m4.6 0h1.4m0.6 0h1.4m-0.4 0h1.4M449 694h1.4m30.6 0h1.4m3.6 0h1.4m0.6 0h1.4m-0.4 0h1.4m1.6 0h1.4m0.6 0h1.4m-0.4 0h1.4m-0.4 0h1.4m-0.4 0h1.4m1.6 0h1.4m-0.4 0h1.4m1.6 0h1.4m2.6 0h1.4m-0.4 0h1.4m1.6 0h1.4m2.6 0h1.4m0.6 0h1.4m0.6 0h1.4m0.6 0h1.4m1.6 0h1.4m1.6 0h1.4m0.6 0h1.4m3.6 0h1.4M482 695h1.4m0.6 0h1.4m-0.4 0h1.4m-0.4 0h1.4m-0.4 0h1.4m3.6 0h1.4m-0.4 0h1.4m3.6 0h1.4m-0.4 0h1.4m-0.4 0h1.4m1.6 0h1.4m2.6 0h1.4m13.6 0h1.4M466 696h1.4m2.6 0h1.4m-0.4 0h1.4m8.6 0h1.4m0.6 0h1.4m1.6 0h1.4m-0.4 0h1.4m-0.4 0h1.4m-0.4 0h1.4m0.6 0h1.4m3.6 0h1.4m-0.4 0h1.4m0.6 0h1.4m0.6 0h1.4m2.6 0h1.4m0.6 0h1.4m2.6 0h1.4m-0.4 0h1.4m-0.4 0h1.4m-0.4 0h1.4m-0.4 0h1.4m-0.4 0h1.4m2.6 0h1.4m11.6 0h1.4m-0.4 0h1.4M443 697h1.4m1.6 0h1.4m5.6 0h1.4m1.6 0h1.4m-0.4 0h1.4m2.6 0h1.4m5.6 0h1.4m4.6 0h1.4m2.6 0h1.4m2.6 0h1.4m-0.4 0h1.4m-0.4 0h1.4m-0.4 0h1.4m1.6 0h1.4m-0.4 0h1.4m2.6 0h1.4m1.6 0h1.4m1.6 0h1.4m4.6 0h1.4m-0.4 0h1.4m1.6 0h1.4m0.6 0h1.4m-0.4 0h1.4m4.6 0h1.4m1.6 0h1.4m1.6 0h1.4m-0.4 0h1.4m2.6 0h1.4M466 698h1.4m5.6 0h1.4m-0.4 0h1.4m2.6 0h1.4m3.6 0h1.4m-0.4 0h1.4m-0.4 0h1.4m-0.4 0h1.4m0.6 0h1.4m-0.4 0h1.4m0.6 0h1.4m2.6 0h1.4m-0.4 0h1.4m1.6 0h1.4m-0.4 0h1.4m3.6 0h1.4m1.6 0h1.4m-0.4 0h1.4m1.6 0h1.4m3.6 0h1.4m1.6 0h1.4m0.6 0h1.4m1.6 0h1.4m0.6 0h1.4m3.6 0h1.4M467 699h1.4m12.6 0h1.4m0.6 0h1.4m-0.4 0h1.4m-0.4 0h1.4m-0.4 0h1.4m0.6 0h1.4m0.6 0h1.4m-0.4 0h1.4m0.6 0h1.4m0.6 0h1.4m1.6 0h1.4m3.6 0h1.4m-0.4 0h1.4m-0.4 0h1.4m-0.4 0h1.4m0.6 0h1.4m0.6 0h1.4m7.6 0h1.4m0.6 0h1.4m0.6 0h1.4m1.6 0h1.4m2.6 0h1.4M433 700h1.4m25.6 0h1.4m11.6 0h1.4m2.6 0h1.4m2.6 0h1.4m4.6 0h1.4m-0.4 0h1.4m-0.4 0h1.4m2.6 0h1.4m3.6 0h1.4m1.6 0h1.4m1.6 0h1.4m-0.4 0h1.4m1.6 0h1.4m-0.4 0h1.4m-0.4 0h1.4m1.6 0h1.4m0.6 0h1.4m0.6 0h1.4M451 701h1.4m22.6 0h1.4m0.6 0h1.4m6.6 0h1.4m-0.4 0h1.4m1.6 0h1.4m-0.4 0h1.4m1.6 0h1.4m1.6 0h1.4m1.6 0h1.4m-0.4 0h1.4m2.6 0h1.4m0.6 0h1.4m-0.4 0h1.4m0.6 0h1.4m-0.4 0h1.4m0.6 0h1.4m-0.4 0h1.4m0.6 0h1.4m0.6 0h1.4m0.6 0h1.4m-0.4 0h1.4m7.6 0h1.4M473 702h1.4m0.6 0h1.4m0.6 0h1.4m0.6 0h1.4m-0.4 0h1.4m4.6 0h1.4m-0.4 0h1.4m-0.4 0h1.4m-0.4 0h1.4m-0.4 0h1.4m3.6 0h1.4m9.6 0h1.4m-0.4 0h1.4m0.6 0h1.4m-0.4 0h1.4m-0.4 0h1.4m-0.4 0h1.4m0.6 0h1.4m2.6 0h1.4m1.6 0h1.4m5.6 0h1.4M453 703h1.4m6.6 0h1.4m5.6 0h1.4m3.6 0h1.4m9.6 0h1.4m2.6 0h1.4m0.6 0h1.4m1.6 0h1.4m0.6 0h1.4m2.6 0h1.4m3.6 0h1.4m0.6 0h1.4m0.6 0h1.4m-0.4 0h1.4m0.6 0h1.4m0.6 0h1.4m-0.4 0h1.4m1.6 0h1.4m-0.4 0h1.4m2.6 0h1.4m5.6 0h1.4M459 704h1.4m22.6 0h1.4m5.6 0h1.4m2.6 0h1.4m-0.4 0h1.4m0.6 0h1.4m1.6 0h1.4m0.6 0h1.4m1.6 0h1.4m-0.4 0h1.4m-0.4 0h1.4m1.6 0h1.4m0.6 0h1.4m-0.4 0h1.4m-0.4 0h1.4m2.6 0h1.4m2.6 0h1.4m0.6 0h1.4m-0.4 0h1.4m2.6 0h1.4M449 705h1.4m7.6 0h1.4m4.6 0h1.4m2.6 0h1.4m-0.4 0h1.4m8.6 0h1.4m0.6 0h1.4m5.6 0h1.4m-0.4 0h1.4m1.6 0h1.4m0.6 0h1.4m1.6 0h1.4m-0.4 0h1.4m-0.4 0h1.4m0.6 0h1.4m0.6 0h1.4m-0.4 0h1.4m-0.4 0h1.4m-0.4 0h1.4m5.6 0h1.4M465 706h1.4m10.6 0h1.4m7.6 0h1.4m-0.4 0h1.4m-0.4 0h1.4m0.6 0h1.4m3.6 0h1.4m-0.4 0h1.4m3.6 0h1.4m1.6 0h1.4m-0.4 0h1.4m1.6 0h1.4m1.6 0h1.4m-0.4 0h1.4m1.6 0h1.4m-0.4 0h1.4m-0.4 0h1.4m5.6 0h1.4M460 707h1.4m-0.4 0h1.4m0.6 0h1.4m2.6 0h1.4m-0.4 0h1.4m3.6 0h1.4m-0.4 0h1.4m1.6 0h1.4m7.6 0h1.4m-0.4 0h1.4m-0.4 0h1.4m3.6 0h1.4m3.6 0h1.4m-0.4 0h1.4m1.6 0h1.4m-0.4 0h1.4m-0.4 0h1.4m0.6 0h1.4m1.6 0h1.4m3.6 0h1.4m1.6 0h1.4m1.6 0h1.4M479 708h1.4m0.6 0h1.4m0.6 0h1.4m-0.4 0h1.4m3.6 0h1.4m0.6 0h1.4m0.6 0h1.4m0.6 0h1.4m0.6 0h1.4m1.6 0h1.4m4.6 0h1.4m-0.4 0h1.4m1.6 0h1.4m1.6 0h1.4m3.6 0h1.4M458 709h1.4m0.6 0h1.4m8.6 0h1.4m0.6 0h1.4m0.6 0h1.4m7.6 0h1.4m0.6 0h1.4m-0.4 0h1.4m7.6 0h1.4m-0.4 0h1.4m0.6 0h1.4m-0.4 0h1.4m-0.4 0h1.4m6.6 0h1.4m0.6 0h1.4m1.6 0h1.4m0.6 0h1.4m-0.4 0h1.4m2.6 0h1.4m2.6 0h1.4M441 710h1.4m18.6 0h1.4m7.6 0h1.4m-0.4 0h1.4m0.6 0h1.4m0.6 0h1.4m2.6 0h1.4m-0.4 0h1.4m1.6 0h1.4m0.6 0h1.4m3.6 0h1.4m-0.4 0h1.4m-0.4 0h1.4m1.6 0h1.4m-0.4 0h1.4m3.6 0h1.4m-0.4 0h1.4m-0.4 0h1.4m1.6 0h1.4m0.6 0h1.4m0.6 0h1.4M458 711h1.4m11.6 0h1.4m4.6 0h1.4m9.6 0h1.4m-0.4 0h1.4m1.6 0h1.4m0.6 0h1.4m1.6 0h1.4m5.6 0h1.4m-0.4 0h1.4m0.6 0h1.4m0.6 0h1.4m-0.4 0h1.4m1.6 0h1.4m0.6 0h1.4M471 712h1.4m-0.4 0h1.4m6.6 0h1.4m-0.4 0h1.4m4.6 0h1.4m2.6 0h1.4m-0.4 0h1.4m-0.4 0h1.4m0.6 0h1.4m1.6 0h1.4m-0.4 0h1.4m0.6 0h1.4m2.6 0h1.4m-0.4 0h1.4m1.6 0h1.4m-0.4 0h1.4m1.6 0h1.4m-0.4 0h1.4m3.6 0h1.4m0.6 0h1.4M468 713h1.4m3.6 0h1.4m3.6 0h1.4m-0.4 0h1.4m4.6 0h1.4m-0.4 0h1.4m0.6 0h1.4m-0.4 0h1.4m0.6 0h1.4m1.6 0h1.4m-0.4 0h1.4m7.6 0h1.4m0.6 0h1.4m2.6 0h1.4m3.6 0h1.4m1.6 0h1.4m-0.4 0h1.4M466 714h1.4m3.6 0h1.4m4.6 0h1.4m-0.4 0h1.4m0.6 0h1.4m8.6 0h1.4m-0.4 0h1.4m0.6 0h1.4m7.6 0h1.4m-0.4 0h1.4m1.6 0h1.4m3.6 0h1.4m-0.4 0h1.4m-0.4 0h1.4m-0.4 0h1.4m2.6 0h1.4m0.6 0h1.4m-0.4 0h1.4M455 715h1.4m0.6 0h1.4m4.6 0h1.4m5.6 0h1.4m8.6 0h1.4m-0.4 0h1.4m2.6 0h1.4m-0.4 0h1.4m-0.4 0h1.4m-0.4 0h1.4m-0.4 0h1.4m0.6 0h1.4m2.6 0h1.4m0.6 0h1.4m-0.4 0h1.4m1.6 0h1.4m-0.4 0h1.4m1.6 0h1.4m1.6 0h1.4m-0.4 0h1.4m4.6 0h1.4m-0.4 0h1.4m-0.4 0h1.4M462 716h1.4m10.6 0h1.4m4.6 0h1.4m1.6 0h1.4m0.6 0h1.4m1.6 0h1.4m-0.4 0h1.4m-0.4 0h1.4m1.6 0h1.4m0.6 0h1.4m0.6 0h1.4m-0.4 0h1.4m2.6 0h1.4m3.6 0h1.4m9.6 0h1.4M466 717h1.4m13.6 0h1.4m1.6 0h1.4m-0.4 0h1.4m-0.4 0h1.4m2.6 0h1.4m-0.4 0h1.4m4.6 0h1.4m0.6 0h1.4m5.6 0h1.4m-0.4 0h1.4m-0.4 0h1.4m0.6 0h1.4m2.6 0h1.4m0.6 0h1.4M442 718h1.4m29.6 0h1.4m2.6 0h1.4m-0.4 0h1.4m2.6 0h1.4m-0.4 0h1.4m1.6 0h1.4m0.6 0h1.4m1.6 0h1.4m0.6 0h1.4m3.6 0h1.4m-0.4 0h1.4m-0.4 0h1.4m2.6 0h1.4m-0.4 0h1.4m5.6 0h1.4m4.6 0h1.4M442 719h1.4m13.6 0h1.4m2.6 0h1.4m5.6 0h1.4m6.6 0h1.4m9.6 0h1.4m-0.4 0h1.4m0.6 0h1.4m-0.4 0h1.4m0.6 0h1.4m-0.4 0h1.4m0.6 0h1.4m0.6 0h1.4m0.6 0h1.4m0.6 0h1.4m1.6 0h1.4m0.6 0h1.4m1.6 0h1.4m-0.4 0h1.4m3.6 0h1.4M451 720h1.4m6.6 0h1.4m1.6 0h1.4m6.6 0h1.4m-0.4 0h1.4m2.6 0h1.4m0.6 0h1.4m3.6 0h1.4m-0.4 0h1.4m5.6 0h1.4m2.6 0h1.4m3.6 0h1.4m9.6 0h1.4m-0.4 0h1.4m1.6 0h1.4M469 721h1.4m4.6 0h1.4m-0.4 0h1.4m-0.4 0h1.4m0.6 0h1.4m5.6 0h1.4m2.6 0h1.4m4.6 0h1.4m-0.4 0h1.4m0.6 0h1.4m-0.4 0h1.4m2.6 0h1.4m-0.4 0h1.4m-0.4 0h1.4m-0.4 0h1.4m-0.4 0h1.4m0.6 0h1.4m2.6 0h1.4m2.6 0h1.4M442 722h1.4m26.6 0h1.4m-0.4 0h1.4m3.6 0h1.4m2.6 0h1.4m0.6 0h1.4m-0.4 0h1.4m0.6 0h1.4m1.6 0h1.4m2.6 0h1.4m1.6 0h1.4m0.6 0h1.4m0.6 0h1.4m3.6 0h1.4m-0.4 0h1.4m-0.4 0h1.4m-0.4 0h1.4m-0.4 0h1.4m-0.4 0h1.4m0.6 0h1.4m0.6 0h1.4m0.6 0h1.4M469 723h1.4m6.6 0h1.4m1.6 0h1.4m0.6 0h1.4m0.6 0h1.4m1.6 0h1.4m-0.4 0h1.4m-0.4 0h1.4m-0.4 0h1.4m1.6 0h1.4m0.6 0h1.4m-0.4 0h1.4m0.6 0h1.4m0.6 0h1.4m-0.4 0h1.4m-0.4 0h1.4m3.6 0h1.4m-0.4 0h1.4m-0.4 0h1.4m-0.4 0h1.4m-0.4 0h1.4m1.6 0h1.4"/>
<path stroke="#111" stroke-width="1.4" d="M445 722h1.4m11.6 0h1.4m2.6 0h1.4m4.6 0h1.4m1.6 0h1.4m3.6 0h1.4m0.6 0h1.4m0.6 0h1.4m0.6 0h1.4m-0.4 0h1.4m0.6 0h1.4m2.6 0h1.4M464 723h1.4m1.6 0h1.4m0.6 0h1.4m2.6 0h1.4m4.6 0h1.4m-0.4 0h1.4m0.6 0h1.4m5.6 0h1.4m0.6 0h1.4m2.6 0h1.4m1.6 0h1.4m2.6 0h1.4M429 724h1.4m32.6 0h1.4m6.6 0h1.4m-0.4 0h1.4m1.6 0h1.4m0.6 0h1.4m-0.4 0h1.4m2.6 0h1.4m5.6 0h1.4m2.6 0h1.4m4.6 0h1.4m-0.4 0h1.4M459 725h1.4m8.6 0h1.4m7.6 0h1.4m3.6 0h1.4m2.6 0h1.4m1.6 0h1.4m0.6 0h1.4m3.6 0h1.4M454 726h1.4m15.6 0h1.4m0.6 0h1.4m1.6 0h1.4m0.6 0h1.4m1.6 0h1.4m-0.4 0h1.4m0.6 0h1.4m-0.4 0h1.4m-0.4 0h1.4m3.6 0h1.4m0.6 0h1.4m-0.4 0h1.4M463 727h1.4m1.6 0h1.4m1.6 0h1.4m4.6 0h1.4m3.6 0h1.4m6.6 0h1.4m2.6 0h1.4M430 728h1.4m14.6 0h1.4m4.6 0h1.4m0.6 0h1.4m6.6 0h1.4m10.6 0h1.4m8.6 0h1.4m-0.4 0h1.4m-0.4 0h1.4m-0.4 0h1.4m-0.4 0h1.4m-0.4 0h1.4m0.6 0h1.4m-0.4 0h1.4m2.6 0h1.4m-0.4 0h1.4m1.6 0h1.4M449 729h1.4m6.6 0h1.4m14.6 0h1.4m5.6 0h1.4m-0.4 0h1.4m0.6 0h1.4m-0.4 0h1.4m-0.4 0h1.4m3.6 0h1.4m4.6 0h1.4M459 730h1.4m7.6 0h1.4m3.6 0h1.4m5.6 0h1.4m1.6 0h1.4m0.6 0h1.4m0.6 0h1.4m0.6 0h1.4m-0.4 0h1.4m1.6 0h1.4m1.6 0h1.4m1.6 0h1.4m1.6 0h1.4M444 731h1.4m6.6 0h1.4m3.6 0h1.4m0.6 0h1.4m-0.4 0h1.4m0.6 0h1.4m1.6 0h1.4m10.6 0h1.4m1.6 0h1.4m-0.4 0h1.4m-0.4 0h1.4m1.6 0h1.4m4.6 0h1.4m0.6 0h1.4m-0.4 0h1.4m0.6 0h1.4m2.6 0h1.4m0.6 0h1.4M445 732h1.4m10.6 0h1.4m1.6 0h1.4m8.6 0h1.4m1.6 0h1.4m10.6 0h1.4m1.6 0h1.4m-0.4 0h1.4m4.6 0h1.4m0.6 0h1.4M443 733h1.4m4.6 0h1.4m0.6 0h1.4m4.6 0h1.4m3.6 0h1.4m0.6 0h1.4m0.6 0h1.4m0.6 0h1.4m3.6 0h1.4m0.6 0h1.4m4.6 0h1.4m0.6 0h1.4m-0.4 0h1.4m3.6 0h1.4m0.6 0h1.4m-0.4 0h1.4m-0.4 0h1.4m4.6 0h1.4M449 734h1.4m0.6 0h1.4m1.6 0h1.4m8.6 0h1.4m4.6 0h1.4m1.6 0h1.4m-0.4 0h1.4m-0.4 0h1.4m-0.4 0h1.4m2.6 0h1.4m0.6 0h1.4m-0.4 0h1.4m-0.4 0h1.4m6.6 0h1.4m-0.4 0h1.4m0.6 0h1.4m1.6 0h1.4m0.6 0h1.4M460 735h1.4m-0.4 0h1.4m1.6 0h1.4m-0.4 0h1.4m-0.4 0h1.4m0.6 0h1.4m0.6 0h1.4m4.6 0h1.4m-0.4 0h1.4m1.6 0h1.4m1.6 0h1.4m1.6 0h1.4m2.6 0h1.4m0.6 0h1.4m4.6 0h1.4M454 736h1.4m0.6 0h1.4m3.6 0h1.4m7.6 0h1.4m10.6 0h1.4m-0.4 0h1.4m0.6 0h1.4m7.6 0h1.4m-0.4 0h1.4m2.6 0h1.4m-0.4 0h1.4M445 737h1.4m3.6 0h1.4m7.6 0h1.4m2.6 0h1.4m1.6 0h1.4m1.6 0h1.4m0.6 0h1.4m-0.4 0h1.4m6.6 0h1.4m-0.4 0h1.4m0.6 0h1.4m0.6 0h1.4m1.6 0h1.4m5.6 0h1.4m0.6 0h1.4M437 738h1.4m16.6 0h1.4m1.6 0h1.4m3.6 0h1.4m18.6 0h1.4m5.6 0h1.4m0.6 0h1.4m-0.4 0h1.4m-0.4 0h1.4m-0.4 0h1.4m2.6 0h1.4M451 739h1.4m11.6 0h1.4m0.6 0h1.4m5.6 0h1.4m-0.4 0h1.4m-0.4 0h1.4m-0.4 0h1.4m6.6 0h1.4m4.6 0h1.4m-0.4 0h1.4m-0.4 0h1.4m-0.4 0h1.4m0.6 0h1.4M452 740h1.4m10.6 0h1.4m1.6 0h1.4m5.6 0h1.4m4.6 0h1.4m-0.4 0h1.4m0.6 0h1.4m4.6 0h1.4m0.6 0h1.4m1.6 0h1.4M437 741h1.4m2.6 0h1.4m-0.4 0h1.4m2.6 0h1.4m2.6 0h1.4m12.6 0h1.4m1.6 0h1.4m-0.4 0h1.4m3.6 0h1.4m-0.4 0h1.4m3.6 0h1.4m11.6 0h1.4m-0.4 0h1.4m2.6 0h1.4m2.6 0h1.4M451 742h1.4m0.6 0h1.4m25.6 0h1.4m5.6 0h1.4m2.6 0h1.4m5.6 0h1.4M456 743h1.4m11.6 0h1.4m0.6 0h1.4m0.6 0h1.4m7.6 0h1.4m0.6 0h1.4m0.6 0h1.4m0.6 0h1.4m4.6 0h1.4m2.6 0h1.4M453 744h1.4m1.6 0h1.4m1.6 0h1.4m3.6 0h1.4m2.6 0h1.4m5.6 0h1.4m6.6 0h1.4m0.6 0h1.4m-0.4 0h1.4m6.6 0h1.4m1.6 0h1.4M439 745h1.4m12.6 0h1.4m1.6 0h1.4m0.6 0h1.4m-0.4 0h1.4m5.6 0h1.4m-0.4 0h1.4m2.6 0h1.4m0.6 0h1.4m2.6 0h1.4m0.6 0h1.4m0.6 0h1.4m6.6 0h1.4m0.6 0h1.4m-0.4 0h1.4m-0.4 0h1.4M464 746h1.4m-0.4 0h1.4m6.6 0h1.4m0.6 0h1.4m0.6 0h1.4m-0.4 0h1.4m5.6 0h1.4m0.6 0h1.4m6.6 0h1.4m-0.4 0h1.4m0.6 0h1.4m1.6 0h1.4M449 747h1.4m16.6 0h1.4m2.6 0h1.4m1.6 0h1.4m-0.4 0h1.4m-0.4 0h1.4m0.6 0h1.4m2.6 0h1.4m3.6 0h1.4m3.6 0h1.4m4.6 0h1.4M456 748h1.4m4.6 0h1.4m9.6 0h1.4m1.6 0h1.4m6.6 0h1.4m3.6 0h1.4m-0.4 0h1.4m7.6 0h1.4m-0.4 0h1.4M444 749h1.4m22.6 0h1.4m-0.4 0h1.4m5.6 0h1.4m6.6 0h1.4m-0.4 0h1.4m2.6 0h1.4m-0.4 0h1.4m-0.4 0h1.4M452 750h1.4m20.6 0h1.4m2.6 0h1.4m5.6 0h1.4m-0.4 0h1.4m0.6 0h1.4m2.6 0h1.4m1.6 0h1.4m3.6 0h1.4M468 751h1.4m-0.4 0h1.4m3.6 0h1.4m-0.4 0h1.4m-0.4 0h1.4m2.6 0h1.4m2.6 0h1.4m-0.4 0h1.4m-0.4 0h1.4m-0.4 0h1.4m5.6 0h1.4m2.6 0h1.4m-0.4 0h1.4M457 752h1.4m6.6 0h1.4m4.6 0h1.4m4.6 0h1.4m-0.4 0h1.4m1.6 0h1.4m7.6 0h1.4m0.6 0h1.4m4.6 0h1.4m0.6 0h1.4M437 753h1.4m23.6 0h1.4m10.6 0h1.4m1.6 0h1.4m4.6 0h1.4m1.6 0h1.4m5.6 0h1.4m-0.4 0h1.4m-0.4 0h1.4m-0.4 0h1.4m2.6 0h1.4M453 754h1.4m6.6 0h1.4m0.6 0h1.4m1.6 0h1.4m-0.4 0h1.4m5.6 0h1.4m8.6 0h1.4m0.6 0h1.4m0.6 0h1.4m0.6 0h1.4m1.6 0h1.4m3.6 0h1.4m1.6 0h1.4M451 755h1.4m11.6 0h1.4m1.6 0h1.4m9.6 0h1.4m7.6 0h1.4m-0.4 0h1.4m-0.4 0h1.4M444 756h1.4m0.6 0h1.4m3.6 0h1.4m12.6 0h1.4m0.6 0h1.4m6.6 0h1.4m1.6 0h1.4m2.6 0h1.4m9.6 0h1.4m-0.4 0h1.4m0.6 0h1.4M456 757h1.4m-0.4 0h1.4m9.6 0h1.4m-0.4 0h1.4m-0.4 0h1.4m3.6 0h1.4m-0.4 0h1.4m3.6 0h1.4m-0.4 0h1.4m-0.4 0h1.4m1.6 0h1.4m0.6 0h1.4m5.6 0h1.4m-0.4 0h1.4M437 758h1.4m23.6 0h1.4m-0.4 0h1.4m6.6 0h1.4m0.6 0h1.4m1.6 0h1.4m1.6 0h1.4m-0.4 0h1.4m-0.4 0h1.4m-0.4 0h1.4m2.6 0h1.4m2.6 0h1.4m0.6 0h1.4m-0.4 0h1.4m3.6 0h1.4M452 759h1.4m0.6 0h1.4m4.6 0h1.4m3.6 0h1.4m11.6 0h1.4m-0.4 0h1.4m4.6 0h1.4m-0.4 0h1.4m-0.4 0h1.4m0.6 0h1.4m-0.4 0h1.4m1.6 0h1.4m-0.4 0h1.4m0.6 0h1.4m-0.4 0h1.4m-0.4 0h1.4M446 760h1.4m6.6 0h1.4m6.6 0h1.4m1.6 0h1.4m5.6 0h1.4m0.6 0h1.4m-0.4 0h1.4m8.6 0h1.4m8.6 0h1.4m1.6 0h1.4M453 761h1.4m-0.4 0h1.4m6.6 0h1.4m3.6 0h1.4m10.6 0h1.4m4.6 0h1.4m0.6 0h1.4m-0.4 0h1.4m1.6 0h1.4m9.6 0h1.4M461 762h1.4m0.6 0h1.4m3.6 0h1.4m-0.4 0h1.4m5.6 0h1.4m-0.4 0h1.4m-0.4 0h1.4m0.6 0h1.4m1.6 0h1.4m2.6 0h1.4m5.6 0h1.4m0.6 0h1.4m0.6 0h1.4M426 763h1.4m5.6 0h1.4m15.6 0h1.4m4.6 0h1.4m1.6 0h1.4m-0.4 0h1.4m9.6 0h1.4m10.6 0h1.4m1.6 0h1.4m10.6 0h1.4m1.6 0h1.4M429 764h1.4m20.6 0h1.4m1.6 0h1.4m3.6 0h1.4m2.6 0h1.4m1.6 0h1.4m-0.4 0h1.4m6.6 0h1.4m0.6 0h1.4m3.6 0h1.4m12.6 0h1.4m1.6 0h1.4M428 765h1.4m13.6 0h1.4m5.6 0h1.4m10.6 0h1.4m0.6 0h1.4m4.6 0h1.4m0.6 0h1.4m21.6 0h1.4m3.6 0h1.4M466 766h1.4m2.6 0h1.4m0.6 0h1.4m3.6 0h1.4m3.6 0h1.4m0.6 0h1.4m-0.4 0h1.4m0.6 0h1.4m0.6 0h1.4m0.6 0h1.4m-0.4 0h1.4m2.6 0h1.4m-0.4 0h1.4m1.6 0h1.4M421 767h1.4m37.6 0h1.4m1.6 0h1.4m4.6 0h1.4m4.6 0h1.4m0.6 0h1.4m-0.4 0h1.4m-0.4 0h1.4m5.6 0h1.4m-0.4 0h1.4m3.6 0h1.4m2.6 0h1.4m2.6 0h1.4M459 768h1.4m5.6 0h1.4m0.6 0h1.4m1.6 0h1.4m10.6 0h1.4m0.6 0h1.4m5.6 0h1.4m0.6 0h1.4m-0.4 0h1.4m1.6 0h1.4M464 769h1.4m-0.4 0h1.4m3.6 0h1.4m-0.4 0h1.4m1.6 0h1.4m5.6 0h1.4m1.6 0h1.4m3.6 0h1.4m0.6 0h1.4m-0.4 0h1.4m-0.4 0h1.4m5.6 0h1.4m0.6 0h1.4"/>
<path stroke="#111" stroke-width="1.4" d="M464 775h1.4M458 778h1.4m6.6 0h1.4M447 780h1.4m40.6 0h1.4M439 781h1.4m10.6 0h1.4M469 782h1.4m-0.4 0h1.4M447 784h1.4M443 785h1.4m10.6 0h1.4m0.6 0h1.4M449 786h1.4m12.6 0h1.4m0.6 0h1.4m0.6 0h1.4m2.6 0h1.4m-0.4 0h1.4m4.6 0h1.4M472 787h1.4M463 788h1.4m-0.4 0h1.4m11.6 0h1.4M460 789h1.4m1.6 0h1.4m5.6 0h1.4m-0.4 0h1.4m3.6 0h1.4m4.6 0h1.4m8.6 0h1.4M451 790h1.4m5.6 0h1.4m3.6 0h1.4m1.6 0h1.4m-0.4 0h1.4m6.6 0h1.4m2.6 0h1.4m2.6 0h1.4m-0.4 0h1.4M447 791h1.4m5.6 0h1.4m0.6 0h1.4m-0.4 0h1.4m8.6 0h1.4m0.6 0h1.4m-0.4 0h1.4m1.6 0h1.4m8.6 0h1.4m3.6 0h1.4m0.6 0h1.4m0.6 0h1.4m-0.4 0h1.4M418 792h1.4m18.6 0h1.4m22.6 0h1.4m1.6 0h1.4m3.6 0h1.4m-0.4 0h1.4m3.6 0h1.4m3.6 0h1.4m-0.4 0h1.4m3.6 0h1.4M456 793h1.4m-0.4 0h1.4m1.6 0h1.4m0.6 0h1.4m1.6 0h1.4m1.6 0h1.4m2.6 0h1.4m0.6 0h1.4m0.6 0h1.4m1.6 0h1.4m-0.4 0h1.4m-0.4 0h1.4m-0.4 0h1.4m0.6 0h1.4m-0.4 0h1.4M452 794h1.4m4.6 0h1.4m4.6 0h1.4m1.6 0h1.4m1.6 0h1.4m-0.4 0h1.4m1.6 0h1.4m3.6 0h1.4m4.6 0h1.4m1.6 0h1.4M447 795h1.4m5.6 0h1.4m3.6 0h1.4m1.6 0h1.4m1.6 0h1.4m0.6 0h1.4m0.6 0h1.4m-0.4 0h1.4m0.6 0h1.4m1.6 0h1.4m0.6 0h1.4m1.6 0h1.4m12.6 0h1.4M443 796h1.4m4.6 0h1.4m-0.4 0h1.4m4.6 0h1.4m-0.4 0h1.4m8.6 0h1.4m1.6 0h1.4m1.6 0h1.4m0.6 0h1.4m-0.4 0h1.4m4.6 0h1.4m1.6 0h1.4m-0.4 0h1.4M446 797h1.4m5.6 0h1.4m2.6 0h1.4m-0.4 0h1.4m0.6 0h1.4m-0.4 0h1.4m-0.4 0h1.4m-0.4 0h1.4m-0.4 0h1.4m-0.4 0h1.4m-0.4 0h1.4m-0.4 0h1.4m1.6 0h1.4m-0.4 0h1.4m0.6 0h1.4m6.6 0h1.4m6.6 0h1.4m-0.4 0h1.4m2.6 0h1.4M453 798h1.4m1.6 0h1.4m0.6 0h1.4m-0.4 0h1.4m0.6 0h1.4m-0.4 0h1.4m-0.4 0h1.4m0.6 0h1.4m3.6 0h1.4m0.6 0h1.4m1.6 0h1.4m-0.4 0h1.4m0.6 0h1.4m4.6 0h1.4m-0.4 0h1.4m2.6 0h1.4M453 799h1.4m0.6 0h1.4m1.6 0h1.4m-0.4 0h1.4m0.6 0h1.4m-0.4 0h1.4m-0.4 0h1.4m-0.4 0h1.4m0.6 0h1.4m-0.4 0h1.4m1.6 0h1.4m2.6 0h1.4m0.6 0h1.4m0.6 0h1.4m0.6 0h1.4m-0.4 0h1.4M439 800h1.4m5.6 0h1.4m2.6 0h1.4m-0.4 0h1.4m-0.4 0h1.4m-0.4 0h1.4m6.6 0h1.4m-0.4 0h1.4m0.6 0h1.4m-0.4 0h1.4m-0.4 0h1.4m-0.4 0h1.4m-0.4 0h1.4m1.6 0h1.4m-0.4 0h1.4m1.6 0h1.4m4.6 0h1.4m3.6 0h1.4M435 801h1.4m9.6 0h1.4m0.6 0h1.4m6.6 0h1.4m-0.4 0h1.4m0.6 0h1.4m0.6 0h1.4m0.6 0h1.4m-0.4 0h1.4m0.6 0h1.4m1.6 0h1.4m-0.4 0h1.4m-0.4 0h1.4m0.6 0h1.4m-0.4 0h1.4m3.6 0h1.4m0.6 0h1.4m-0.4 0h1.4m-0.4 0h1.4m0.6 0h1.4m0.6 0h1.4m-0.4 0h1.4m-0.4 0h1.4m2.6 0h1.4M442 802h1.4m2.6 0h1.4m3.6 0h1.4m-0.4 0h1.4m-0.4 0h1.4m1.6 0h1.4m1.6 0h1.4m-0.4 0h1.4m-0.4 0h1.4m0.6 0h1.4m4.6 0h1.4m-0.4 0h1.4m-0.4 0h1.4m-0.4 0h1.4m-0.4 0h1.4m-0.4 0h1.4m-0.4 0h1.4m-0.4 0h1.4m-0.4 0h1.4m-0.4 0h1.4m-0.4 0h1.4m1.6 0h1.4m3.6 0h1.4m1.6 0h1.4m-0.4 0h1.4M444 803h1.4m0.6 0h1.4m0.6 0h1.4m2.6 0h1.4m-0.4 0h1.4m-0.4 0h1.4m1.6 0h1.4m-0.4 0h1.4m0.6 0h1.4m-0.4 0h1.4m-0.4 0h1.4m0.6 0h1.4m-0.4 0h1.4m-0.4 0h1.4m-0.4 0h1.4m-0.4 0h1.4m-0.4 0h1.4m0.6 0h1.4m-0.4 0h1.4m-0.4 0h1.4m-0.4 0h1.4m-0.4 0h1.4m0.6 0h1.4m0.6 0h1.4m-0.4 0h1.4m0.6 0h1.4m-0.4 0h1.4m2.6 0h1.4m-0.4 0h1.4m1.6 0h1.4m0.6 0h1.4m-0.4 0h1.4M425 804h1.4m16.6 0h1.4m0.6 0h1.4m1.6 0h1.4m-0.4 0h1.4m-0.4 0h1.4m0.6 0h1.4m-0.4 0h1.4m0.6 0h1.4m2.6 0h1.4m0.6 0h1.4m-0.4 0h1.4m-0.4 0h1.4m-0.4 0h1.4m-0.4 0h1.4m-0.4 0h1.4m-0.4 0h1.4m-0.4 0h1.4m-0.4 0h1.4m-0.4 0h1.4m-0.4 0h1.4m-0.4 0h1.4m-0.4 0h1.4m0.6 0h1.4m-0.4 0h1.4m-0.4 0h1.4m-0.4 0h1.4m-0.4 0h1.4m-0.4 0h1.4m-0.4 0h1.4m-0.4 0h1.4m-0.4 0h1.4m0.6 0h1.4m1.6 0h1.4m2.6 0h1.4M436 805h1.4m16.6 0h1.4m2.6 0h1.4m-0.4 0h1.4m-0.4 0h1.4m3.6 0h1.4m0.6 0h1.4m-0.4 0h1.4m-0.4 0h1.4m-0.4 0h1.4m1.6 0h1.4m-0.4 0h1.4m1.6 0h1.4m-0.4 0h1.4m-0.4 0h1.4m0.6 0h1.4m-0.4 0h1.4m4.6 0h1.4m0.6 0h1.4M452 806h1.4m-0.4 0h1.4m0.6 0h1.4m1.6 0h1.4m0.6 0h1.4m-0.4 0h1.4m-0.4 0h1.4m-0.4 0h1.4m0.6 0h1.4m0.6 0h1.4m-0.4 0h1.4m-0.4 0h1.4m0.6 0h1.4m-0.4 0h1.4m0.6 0h1.4m0.6 0h1.4m-0.4 0h1.4m-0.4 0h1.4m0.6 0h1.4m-0.4 0h1.4m-0.4 0h1.4m-0.4 0h1.4m-0.4 0h1.4m0.6 0h1.4m0.6 0h1.4m-0.4 0h1.4m0.6 0h1.4m0.6 0h1.4m-0.4 0h1.4M414 807h1.4m27.6 0h1.4m-0.4 0h1.4m5.6 0h1.4m2.6 0h1.4m0.6 0h1.4m-0.4 0h1.4m-0.4 0h1.4m-0.4 0h1.4m2.6 0h1.4m0.6 0h1.4m3.6 0h1.4m-0.4 0h1.4m-0.4 0h1.4m-0.4 0h1.4m-0.4 0h1.4m0.6 0h1.4m-0.4 0h1.4m3.6 0h1.4m-0.4 0h1.4m-0.4 0h1.4m4.6 0h1.4m0.6 0h1.4M439 808h1.4m3.6 0h1.4m-0.4 0h1.4m-0.4 0h1.4m2.6 0h1.4m-0.4 0h1.4m0.6 0h1.4m-0.4 0h1.4m-0.4 0h1.4m-0.4 0h1.4m-0.4 0h1.4m-0.4 0h1.4m0.6 0h1.4m-0.4 0h1.4m-0.4 0h1.4m2.6 0h1.4m-0.4 0h1.4m-0.4 0h1.4m-0.4 0h1.4m-0.4 0h1.4m2.6 0h1.4m0.6 0h1.4m2.6 0h1.4m-0.4 0h1.4m-0.4 0h1.4m-0.4 0h1.4m-0.4 0h1.4m-0.4 0h1.4m0.6 0h1.4m1.6 0h1.4m2.6 0h1.4M446 809h1.4m-0.4 0h1.4m-0.4 0h1.4m-0.4 0h1.4m0.6 0h1.4m0.6 0h1.4m-0.4 0h1.4m-0.4 0h1.4m1.6 0h1.4m0.6 0h1.4m-0.4 0h1.4m0.6 0h1.4m0.6 0h1.4m0.6 0h1.4m2.6 0h1.4m1.6 0h1.4m2.6 0h1.4m-0.4 0h1.4m2.6 0h1.4m0.6 0h1.4m-0.4 0h1.4m0.6 0h1.4m0.6 0h1.4m-0.4 0h1.4m1.6 0h1.4M439 810h1.4m2.6 0h1.4m-0.4 0h1.4m3.6 0h1.4m-0.4 0h1.4m-0.4 0h1.4m2.6 0h1.4m0.6 0h1.4m2.6 0h1.4m2.6 0h1.4m-0.4 0h1.4m-0.4 0h1.4m-0.4 0h1.4m-0.4 0h1.4m0.6 0h1.4m-0.4 0h1.4m-0.4 0h1.4m-0.4 0h1.4m-0.4 0h1.4m0.6 0h1.4m-0.4 0h1.4m-0.4 0h1.4m-0.4 0h1.4m0.6 0h1.4m-0.4 0h1.4m0.6 0h1.4m-0.4 0h1.4m1.6 0h1.4m0.6 0h1.4m-0.4 0h1.4m-0.4 0h1.4M436 811h1.4m10.6 0h1.4m0.6 0h1.4m-0.4 0h1.4m-0.4 0h1.4m-0.4 0h1.4m2.6 0h1.4m0.6 0h1.4m1.6 0h1.4m-0.4 0h1.4m2.6 0h1.4m-0.4 0h1.4m0.6 0h1.4m-0.4 0h1.4m-0.4 0h1.4m-0.4 0h1.4m-0.4 0h1.4m-0.4 0h1.4m-0.4 0h1.4m0.6 0h1.4m1.6 0h1.4m3.6 0h1.4m2.6 0h1.4M439 812h1.4m3.6 0h1.4m-0.4 0h1.4m-0.4 0h1.4m4.6 0h1.4m-0.4 0h1.4m-0.4 0h1.4m1.6 0h1.4m-0.4 0h1.4m0.6 0h1.4m0.6 0h1.4m-0.4 0h1.4m1.6 0h1.4m0.6 0h1.4m-0.4 0h1.4m-0.4 0h1.4m-0.4 0h1.4m-0.4 0h1.4m-0.4 0h1.4m-0.4 0h1.4m-0.4 0h1.4m0.6 0h1.4m-0.4 0h1.4m-0.4 0h1.4m-0.4 0h1.4m-0.4 0h1.4m-0.4 0h1.4m-0.4 0h1.4m6.6 0h1.4m0.6 0h1.4M429 813h1.4m18.6 0h1.4m-0.4 0h1.4m-0.4 0h1.4m1.6 0h1.4m-0.4 0h1.4m-0.4 0h1.4m-0.4 0h1.4m1.6 0h1.4m-0.4 0h1.4m0.6 0h1.4m-0.4 0h1.4m0.6 0h1.4m-0.4 0h1.4m-0.4 0h1.4m0.6 0h1.4m-0.4 0h1.4m-0.4 0h1.4m0.6 0h1.4m-0.4 0h1.4m-0.4 0h1.4m-0.4 0h1.4m-0.4 0h1.4m4.6 0h1.4m0.6 0h1.4m1.6 0h1.4m1.6 0h1.4M447 814h1.4m3.6 0h1.4m-0.4 0h1.4m-0.4 0h1.4m-0.4 0h1.4m2.6 0h1.4m0.6 0h1.4m0.6 0h1.4m-0.4 0h1.4m-0.4 0h1.4m0.6 0h1.4m-0.4 0h1.4m-0.4 0h1.4m-0.4 0h1.4m-0.4 0h1.4m-0.4 0h1.4m-0.4 0h1.4m0.6 0h1.4m1.6 0h1.4m-0.4 0h1.4m2.6 0h1.4m0.6 0h1.4m-0.4 0h1.4m0.6 0h1.4m2.6 0h1.4M435 815h1.4m-0.4 0h1.4m8.6 0h1.4m1.6 0h1.4m-0.4 0h1.4m0.6 0h1.4m0.6 0h1.4m0.6 0h1.4m2.6 0h1.4m-0.4 0h1.4m0.6 0h1.4m1.6 0h1.4m0.6 0h1.4m-0.4 0h1.4m1.6 0h1.4m-0.4 0h1.4m2.6 0h1.4m1.6 0h1.4m-0.4 0h1.4m-0.4 0h1.4m0.6 0h1.4m-0.4 0h1.4m1.6 0h1.4m3.6 0h1.4M436 816h1.4m9.6 0h1.4m-0.4 0h1.4m3.6 0h1.4m2.6 0h1.4m-0.4 0h1.4m-0.4 0h1.4m-0.4 0h1.4m-0.4 0h1.4m2.6 0h1.4m0.6 0h1.4m-0.4 0h1.4m-0.4 0h1.4m-0.4 0h1.4m-0.4 0h1.4m-0.4 0h1.4m-0.4 0h1.4m-0.4 0h1.4m-0.4 0h1.4m0.6 0h1.4m1.6 0h1.4m-0.4 0h1.4m-0.4 0h1.4m0.6 0h1.4m-0.4 0h1.4m-0.4 0h1.4m-0.4 0h1.4m3.6 0h1.4M433 817h1.4m10.6 0h1.4m4.6 0h1.4m6.6 0h1.4m-0.4 0h1.4m-0.4 0h1.4m-0.4 0h1.4m3.6 0h1.4m-0.4 0h1.4m-0.4 0h1.4m2.6 0h1.4m-0.4 0h1.4m0.6 0h1.4m1.6 0h1.4m-0.4 0h1.4m1.6 0h1.4m-0.4 0h1.4m1.6 0h1.4M435 818h1.4m7.6 0h1.4m-0.4 0h1.4m4.6 0h1.4m3.6 0h1.4m0.6 0h1.4m0.6 0h1.4m-0.4 0h1.4m0.6 0h1.4m0.6 0h1.4m0.6 0h1.4m-0.4 0h1.4m-0.4 0h1.4m0.6 0h1.4m-0.4 0h1.4m-0.4 0h1.4m1.6 0h1.4m-0.4 0h1.4m-0.4 0h1.4m-0.4 0h1.4m0.6 0h1.4m0.6 0h1.4m0.6 0h1.4m-0.4 0h1.4m-0.4 0h1.4m3.6 0h1.4m0.6 0h1.4M437 819h1.4m1.6 0h1.4m-0.4 0h1.4m3.6 0h1.4m2.6 0h1.4m2.6 0h1.4m3.6 0h1.4m0.6 0h1.4m-0.4 0h1.4m-0.4 0h1.4m-0.4 0h1.4m-0.4 0h1.4m-0.4 0h1.4m2.6 0h1.4m0.6 0h1.4m1.6 0h1.4m2.6 0h1.4m2.6 0h1.4m2.6 0h1.4m1.6 0h1.4M446 820h1.4m0.6 0h1.4m-0.4 0h1.4m-0.4 0h1.4m6.6 0h1.4m0.6 0h1.4m0.6 0h1.4m0.6 0h1.4m-0.4 0h1.4m-0.4 0h1.4m-0.4 0h1.4m4.6 0h1.4m1.6 0h1.4m7.6 0h1.4m5.6 0h1.4m-0.4 0h1.4M432 821h1.4m17.6 0h1.4m0.6 0h1.4m0.6 0h1.4m9.6 0h1.4m0.6 0h1.4m0.6 0h1.4m-0.4 0h1.4m-0.4 0h1.4m-0.4 0h1.4m7.6 0h1.4m-0.4 0h1.4M449 822h1.4m0.6 0h1.4m0.6 0h1.4m0.6 0h1.4m7.6 0h1.4m0.6 0h1.4m-0.4 0h1.4m-0.4 0h1.4m-0.4 0h1.4m-0.4 0h1.4m-0.4 0h1.4m-0.4 0h1.4m-0.4 0h1.4m7.6 0h1.4m1.6 0h1.4m-0.4 0h1.4m3.6 0h1.4M447 823h1.4m6.6 0h1.4m0.6 0h1.4m-0.4 0h1.4m0.6 0h1.4m0.6 0h1.4m0.6 0h1.4m-0.4 0h1.4m3.6 0h1.4m3.6 0h1.4m-0.4 0h1.4m-0.4 0h1.4m0.6 0h1.4m1.6 0h1.4m-0.4 0h1.4M452 824h1.4m0.6 0h1.4m1.6 0h1.4m4.6 0h1.4m-0.4 0h1.4m-0.4 0h1.4m3.6 0h1.4m0.6 0h1.4m3.6 0h1.4m0.6 0h1.4m-0.4 0h1.4m1.6 0h1.4m2.6 0h1.4m2.6 0h1.4M437 825h1.4m4.6 0h1.4m6.6 0h1.4m4.6 0h1.4m6.6 0h1.4m-0.4 0h1.4m-0.4 0h1.4m-0.4 0h1.4m0.6 0h1.4m13.6 0h1.4m3.6 0h1.4m1.6 0h1.4M447 826h1.4m8.6 0h1.4m4.6 0h1.4m0.6 0h1.4m1.6 0h1.4m-0.4 0h1.4m1.6 0h1.4m1.6 0h1.4m-0.4 0h1.4m0.6 0h1.4m2.6 0h1.4m0.6 0h1.4m2.6 0h1.4m-0.4 0h1.4M437 827h1.4m6.6 0h1.4m3.6 0h1.4m4.6 0h1.4m5.6 0h1.4m0.6 0h1.4m0.6 0h1.4m7.6 0h1.4m9.6 0h1.4M427 828h1.4m6.6 0h1.4m7.6 0h1.4m0.6 0h1.4m5.6 0h1.4m16.6 0h1.4m6.6 0h1.4m6.6 0h1.4m-0.4 0h1.4m2.6 0h1.4M449 829h1.4m6.6 0h1.4m2.6 0h1.4m1.6 0h1.4m5.6 0h1.4m0.6 0h1.4m7.6 0h1.4m8.6 0h1.4M459 830h1.4m4.6 0h1.4m0.6 0h1.4m1.6 0h1.4m-0.4 0h1.4m10.6 0h1.4M442 831h1.4m10.6 0h1.4m22.6 0h1.4m11.6 0h1.4M469 832h1.4m-0.4 0h1.4M460 833h1.4m4.6 0h1.4m25.6 0h1.4M463 834h1.4M460 835h1.4M460 836h1.4M482 837h1.4M457 838h1.4M460 839h1.4M445 840h1.4M455 843h1.4M488 846h1.4"/>
<path stroke="#111" stroke-width="1.4" d="M449 770h1.4m7.6 0h1.4m1.6 0h1.4m-0.4 0h1.4m2.6 0h1.4m-0.4 0h1.4m2.6 0h1.4m0.6 0h1.4m-0.4 0h1.4m-0.4 0h1.4m1.6 0h1.4m0.6 0h1.4m0.6 0h1.4m-0.4 0h1.4m1.6 0h1.4m1.6 0h1.4M435 771h1.4m10.6 0h1.4m1.6 0h1.4m-0.4 0h1.4m5.6 0h1.4m1.6 0h1.4m-0.4 0h1.4m0.6 0h1.4m-0.4 0h1.4m1.6 0h1.4m0.6 0h1.4m1.6 0h1.4m1.6 0h1.4m-0.4 0h1.4m2.6 0h1.4m2.6 0h1.4m1.6 0h1.4M440 772h1.4m4.6 0h1.4m5.6 0h1.4m1.6 0h1.4m1.6 0h1.4m-0.4 0h1.4m-0.4 0h1.4m-0.4 0h1.4m0.6 0h1.4m1.6 0h1.4m-0.4 0h1.4m-0.4 0h1.4m2.6 0h1.4m0.6 0h1.4m-0.4 0h1.4m1.6 0h1.4m1.6 0h1.4m0.6 0h1.4m1.6 0h1.4m0.6 0h1.4M440 773h1.4m-0.4 0h1.4m10.6 0h1.4m10.6 0h1.4m0.6 0h1.4m-0.4 0h1.4m-0.4 0h1.4m5.6 0h1.4m-0.4 0h1.4m1.6 0h1.4m-0.4 0h1.4m0.6 0h1.4m2.6 0h1.4M449 774h1.4m-0.4 0h1.4m-0.4 0h1.4m0.6 0h1.4m-0.4 0h1.4m-0.4 0h1.4m5.6 0h1.4m1.6 0h1.4m1.6 0h1.4m1.6 0h1.4m-0.4 0h1.4m0.6 0h1.4m3.6 0h1.4m0.6 0h1.4m0.6 0h1.4m-0.4 0h1.4m-0.4 0h1.4M433 775h1.4m9.6 0h1.4m6.6 0h1.4m-0.4 0h1.4m3.6 0h1.4m-0.4 0h1.4m1.6 0h1.4m0.6 0h1.4m-0.4 0h1.4m-0.4 0h1.4m-0.4 0h1.4m1.6 0h1.4m1.6 0h1.4m2.6 0h1.4m-0.4 0h1.4m3.6 0h1.4m0.6 0h1.4m5.6 0h1.4M438 776h1.4m14.6 0h1.4m0.6 0h1.4m2.6 0h1.4m2.6 0h1.4m0.6 0h1.4m2.6 0h1.4m0.6 0h1.4m2.6 0h1.4m-0.4 0h1.4m-0.4 0h1.4m0.6 0h1.4m-0.4 0h1.4m5.6 0h1.4M441 777h1.4m2.6 0h1.4m-0.4 0h1.4m4.6 0h1.4m11.6 0h1.4m-0.4 0h1.4m-0.4 0h1.4m-0.4 0h1.4m0.6 0h1.4m1.6 0h1.4m0.6 0h1.4m2.6 0h1.4m1.6 0h1.4m0.6 0h1.4m5.6 0h1.4m-0.4 0h1.4M432 778h1.4m0.6 0h1.4m11.6 0h1.4m3.6 0h1.4m-0.4 0h1.4m1.6 0h1.4m0.6 0h1.4m0.6 0h1.4m-0.4 0h1.4m4.6 0h1.4m1.6 0h1.4m0.6 0h1.4m1.6 0h1.4m0.6 0h1.4m0.6 0h1.4m-0.4 0h1.4m4.6 0h1.4m4.6 0h1.4M449 779h1.4m0.6 0h1.4m2.6 0h1.4m0.6 0h1.4m5.6 0h1.4m0.6 0h1.4m0.6 0h1.4m-0.4 0h1.4m0.6 0h1.4m-0.4 0h1.4m1.6 0h1.4m4.6 0h1.4m-0.4 0h1.4m4.6 0h1.4m-0.4 0h1.4m-0.4 0h1.4m-0.4 0h1.4m0.6 0h1.4M443 780h1.4m3.6 0h1.4m1.6 0h1.4m10.6 0h1.4m-0.4 0h1.4m2.6 0h1.4m-0.4 0h1.4m0.6 0h1.4m0.6 0h1.4m2.6 0h1.4m0.6 0h1.4m5.6 0h1.4m-0.4 0h1.4m5.6 0h1.4M439 781h1.4m4.6 0h1.4m-0.4 0h1.4m13.6 0h1.4m-0.4 0h1.4m4.6 0h1.4m0.6 0h1.4m0.6 0h1.4m-0.4 0h1.4m1.6 0h1.4m0.6 0h1.4m0.6 0h1.4m-0.4 0h1.4m-0.4 0h1.4m0.6 0h1.4m-0.4 0h1.4m2.6 0h1.4m-0.4 0h1.4m-0.4 0h1.4m0.6 0h1.4M437 782h1.4m13.6 0h1.4m2.6 0h1.4m0.6 0h1.4m0.6 0h1.4m0.6 0h1.4m-0.4 0h1.4m5.6 0h1.4m-0.4 0h1.4m1.6 0h1.4m4.6 0h1.4m0.6 0h1.4m-0.4 0h1.4m1.6 0h1.4m0.6 0h1.4m0.6 0h1.4M447 783h1.4m0.6 0h1.4m4.6 0h1.4m0.6 0h1.4m0.6 0h1.4m0.6 0h1.4m0.6 0h1.4m6.6 0h1.4m1.6 0h1.4m-0.4 0h1.4m-0.4 0h1.4m0.6 0h1.4m1.6 0h1.4m3.6 0h1.4M438 784h1.4m12.6 0h1.4m7.6 0h1.4m-0.4 0h1.4m5.6 0h1.4m-0.4 0h1.4m0.6 0h1.4m-0.4 0h1.4m-0.4 0h1.4m3.6 0h1.4m0.6 0h1.4m-0.4 0h1.4m4.6 0h1.4m-0.4 0h1.4m1.6 0h1.4M446 785h1.4m1.6 0h1.4m7.6 0h1.4m-0.4 0h1.4m2.6 0h1.4m0.6 0h1.4m0.6 0h1.4m2.6 0h1.4m-0.4 0h1.4m2.6 0h1.4m4.6 0h1.4m-0.4 0h1.4m5.6 0h1.4m-0.4 0h1.4M442 786h1.4m7.6 0h1.4m0.6 0h1.4m0.6 0h1.4m1.6 0h1.4m1.6 0h1.4m0.6 0h1.4m0.6 0h1.4m3.6 0h1.4m-0.4 0h1.4m3.6 0h1.4m0.6 0h1.4m-0.4 0h1.4m-0.4 0h1.4m0.6 0h1.4m-0.4 0h1.4m2.6 0h1.4m2.6 0h1.4M419 787h1.4m14.6 0h1.4m1.6 0h1.4m4.6 0h1.4m5.6 0h1.4m3.6 0h1.4m2.6 0h1.4m-0.4 0h1.4m-0.4 0h1.4m2.6 0h1.4m-0.4 0h1.4m2.6 0h1.4m3.6 0h1.4m0.6 0h1.4m2.6 0h1.4m1.6 0h1.4m0.6 0h1.4m-0.4 0h1.4m0.6 0h1.4m-0.4 0h1.4M440 788h1.4m0.6 0h1.4m2.6 0h1.4m3.6 0h1.4m-0.4 0h1.4m1.6 0h1.4m-0.4 0h1.4m4.6 0h1.4m0.6 0h1.4m0.6 0h1.4m0.6 0h1.4m0.6 0h1.4m-0.4 0h1.4m0.6 0h1.4m1.6 0h1.4m-0.4 0h1.4m-0.4 0h1.4m0.6 0h1.4m-0.4 0h1.4m0.6 0h1.4m2.6 0h1.4m-0.4 0h1.4M443 789h1.4m16.6 0h1.4m2.6 0h1.4m6.6 0h1.4m-0.4 0h1.4m0.6 0h1.4m1.6 0h1.4m-0.4 0h1.4m-0.4 0h1.4m1.6 0h1.4m0.6 0h1.4m0.6 0h1.4m3.6 0h1.4"/>
<path stroke="#111" stroke-width="1.2" d="M493 640h1.2m23.8 0h1.2m39.8 0h1.2M479 642h1.2m26.8 0h1.2M431 643h1.2m1.8 0h1.2M415 644h1.2m52.8 0h1.2M530 645h1.2M453 646h1.2m14.8 0h1.2m18.8 0h1.2M435 647h1.2M477 650h1.2m17.8 0h1.2M447 651h1.2M523 652h1.2M447 653h1.2m1.8 0h1.2m15.8 0h1.2M441 654h1.2m-0.2 0h1.2m41.8 0h1.2M459 655h1.2m5.8 0h1.2m19.8 0h1.2m4.8 0h1.2M464 656h1.2m21.8 0h1.2m49.8 0h1.2M422 658h1.2m19.8 0h1.2m24.8 0h1.2m9.8 0h1.2M460 659h1.2m10.8 0h1.2M435 661h1.2m1.8 0h1.2m50.8 0h1.2M441 662h1.2m18.8 0h1.2m11.8 0h1.2m29.8 0h1.2M463 663h1.2M444 664h1.2m79.8 0h1.2M424 667h1.2M478 668h1.2m22.8 0h1.2M435 669h1.2m15.8 0h1.2m30.8 0h1.2M429 670h1.2M434 671h1.2m31.8 0h1.2M412 672h1.2m52.8 0h1.2m8.8 0h1.2M453 673h1.2m32.8 0h1.2m13.8 0h1.2M465 674h1.2m39.8 0h1.2M484 675h1.2m1.8 0h1.2M444 677h1.2m54.8 0h1.2m17.8 0h1.2M485 678h1.2m3.8 0h1.2M443 679h1.2m54.8 0h1.2M469 681h1.2m6.8 0h1.2m4.8 0h1.2M481 682h1.2M449 683h1.2m24.8 0h1.2M477 684h1.2m16.8 0h1.2M449 685h1.2m3.8 0h1.2m13.8 0h1.2m1.8 0h1.2m7.8 0h1.2M452 686h1.2m12.8 0h1.2m5.8 0h1.2M447 687h1.2m39.8 0h1.2M429 688h1.2m36.8 0h1.2m1.8 0h1.2m5.8 0h1.2m11.8 0h1.2M454 689h1.2m12.8 0h1.2m53.8 0h1.2M495 690h1.2m3.8 0h1.2m10.8 0h1.2M447 691h1.2m7.8 0h1.2M463 692h1.2M482 694h1.2M431 695h1.2m61.8 0h1.2m0.8 0h1.2m33.8 0h1.2M493 696h1.2M496 697h1.2M422 698h1.2m14.8 0h1.2m29.8 0h1.2m7.8 0h1.2m-0.2 0h1.2M426 699h1.2m32.8 0h1.2m42.8 0h1.2m5.8 0h1.2M430 700h1.2m6.8 0h1.2m3.8 0h1.2m17.8 0h1.2m67.8 0h1.2M430 701h1.2M463 702h1.2M451 703h1.2m31.8 0h1.2M430 704h1.2m21.8 0h1.2m28.8 0h1.2M469 705h1.2M452 706h1.2m6.8 0h1.2m43.8 0h1.2m2.8 0h1.2m14.8 0h1.2M482 707h1.2M418 708h1.2m22.8 0h1.2m6.8 0h1.2M413 709h1.2m36.8 0h1.2m36.8 0h1.2M510 710h1.2M447 711h1.2m23.8 0h1.2M474 712h1.2M475 713h1.2M478 714h1.2M476 717h1.2m22.8 0h1.2M408 718h1.2m10.8 0h1.2m57.8 0h1.2m3.8 0h1.2M454 720h1.2m24.8 0h1.2M445 721h1.2m36.8 0h1.2M468 722h1.2m0.8 0h1.2m23.8 0h1.2M449 723h1.2m12.8 0h1.2m0.8 0h1.2M481 724h1.2M466 725h1.2M448 726h1.2m15.8 0h1.2m3.8 0h1.2M446 727h1.2M496 728h1.2M438 729h1.2m0.8 0h1.2m4.8 0h1.2M435 730h1.2M444 731h1.2m41.8 0h1.2M425 732h1.2m40.8 0h1.2m3.8 0h1.2m14.8 0h1.2m-0.2 0h1.2M436 733h1.2m5.8 0h1.2m49.8 0h1.2M469 734h1.2M462 737h1.2m0.8 0h1.2m25.8 0h1.2M414 738h1.2M461 739h1.2M443 740h1.2m17.8 0h1.2M434 742h1.2m29.8 0h1.2M466 743h1.2M448 745h1.2m3.8 0h1.2m21.8 0h1.2M435 747h1.2m9.8 0h1.2M446 748h1.2M465 749h1.2M414 750h1.2m26.8 0h1.2m22.8 0h1.2m22.8 0h1.2M432 751h1.2m34.8 0h1.2m16.8 0h1.2M458 752h1.2M443 753h1.2M482 754h1.2M414 755h1.2m39.8 0h1.2m13.8 0h1.2M444 756h1.2M416 757h1.2M424 758h1.2m37.8 0h1.2m15.8 0h1.2M465 759h1.2M482 760h1.2M445 761h1.2m5.8 0h1.2M448 762h1.2M452 764h1.2M451 765h1.2m13.8 0h1.2m6.8 0h1.2M431 766h1.2m9.8 0h1.2M458 767h1.2M448 768h1.2m20.8 0h1.2m2.8 0h1.2m14.8 0h1.2M432 770h1.2m32.8 0h1.2M478 771h1.2M440 772h1.2m7.8 0h1.2M432 773h1.2m31.8 0h1.2M462 774h1.2m23.8 0h1.2m0.8 0h1.2M427 776h1.2M437 777h1.2m2.8 0h1.2m34.8 0h1.2M416 778h1.2m6.8 0h1.2m5.8 0h1.2m45.8 0h1.2m7.8 0h1.2M458 779h1.2M476 780h1.2M466 781h1.2m2.8 0h1.2M423 783h1.2m26.8 0h1.2M434 784h1.2m18.8 0h1.2M446 785h1.2m12.8 0h1.2m6.8 0h1.2m0.8 0h1.2M461 786h1.2M429 789h1.2M443 790h1.2m29.8 0h1.2m17.8 0h1.2M417 791h1.2m62.8 0h1.2M416 792h1.2m32.8 0h1.2m7.8 0h1.2m2.8 0h1.2m4.8 0h1.2m4.8 0h1.2M472 794h1.2M435 795h1.2m35.8 0h1.2M448 796h1.2m8.8 0h1.2M422 798h1.2m13.8 0h1.2m5.8 0h1.2M462 799h1.2m17.8 0h1.2M455 801h1.2m5.8 0h1.2m3.8 0h1.2M444 802h1.2m11.8 0h1.2M454 803h1.2M474 805h1.2M478 806h1.2M435 807h1.2m46.8 0h1.2M453 808h1.2M421 809h1.2M426 810h1.2m35.8 0h1.2M488 811h1.2M474 812h1.2M477 814h1.2m3.8 0h1.2M472 816h1.2M455 817h1.2m23.8 0h1.2M414 819h1.2M427 820h1.2m6.8 0h1.2m45.8 0h1.2M483 821h1.2M418 822h1.2m36.8 0h1.2m8.8 0h1.2M461 823h1.2M471 824h1.2M471 825h1.2M414 826h1.2m34.8 0h1.2m7.8 0h1.2M483 828h1.2M423 830h1.2m27.8 0h1.2M467 831h1.2M481 832h1.2M419 834h1.2m42.8 0h1.2m9.8 0h1.2M463 835h1.2M443 836h1.2M452 837h1.2m32.8 0h1.2"/>
<path stroke="#111" stroke-width="1.4" d="M576 636h1.4m0.6 0h1.4m8.6 0h1.4m1.6 0h1.4M566 637h1.4M576 638h1.4M563 639h1.4m22.6 0h1.4M577 640h1.4m3.6 0h1.4m2.6 0h1.4m-0.4 0h1.4M581 641h1.4m3.6 0h1.4M575 642h1.4m2.6 0h1.4M570 643h1.4m4.6 0h1.4m2.6 0h1.4M569 644h1.4m15.6 0h1.4M582 645h1.4M558 646h1.4m8.6 0h1.4M580 647h1.4m0.6 0h1.4M546 648h1.4m27.6 0h1.4M552 649h1.4m3.6 0h1.4m7.6 0h1.4m4.6 0h1.4M544 650h1.4m28.6 0h1.4m2.6 0h1.4M573 651h1.4M569 652h1.4m4.6 0h1.4M565 653h1.4m1.6 0h1.4m1.6 0h1.4M557 654h1.4m10.6 0h1.4m2.6 0h1.4m2.6 0h1.4M562 655h1.4m8.6 0h1.4M559 656h1.4m14.6 0h1.4M566 657h1.4m-0.4 0h1.4M564 658h1.4m6.6 0h1.4M555 659h1.4m8.6 0h1.4m2.6 0h1.4M562 660h1.4m3.6 0h1.4M545 661h1.4m10.6 0h1.4m1.6 0h1.4m-0.4 0h1.4m2.6 0h1.4m3.6 0h1.4M550 662h1.4m2.6 0h1.4m3.6 0h1.4m1.6 0h1.4m1.6 0h1.4m3.6 0h1.4M548 663h1.4m10.6 0h1.4m0.6 0h1.4m1.6 0h1.4m1.6 0h1.4M553 664h1.4m3.6 0h1.4m3.6 0h1.4m-0.4 0h1.4M552 665h1.4m4.6 0h1.4m1.6 0h1.4m-0.4 0h1.4M544 666h1.4m11.6 0h1.4m-0.4 0h1.4M552 667h1.4m1.6 0h1.4M551 668h1.4m5.6 0h1.4m0.6 0h1.4M548 669h1.4m8.6 0h1.4m1.6 0h1.4m0.6 0h1.4M553 670h1.4m5.6 0h1.4M523 671h1.4m32.6 0h1.4M545 672h1.4m1.6 0h1.4m6.6 0h1.4M548 673h1.4m4.6 0h1.4M539 674h1.4m4.6 0h1.4m0.6 0h1.4M550 675h1.4M551 676h1.4M542 677h1.4m3.6 0h1.4m7.6 0h1.4M534 678h1.4m14.6 0h1.4M541 679h1.4m0.6 0h1.4m-0.4 0h1.4m9.6 0h1.4M548 680h1.4m0.6 0h1.4m-0.4 0h1.4m-0.4 0h1.4M548 681h1.4M527 682h1.4m17.6 0h1.4M536 684h1.4M532 685h1.4m-0.4 0h1.4m7.6 0h1.4m-0.4 0h1.4m1.6 0h1.4M515 686h1.4m14.6 0h1.4m3.6 0h1.4m6.6 0h1.4m1.6 0h1.4M538 687h1.4m5.6 0h1.4M513 688h1.4M521 689h1.4m15.6 0h1.4M522 690h1.4m9.6 0h1.4M525 691h1.4m14.6 0h1.4m-0.4 0h1.4M532 692h1.4m2.6 0h1.4m1.6 0h1.4M520 693h1.4m3.6 0h1.4m7.6 0h1.4M517 694h1.4M523 695h1.4m8.6 0h1.4m0.6 0h1.4M498 696h1.4m23.6 0h1.4m5.6 0h1.4m-0.4 0h1.4m1.6 0h1.4M514 697h1.4m6.6 0h1.4m1.6 0h1.4m0.6 0h1.4m-0.4 0h1.4M515 698h1.4m10.6 0h1.4m0.6 0h1.4m0.6 0h1.4M528 699h1.4"/></g>
<linearGradient id="g327_0" x1="461.0" x2="479.0" y1="0" y2="0" gradientUnits="userSpaceOnUse"><stop offset="0" stop-color="#58d8f0" stop-opacity="0"/><stop offset="1" stop-color="#58d8f0" stop-opacity="0.45"/></linearGradient>
<path d="M461.0 688.6 L541.0 688.6 L539.9 694.2 L461.0 694.2Z" fill="url(#g327_0)"/>
<linearGradient id="g327_2" x1="459.0" x2="475.0" y1="0" y2="0" gradientUnits="userSpaceOnUse"><stop offset="0" stop-color="#111" stop-opacity="0"/><stop offset="1" stop-color="#111" stop-opacity="0.30"/></linearGradient>
<path d="M459.0 696.0 L538.1 696.0 L518.1 722.5 L459.0 722.5Z" fill="url(#g327_2)"/>
<linearGradient id="g327_4" x1="462.0" x2="474.0" y1="0" y2="0" gradientUnits="userSpaceOnUse"><stop offset="0" stop-color="#f5a01c" stop-opacity="0"/><stop offset="1" stop-color="#f5a01c" stop-opacity="1.00"/></linearGradient>
<path d="M462.0 723.6 L517.4 723.6 L514.8 731.2 L462.0 731.2Z" fill="url(#g327_4)"/>
<linearGradient id="g327_6" x1="465.0" x2="475.0" y1="0" y2="0" gradientUnits="userSpaceOnUse"><stop offset="0" stop-color="#111" stop-opacity="0"/><stop offset="1" stop-color="#111" stop-opacity="0.85"/></linearGradient>
<path d="M465.0 731.2 L514.8 731.2 L514.2 733.2 L465.0 733.2Z" fill="url(#g327_6)"/>
<linearGradient id="g327_8" x1="468.0" x2="478.0" y1="0" y2="0" gradientUnits="userSpaceOnUse"><stop offset="0" stop-color="#8e2a6e" stop-opacity="0"/><stop offset="1" stop-color="#8e2a6e" stop-opacity="1.00"/></linearGradient>
<path d="M468.0 733.0 L514.2 733.0 L511.8 739.3 L468.0 739.3Z" fill="url(#g327_8)"/>
<linearGradient id="g327_10" x1="463.0" x2="475.0" y1="0" y2="0" gradientUnits="userSpaceOnUse"><stop offset="0" stop-color="#0c0c0c" stop-opacity="0"/><stop offset="1" stop-color="#0c0c0c" stop-opacity="0.95"/></linearGradient>
<path d="M463.0 739.8 L511.6 739.8 L507.2 751.8 L463.0 751.8Z" fill="url(#g327_10)"/>
<linearGradient id="g327_12" x1="451.0" x2="471.0" y1="0" y2="0" gradientUnits="userSpaceOnUse"><stop offset="0" stop-color="#f2141c" stop-opacity="0"/><stop offset="1" stop-color="#f2141c" stop-opacity="1.00"/></linearGradient>
<path d="M451.0 752.2 L499.0 752.2 L499.0 758.2 L451.0 758.2Z" fill="url(#g327_12)"/>
<linearGradient id="g327_14" x1="459.0" x2="471.0" y1="0" y2="0" gradientUnits="userSpaceOnUse"><stop offset="0" stop-color="#111" stop-opacity="0"/><stop offset="1" stop-color="#111" stop-opacity="0.60"/></linearGradient>
<path d="M459.0 758.4 L497.0 758.4 L497.0 767.4 L459.0 767.4Z" fill="url(#g327_14)"/>
<linearGradient id="g327_16" x1="453.0" x2="473.0" y1="0" y2="0" gradientUnits="userSpaceOnUse"><stop offset="0" stop-color="#eea4a4" stop-opacity="0"/><stop offset="1" stop-color="#eea4a4" stop-opacity="0.90"/></linearGradient>
<path d="M453.0 767.6 L494.5 767.6 L494.5 774.2 L453.0 774.2Z" fill="url(#g327_16)"/>
<linearGradient id="g327_18" x1="437.0" x2="463.0" y1="0" y2="0" gradientUnits="userSpaceOnUse"><stop offset="0" stop-color="#cfc874" stop-opacity="0"/><stop offset="1" stop-color="#cfc874" stop-opacity="0.72"/></linearGradient>
<path d="M437.0 782.2 L494.0 782.2 L494.0 795.6 L437.0 795.6Z" fill="url(#g327_18)"/>
<path d="M507.2 751.0 L509.0 746.4 L510.8 741.8 L512.7 737.2 L514.4 732.5 L515.9 727.9 L517.6 723.3 L520.3 718.7 L523.1 714.1 L526.2 709.5 L529.8 704.8 L533.8 700.2 L538.4 695.6 L543.2 691.0 L543.2 691.5 L542.0 696.1 L540.3 700.7 L538.4 705.3 L536.4 710.0 L534.3 714.6 L531.9 719.2 L529.2 723.8 L527.1 728.4 L524.8 733.0 L522.0 737.7 L518.9 742.3 L515.6 746.9 L512.2 751.5Z" fill="#1e1ee6"/>
<g transform="translate(0.25 0.5)" fill="none"><path stroke="#60c860" stroke-width="1.1" d="M463 672h1.1M429 673h1.1m3.9 0h1.1m19.9 0h1.1m-0.1 0h1.1m1.9 0h1.1m0.9 0h1.1m0.9 0h1.1m3.9 0h1.1m2.9 0h1.1m0.9 0h1.1m-0.1 0h1.1m1.9 0h1.1m0.9 0h1.1m2.9 0h1.1m0.9 0h1.1m4.9 0h1.1m14.9 0h1.1m3.9 0h1.1m0.9 0h1.1m10.9 0h1.1m5.9 0h1.1M427 674h1.1m6.9 0h1.1m15.9 0h1.1m7.9 0h1.1m-0.1 0h1.1m-0.1 0h1.1m0.9 0h1.1m1.9 0h1.1m3.9 0h1.1m2.9 0h1.1m-0.1 0h1.1m0.9 0h1.1m0.9 0h1.1m-0.1 0h1.1m-0.1 0h1.1m5.9 0h1.1m-0.1 0h1.1m0.9 0h1.1m2.9 0h1.1m-0.1 0h1.1m3.9 0h1.1m-0.1 0h1.1m-0.1 0h1.1m7.9 0h1.1m-0.1 0h1.1m-0.1 0h1.1m1.9 0h1.1m-0.1 0h1.1m-0.1 0h1.1m1.9 0h1.1m2.9 0h1.1m1.9 0h1.1m1.9 0h1.1m1.9 0h1.1m12.9 0h1.1M477 675h1.1m38.9 0h1.1"/>
<path stroke="#a05050" stroke-width="1.1" d="M432 682h1.1m9.9 0h1.1m9.9 0h1.1m19.9 0h1.1m-0.1 0h1.1m3.9 0h1.1m-0.1 0h1.1m-0.1 0h1.1m-0.1 0h1.1m0.9 0h1.1m8.9 0h1.1m10.9 0h1.1m3.9 0h1.1m4.9 0h1.1m-0.1 0h1.1m-0.1 0h1.1m2.9 0h1.1m-0.1 0h1.1m0.9 0h1.1m-0.1 0h1.1m0.9 0h1.1m14.9 0h1.1m1.9 0h1.1m1.9 0h1.1M449 683h1.1m6.9 0h1.1m6.9 0h1.1m7.9 0h1.1m0.9 0h1.1m2.9 0h1.1m1.9 0h1.1m-0.1 0h1.1m-0.1 0h1.1m-0.1 0h1.1m5.9 0h1.1m-0.1 0h1.1m0.9 0h1.1m-0.1 0h1.1m0.9 0h1.1m0.9 0h1.1m0.9 0h1.1m-0.1 0h1.1m-0.1 0h1.1m1.9 0h1.1m-0.1 0h1.1m1.9 0h1.1m0.9 0h1.1m-0.1 0h1.1m-0.1 0h1.1m0.9 0h1.1m-0.1 0h1.1m4.9 0h1.1m0.9 0h1.1m1.9 0h1.1m0.9 0h1.1m5.9 0h1.1m7.9 0h1.1m11.9 0h1.1m10.9 0h1.1M455 684h1.1m22.9 0h1.1m11.9 0h1.1m23.9 0h1.1m-0.1 0h1.1m12.9 0h1.1m20.9 0h1.1"/>
<path stroke="#40d0f0" stroke-width="1.2" d="M487 685h1.2M491 686h1.2m-0.2 0h1.2M487 687h1.2m6.8 0h1.2m-0.2 0h1.2m5.8 0h1.2m7.8 0h1.2m7.8 0h1.2M458 688h1.2m12.8 0h1.2m3.8 0h1.2m4.8 0h1.2m17.8 0h1.2m5.8 0h1.2m4.8 0h1.2m-0.2 0h1.2m0.8 0h1.2m5.8 0h1.2m3.8 0h1.2M453 689h1.2m1.8 0h1.2m8.8 0h1.2m0.8 0h1.2m-0.2 0h1.2m1.8 0h1.2m5.8 0h1.2m-0.2 0h1.2m-0.2 0h1.2m-0.2 0h1.2m-0.2 0h1.2m-0.2 0h1.2m0.8 0h1.2m0.8 0h1.2m-0.2 0h1.2m-0.2 0h1.2m6.8 0h1.2m1.8 0h1.2m2.8 0h1.2m-0.2 0h1.2m3.8 0h1.2m6.8 0h1.2m1.8 0h1.2m5.8 0h1.2m2.8 0h1.2m1.8 0h1.2m3.8 0h1.2m-0.2 0h1.2M435 690h1.2m10.8 0h1.2m8.8 0h1.2m0.8 0h1.2m5.8 0h1.2m3.8 0h1.2m1.8 0h1.2m3.8 0h1.2m-0.2 0h1.2m0.8 0h1.2m0.8 0h1.2m3.8 0h1.2m0.8 0h1.2m3.8 0h1.2m-0.2 0h1.2m-0.2 0h1.2m0.8 0h1.2m-0.2 0h1.2m-0.2 0h1.2m2.8 0h1.2m-0.2 0h1.2m-0.2 0h1.2m-0.2 0h1.2m2.8 0h1.2m-0.2 0h1.2m1.8 0h1.2m0.8 0h1.2m-0.2 0h1.2m-0.2 0h1.2m1.8 0h1.2m9.8 0h1.2M450 691h1.2m11.8 0h1.2m3.8 0h1.2m-0.2 0h1.2m4.8 0h1.2m11.8 0h1.2m0.8 0h1.2m0.8 0h1.2m4.8 0h1.2m-0.2 0h1.2m-0.2 0h1.2m0.8 0h1.2m-0.2 0h1.2m-0.2 0h1.2m3.8 0h1.2m7.8 0h1.2m1.8 0h1.2m0.8 0h1.2m5.8 0h1.2m0.8 0h1.2m1.8 0h1.2m0.8 0h1.2M453 692h1.2m5.8 0h1.2m1.8 0h1.2m9.8 0h1.2m-0.2 0h1.2m3.8 0h1.2m2.8 0h1.2m4.8 0h1.2m10.8 0h1.2m3.8 0h1.2m2.8 0h1.2m0.8 0h1.2m4.8 0h1.2m5.8 0h1.2M456 693h1.2m7.8 0h1.2m-0.2 0h1.2m18.8 0h1.2m3.8 0h1.2m1.8 0h1.2m0.8 0h1.2m5.8 0h1.2m0.8 0h1.2m1.8 0h1.2M475 694h1.2m31.8 0h1.2"/>
<path stroke="#40d8f0" stroke-width="1.2" d="M444 689h1.2m-0.2 0h1.2m0.8 0h1.2m0.8 0h1.2m2.8 0h1.2m1.8 0h1.2m0.8 0h1.2m-0.2 0h1.2m1.8 0h1.2m-0.2 0h1.2m-0.2 0h1.2m-0.2 0h1.2m2.8 0h1.2m4.8 0h1.2m-0.2 0h1.2m2.8 0h1.2m5.8 0h1.2m0.8 0h1.2M448 690h1.2m6.8 0h1.2m1.8 0h1.2m1.8 0h1.2m0.8 0h1.2m-0.2 0h1.2m-0.2 0h1.2m0.8 0h1.2m1.8 0h1.2m-0.2 0h1.2m-0.2 0h1.2m0.8 0h1.2m-0.2 0h1.2m14.8 0h1.2M445 691h1.2m0.8 0h1.2m0.8 0h1.2m4.8 0h1.2m2.8 0h1.2m-0.2 0h1.2m-0.2 0h1.2m3.8 0h1.2m-0.2 0h1.2m1.8 0h1.2m-0.2 0h1.2m2.8 0h1.2m0.8 0h1.2m9.8 0h1.2M451 692h1.2m1.8 0h1.2m1.8 0h1.2m0.8 0h1.2m-0.2 0h1.2m-0.2 0h1.2m3.8 0h1.2m3.8 0h1.2m0.8 0h1.2m7.8 0h1.2m-0.2 0h1.2m-0.2 0h1.2m3.8 0h1.2M454 693h1.2m-0.2 0h1.2m1.8 0h1.2m2.8 0h1.2m-0.2 0h1.2m-0.2 0h1.2m-0.2 0h1.2m2.8 0h1.2m-0.2 0h1.2"/>
<path stroke="#f7b040" stroke-width="1.2" d="M450 724h1.2m1.8 0h1.2m2.8 0h1.2m1.8 0h1.2m4.8 0h1.2m-0.2 0h1.2m3.8 0h1.2m0.8 0h1.2M447 725h1.2m-0.2 0h1.2m13.8 0h1.2m-0.2 0h1.2m-0.2 0h1.2m0.8 0h1.2m5.8 0h1.2m12.8 0h1.2m0.8 0h1.2M435 726h1.2m2.8 0h1.2m9.8 0h1.2m-0.2 0h1.2m0.8 0h1.2m4.8 0h1.2m3.8 0h1.2m0.8 0h1.2m7.8 0h1.2m8.8 0h1.2M450 727h1.2m0.8 0h1.2m-0.2 0h1.2m-0.2 0h1.2m4.8 0h1.2m0.8 0h1.2m1.8 0h1.2m-0.2 0h1.2m28.8 0h1.2M440 728h1.2m2.8 0h1.2m1.8 0h1.2m7.8 0h1.2m4.8 0h1.2m-0.2 0h1.2m0.8 0h1.2m-0.2 0h1.2m-0.2 0h1.2m5.8 0h1.2m12.8 0h1.2M425 729h1.2m16.8 0h1.2m-0.2 0h1.2m4.8 0h1.2m0.8 0h1.2m0.8 0h1.2m0.8 0h1.2m9.8 0h1.2m4.8 0h1.2m1.8 0h1.2M447 730h1.2m-0.2 0h1.2m0.8 0h1.2m4.8 0h1.2m-0.2 0h1.2m1.8 0h1.2m3.8 0h1.2m0.8 0h1.2m6.8 0h1.2m2.8 0h1.2"/>
<path stroke="#f06060" stroke-width="1.2" d="M423 752h1.2m8.8 0h1.2m6.8 0h1.2m0.8 0h1.2m2.8 0h1.2m4.8 0h1.2m4.8 0h1.2m0.8 0h1.2m3.8 0h1.2m0.8 0h1.2m0.8 0h1.2M431 753h1.2m7.8 0h1.2m-0.2 0h1.2m-0.2 0h1.2m3.8 0h1.2m1.8 0h1.2m0.8 0h1.2m3.8 0h1.2m1.8 0h1.2m6.8 0h1.2m0.8 0h1.2m1.8 0h1.2m-0.2 0h1.2M428 754h1.2m8.8 0h1.2m0.8 0h1.2m5.8 0h1.2m-0.2 0h1.2m-0.2 0h1.2m5.8 0h1.2m2.8 0h1.2m6.8 0h1.2M442 755h1.2m6.8 0h1.2m2.8 0h1.2m-0.2 0h1.2m3.8 0h1.2m-0.2 0h1.2m3.8 0h1.2m-0.2 0h1.2m-0.2 0h1.2M434 756h1.2m4.8 0h1.2m-0.2 0h1.2m3.8 0h1.2m-0.2 0h1.2m-0.2 0h1.2m7.8 0h1.2m1.8 0h1.2m-0.2 0h1.2m1.8 0h1.2M426 757h1.2m10.8 0h1.2m0.8 0h1.2m3.8 0h1.2m4.8 0h1.2m-0.2 0h1.2m-0.2 0h1.2m-0.2 0h1.2m-0.2 0h1.2m0.8 0h1.2m-0.2 0h1.2m-0.2 0h1.2m-0.2 0h1.2m0.8 0h1.2m3.8 0h1.2m1.8 0h1.2m1.8 0h1.2"/>
<path stroke="#f4b0b0" stroke-width="1.2" d="M426 768h1.2m9.8 0h1.2m6.8 0h1.2m1.8 0h1.2m5.8 0h1.2m3.8 0h1.2m9.8 0h1.2M432 769h1.2m5.8 0h1.2m0.8 0h1.2m0.8 0h1.2m0.8 0h1.2m-0.2 0h1.2m-0.2 0h1.2m5.8 0h1.2m-0.2 0h1.2m3.8 0h1.2m-0.2 0h1.2m1.8 0h1.2m7.8 0h1.2M431 770h1.2m-0.2 0h1.2m2.8 0h1.2m3.8 0h1.2m-0.2 0h1.2m2.8 0h1.2m0.8 0h1.2m1.8 0h1.2m1.8 0h1.2m0.8 0h1.2m0.8 0h1.2m1.8 0h1.2m-0.2 0h1.2m-0.2 0h1.2m16.8 0h1.2M433 771h1.2m0.8 0h1.2m2.8 0h1.2m2.8 0h1.2m2.8 0h1.2m2.8 0h1.2m-0.2 0h1.2m-0.2 0h1.2m2.8 0h1.2m1.8 0h1.2m0.8 0h1.2m4.8 0h1.2m1.8 0h1.2M434 772h1.2m3.8 0h1.2m-0.2 0h1.2m-0.2 0h1.2m3.8 0h1.2m1.8 0h1.2m1.8 0h1.2m0.8 0h1.2m17.8 0h1.2M427 773h1.2m1.8 0h1.2m8.8 0h1.2m1.8 0h1.2m-0.2 0h1.2m-0.2 0h1.2m1.8 0h1.2m3.8 0h1.2m2.8 0h1.2m1.8 0h1.2m0.8 0h1.2m-0.2 0h1.2m1.8 0h1.2m3.8 0h1.2"/>
<path stroke="#d8d480" stroke-width="1.2" d="M429 782h1.2m-0.2 0h1.2m0.8 0h1.2m9.8 0h1.2m1.8 0h1.2m-0.2 0h1.2m0.8 0h1.2M420 783h1.2m4.8 0h1.2m9.8 0h1.2m10.8 0h1.2m0.8 0h1.2m16.8 0h1.2M425 784h1.2m0.8 0h1.2m9.8 0h1.2m2.8 0h1.2m0.8 0h1.2m11.8 0h1.2M429 785h1.2m4.8 0h1.2m0.8 0h1.2m2.8 0h1.2m-0.2 0h1.2m-0.2 0h1.2m5.8 0h1.2m0.8 0h1.2m1.8 0h1.2M439 786h1.2m6.8 0h1.2m3.8 0h1.2M438 787h1.2m1.8 0h1.2m2.8 0h1.2m4.8 0h1.2M434 788h1.2m-0.2 0h1.2m-0.2 0h1.2m9.8 0h1.2M417 789h1.2m10.8 0h1.2m8.8 0h1.2m10.8 0h1.2m10.8 0h1.2M428 790h1.2m5.8 0h1.2m0.8 0h1.2m7.8 0h1.2m3.8 0h1.2M430 791h1.2m-0.2 0h1.2m1.8 0h1.2m4.8 0h1.2m1.8 0h1.2m5.8 0h1.2M432 792h1.2m1.8 0h1.2m4.8 0h1.2m8.8 0h1.2M418 793h1.2m1.8 0h1.2m27.8 0h1.2M433 794h1.2m-0.2 0h1.2m2.8 0h1.2m0.8 0h1.2m2.8 0h1.2m12.8 0h1.2"/>
<path stroke="#1e1ee6" stroke-width="1.3" d="M591 641h1.3m-0.3 0h1.3m-0.3 0h1.3m4.7 0h1.3m-0.3 0h1.3m1.7 0h1.3M591 642h1.3m2.7 0h1.3m1.7 0h1.3m1.7 0h1.3M593 643h1.3m2.7 0h1.3m7.7 0h1.3m20.7 0h1.3m-0.3 0h1.3M588 644h1.3m1.7 0h1.3m2.7 0h1.3m-0.3 0h1.3m-0.3 0h1.3m-0.3 0h1.3m0.7 0h1.3m3.7 0h1.3m8.7 0h1.3m0.7 0h1.3M589 645h1.3m3.7 0h1.3m1.7 0h1.3m4.7 0h1.3m-0.3 0h1.3m-0.3 0h1.3m0.7 0h1.3m3.7 0h1.3m1.7 0h1.3m4.7 0h1.3M587 646h1.3m0.7 0h1.3m-0.3 0h1.3m-0.3 0h1.3m2.7 0h1.3m0.7 0h1.3m-0.3 0h1.3m8.7 0h1.3m1.7 0h1.3m0.7 0h1.3M586 647h1.3m-0.3 0h1.3m3.7 0h1.3m2.7 0h1.3m6.7 0h1.3m3.7 0h1.3m3.7 0h1.3m2.7 0h1.3m0.7 0h1.3m-0.3 0h1.3m15.7 0h1.3M588 648h1.3m0.7 0h1.3m0.7 0h1.3m3.7 0h1.3m0.7 0h1.3m1.7 0h1.3m-0.3 0h1.3m1.7 0h1.3m1.7 0h1.3m2.7 0h1.3M586 649h1.3m2.7 0h1.3m0.7 0h1.3m0.7 0h1.3m-0.3 0h1.3m-0.3 0h1.3m7.7 0h1.3m9.7 0h1.3m0.7 0h1.3m-0.3 0h1.3M582 650h1.3m-0.3 0h1.3m-0.3 0h1.3m2.7 0h1.3m5.7 0h1.3m4.7 0h1.3m0.7 0h1.3m-0.3 0h1.3m15.7 0h1.3m0.7 0h1.3M581 651h1.3m6.7 0h1.3m1.7 0h1.3m-0.3 0h1.3m-0.3 0h1.3m0.7 0h1.3m1.7 0h1.3m25.7 0h1.3M584 652h1.3m0.7 0h1.3m2.7 0h1.3m0.7 0h1.3m0.7 0h1.3m2.7 0h1.3m-0.3 0h1.3m0.7 0h1.3m-0.3 0h1.3m4.7 0h1.3m2.7 0h1.3m-0.3 0h1.3m8.7 0h1.3M579 653h1.3m1.7 0h1.3m0.7 0h1.3m2.7 0h1.3m1.7 0h1.3m3.7 0h1.3m4.7 0h1.3m0.7 0h1.3M584 654h1.3m2.7 0h1.3m1.7 0h1.3m1.7 0h1.3m5.7 0h1.3m0.7 0h1.3m0.7 0h1.3m9.7 0h1.3M581 655h1.3m-0.3 0h1.3m0.7 0h1.3m14.7 0h1.3m7.7 0h1.3M577 656h1.3m3.7 0h1.3m-0.3 0h1.3m2.7 0h1.3m-0.3 0h1.3m-0.3 0h1.3m-0.3 0h1.3m3.7 0h1.3m0.7 0h1.3m2.7 0h1.3M579 657h1.3m6.7 0h1.3m-0.3 0h1.3m-0.3 0h1.3m-0.3 0h1.3m-0.3 0h1.3m2.7 0h1.3m-0.3 0h1.3m21.7 0h1.3M575 658h1.3m-0.3 0h1.3m-0.3 0h1.3m4.7 0h1.3m-0.3 0h1.3m-0.3 0h1.3m1.7 0h1.3m1.7 0h1.3m21.7 0h1.3m-0.3 0h1.3M573 659h1.3m2.7 0h1.3m0.7 0h1.3m1.7 0h1.3m1.7 0h1.3m-0.3 0h1.3m1.7 0h1.3m1.7 0h1.3m1.7 0h1.3m-0.3 0h1.3m-0.3 0h1.3m13.7 0h1.3m10.7 0h1.3M574 660h1.3m-0.3 0h1.3m1.7 0h1.3m-0.3 0h1.3m1.7 0h1.3m-0.3 0h1.3m1.7 0h1.3m1.7 0h1.3m4.7 0h1.3m-0.3 0h1.3m4.7 0h1.3M574 661h1.3m-0.3 0h1.3m9.7 0h1.3m0.7 0h1.3m2.7 0h1.3m3.7 0h1.3m-0.3 0h1.3m9.7 0h1.3M571 662h1.3m-0.3 0h1.3m0.7 0h1.3m-0.3 0h1.3m-0.3 0h1.3m-0.3 0h1.3m2.7 0h1.3m3.7 0h1.3m0.7 0h1.3m-0.3 0h1.3m1.7 0h1.3m-0.3 0h1.3m5.7 0h1.3m1.7 0h1.3M575 663h1.3m1.7 0h1.3m-0.3 0h1.3m2.7 0h1.3m-0.3 0h1.3m18.7 0h1.3M569 664h1.3m-0.3 0h1.3m-0.3 0h1.3m0.7 0h1.3m1.7 0h1.3m0.7 0h1.3m-0.3 0h1.3m2.7 0h1.3m-0.3 0h1.3m2.7 0h1.3m3.7 0h1.3m-0.3 0h1.3m-0.3 0h1.3M568 665h1.3m-0.3 0h1.3m0.7 0h1.3m0.7 0h1.3m0.7 0h1.3m0.7 0h1.3m2.7 0h1.3m-0.3 0h1.3m3.7 0h1.3m0.7 0h1.3m-0.3 0h1.3m1.7 0h1.3m22.7 0h1.3M567 666h1.3m1.7 0h1.3m-0.3 0h1.3m-0.3 0h1.3m0.7 0h1.3m-0.3 0h1.3m0.7 0h1.3m-0.3 0h1.3m2.7 0h1.3m0.7 0h1.3m0.7 0h1.3m0.7 0h1.3m0.7 0h1.3m-0.3 0h1.3m4.7 0h1.3m8.7 0h1.3M571 667h1.3m0.7 0h1.3m0.7 0h1.3m-0.3 0h1.3m-0.3 0h1.3m-0.3 0h1.3m3.7 0h1.3m1.7 0h1.3m-0.3 0h1.3m-0.3 0h1.3m-0.3 0h1.3m2.7 0h1.3m-0.3 0h1.3m0.7 0h1.3m3.7 0h1.3M565 668h1.3m4.7 0h1.3m1.7 0h1.3m0.7 0h1.3m-0.3 0h1.3m-0.3 0h1.3m-0.3 0h1.3m0.7 0h1.3m-0.3 0h1.3m0.7 0h1.3m0.7 0h1.3m1.7 0h1.3M564 669h1.3m-0.3 0h1.3m3.7 0h1.3m1.7 0h1.3m11.7 0h1.3m4.7 0h1.3m0.7 0h1.3M564 670h1.3m-0.3 0h1.3m-0.3 0h1.3m0.7 0h1.3m0.7 0h1.3m-0.3 0h1.3m-0.3 0h1.3m0.7 0h1.3m2.7 0h1.3m0.7 0h1.3M562 671h1.3m7.7 0h1.3m-0.3 0h1.3m2.7 0h1.3m0.7 0h1.3m-0.3 0h1.3m8.7 0h1.3m4.7 0h1.3M561 672h1.3m2.7 0h1.3m1.7 0h1.3m5.7 0h1.3m2.7 0h1.3m1.7 0h1.3m-0.3 0h1.3m0.7 0h1.3m22.7 0h1.3M560 673h1.3m5.7 0h1.3m-0.3 0h1.3m1.7 0h1.3m1.7 0h1.3m-0.3 0h1.3m3.7 0h1.3m-0.3 0h1.3m-0.3 0h1.3m2.7 0h1.3m1.7 0h1.3m0.7 0h1.3m4.7 0h1.3M563 674h1.3m2.7 0h1.3m1.7 0h1.3m1.7 0h1.3m2.7 0h1.3m6.7 0h1.3m-0.3 0h1.3m2.7 0h1.3m12.7 0h1.3M559 675h1.3m-0.3 0h1.3m4.7 0h1.3m0.7 0h1.3m-0.3 0h1.3m-0.3 0h1.3m-0.3 0h1.3m-0.3 0h1.3m6.7 0h1.3m0.7 0h1.3m0.7 0h1.3m6.7 0h1.3M558 676h1.3m-0.3 0h1.3m-0.3 0h1.3m-0.3 0h1.3m1.7 0h1.3m-0.3 0h1.3m0.7 0h1.3m-0.3 0h1.3m-0.3 0h1.3m-0.3 0h1.3m-0.3 0h1.3m4.7 0h1.3m1.7 0h1.3m-0.3 0h1.3m-0.3 0h1.3m-0.3 0h1.3m5.7 0h1.3m13.7 0h1.3M557 677h1.3m3.7 0h1.3m3.7 0h1.3m-0.3 0h1.3m0.7 0h1.3m0.7 0h1.3m5.7 0h1.3m27.7 0h1.3M560 678h1.3m-0.3 0h1.3m-0.3 0h1.3m-0.3 0h1.3m0.7 0h1.3m-0.3 0h1.3m0.7 0h1.3m-0.3 0h1.3m0.7 0h1.3m-0.3 0h1.3m0.7 0h1.3m4.7 0h1.3m27.7 0h1.3M560 679h1.3m0.7 0h1.3m-0.3 0h1.3m-0.3 0h1.3m-0.3 0h1.3m3.7 0h1.3m0.7 0h1.3m3.7 0h1.3m1.7 0h1.3m5.7 0h1.3m7.7 0h1.3M560 680h1.3m1.7 0h1.3m-0.3 0h1.3m0.7 0h1.3m0.7 0h1.3m2.7 0h1.3m-0.3 0h1.3m-0.3 0h1.3m-0.3 0h1.3m2.7 0h1.3m6.7 0h1.3m3.7 0h1.3M553 681h1.3m-0.3 0h1.3m0.7 0h1.3m1.7 0h1.3m2.7 0h1.3m-0.3 0h1.3m3.7 0h1.3m-0.3 0h1.3m0.7 0h1.3m0.7 0h1.3m-0.3 0h1.3m0.7 0h1.3m1.7 0h1.3m-0.3 0h1.3m7.7 0h1.3M552 682h1.3m2.7 0h1.3m-0.3 0h1.3m0.7 0h1.3m0.7 0h1.3m-0.3 0h1.3m1.7 0h1.3m-0.3 0h1.3m2.7 0h1.3m0.7 0h1.3m-0.3 0h1.3m1.7 0h1.3m-0.3 0h1.3m7.7 0h1.3m0.7 0h1.3M551 683h1.3m3.7 0h1.3m0.7 0h1.3m6.7 0h1.3m1.7 0h1.3m1.7 0h1.3m-0.3 0h1.3m-0.3 0h1.3m4.7 0h1.3m4.7 0h1.3m0.7 0h1.3M550 684h1.3m0.7 0h1.3m0.7 0h1.3m0.7 0h1.3m0.7 0h1.3m-0.3 0h1.3m-0.3 0h1.3m0.7 0h1.3m-0.3 0h1.3m0.7 0h1.3m1.7 0h1.3m-0.3 0h1.3m-0.3 0h1.3m1.7 0h1.3m-0.3 0h1.3m1.7 0h1.3m-0.3 0h1.3m1.7 0h1.3m-0.3 0h1.3M549 685h1.3m3.7 0h1.3m0.7 0h1.3m0.7 0h1.3m-0.3 0h1.3m-0.3 0h1.3m10.7 0h1.3m-0.3 0h1.3m19.7 0h1.3M548 686h1.3m-0.3 0h1.3m-0.3 0h1.3m-0.3 0h1.3m-0.3 0h1.3m0.7 0h1.3m0.7 0h1.3m-0.3 0h1.3m-0.3 0h1.3m-0.3 0h1.3m-0.3 0h1.3m-0.3 0h1.3m-0.3 0h1.3m0.7 0h1.3m1.7 0h1.3m1.7 0h1.3m10.7 0h1.3m3.7 0h1.3m1.7 0h1.3m4.7 0h1.3M547 687h1.3m-0.3 0h1.3m-0.3 0h1.3m-0.3 0h1.3m0.7 0h1.3m-0.3 0h1.3m0.7 0h1.3m-0.3 0h1.3m-0.3 0h1.3m-0.3 0h1.3m-0.3 0h1.3m-0.3 0h1.3m-0.3 0h1.3m-0.3 0h1.3m-0.3 0h1.3m-0.3 0h1.3m0.7 0h1.3m-0.3 0h1.3m-0.3 0h1.3m1.7 0h1.3m0.7 0h1.3m-0.3 0h1.3m4.7 0h1.3m3.7 0h1.3M546 688h1.3m-0.3 0h1.3m0.7 0h1.3m-0.3 0h1.3m-0.3 0h1.3m-0.3 0h1.3m0.7 0h1.3m-0.3 0h1.3m-0.3 0h1.3m-0.3 0h1.3m-0.3 0h1.3m-0.3 0h1.3m-0.3 0h1.3m-0.3 0h1.3m1.7 0h1.3m0.7 0h1.3m0.7 0h1.3m-0.3 0h1.3m-0.3 0h1.3m0.7 0h1.3m0.7 0h1.3m-0.3 0h1.3m13.7 0h1.3m6.7 0h1.3m3.7 0h1.3M544 689h1.3m-0.3 0h1.3m-0.3 0h1.3m-0.3 0h1.3m-0.3 0h1.3m0.7 0h1.3m-0.3 0h1.3m-0.3 0h1.3m-0.3 0h1.3m-0.3 0h1.3m-0.3 0h1.3m1.7 0h1.3m-0.3 0h1.3m-0.3 0h1.3m-0.3 0h1.3m-0.3 0h1.3m-0.3 0h1.3m-0.3 0h1.3m-0.3 0h1.3m-0.3 0h1.3m-0.3 0h1.3m-0.3 0h1.3m-0.3 0h1.3m1.7 0h1.3m-0.3 0h1.3m-0.3 0h1.3m0.7 0h1.3m-0.3 0h1.3m-0.3 0h1.3m0.7 0h1.3m1.7 0h1.3m-0.3 0h1.3m6.7 0h1.3m-0.3 0h1.3M543 690h1.3m-0.3 0h1.3m-0.3 0h1.3m-0.3 0h1.3m-0.3 0h1.3m0.7 0h1.3m1.7 0h1.3m-0.3 0h1.3m-0.3 0h1.3m-0.3 0h1.3m-0.3 0h1.3m-0.3 0h1.3m-0.3 0h1.3m-0.3 0h1.3m0.7 0h1.3m-0.3 0h1.3m-0.3 0h1.3m1.7 0h1.3m-0.3 0h1.3m3.7 0h1.3m-0.3 0h1.3m2.7 0h1.3m0.7 0h1.3m-0.3 0h1.3M543 691h1.3m-0.3 0h1.3m-0.3 0h1.3m-0.3 0h1.3m0.7 0h1.3m-0.3 0h1.3m-0.3 0h1.3m-0.3 0h1.3m-0.3 0h1.3m-0.3 0h1.3m0.7 0h1.3m0.7 0h1.3m-0.3 0h1.3m-0.3 0h1.3m0.7 0h1.3m-0.3 0h1.3m-0.3 0h1.3m1.7 0h1.3m-0.3 0h1.3m-0.3 0h1.3m-0.3 0h1.3m-0.3 0h1.3m-0.3 0h1.3m-0.3 0h1.3m0.7 0h1.3m4.7 0h1.3m0.7 0h1.3m8.7 0h1.3M542 692h1.3m-0.3 0h1.3m-0.3 0h1.3m-0.3 0h1.3m-0.3 0h1.3m-0.3 0h1.3m-0.3 0h1.3m0.7 0h1.3m-0.3 0h1.3m-0.3 0h1.3m-0.3 0h1.3m-0.3 0h1.3m-0.3 0h1.3m-0.3 0h1.3m-0.3 0h1.3m0.7 0h1.3m-0.3 0h1.3m-0.3 0h1.3m0.7 0h1.3m0.7 0h1.3m0.7 0h1.3m0.7 0h1.3m-0.3 0h1.3m0.7 0h1.3m-0.3 0h1.3m0.7 0h1.3M540 693h1.3m-0.3 0h1.3m-0.3 0h1.3m-0.3 0h1.3m-0.3 0h1.3m-0.3 0h1.3m-0.3 0h1.3m-0.3 0h1.3m-0.3 0h1.3m-0.3 0h1.3m-0.3 0h1.3m-0.3 0h1.3m-0.3 0h1.3m-0.3 0h1.3m-0.3 0h1.3m0.7 0h1.3m0.7 0h1.3m-0.3 0h1.3m0.7 0h1.3m-0.3 0h1.3m0.7 0h1.3m0.7 0h1.3m-0.3 0h1.3m-0.3 0h1.3m-0.3 0h1.3m0.7 0h1.3m-0.3 0h1.3m-0.3 0h1.3m0.7 0h1.3m1.7 0h1.3m0.7 0h1.3m6.7 0h1.3m0.7 0h1.3m3.7 0h1.3M539 694h1.3m0.7 0h1.3m-0.3 0h1.3m0.7 0h1.3m-0.3 0h1.3m-0.3 0h1.3m-0.3 0h1.3m-0.3 0h1.3m-0.3 0h1.3m-0.3 0h1.3m-0.3 0h1.3m-0.3 0h1.3m-0.3 0h1.3m-0.3 0h1.3m-0.3 0h1.3m-0.3 0h1.3m0.7 0h1.3m-0.3 0h1.3m-0.3 0h1.3m-0.3 0h1.3m-0.3 0h1.3m-0.3 0h1.3m-0.3 0h1.3m-0.3 0h1.3m-0.3 0h1.3m4.7 0h1.3m15.7 0h1.3M538 695h1.3m-0.3 0h1.3m-0.3 0h1.3m-0.3 0h1.3m-0.3 0h1.3m-0.3 0h1.3m-0.3 0h1.3m-0.3 0h1.3m-0.3 0h1.3m0.7 0h1.3m-0.3 0h1.3m-0.3 0h1.3m-0.3 0h1.3m-0.3 0h1.3m-0.3 0h1.3m-0.3 0h1.3m0.7 0h1.3m1.7 0h1.3m-0.3 0h1.3m-0.3 0h1.3m3.7 0h1.3m0.7 0h1.3m-0.3 0h1.3m6.7 0h1.3m0.7 0h1.3m1.7 0h1.3m4.7 0h1.3M537 696h1.3m3.7 0h1.3m-0.3 0h1.3m-0.3 0h1.3m-0.3 0h1.3m-0.3 0h1.3m-0.3 0h1.3m-0.3 0h1.3m-0.3 0h1.3m-0.3 0h1.3m0.7 0h1.3m-0.3 0h1.3m-0.3 0h1.3m-0.3 0h1.3m-0.3 0h1.3m-0.3 0h1.3m-0.3 0h1.3m-0.3 0h1.3m0.7 0h1.3m1.7 0h1.3m-0.3 0h1.3m-0.3 0h1.3m0.7 0h1.3m3.7 0h1.3m1.7 0h1.3m0.7 0h1.3m9.7 0h1.3M536 697h1.3m0.7 0h1.3m-0.3 0h1.3m-0.3 0h1.3m-0.3 0h1.3m-0.3 0h1.3m-0.3 0h1.3m-0.3 0h1.3m-0.3 0h1.3m-0.3 0h1.3m-0.3 0h1.3m-0.3 0h1.3m0.7 0h1.3m-0.3 0h1.3m-0.3 0h1.3m-0.3 0h1.3m-0.3 0h1.3m-0.3 0h1.3m-0.3 0h1.3m-0.3 0h1.3m-0.3 0h1.3m0.7 0h1.3m-0.3 0h1.3m-0.3 0h1.3m0.7 0h1.3m-0.3 0h1.3m1.7 0h1.3m1.7 0h1.3m-0.3 0h1.3m-0.3 0h1.3m-0.3 0h1.3M535 698h1.3m-0.3 0h1.3m-0.3 0h1.3m-0.3 0h1.3m-0.3 0h1.3m-0.3 0h1.3m-0.3 0h1.3m-0.3 0h1.3m-0.3 0h1.3m-0.3 0h1.3m1.7 0h1.3m-0.3 0h1.3m-0.3 0h1.3m-0.3 0h1.3m-0.3 0h1.3m-0.3 0h1.3m0.7 0h1.3m0.7 0h1.3m-0.3 0h1.3m-0.3 0h1.3m1.7 0h1.3m0.7 0h1.3m2.7 0h1.3m1.7 0h1.3m-0.3 0h1.3m0.7 0h1.3m-0.3 0h1.3m1.7 0h1.3m10.7 0h1.3M534 699h1.3m-0.3 0h1.3m-0.3 0h1.3m-0.3 0h1.3m-0.3 0h1.3m-0.3 0h1.3m0.7 0h1.3m0.7 0h1.3m-0.3 0h1.3m-0.3 0h1.3m-0.3 0h1.3m-0.3 0h1.3m-0.3 0h1.3m0.7 0h1.3m1.7 0h1.3m-0.3 0h1.3m-0.3 0h1.3m-0.3 0h1.3m-0.3 0h1.3m0.7 0h1.3m-0.3 0h1.3m-0.3 0h1.3m-0.3 0h1.3m4.7 0h1.3M533 700h1.3m-0.3 0h1.3m-0.3 0h1.3m0.7 0h1.3m-0.3 0h1.3m-0.3 0h1.3m-0.3 0h1.3m0.7 0h1.3m-0.3 0h1.3m-0.3 0h1.3m-0.3 0h1.3m-0.3 0h1.3m1.7 0h1.3m-0.3 0h1.3m-0.3 0h1.3m-0.3 0h1.3m0.7 0h1.3m-0.3 0h1.3m-0.3 0h1.3m-0.3 0h1.3m-0.3 0h1.3m-0.3 0h1.3m0.7 0h1.3m-0.3 0h1.3m3.7 0h1.3m-0.3 0h1.3m0.7 0h1.3m-0.3 0h1.3m2.7 0h1.3m4.7 0h1.3m3.7 0h1.3m-0.3 0h1.3M532 701h1.3m-0.3 0h1.3m-0.3 0h1.3m0.7 0h1.3m-0.3 0h1.3m-0.3 0h1.3m-0.3 0h1.3m-0.3 0h1.3m-0.3 0h1.3m-0.3 0h1.3m-0.3 0h1.3m-0.3 0h1.3m-0.3 0h1.3m-0.3 0h1.3m-0.3 0h1.3m-0.3 0h1.3m-0.3 0h1.3m-0.3 0h1.3m-0.3 0h1.3m1.7 0h1.3m-0.3 0h1.3m-0.3 0h1.3m-0.3 0h1.3m-0.3 0h1.3m0.7 0h1.3m0.7 0h1.3m0.7 0h1.3m1.7 0h1.3m-0.3 0h1.3m-0.3 0h1.3m3.7 0h1.3m-0.3 0h1.3m13.7 0h1.3M532 702h1.3m0.7 0h1.3m-0.3 0h1.3m-0.3 0h1.3m-0.3 0h1.3m-0.3 0h1.3m-0.3 0h1.3m-0.3 0h1.3m0.7 0h1.3m-0.3 0h1.3m0.7 0h1.3m-0.3 0h1.3m-0.3 0h1.3m-0.3 0h1.3m2.7 0h1.3m2.7 0h1.3m3.7 0h1.3m4.7 0h1.3m0.7 0h1.3M531 703h1.3m-0.3 0h1.3m-0.3 0h1.3m-0.3 0h1.3m-0.3 0h1.3m0.7 0h1.3m-0.3 0h1.3m-0.3 0h1.3m-0.3 0h1.3m-0.3 0h1.3m-0.3 0h1.3m0.7 0h1.3m-0.3 0h1.3m-0.3 0h1.3m-0.3 0h1.3m0.7 0h1.3m-0.3 0h1.3m0.7 0h1.3m-0.3 0h1.3m-0.3 0h1.3m0.7 0h1.3m0.7 0h1.3m17.7 0h1.3M531 704h1.3m-0.3 0h1.3m-0.3 0h1.3m-0.3 0h1.3m-0.3 0h1.3m0.7 0h1.3m-0.3 0h1.3m-0.3 0h1.3m-0.3 0h1.3m-0.3 0h1.3m1.7 0h1.3m2.7 0h1.3m0.7 0h1.3m0.7 0h1.3m0.7 0h1.3m-0.3 0h1.3m0.7 0h1.3m-0.3 0h1.3m1.7 0h1.3m1.7 0h1.3m0.7 0h1.3m1.7 0h1.3m0.7 0h1.3m-0.3 0h1.3m10.7 0h1.3M529 705h1.3m-0.3 0h1.3m-0.3 0h1.3m0.7 0h1.3m-0.3 0h1.3m-0.3 0h1.3m0.7 0h1.3m-0.3 0h1.3m-0.3 0h1.3m0.7 0h1.3m-0.3 0h1.3m0.7 0h1.3m0.7 0h1.3m0.7 0h1.3m-0.3 0h1.3m2.7 0h1.3m-0.3 0h1.3m-0.3 0h1.3m1.7 0h1.3m0.7 0h1.3m6.7 0h1.3M530 706h1.3m0.7 0h1.3m-0.3 0h1.3m-0.3 0h1.3m-0.3 0h1.3m-0.3 0h1.3m-0.3 0h1.3m-0.3 0h1.3m-0.3 0h1.3m-0.3 0h1.3m0.7 0h1.3m0.7 0h1.3m-0.3 0h1.3m-0.3 0h1.3m-0.3 0h1.3m-0.3 0h1.3m0.7 0h1.3m1.7 0h1.3m-0.3 0h1.3m-0.3 0h1.3m-0.3 0h1.3m-0.3 0h1.3m1.7 0h1.3m0.7 0h1.3M528 707h1.3m-0.3 0h1.3m-0.3 0h1.3m-0.3 0h1.3m-0.3 0h1.3m-0.3 0h1.3m-0.3 0h1.3m-0.3 0h1.3m-0.3 0h1.3m-0.3 0h1.3m-0.3 0h1.3m0.7 0h1.3m3.7 0h1.3m0.7 0h1.3m-0.3 0h1.3m-0.3 0h1.3m-0.3 0h1.3m0.7 0h1.3m0.7 0h1.3m-0.3 0h1.3M527 708h1.3m-0.3 0h1.3m-0.3 0h1.3m-0.3 0h1.3m0.7 0h1.3m0.7 0h1.3m-0.3 0h1.3m-0.3 0h1.3m-0.3 0h1.3m0.7 0h1.3m-0.3 0h1.3m-0.3 0h1.3m-0.3 0h1.3m-0.3 0h1.3m-0.3 0h1.3m-0.3 0h1.3m-0.3 0h1.3m-0.3 0h1.3m2.7 0h1.3m1.7 0h1.3m-0.3 0h1.3m-0.3 0h1.3m-0.3 0h1.3m-0.3 0h1.3m1.7 0h1.3M526 709h1.3m2.7 0h1.3m-0.3 0h1.3m-0.3 0h1.3m-0.3 0h1.3m0.7 0h1.3m0.7 0h1.3m-0.3 0h1.3m-0.3 0h1.3m-0.3 0h1.3m-0.3 0h1.3m-0.3 0h1.3m-0.3 0h1.3m-0.3 0h1.3m-0.3 0h1.3m0.7 0h1.3m-0.3 0h1.3m0.7 0h1.3m3.7 0h1.3m3.7 0h1.3m7.7 0h1.3m7.7 0h1.3M525 710h1.3m-0.3 0h1.3m-0.3 0h1.3m-0.3 0h1.3m-0.3 0h1.3m-0.3 0h1.3m-0.3 0h1.3m-0.3 0h1.3m0.7 0h1.3m0.7 0h1.3m-0.3 0h1.3m-0.3 0h1.3m2.7 0h1.3m0.7 0h1.3m0.7 0h1.3m1.7 0h1.3m1.7 0h1.3m-0.3 0h1.3m1.7 0h1.3m-0.3 0h1.3m1.7 0h1.3m-0.3 0h1.3M524 711h1.3m-0.3 0h1.3m-0.3 0h1.3m-0.3 0h1.3m-0.3 0h1.3m-0.3 0h1.3m-0.3 0h1.3m0.7 0h1.3m-0.3 0h1.3m-0.3 0h1.3m-0.3 0h1.3m-0.3 0h1.3m-0.3 0h1.3m-0.3 0h1.3m-0.3 0h1.3m2.7 0h1.3m3.7 0h1.3m-0.3 0h1.3m1.7 0h1.3m1.7 0h1.3m-0.3 0h1.3m1.7 0h1.3M524 712h1.3m-0.3 0h1.3m-0.3 0h1.3m0.7 0h1.3m0.7 0h1.3m-0.3 0h1.3m1.7 0h1.3m-0.3 0h1.3m0.7 0h1.3m0.7 0h1.3m-0.3 0h1.3m-0.3 0h1.3m-0.3 0h1.3m-0.3 0h1.3m0.7 0h1.3m-0.3 0h1.3m-0.3 0h1.3m0.7 0h1.3m5.7 0h1.3m0.7 0h1.3m1.7 0h1.3m2.7 0h1.3M523 713h1.3m-0.3 0h1.3m-0.3 0h1.3m-0.3 0h1.3m-0.3 0h1.3m-0.3 0h1.3m-0.3 0h1.3m-0.3 0h1.3m-0.3 0h1.3m-0.3 0h1.3m-0.3 0h1.3m-0.3 0h1.3m-0.3 0h1.3m-0.3 0h1.3m-0.3 0h1.3m0.7 0h1.3m-0.3 0h1.3m-0.3 0h1.3m0.7 0h1.3m-0.3 0h1.3m-0.3 0h1.3m-0.3 0h1.3m-0.3 0h1.3m0.7 0h1.3m9.7 0h1.3M523 714h1.3m-0.3 0h1.3m0.7 0h1.3m-0.3 0h1.3m-0.3 0h1.3m-0.3 0h1.3m-0.3 0h1.3m-0.3 0h1.3m-0.3 0h1.3m0.7 0h1.3m-0.3 0h1.3m0.7 0h1.3m-0.3 0h1.3m1.7 0h1.3m-0.3 0h1.3m-0.3 0h1.3m0.7 0h1.3m-0.3 0h1.3m0.7 0h1.3m0.7 0h1.3m0.7 0h1.3m4.7 0h1.3m-0.3 0h1.3M522 715h1.3m1.7 0h1.3m-0.3 0h1.3m0.7 0h1.3m0.7 0h1.3m0.7 0h1.3m-0.3 0h1.3m-0.3 0h1.3m-0.3 0h1.3m-0.3 0h1.3m-0.3 0h1.3m-0.3 0h1.3m-0.3 0h1.3m-0.3 0h1.3m-0.3 0h1.3m-0.3 0h1.3m-0.3 0h1.3m1.7 0h1.3m-0.3 0h1.3m2.7 0h1.3m0.7 0h1.3M522 716h1.3m-0.3 0h1.3m-0.3 0h1.3m-0.3 0h1.3m-0.3 0h1.3m-0.3 0h1.3m-0.3 0h1.3m-0.3 0h1.3m-0.3 0h1.3m-0.3 0h1.3m0.7 0h1.3m-0.3 0h1.3m-0.3 0h1.3m-0.3 0h1.3m-0.3 0h1.3m1.7 0h1.3m-0.3 0h1.3m-0.3 0h1.3m-0.3 0h1.3m9.7 0h1.3m0.7 0h1.3M522 717h1.3m-0.3 0h1.3m-0.3 0h1.3m-0.3 0h1.3m-0.3 0h1.3m0.7 0h1.3m-0.3 0h1.3m0.7 0h1.3m-0.3 0h1.3m-0.3 0h1.3m-0.3 0h1.3m-0.3 0h1.3m-0.3 0h1.3m0.7 0h1.3m2.7 0h1.3m-0.3 0h1.3m-0.3 0h1.3m4.7 0h1.3M521 718h1.3m-0.3 0h1.3m-0.3 0h1.3m-0.3 0h1.3m-0.3 0h1.3m-0.3 0h1.3m-0.3 0h1.3m-0.3 0h1.3m-0.3 0h1.3m-0.3 0h1.3m-0.3 0h1.3m0.7 0h1.3m-0.3 0h1.3m1.7 0h1.3m0.7 0h1.3m-0.3 0h1.3m-0.3 0h1.3m-0.3 0h1.3m3.7 0h1.3m3.7 0h1.3m1.7 0h1.3M520 719h1.3m-0.3 0h1.3m-0.3 0h1.3m-0.3 0h1.3m-0.3 0h1.3m-0.3 0h1.3m-0.3 0h1.3m-0.3 0h1.3m-0.3 0h1.3m-0.3 0h1.3m-0.3 0h1.3m-0.3 0h1.3m-0.3 0h1.3m-0.3 0h1.3m-0.3 0h1.3m0.7 0h1.3m0.7 0h1.3m0.7 0h1.3m-0.3 0h1.3m2.7 0h1.3m0.7 0h1.3M519 720h1.3m-0.3 0h1.3m-0.3 0h1.3m-0.3 0h1.3m-0.3 0h1.3m-0.3 0h1.3m-0.3 0h1.3m-0.3 0h1.3m-0.3 0h1.3m-0.3 0h1.3m-0.3 0h1.3m-0.3 0h1.3m1.7 0h1.3m-0.3 0h1.3m-0.3 0h1.3m0.7 0h1.3m2.7 0h1.3m3.7 0h1.3m-0.3 0h1.3m3.7 0h1.3m3.7 0h1.3M518 721h1.3m-0.3 0h1.3m-0.3 0h1.3m-0.3 0h1.3m-0.3 0h1.3m-0.3 0h1.3m-0.3 0h1.3m-0.3 0h1.3m0.7 0h1.3m-0.3 0h1.3m0.7 0h1.3m-0.3 0h1.3m-0.3 0h1.3m-0.3 0h1.3m-0.3 0h1.3m-0.3 0h1.3m-0.3 0h1.3m-0.3 0h1.3m2.7 0h1.3m0.7 0h1.3m-0.3 0h1.3m15.7 0h1.3M518 722h1.3m-0.3 0h1.3m-0.3 0h1.3m-0.3 0h1.3m-0.3 0h1.3m-0.3 0h1.3m-0.3 0h1.3m-0.3 0h1.3m-0.3 0h1.3m-0.3 0h1.3m1.7 0h1.3m-0.3 0h1.3m-0.3 0h1.3m-0.3 0h1.3m-0.3 0h1.3m-0.3 0h1.3m1.7 0h1.3m-0.3 0h1.3m-0.3 0h1.3m-0.3 0h1.3m-0.3 0h1.3m4.7 0h1.3M517 723h1.3m-0.3 0h1.3m-0.3 0h1.3m-0.3 0h1.3m-0.3 0h1.3m0.7 0h1.3m0.7 0h1.3m-0.3 0h1.3m0.7 0h1.3m-0.3 0h1.3m-0.3 0h1.3m-0.3 0h1.3m-0.3 0h1.3m0.7 0h1.3m0.7 0h1.3m1.7 0h1.3m6.7 0h1.3m6.7 0h1.3M518 724h1.3m-0.3 0h1.3m-0.3 0h1.3m-0.3 0h1.3m-0.3 0h1.3m-0.3 0h1.3m-0.3 0h1.3m0.7 0h1.3m-0.3 0h1.3m-0.3 0h1.3m-0.3 0h1.3m-0.3 0h1.3m0.7 0h1.3m-0.3 0h1.3m-0.3 0h1.3m1.7 0h1.3m-0.3 0h1.3m0.7 0h1.3m-0.3 0h1.3m1.7 0h1.3M516 725h1.3m-0.3 0h1.3m-0.3 0h1.3m0.7 0h1.3m-0.3 0h1.3m-0.3 0h1.3m-0.3 0h1.3m-0.3 0h1.3m-0.3 0h1.3m-0.3 0h1.3m-0.3 0h1.3m-0.3 0h1.3m-0.3 0h1.3m-0.3 0h1.3m-0.3 0h1.3m1.7 0h1.3m2.7 0h1.3m-0.3 0h1.3m0.7 0h1.3m3.7 0h1.3M516 726h1.3m-0.3 0h1.3m-0.3 0h1.3m-0.3 0h1.3m-0.3 0h1.3m-0.3 0h1.3m-0.3 0h1.3m-0.3 0h1.3m-0.3 0h1.3m0.7 0h1.3m-0.3 0h1.3m-0.3 0h1.3m-0.3 0h1.3m-0.3 0h1.3m0.7 0h1.3m1.7 0h1.3m0.7 0h1.3m-0.3 0h1.3m-0.3 0h1.3m1.7 0h1.3M516 727h1.3m-0.3 0h1.3m-0.3 0h1.3m-0.3 0h1.3m-0.3 0h1.3m-0.3 0h1.3m-0.3 0h1.3m-0.3 0h1.3m-0.3 0h1.3m-0.3 0h1.3m-0.3 0h1.3m-0.3 0h1.3m-0.3 0h1.3m0.7 0h1.3m-0.3 0h1.3m-0.3 0h1.3m-0.3 0h1.3m0.7 0h1.3m-0.3 0h1.3m1.7 0h1.3m-0.3 0h1.3m-0.3 0h1.3M515 728h1.3m-0.3 0h1.3m-0.3 0h1.3m-0.3 0h1.3m-0.3 0h1.3m-0.3 0h1.3m-0.3 0h1.3m-0.3 0h1.3m-0.3 0h1.3m-0.3 0h1.3m-0.3 0h1.3m0.7 0h1.3m-0.3 0h1.3m-0.3 0h1.3m-0.3 0h1.3m-0.3 0h1.3m-0.3 0h1.3m-0.3 0h1.3m-0.3 0h1.3m0.7 0h1.3m1.7 0h1.3M515 729h1.3m-0.3 0h1.3m-0.3 0h1.3m-0.3 0h1.3m-0.3 0h1.3m-0.3 0h1.3m-0.3 0h1.3m-0.3 0h1.3m-0.3 0h1.3m-0.3 0h1.3m-0.3 0h1.3m0.7 0h1.3m-0.3 0h1.3m-0.3 0h1.3m-0.3 0h1.3m-0.3 0h1.3m-0.3 0h1.3m-0.3 0h1.3m-0.3 0h1.3m-0.3 0h1.3m0.7 0h1.3m2.7 0h1.3M515 730h1.3m-0.3 0h1.3m-0.3 0h1.3m-0.3 0h1.3m-0.3 0h1.3m-0.3 0h1.3m-0.3 0h1.3m-0.3 0h1.3m-0.3 0h1.3m-0.3 0h1.3m-0.3 0h1.3m-0.3 0h1.3m-0.3 0h1.3m-0.3 0h1.3m-0.3 0h1.3m-0.3 0h1.3m-0.3 0h1.3m-0.3 0h1.3m4.7 0h1.3m5.7 0h1.3m5.7 0h1.3M514 731h1.3m-0.3 0h1.3m-0.3 0h1.3m-0.3 0h1.3m-0.3 0h1.3m-0.3 0h1.3m-0.3 0h1.3m-0.3 0h1.3m-0.3 0h1.3m-0.3 0h1.3m-0.3 0h1.3m-0.3 0h1.3m-0.3 0h1.3m-0.3 0h1.3m-0.3 0h1.3m-0.3 0h1.3m0.7 0h1.3m-0.3 0h1.3m0.7 0h1.3m2.7 0h1.3m0.7 0h1.3m-0.3 0h1.3m-0.3 0h1.3M514 732h1.3m-0.3 0h1.3m-0.3 0h1.3m-0.3 0h1.3m-0.3 0h1.3m-0.3 0h1.3m-0.3 0h1.3m-0.3 0h1.3m-0.3 0h1.3m-0.3 0h1.3m-0.3 0h1.3m0.7 0h1.3m0.7 0h1.3m-0.3 0h1.3m1.7 0h1.3m-0.3 0h1.3m1.7 0h1.3m-0.3 0h1.3m-0.3 0h1.3m2.7 0h1.3m0.7 0h1.3M514 733h1.3m-0.3 0h1.3m-0.3 0h1.3m-0.3 0h1.3m-0.3 0h1.3m-0.3 0h1.3m-0.3 0h1.3m-0.3 0h1.3m-0.3 0h1.3m-0.3 0h1.3m-0.3 0h1.3m-0.3 0h1.3m0.7 0h1.3m0.7 0h1.3m-0.3 0h1.3m-0.3 0h1.3m-0.3 0h1.3m-0.3 0h1.3m-0.3 0h1.3M513 734h1.3m-0.3 0h1.3m-0.3 0h1.3m-0.3 0h1.3m-0.3 0h1.3m-0.3 0h1.3m-0.3 0h1.3m-0.3 0h1.3m-0.3 0h1.3m-0.3 0h1.3m-0.3 0h1.3m-0.3 0h1.3m-0.3 0h1.3m-0.3 0h1.3m-0.3 0h1.3m-0.3 0h1.3m0.7 0h1.3m4.7 0h1.3m-0.3 0h1.3m0.7 0h1.3m2.7 0h1.3M513 735h1.3m-0.3 0h1.3m-0.3 0h1.3m-0.3 0h1.3m-0.3 0h1.3m-0.3 0h1.3m-0.3 0h1.3m-0.3 0h1.3m-0.3 0h1.3m-0.3 0h1.3m-0.3 0h1.3m-0.3 0h1.3m-0.3 0h1.3m-0.3 0h1.3m-0.3 0h1.3m-0.3 0h1.3m-0.3 0h1.3m0.7 0h1.3m1.7 0h1.3m2.7 0h1.3m2.7 0h1.3M513 736h1.3m-0.3 0h1.3m-0.3 0h1.3m-0.3 0h1.3m-0.3 0h1.3m-0.3 0h1.3m-0.3 0h1.3m-0.3 0h1.3m-0.3 0h1.3m-0.3 0h1.3m-0.3 0h1.3m-0.3 0h1.3m-0.3 0h1.3m-0.3 0h1.3m-0.3 0h1.3m-0.3 0h1.3m-0.3 0h1.3m-0.3 0h1.3m-0.3 0h1.3m3.7 0h1.3M512 737h1.3m-0.3 0h1.3m-0.3 0h1.3m-0.3 0h1.3m-0.3 0h1.3m-0.3 0h1.3m-0.3 0h1.3m-0.3 0h1.3m-0.3 0h1.3m-0.3 0h1.3m-0.3 0h1.3m-0.3 0h1.3m0.7 0h1.3m-0.3 0h1.3m-0.3 0h1.3m0.7 0h1.3m-0.3 0h1.3m0.7 0h1.3m0.7 0h1.3m-0.3 0h1.3m-0.3 0h1.3M512 738h1.3m-0.3 0h1.3m-0.3 0h1.3m0.7 0h1.3m-0.3 0h1.3m0.7 0h1.3m-0.3 0h1.3m-0.3 0h1.3m-0.3 0h1.3m-0.3 0h1.3m-0.3 0h1.3m-0.3 0h1.3m-0.3 0h1.3m-0.3 0h1.3m1.7 0h1.3m1.7 0h1.3m0.7 0h1.3m1.7 0h1.3M511 739h1.3m-0.3 0h1.3m-0.3 0h1.3m-0.3 0h1.3m-0.3 0h1.3m-0.3 0h1.3m-0.3 0h1.3m-0.3 0h1.3m-0.3 0h1.3m-0.3 0h1.3m0.7 0h1.3m-0.3 0h1.3m-0.3 0h1.3m1.7 0h1.3m-0.3 0h1.3m-0.3 0h1.3m5.7 0h1.3m-0.3 0h1.3M511 740h1.3m-0.3 0h1.3m-0.3 0h1.3m-0.3 0h1.3m-0.3 0h1.3m-0.3 0h1.3m-0.3 0h1.3m-0.3 0h1.3m-0.3 0h1.3m-0.3 0h1.3m-0.3 0h1.3m-0.3 0h1.3m-0.3 0h1.3m-0.3 0h1.3m-0.3 0h1.3m-0.3 0h1.3m-0.3 0h1.3m0.7 0h1.3m-0.3 0h1.3M510 741h1.3m-0.3 0h1.3m-0.3 0h1.3m-0.3 0h1.3m-0.3 0h1.3m-0.3 0h1.3m-0.3 0h1.3m0.7 0h1.3m0.7 0h1.3m-0.3 0h1.3m0.7 0h1.3m-0.3 0h1.3m-0.3 0h1.3m-0.3 0h1.3m-0.3 0h1.3m1.7 0h1.3m0.7 0h1.3M510 742h1.3m-0.3 0h1.3m-0.3 0h1.3m-0.3 0h1.3m-0.3 0h1.3m-0.3 0h1.3m-0.3 0h1.3m-0.3 0h1.3m-0.3 0h1.3m-0.3 0h1.3m-0.3 0h1.3m-0.3 0h1.3m-0.3 0h1.3m-0.3 0h1.3m-0.3 0h1.3m1.7 0h1.3M510 743h1.3m-0.3 0h1.3m-0.3 0h1.3m-0.3 0h1.3m-0.3 0h1.3m-0.3 0h1.3m-0.3 0h1.3m-0.3 0h1.3m-0.3 0h1.3m-0.3 0h1.3m-0.3 0h1.3m-0.3 0h1.3m-0.3 0h1.3m-0.3 0h1.3m1.7 0h1.3M509 744h1.3m-0.3 0h1.3m-0.3 0h1.3m-0.3 0h1.3m-0.3 0h1.3m-0.3 0h1.3m-0.3 0h1.3m-0.3 0h1.3m-0.3 0h1.3m-0.3 0h1.3m-0.3 0h1.3m-0.3 0h1.3m-0.3 0h1.3m0.7 0h1.3M509 745h1.3m-0.3 0h1.3m-0.3 0h1.3m-0.3 0h1.3m-0.3 0h1.3m-0.3 0h1.3m-0.3 0h1.3m-0.3 0h1.3m-0.3 0h1.3m-0.3 0h1.3m-0.3 0h1.3m-0.3 0h1.3m0.7 0h1.3m-0.3 0h1.3m-0.3 0h1.3M509 746h1.3m-0.3 0h1.3m-0.3 0h1.3m-0.3 0h1.3m-0.3 0h1.3m-0.3 0h1.3m-0.3 0h1.3m-0.3 0h1.3m-0.3 0h1.3m0.7 0h1.3m-0.3 0h1.3m-0.3 0h1.3m-0.3 0h1.3M508 747h1.3m-0.3 0h1.3m-0.3 0h1.3m-0.3 0h1.3m-0.3 0h1.3m-0.3 0h1.3m-0.3 0h1.3m-0.3 0h1.3m-0.3 0h1.3m0.7 0h1.3m-0.3 0h1.3m-0.3 0h1.3m-0.3 0h1.3m-0.3 0h1.3m-0.3 0h1.3M508 748h1.3m-0.3 0h1.3m-0.3 0h1.3m-0.3 0h1.3m-0.3 0h1.3m-0.3 0h1.3m-0.3 0h1.3m-0.3 0h1.3m-0.3 0h1.3m-0.3 0h1.3m-0.3 0h1.3m-0.3 0h1.3m-0.3 0h1.3m-0.3 0h1.3m-0.3 0h1.3m0.7 0h1.3m-0.3 0h1.3M508 749h1.3m-0.3 0h1.3m-0.3 0h1.3m-0.3 0h1.3m-0.3 0h1.3m-0.3 0h1.3m-0.3 0h1.3m-0.3 0h1.3m-0.3 0h1.3m-0.3 0h1.3m-0.3 0h1.3m2.7 0h1.3M507 750h1.3m-0.3 0h1.3m-0.3 0h1.3m-0.3 0h1.3m-0.3 0h1.3m-0.3 0h1.3m-0.3 0h1.3m-0.3 0h1.3m-0.3 0h1.3m-0.3 0h1.3m-0.3 0h1.3m-0.3 0h1.3M509 751h1.3m1.7 0h1.3m-0.3 0h1.3m-0.3 0h1.3m-0.3 0h1.3m-0.3 0h1.3m2.7 0h1.3"/>
<path stroke="#6868f0" stroke-width="1.2" d="M590 641h1.2m4.8 0h1.2M596 643h1.2M610 644h1.2m20.8 0h1.2M600 645h1.2M587 646h1.2m34.8 0h1.2m4.8 0h1.2m8.8 0h1.2M599 647h1.2m23.8 0h1.2M610 648h1.2m-0.2 0h1.2M599 649h1.2m6.8 0h1.2m24.8 0h1.2M587 650h1.2m1.8 0h1.2M594 651h1.2M583 652h1.2m26.8 0h1.2M581 653h1.2m36.8 0h1.2M579 654h1.2m37.8 0h1.2M603 655h1.2m5.8 0h1.2m4.8 0h1.2M588 656h1.2m41.8 0h1.2M578 657h1.2m2.8 0h1.2m39.8 0h1.2M575 658h1.2m5.8 0h1.2m15.8 0h1.2m29.8 0h1.2M584 659h1.2m16.8 0h1.2M578 660h1.2m1.8 0h1.2m6.8 0h1.2M581 661h1.2m18.8 0h1.2M581 662h1.2m1.8 0h1.2m35.8 0h1.2M590 663h1.2m27.8 0h1.2M576 664h1.2m3.8 0h1.2M568 665h1.2m19.8 0h1.2m10.8 0h1.2M569 666h1.2m1.8 0h1.2m2.8 0h1.2m40.8 0h1.2M586 667h1.2M566 668h1.2m11.8 0h1.2m15.8 0h1.2M566 669h1.2m4.8 0h1.2M568 670h1.2m9.8 0h1.2m3.8 0h1.2m0.8 0h1.2m2.8 0h1.2m0.8 0h1.2m15.8 0h1.2m-0.2 0h1.2M563 671h1.2m1.8 0h1.2M561 672h1.2m21.8 0h1.2M584 673h1.2M570 674h1.2M567 675h1.2m0.8 0h1.2m3.8 0h1.2m11.8 0h1.2M568 676h1.2m9.8 0h1.2m5.8 0h1.2M561 677h1.2m4.8 0h1.2m5.8 0h1.2m4.8 0h1.2m0.8 0h1.2m7.8 0h1.2M560 678h1.2m14.8 0h1.2m24.8 0h1.2M557 679h1.2m1.8 0h1.2m2.8 0h1.2m0.8 0h1.2m2.8 0h1.2m-0.2 0h1.2m2.8 0h1.2m9.8 0h1.2M563 680h1.2m15.8 0h1.2m5.8 0h1.2m11.8 0h1.2M553 681h1.2m2.8 0h1.2m7.8 0h1.2m41.8 0h1.2M553 682h1.2m8.8 0h1.2m7.8 0h1.2m7.8 0h1.2m15.8 0h1.2M562 683h1.2m10.8 0h1.2M551 684h1.2m2.8 0h1.2m7.8 0h1.2m4.8 0h1.2M583 685h1.2M552 686h1.2M555 687h1.2m21.8 0h1.2M546 688h1.2m2.8 0h1.2m18.8 0h1.2M567 689h1.2m2.8 0h1.2M554 690h1.2m13.8 0h1.2M568 691h1.2M546 692h1.2m3.8 0h1.2m24.8 0h1.2M542 693h1.2M541 694h1.2M562 695h1.2M543 696h1.2m28.8 0h1.2M542 697h1.2m10.8 0h1.2M549 698h1.2m5.8 0h1.2m0.8 0h1.2M562 699h1.2m3.8 0h1.2M535 700h1.2m7.8 0h1.2m7.8 0h1.2m2.8 0h1.2M547 701h1.2M552 702h1.2m0.8 0h1.2M531 703h1.2m2.8 0h1.2m11.8 0h1.2m5.8 0h1.2m6.8 0h1.2M532 704h1.2m9.8 0h1.2m-0.2 0h1.2m16.8 0h1.2m10.8 0h1.2M531 705h1.2m11.8 0h1.2M542 706h1.2m7.8 0h1.2M531 708h1.2m2.8 0h1.2m10.8 0h1.2m6.8 0h1.2m-0.2 0h1.2M530 709h1.2m32.8 0h1.2M530 710h1.2m9.8 0h1.2m15.8 0h1.2M530 711h1.2m8.8 0h1.2m12.8 0h1.2m2.8 0h1.2M527 712h1.2m4.8 0h1.2m40.8 0h1.2M529 713h1.2m4.8 0h1.2m5.8 0h1.2m3.8 0h1.2M526 714h1.2m12.8 0h1.2M524 715h1.2m1.8 0h1.2m17.8 0h1.2m14.8 0h1.2M522 716h1.2m5.8 0h1.2M529 717h1.2M526 718h1.2m2.8 0h1.2M523 719h1.2m14.8 0h1.2M524 720h1.2m-0.2 0h1.2M520 721h1.2m-0.2 0h1.2m12.8 0h1.2m6.8 0h1.2m12.8 0h1.2M521 722h1.2m18.8 0h1.2M523 723h1.2m14.8 0h1.2M533 724h1.2M526 725h1.2M524 726h1.2M522 729h1.2M521 730h1.2m1.8 0h1.2m1.8 0h1.2m0.8 0h1.2m-0.2 0h1.2m2.8 0h1.2m19.8 0h1.2M518 731h1.2M516 732h1.2m1.8 0h1.2m4.8 0h1.2m13.8 0h1.2m8.8 0h1.2M523 733h1.2M515 734h1.2m-0.2 0h1.2m0.8 0h1.2m-0.2 0h1.2m18.8 0h1.2M520 735h1.2m0.8 0h1.2M524 736h1.2m5.8 0h1.2M523 737h1.2M513 739h1.2m9.8 0h1.2m0.8 0h1.2M515 740h1.2m1.8 0h1.2"/>
<path stroke="#3a1a50" stroke-width="1.2" d="M508 747h1.2m-0.2 0h1.2m7.8 0h1.2M509 748h1.2m0.8 0h1.2M504 749h1.2m0.8 0h1.2m-0.2 0h1.2m2.8 0h1.2m0.8 0h1.2M505 750h1.2m1.8 0h1.2m3.8 0h1.2m8.8 0h1.2M496 751h1.2m11.8 0h1.2m0.8 0h1.2m-0.2 0h1.2m3.8 0h1.2M505 752h1.2m-0.2 0h1.2m-0.2 0h1.2m-0.2 0h1.2m2.8 0h1.2m4.8 0h1.2M501 753h1.2m4.8 0h1.2m-0.2 0h1.2m0.8 0h1.2m0.8 0h1.2m0.8 0h1.2m-0.2 0h1.2m-0.2 0h1.2m0.8 0h1.2M501 754h1.2m1.8 0h1.2m4.8 0h1.2m-0.2 0h1.2m0.8 0h1.2m-0.2 0h1.2m-0.2 0h1.2m-0.2 0h1.2m0.8 0h1.2M503 755h1.2m1.8 0h1.2m3.8 0h1.2m-0.2 0h1.2m-0.2 0h1.2m-0.2 0h1.2m-0.2 0h1.2m-0.2 0h1.2m-0.2 0h1.2m-0.2 0h1.2M500 756h1.2m3.8 0h1.2m0.8 0h1.2m-0.2 0h1.2m-0.2 0h1.2m-0.2 0h1.2m-0.2 0h1.2m-0.2 0h1.2m0.8 0h1.2m-0.2 0h1.2m-0.2 0h1.2m-0.2 0h1.2m2.8 0h1.2M496 757h1.2m-0.2 0h1.2m5.8 0h1.2m3.8 0h1.2m-0.2 0h1.2m3.8 0h1.2m-0.2 0h1.2m4.8 0h1.2M490 758h1.2m11.8 0h1.2m2.8 0h1.2m2.8 0h1.2m-0.2 0h1.2m-0.2 0h1.2m1.8 0h1.2M501 759h1.2m3.8 0h1.2m1.8 0h1.2m-0.2 0h1.2m-0.2 0h1.2m-0.2 0h1.2m0.8 0h1.2m1.8 0h1.2m2.8 0h1.2M503 760h1.2m0.8 0h1.2m-0.2 0h1.2m-0.2 0h1.2m0.8 0h1.2m-0.2 0h1.2m-0.2 0h1.2m3.8 0h1.2m-0.2 0h1.2m2.8 0h1.2m1.8 0h1.2M497 761h1.2m9.8 0h1.2m1.8 0h1.2m0.8 0h1.2m1.8 0h1.2m2.8 0h1.2M502 762h1.2m1.8 0h1.2m0.8 0h1.2m-0.2 0h1.2m5.8 0h1.2m-0.2 0h1.2M503 763h1.2m3.8 0h1.2m2.8 0h1.2m4.8 0h1.2m2.8 0h1.2M508 764h1.2m-0.2 0h1.2m2.8 0h1.2M500 765h1.2m7.8 0h1.2m2.8 0h1.2M504 767h1.2M508 769h1.2M519 770h1.2M517 771h1.2"/></g>
<path d="M220.4 409.2C225.5 408.0 236.8 408.4 245.0 408.5C253.2 408.6 263.0 409.2 269.4 409.9C275.8 410.6 280.3 411.6 283.4 412.7C286.5 413.8 284.6 414.8 288.1 416.2C291.6 417.6 300.6 419.1 304.5 420.9C308.4 422.6 310.7 424.9 311.5 426.7C312.3 428.4 313.0 429.9 309.1 431.4C305.2 432.9 295.5 434.6 288.1 435.6C280.7 436.6 273.3 437.1 264.7 437.2C256.1 437.3 244.1 436.8 236.7 436.1C229.3 435.5 224.5 435.1 220.4 433.3C216.3 431.5 213.2 428.5 212.2 425.5C211.2 422.5 213.1 418.2 214.5 415.5C215.9 412.8 215.3 410.4 220.4 409.2Z" fill="none" stroke="#3c3cd2" stroke-width="1.4"/>
<path d="M255.0 438.3C253.4 438.5 247.3 438.6 245.3 439.3C243.3 440.0 243.3 440.9 242.8 442.4C242.3 443.9 242.3 446.6 242.3 448.5C242.3 450.4 242.1 451.7 242.8 453.6C243.5 455.5 244.7 457.8 246.3 459.7C247.9 461.6 250.1 463.7 252.5 464.9C254.9 466.1 258.0 466.8 260.7 466.9C263.4 467.0 266.4 466.1 268.8 465.4C271.2 464.7 273.1 463.5 275.0 462.8C276.9 462.1 279.2 461.6 280.1 461.3" fill="none" stroke="#3a90e0" stroke-width="1.3"/>
<path d="M266.0 436.8 L272.9 433.7 L280.1 433.7 L282.1 436.2 L285.2 439.3 L290.8 444.9" fill="none" stroke="#3a90e0" stroke-width="1.3" stroke-linejoin="round"/>
<path d="M246.0 468.5C245.2 467.8 243.1 466.5 240.9 464.5C238.8 462.5 236.2 458.4 233.1 456.6C230.0 454.8 227.3 454.3 222.5 453.9C217.7 453.4 209.0 453.2 204.2 453.9C199.4 454.6 196.2 455.9 193.6 457.9C191.0 459.9 189.5 462.7 188.4 465.8C187.3 468.9 186.7 473.0 187.1 476.3C187.5 479.6 189.0 483.1 191.0 485.5C193.0 487.9 194.5 489.6 198.9 490.7C203.3 491.8 210.7 492.0 217.3 492.0C223.9 492.0 232.2 491.1 238.3 490.7C244.4 490.3 251.5 489.6 254.1 489.4" fill="none" stroke="#555555" stroke-width="1.3"/>
<path d="M185.8 498.6C188.0 496.8 190.2 497.2 196.3 496.8C202.4 496.4 214.6 495.9 222.5 496.0C230.4 496.1 237.9 496.2 243.6 497.3C249.3 498.4 253.0 500.5 256.7 502.5C260.4 504.5 263.8 506.7 265.9 509.1C268.0 511.5 269.3 514.4 269.3 517.0C269.3 519.6 268.0 522.9 265.9 524.9C263.8 526.9 261.7 527.9 256.7 528.8C251.7 529.7 243.6 530.1 235.7 530.1C227.8 530.1 216.8 529.4 209.4 528.8C202.0 528.1 195.2 528.0 191.0 526.2C186.8 524.5 185.8 521.4 184.5 518.3C183.2 515.2 182.9 511.1 183.1 507.8C183.3 504.5 183.6 500.4 185.8 498.6Z" fill="none" stroke="#e8283c" stroke-width="1.4"/>
<text x="212.2" y="402.0" font-size="11.9" fill="#3c3cd2" stroke="#3c3cd2" stroke-width="0.3" textLength="100.4" lengthAdjust="spacingAndGlyphs">300-400(0.66 %)</text>
<text x="270.8" y="457.6" font-size="11.9" fill="#3a90e0" stroke="#3a90e0" stroke-width="0.3" textLength="72.8" lengthAdjust="spacingAndGlyphs">200(1.36 %)</text>
<text x="242.3" y="485.5" font-size="11.9" fill="#555555" stroke="#555555" stroke-width="0.3" textLength="101.1" lengthAdjust="spacingAndGlyphs">100-200(6.12 %)</text>
<text x="183.7" y="543.8" font-size="11.9" fill="#e8283c" stroke="#e8283c" stroke-width="0.3" textLength="159.7" lengthAdjust="spacingAndGlyphs">smaller than100(41.68 %)</text>
<path d="M547.2 411.0C552.4 409.3 562.1 408.5 572.0 408.5C581.9 408.5 600.2 410.0 606.8 411.0C613.4 412.0 609.7 413.7 611.8 414.7C613.9 415.7 615.5 415.9 619.2 417.2C622.9 418.4 630.8 420.5 634.1 422.2C637.4 423.9 638.7 425.5 639.1 427.2C639.5 428.9 640.3 430.7 636.6 432.1C632.9 433.5 624.2 434.9 616.7 435.8C609.2 436.7 601.4 437.7 591.9 437.6C582.4 437.5 567.5 436.2 559.6 435.1C551.7 434.0 548.1 432.4 544.7 430.9C541.3 429.4 539.9 428.0 539.3 425.9C538.7 423.8 539.7 421.0 541.0 418.5C542.3 416.0 542.0 412.7 547.2 411.0Z" fill="none" stroke="#3c3cd2" stroke-width="1.4"/>
<path d="M596.9 435.5C594.9 435.8 589.1 436.9 585.0 437.5C580.9 438.1 574.5 438.1 572.0 438.8C569.5 439.6 570.6 439.8 570.2 442.0C569.8 444.2 568.9 448.7 569.6 452.0C570.3 455.3 572.0 459.6 574.5 461.9C577.0 464.2 580.8 465.0 584.5 465.6C588.2 466.2 593.2 466.0 596.9 465.6C600.6 465.2 605.1 463.5 606.8 463.1" fill="none" stroke="#3a90e0" stroke-width="1.3"/>
<path d="M596.0 435.0 L601.0 433.5 L605.6 433.4 L610.0 434.0 L612.0 437.0 L616.7 444.5" fill="none" stroke="#3a90e0" stroke-width="1.3" stroke-linejoin="round"/>
<path d="M576.2 465.8C574.5 464.9 569.7 462.2 565.7 460.5C561.8 458.8 559.1 456.2 552.5 455.3C545.9 454.4 532.2 454.2 526.3 455.3C520.4 456.4 519.0 459.6 517.0 462.0C515.0 464.4 514.9 467.2 514.5 470.0C514.1 472.8 513.4 475.9 514.5 478.9C515.6 481.9 516.9 485.7 521.0 488.1C525.1 490.5 531.9 492.5 539.4 493.4C546.9 494.3 558.7 493.7 565.7 493.4C572.7 493.1 578.1 492.2 581.4 491.5C584.7 490.8 584.7 489.8 585.4 489.4" fill="none" stroke="#555555" stroke-width="1.3"/>
<path d="M511.8 498.6C514.5 496.6 519.5 496.6 526.3 496.0C533.1 495.4 544.6 495.0 552.5 495.2C560.4 495.4 567.9 496.1 573.6 497.3C579.3 498.5 583.2 500.3 586.7 502.5C590.2 504.7 593.1 507.8 594.6 510.4C596.1 513.0 596.8 515.7 595.9 518.3C595.0 520.9 593.0 524.1 589.3 526.2C585.6 528.3 581.9 530.0 573.6 530.9C565.3 531.8 548.6 531.9 539.4 531.5C530.2 531.1 523.2 530.6 518.4 528.8C513.6 527.0 511.9 524.4 510.5 520.9C509.1 517.4 509.8 511.5 510.0 507.8C510.2 504.1 509.1 500.6 511.8 498.6Z" fill="none" stroke="#e8283c" stroke-width="1.4"/>
<text x="539.8" y="401.8" font-size="11.9" fill="#3c3cd2" stroke="#3c3cd2" stroke-width="0.3" textLength="100.5" lengthAdjust="spacingAndGlyphs">300-400(0.52 %)</text>
<text x="598.1" y="457.7" font-size="11.9" fill="#3a90e0" stroke="#3a90e0" stroke-width="0.3" textLength="72.7" lengthAdjust="spacingAndGlyphs">200(2.07 %)</text>
<text x="570.9" y="485.5" font-size="11.9" fill="#555555" stroke="#555555" stroke-width="0.3" textLength="99.9" lengthAdjust="spacingAndGlyphs">100-200(9.21 %)</text>
<text x="510.5" y="543.8" font-size="11.9" fill="#e8283c" stroke="#e8283c" stroke-width="0.3" textLength="160.3" lengthAdjust="spacingAndGlyphs">smaller than100(41.32 %)</text>
<path d="M178.6 750.6 L196.7 710.7 L199.5 706.5 L268.2 637.8 L319.5 642.2 L255.3 719.3 L234.2 735.0 L207.2 754.7 L190.4 751.8Z" fill="none" stroke="#3a88e8" stroke-width="1.3" stroke-linejoin="round"/>
<path d="M178.0 751.9 L226.6 735.3 L240.4 731.1 L309.8 735.3 L312.6 775.5 L318.1 831.0 L319.5 855.9 L201.6 860.1 L168.3 831.0 L168.3 758.8Z" fill="none" stroke="#5e3c70" stroke-width="1.3" stroke-linejoin="round"/>
<text x="216.9" y="732.0" font-size="11.9" fill="#3a88e8" stroke="#3a88e8" stroke-width="0.3" textLength="126.7" lengthAdjust="spacingAndGlyphs">240-900nm(16.28 %)</text>
<text x="171.5" y="836.8" font-size="11.9" fill="#4e2a62" stroke="#4e2a62" stroke-width="0.3" textLength="172.6" lengthAdjust="spacingAndGlyphs">smaller than 240nm(2.85 %)</text>
<path d="M507.2 751.0 L513.8 734.3 L517.3 723.8 L522.5 715.0 L527.8 707.1 L533.9 700.1 L541.8 692.3 L552.0 682.7 L594.7 636.8 L647.0 641.1 L587.6 710.1 L570.0 726.8 L534.2 753.9 L523.7 750.4Z" fill="none" stroke="#2828e0" stroke-width="1.3" stroke-linejoin="round"/>
<path d="M504.8 751.1 L535.0 740.0 L570.0 725.9 L576.4 724.8 L608.5 726.3 L636.2 734.5 L639.1 758.4 L645.0 828.5 L647.9 854.7 L529.6 860.0 L512.1 846.0 L496.0 828.5 L496.0 770.0Z" fill="none" stroke="#5e3c70" stroke-width="1.3" stroke-linejoin="round"/>
<text x="542.8" y="723.6" font-size="11.9" fill="#2828e0" stroke="#2828e0" stroke-width="0.3" textLength="128.4" lengthAdjust="spacingAndGlyphs">240-900nm(27.55 %)</text>
<text x="498.9" y="843.6" font-size="11.9" fill="#4e2a62" stroke="#4e2a62" stroke-width="0.3" textLength="173.3" lengthAdjust="spacingAndGlyphs">smaller than 240nm(3.35 %)</text>
<path d="M80.6 346.8H344.0V575.3" fill="none" stroke="#333" stroke-width="1.3"/>
<path d="M80.6 346.8V575.3H344.0" fill="none" stroke="#111" stroke-width="1.5"/>
<path d="M102.9 575.3v6M169.9 575.3v6M227.7 575.3v6M285.5 575.3v6M343.3 575.3v6M87.3 575.3v4M119.1 575.3v4M130.5 575.3v4M139.4 575.3v4M145.8 575.3v4M150.4 575.3v4M154.2 575.3v4M157.8 575.3v4M160.4 575.3v4M162.7 575.3v4M164.4 575.3v4M166.2 575.3v4M187.3 575.3v4M197.5 575.3v4M204.7 575.3v4M210.3 575.3v4M214.9 575.3v4M218.7 575.3v4M222.1 575.3v4M225.1 575.3v4M245.1 575.3v4M255.3 575.3v4M262.5 575.3v4M268.1 575.3v4M272.7 575.3v4M276.5 575.3v4M279.9 575.3v4M282.9 575.3v4M302.9 575.3v4M313.1 575.3v4M320.3 575.3v4M325.9 575.3v4M330.5 575.3v4M334.3 575.3v4M337.7 575.3v4M340.7 575.3v4M80.6 554.9h-7M80.6 504.5h-7M80.6 452.7h-7M80.6 400.5h-7M80.6 565.3h-4M80.6 506.0h-4M80.6 507.6h-4M80.6 509.3h-4M80.6 511.5h-4M80.6 513.7h-4M80.6 516.5h-4M80.6 520.3h-4M80.6 524.2h-4M80.6 530.3h-4M80.6 536.9h-4M80.6 545.7h-4M80.6 488.8h-4M80.6 479.7h-4M80.6 473.2h-4M80.6 468.1h-4M80.6 464.0h-4M80.6 460.5h-4M80.6 457.5h-4M80.6 454.8h-4M80.6 436.8h-4M80.6 427.6h-4M80.6 421.1h-4M80.6 416.0h-4M80.6 411.9h-4M80.6 408.4h-4M80.6 405.4h-4M80.6 402.7h-4M80.6 384.7h-4M80.6 375.5h-4M80.6 369.0h-4M80.6 364.0h-4M80.6 359.9h-4M80.6 356.4h-4M80.6 353.3h-4M80.6 350.7h-4" fill="none" stroke="#111" stroke-width="1.1"/>
<path d="M80.6 575.3h-7M80.6 575.3v6" stroke="#111" stroke-width="1.1"/>
<text x="102.1" y="595.8" font-size="12.3" fill="#1e1e1e" text-anchor="middle">0</text>
<text x="169.9" y="595.8" font-size="12.3" fill="#1e1e1e" text-anchor="middle">10<tspan dy="-5.2" font-size="9.9">3</tspan></text>
<text x="227.7" y="595.8" font-size="12.3" fill="#1e1e1e" text-anchor="middle">10<tspan dy="-5.2" font-size="9.9">4</tspan></text>
<text x="285.5" y="595.8" font-size="12.3" fill="#1e1e1e" text-anchor="middle">10<tspan dy="-5.2" font-size="9.9">5</tspan></text>
<text x="343.3" y="595.8" font-size="12.3" fill="#1e1e1e" text-anchor="middle">10<tspan dy="-5.2" font-size="9.9">6</tspan></text>
<text x="192.1" y="610.3" font-size="13.00" fill="#1e1e1e" textLength="41.5" lengthAdjust="spacingAndGlyphs">FITC-A</text>
<text transform="translate(67.7 554.9) rotate(-90) scale(0.72 1)" font-size="14.6" fill="#1e1e1e" text-anchor="middle">0</text>
<g><text transform="translate(67.7 504.5) rotate(-90) scale(0.72 1)" x="-8.1" font-size="14.6" fill="#1e1e1e">10<tspan dy="-5.9" font-size="11.2">4</tspan></text></g>
<g><text transform="translate(67.7 452.7) rotate(-90) scale(0.72 1)" x="-8.1" font-size="14.6" fill="#1e1e1e">10<tspan dy="-5.9" font-size="11.2">5</tspan></text></g>
<g><text transform="translate(67.7 400.5) rotate(-90) scale(0.72 1)" x="-8.1" font-size="14.6" fill="#1e1e1e">10<tspan dy="-5.9" font-size="11.2">6</tspan></text></g>
<g clip-path="url(#ctop)"><text transform="translate(67.7 348.0) rotate(-90) scale(0.72 1)" x="-8.1" font-size="14.6" fill="#1e1e1e">10<tspan dy="-5.9" font-size="11.2">7</tspan></text></g>
<text x="50.3" y="461.2" font-size="13.3" fill="#1e1e1e" text-anchor="middle" transform="rotate(-90 50.3 461.2)" textLength="66.4" lengthAdjust="spacingAndGlyphs">Violet SSC-A</text>
<path d="M407.6 346.8H671.0V575.3" fill="none" stroke="#333" stroke-width="1.3"/>
<path d="M407.6 346.8V575.3H671.0" fill="none" stroke="#111" stroke-width="1.5"/>
<path d="M429.9 575.3v6M496.9 575.3v6M554.7 575.3v6M612.5 575.3v6M670.3 575.3v6M414.3 575.3v4M446.1 575.3v4M457.5 575.3v4M466.4 575.3v4M472.8 575.3v4M477.4 575.3v4M481.2 575.3v4M484.8 575.3v4M487.4 575.3v4M489.7 575.3v4M491.4 575.3v4M493.2 575.3v4M514.3 575.3v4M524.5 575.3v4M531.7 575.3v4M537.3 575.3v4M541.9 575.3v4M545.7 575.3v4M549.1 575.3v4M552.1 575.3v4M572.1 575.3v4M582.3 575.3v4M589.5 575.3v4M595.1 575.3v4M599.7 575.3v4M603.5 575.3v4M606.9 575.3v4M609.9 575.3v4M629.9 575.3v4M640.1 575.3v4M647.3 575.3v4M652.9 575.3v4M657.5 575.3v4M661.3 575.3v4M664.7 575.3v4M667.7 575.3v4M407.6 554.9h-7M407.6 504.5h-7M407.6 452.7h-7M407.6 400.5h-7M407.6 565.3h-4M407.6 506.0h-4M407.6 507.6h-4M407.6 509.3h-4M407.6 511.5h-4M407.6 513.7h-4M407.6 516.5h-4M407.6 520.3h-4M407.6 524.2h-4M407.6 530.3h-4M407.6 536.9h-4M407.6 545.7h-4M407.6 488.8h-4M407.6 479.7h-4M407.6 473.2h-4M407.6 468.1h-4M407.6 464.0h-4M407.6 460.5h-4M407.6 457.5h-4M407.6 454.8h-4M407.6 436.8h-4M407.6 427.6h-4M407.6 421.1h-4M407.6 416.0h-4M407.6 411.9h-4M407.6 408.4h-4M407.6 405.4h-4M407.6 402.7h-4M407.6 384.7h-4M407.6 375.5h-4M407.6 369.0h-4M407.6 364.0h-4M407.6 359.9h-4M407.6 356.4h-4M407.6 353.3h-4M407.6 350.7h-4" fill="none" stroke="#111" stroke-width="1.1"/>
<path d="M407.6 575.3h-7M407.6 575.3v6" stroke="#111" stroke-width="1.1"/>
<text x="429.1" y="595.8" font-size="12.3" fill="#1e1e1e" text-anchor="middle">0</text>
<text x="496.9" y="595.8" font-size="12.3" fill="#1e1e1e" text-anchor="middle">10<tspan dy="-5.2" font-size="9.9">3</tspan></text>
<text x="554.7" y="595.8" font-size="12.3" fill="#1e1e1e" text-anchor="middle">10<tspan dy="-5.2" font-size="9.9">4</tspan></text>
<text x="612.5" y="595.8" font-size="12.3" fill="#1e1e1e" text-anchor="middle">10<tspan dy="-5.2" font-size="9.9">5</tspan></text>
<text x="670.3" y="595.8" font-size="12.3" fill="#1e1e1e" text-anchor="middle">10<tspan dy="-5.2" font-size="9.9">6</tspan></text>
<text x="519.1" y="610.3" font-size="13.00" fill="#1e1e1e" textLength="41.5" lengthAdjust="spacingAndGlyphs">FITC-A</text>
<text transform="translate(394.7 554.9) rotate(-90) scale(0.72 1)" font-size="14.6" fill="#1e1e1e" text-anchor="middle">0</text>
<g><text transform="translate(394.7 504.5) rotate(-90) scale(0.72 1)" x="-8.1" font-size="14.6" fill="#1e1e1e">10<tspan dy="-5.9" font-size="11.2">4</tspan></text></g>
<g><text transform="translate(394.7 452.7) rotate(-90) scale(0.72 1)" x="-8.1" font-size="14.6" fill="#1e1e1e">10<tspan dy="-5.9" font-size="11.2">5</tspan></text></g>
<g><text transform="translate(394.7 400.5) rotate(-90) scale(0.72 1)" x="-8.1" font-size="14.6" fill="#1e1e1e">10<tspan dy="-5.9" font-size="11.2">6</tspan></text></g>
<g clip-path="url(#ctop)"><text transform="translate(394.7 348.0) rotate(-90) scale(0.72 1)" x="-8.1" font-size="14.6" fill="#1e1e1e">10<tspan dy="-5.9" font-size="11.2">7</tspan></text></g>
<text x="377.3" y="461.2" font-size="13.3" fill="#1e1e1e" text-anchor="middle" transform="rotate(-90 377.3 461.2)" textLength="66.4" lengthAdjust="spacingAndGlyphs">Violet SSC-A</text>
<path d="M80.6 633.8H343.2V862.7" fill="none" stroke="#333" stroke-width="1.3"/>
<path d="M80.6 633.8V862.7H343.2" fill="none" stroke="#111" stroke-width="1.5"/>
<path d="M80.6 862.7v6M146.2 862.7v6M211.9 862.7v6M277.6 862.7v6M343.2 862.7v6M100.4 862.7v4M111.9 862.7v4M120.1 862.7v4M126.5 862.7v4M131.7 862.7v4M136.1 862.7v4M139.9 862.7v4M143.2 862.7v4M166.0 862.7v4M177.6 862.7v4M185.8 862.7v4M192.1 862.7v4M197.3 862.7v4M201.7 862.7v4M205.5 862.7v4M208.9 862.7v4M231.7 862.7v4M243.2 862.7v4M251.4 862.7v4M257.8 862.7v4M263.0 862.7v4M267.4 862.7v4M271.2 862.7v4M274.5 862.7v4M297.3 862.7v4M308.9 862.7v4M317.1 862.7v4M323.4 862.7v4M328.6 862.7v4M333.0 862.7v4M336.8 862.7v4M340.2 862.7v4M80.6 840.8h-7M80.6 800.8h-7M80.6 746.0h-7M80.6 690.8h-7M80.6 848.1h-4M80.6 853.1h-4M80.6 859.0h-4M80.6 802.9h-4M80.6 804.9h-4M80.6 806.6h-4M80.6 808.8h-4M80.6 811.3h-4M80.6 814.8h-4M80.6 819.3h-4M80.6 824.2h-4M80.6 829.2h-4M80.6 834.7h-4M80.6 784.2h-4M80.6 774.5h-4M80.6 767.6h-4M80.6 762.3h-4M80.6 757.9h-4M80.6 754.3h-4M80.6 751.1h-4M80.6 748.3h-4M80.6 729.2h-4M80.6 719.5h-4M80.6 712.6h-4M80.6 707.2h-4M80.6 702.9h-4M80.6 699.2h-4M80.6 696.0h-4M80.6 693.2h-4M80.6 674.1h-4M80.6 664.4h-4M80.6 657.5h-4M80.6 652.2h-4M80.6 647.8h-4M80.6 644.1h-4M80.6 640.9h-4M80.6 638.1h-4" fill="none" stroke="#111" stroke-width="1.1"/>
<path d="M80.6 862.7h-7M80.6 862.7v6" stroke="#111" stroke-width="1.1"/>
<text x="80.6" y="883.2" font-size="12.3" fill="#1e1e1e" text-anchor="middle">10<tspan dy="-5.2" font-size="9.9">2</tspan></text>
<text x="146.2" y="883.2" font-size="12.3" fill="#1e1e1e" text-anchor="middle">10<tspan dy="-5.2" font-size="9.9">3</tspan></text>
<text x="211.9" y="883.2" font-size="12.3" fill="#1e1e1e" text-anchor="middle">10<tspan dy="-5.2" font-size="9.9">4</tspan></text>
<text x="277.6" y="883.2" font-size="12.3" fill="#1e1e1e" text-anchor="middle">10<tspan dy="-5.2" font-size="9.9">5</tspan></text>
<text x="343.2" y="883.2" font-size="12.3" fill="#1e1e1e" text-anchor="middle">10<tspan dy="-5.2" font-size="9.9">6</tspan></text>
<text x="191.8" y="897.6" font-size="12.80" fill="#1e1e1e" textLength="41.0" lengthAdjust="spacingAndGlyphs">APC-A</text>
<text transform="translate(67.7 840.8) rotate(-90) scale(0.72 1)" font-size="14.6" fill="#1e1e1e" text-anchor="middle">0</text>
<g><text transform="translate(67.7 800.8) rotate(-90) scale(0.72 1)" x="-8.1" font-size="14.6" fill="#1e1e1e">10<tspan dy="-5.9" font-size="11.2">4</tspan></text></g>
<g><text transform="translate(67.7 746.0) rotate(-90) scale(0.72 1)" x="-8.1" font-size="14.6" fill="#1e1e1e">10<tspan dy="-5.9" font-size="11.2">5</tspan></text></g>
<g><text transform="translate(67.7 690.8) rotate(-90) scale(0.72 1)" x="-8.1" font-size="14.6" fill="#1e1e1e">10<tspan dy="-5.9" font-size="11.2">6</tspan></text></g>
<g clip-path="url(#cbot)"><text transform="translate(67.7 635.8) rotate(-90) scale(0.72 1)" x="-8.1" font-size="14.6" fill="#1e1e1e">10<tspan dy="-5.9" font-size="11.2">7</tspan></text></g>
<text x="50.3" y="750.0" font-size="13.3" fill="#1e1e1e" text-anchor="middle" transform="rotate(-90 50.3 750.0)" textLength="66.4" lengthAdjust="spacingAndGlyphs">Violet SSC-A</text>
<path d="M407.6 633.8H670.2V862.7" fill="none" stroke="#333" stroke-width="1.3"/>
<path d="M407.6 633.8V862.7H670.2" fill="none" stroke="#111" stroke-width="1.5"/>
<path d="M407.6 862.7v6M473.2 862.7v6M538.9 862.7v6M604.6 862.7v6M670.2 862.7v6M427.4 862.7v4M438.9 862.7v4M447.1 862.7v4M453.5 862.7v4M458.7 862.7v4M463.1 862.7v4M466.9 862.7v4M470.2 862.7v4M493.0 862.7v4M504.6 862.7v4M512.8 862.7v4M519.1 862.7v4M524.3 862.7v4M528.7 862.7v4M532.5 862.7v4M535.9 862.7v4M558.7 862.7v4M570.2 862.7v4M578.4 862.7v4M584.8 862.7v4M590.0 862.7v4M594.4 862.7v4M598.2 862.7v4M601.5 862.7v4M624.3 862.7v4M635.9 862.7v4M644.1 862.7v4M650.4 862.7v4M655.6 862.7v4M660.0 862.7v4M663.8 862.7v4M667.2 862.7v4M407.6 840.8h-7M407.6 800.8h-7M407.6 746.0h-7M407.6 690.8h-7M407.6 848.1h-4M407.6 853.1h-4M407.6 859.0h-4M407.6 802.9h-4M407.6 804.9h-4M407.6 806.6h-4M407.6 808.8h-4M407.6 811.3h-4M407.6 814.8h-4M407.6 819.3h-4M407.6 824.2h-4M407.6 829.2h-4M407.6 834.7h-4M407.6 784.2h-4M407.6 774.5h-4M407.6 767.6h-4M407.6 762.3h-4M407.6 757.9h-4M407.6 754.3h-4M407.6 751.1h-4M407.6 748.3h-4M407.6 729.2h-4M407.6 719.5h-4M407.6 712.6h-4M407.6 707.2h-4M407.6 702.9h-4M407.6 699.2h-4M407.6 696.0h-4M407.6 693.2h-4M407.6 674.1h-4M407.6 664.4h-4M407.6 657.5h-4M407.6 652.2h-4M407.6 647.8h-4M407.6 644.1h-4M407.6 640.9h-4M407.6 638.1h-4" fill="none" stroke="#111" stroke-width="1.1"/>
<path d="M407.6 862.7h-7M407.6 862.7v6" stroke="#111" stroke-width="1.1"/>
<text x="407.6" y="883.2" font-size="12.3" fill="#1e1e1e" text-anchor="middle">10<tspan dy="-5.2" font-size="9.9">2</tspan></text>
<text x="473.2" y="883.2" font-size="12.3" fill="#1e1e1e" text-anchor="middle">10<tspan dy="-5.2" font-size="9.9">3</tspan></text>
<text x="538.9" y="883.2" font-size="12.3" fill="#1e1e1e" text-anchor="middle">10<tspan dy="-5.2" font-size="9.9">4</tspan></text>
<text x="604.6" y="883.2" font-size="12.3" fill="#1e1e1e" text-anchor="middle">10<tspan dy="-5.2" font-size="9.9">5</tspan></text>
<text x="670.2" y="883.2" font-size="12.3" fill="#1e1e1e" text-anchor="middle">10<tspan dy="-5.2" font-size="9.9">6</tspan></text>
<text x="518.8" y="897.6" font-size="12.80" fill="#1e1e1e" textLength="41.0" lengthAdjust="spacingAndGlyphs">APC-A</text>
<text transform="translate(394.7 840.8) rotate(-90) scale(0.72 1)" font-size="14.6" fill="#1e1e1e" text-anchor="middle">0</text>
<g><text transform="translate(394.7 800.8) rotate(-90) scale(0.72 1)" x="-8.1" font-size="14.6" fill="#1e1e1e">10<tspan dy="-5.9" font-size="11.2">4</tspan></text></g>
<g><text transform="translate(394.7 746.0) rotate(-90) scale(0.72 1)" x="-8.1" font-size="14.6" fill="#1e1e1e">10<tspan dy="-5.9" font-size="11.2">5</tspan></text></g>
<g><text transform="translate(394.7 690.8) rotate(-90) scale(0.72 1)" x="-8.1" font-size="14.6" fill="#1e1e1e">10<tspan dy="-5.9" font-size="11.2">6</tspan></text></g>
<g clip-path="url(#cbot)"><text transform="translate(394.7 635.8) rotate(-90) scale(0.72 1)" x="-8.1" font-size="14.6" fill="#1e1e1e">10<tspan dy="-5.9" font-size="11.2">7</tspan></text></g>
<text x="377.3" y="750.0" font-size="13.3" fill="#1e1e1e" text-anchor="middle" transform="rotate(-90 377.3 750.0)" textLength="66.4" lengthAdjust="spacingAndGlyphs">Violet SSC-A</text>
<text x="205.3" y="335.7" font-size="20.20" text-anchor="middle" textLength="107.5" lengthAdjust="spacingAndGlyphs">EVs-control</text>
<text x="533.2" y="335.6" font-size="20.20" text-anchor="middle" textLength="88.0" lengthAdjust="spacingAndGlyphs">EVs-TMZ</text>
<text x="39.3" y="314.6" font-size="22.50" text-anchor="end" font-weight="bold">b</text>
<text x="16.8" y="459.5" font-size="20.2" text-anchor="middle" transform="rotate(-90 16.8 459.5)" textLength="81.5" lengthAdjust="spacingAndGlyphs">Anti-CD9</text>
<text x="16.8" y="738.4" font-size="20.2" text-anchor="middle" transform="rotate(-90 16.8 738.4)" textLength="93.6" lengthAdjust="spacingAndGlyphs">Anti-CD63</text>
</svg></body></html>
